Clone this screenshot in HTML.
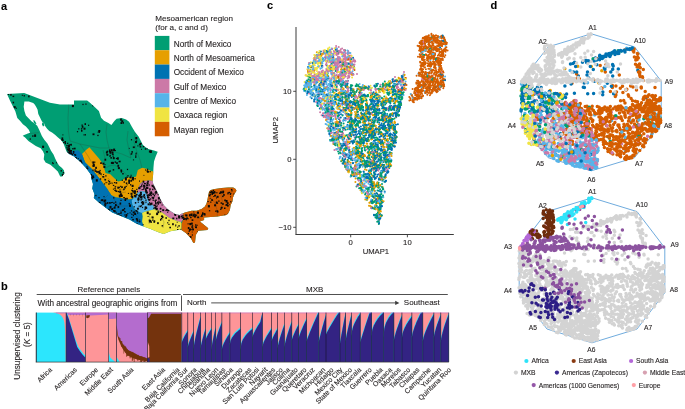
<!DOCTYPE html>
<html><head><meta charset="utf-8"><style>
html,body{margin:0;padding:0;background:#fff;width:685px;height:409px;overflow:hidden}
svg{display:block;will-change:transform}
text{font-family:"Liberation Sans", sans-serif;stroke:#231f20;stroke-width:0.18px;stroke-opacity:0.6}
</style></head><body>
<svg width="685" height="409" viewBox="0 0 685 409">
<text x="1.0" y="9.6" font-size="11" text-anchor="start" font-weight="bold" fill="#000" >a</text>
<text x="267.0" y="9.2" font-size="11" text-anchor="start" font-weight="bold" fill="#000" >c</text>
<text x="490.6" y="9.1" font-size="11" text-anchor="start" font-weight="bold" fill="#000" >d</text>
<text x="1.0" y="290.2" font-size="11" text-anchor="start" font-weight="bold" fill="#000" >b</text>
<text x="155.2" y="20.5" font-size="8.1" text-anchor="start" font-weight="normal" fill="#231f20" >Mesoamerican region</text>
<text x="155.2" y="30.1" font-size="8.1" text-anchor="start" font-weight="normal" fill="#231f20" >(for a, c and d)</text>
<rect x="154.8" y="35.90" width="14.6" height="14.38" fill="#009E73"/>
<text x="173.7" y="46.8" font-size="8.25" text-anchor="start" font-weight="normal" fill="#231f20" >North of Mexico</text>
<rect x="154.8" y="50.23" width="14.6" height="14.38" fill="#E69F00"/>
<text x="173.7" y="61.1" font-size="8.25" text-anchor="start" font-weight="normal" fill="#231f20" >North of Mesoamerica</text>
<rect x="154.8" y="64.56" width="14.6" height="14.38" fill="#0072B2"/>
<text x="173.7" y="75.4" font-size="8.25" text-anchor="start" font-weight="normal" fill="#231f20" >Occident of Mexico</text>
<rect x="154.8" y="78.89" width="14.6" height="14.38" fill="#CC79A7"/>
<text x="173.7" y="89.8" font-size="8.25" text-anchor="start" font-weight="normal" fill="#231f20" >Gulf of Mexico</text>
<rect x="154.8" y="93.22" width="14.6" height="14.38" fill="#56B4E9"/>
<text x="173.7" y="104.1" font-size="8.25" text-anchor="start" font-weight="normal" fill="#231f20" >Centre of Mexico</text>
<rect x="154.8" y="107.55" width="14.6" height="14.38" fill="#F0E442"/>
<text x="173.7" y="118.4" font-size="8.25" text-anchor="start" font-weight="normal" fill="#231f20" >Oaxaca region</text>
<rect x="154.8" y="121.88" width="14.6" height="14.38" fill="#D55E00"/>
<text x="173.7" y="132.7" font-size="8.25" text-anchor="start" font-weight="normal" fill="#231f20" >Mayan region</text>
<line x1="296" y1="27" x2="296" y2="234.6" stroke="#3a3a3a" stroke-width="1"/>
<line x1="295.5" y1="234.5" x2="453.8" y2="234.5" stroke="#3a3a3a" stroke-width="1"/>
<line x1="293.2" y1="91.3" x2="296" y2="91.3" stroke="#3a3a3a" stroke-width="0.9"/>
<text x="291.6" y="94.0" font-size="7.7" text-anchor="end" font-weight="normal" fill="#231f20" >10</text>
<line x1="293.2" y1="159.3" x2="296" y2="159.3" stroke="#3a3a3a" stroke-width="0.9"/>
<text x="291.6" y="162.0" font-size="7.7" text-anchor="end" font-weight="normal" fill="#231f20" >0</text>
<line x1="293.2" y1="227.3" x2="296" y2="227.3" stroke="#3a3a3a" stroke-width="0.9"/>
<text x="291.6" y="230.0" font-size="7.7" text-anchor="end" font-weight="normal" fill="#231f20" >&#8722;10</text>
<line x1="350.7" y1="234.5" x2="350.7" y2="237.3" stroke="#3a3a3a" stroke-width="0.9"/>
<text x="350.7" y="244.9" font-size="7.7" text-anchor="middle" font-weight="normal" fill="#231f20" >0</text>
<line x1="407.4" y1="234.5" x2="407.4" y2="237.3" stroke="#3a3a3a" stroke-width="0.9"/>
<text x="407.4" y="244.9" font-size="7.7" text-anchor="middle" font-weight="normal" fill="#231f20" >10</text>
<text x="375.9" y="253.9" font-size="7.7" text-anchor="middle" font-weight="normal" fill="#231f20" >UMAP1</text>
<text x="0" y="0" font-size="7.7" text-anchor="middle" fill="#231f20" transform="translate(278.0 130.3) rotate(-90)">UMAP2</text>
<defs><clipPath id="mx"><path d="M7.0,93.9 L24.2,93.1 L49.9,102.7 L60.0,104.5 L74.0,104.5 L74.0,100.6 L87.1,100.6 L89.4,102.3 L95.2,107.5 L98.9,111.1 L101.1,117.7 L104.0,120.7 L108.4,122.9 L111.4,125.1 L114.4,121.0 L116.6,118.8 L121.7,118.1 L126.1,119.5 L129.1,121.7 L132.0,126.9 L135.0,132.0 L138.6,136.4 L140.8,140.8 L143.0,145.2 L148.2,148.9 L154.0,150.4 L157.7,151.8 L155.5,157.0 L154.0,161.4 L153.5,167.3 L153.1,175.0 L152.5,179.9 L153.1,183.6 L155.6,188.4 L158.0,193.3 L160.5,199.4 L164.1,205.6 L167.8,209.2 L171.5,211.7 L175.0,214.1 L179.9,215.0 L180.8,214.1 L185.0,212.4 L191.6,210.8 L196.6,210.8 L201.6,209.1 L204.9,206.6 L206.6,203.3 L207.4,200.0 L208.3,195.0 L209.1,191.6 L210.7,190.0 L214.9,189.1 L221.6,188.0 L228.2,187.5 L233.2,187.5 L235.7,189.1 L236.5,190.8 L234.9,193.3 L233.2,196.6 L232.4,201.6 L230.7,204.9 L229.9,209.9 L228.2,213.3 L226.5,214.9 L217.4,216.6 L204.1,217.4 L204.1,219.9 L199.9,221.6 L208.3,228.2 L207.4,229.9 L198.3,230.7 L195.8,234.9 L195.0,242.4 L193.3,242.9 L190.9,238.2 L185.8,233.0 L180.7,229.6 L170.4,231.3 L163.6,233.9 L158.4,232.2 L149.9,228.8 L143.0,226.2 L136.2,223.6 L129.4,219.4 L120.8,215.9 L112.2,212.5 L105.4,207.4 L98.6,202.2 L93.8,198.0 L94.5,194.3 L92.3,188.4 L93.0,184.0 L91.6,179.6 L90.8,174.5 L86.4,168.6 L80.5,162.0 L73.7,156.3 L69.5,154.3 L66.5,151.5 L65.0,147.5 L63.5,143.5 L61.0,140.0 L58.0,137.5 L55.0,134.8 L52.0,132.5 L49.3,130.9 L47.1,128.7 L44.9,125.8 L44.2,123.6 L42.0,121.4 L40.5,118.5 L38.3,114.1 L37.6,109.7 L36.1,106.7 L34.7,104.5 L33.2,103.1 L28.8,101.6 L24.4,101.6 L23.7,106.7 L24.4,111.1 L25.9,115.5 L28.8,118.5 L31.7,121.4 L34.7,123.6 L37.2,125.8 L38.3,128.0 L39.5,130.5 L41.9,136.1 L44.3,139.8 L47.4,143.4 L49.2,147.1 L51.0,150.8 L53.5,154.4 L55.3,158.7 L57.2,162.4 L59.0,165.4 L62.0,167.9 L63.9,170.3 L64.5,173.4 L62.0,176.4 L60.2,176.4 L57.8,171.5 L54.1,167.9 L50.4,164.8 L45.6,162.4 L43.7,159.3 L44.3,154.4 L43.1,151.4 L40.7,148.3 L35.8,145.9 L32.1,143.4 L28.4,141.0 L25.1,137.5 L22.7,135.7 L24.2,134.9 L27.9,133.5 L30.1,132.7 L28.8,129.8 L25.9,126.5 L22.9,124.3 L20.0,120.7 L17.3,118.1 L15.4,111.5 L13.2,107.1 L10.3,101.2 Z"/></clipPath></defs>
<path d="M7.0,93.9 L24.2,93.1 L49.9,102.7 L60.0,104.5 L74.0,104.5 L74.0,100.6 L87.1,100.6 L89.4,102.3 L95.2,107.5 L98.9,111.1 L101.1,117.7 L104.0,120.7 L108.4,122.9 L111.4,125.1 L114.4,121.0 L116.6,118.8 L121.7,118.1 L126.1,119.5 L129.1,121.7 L132.0,126.9 L135.0,132.0 L138.6,136.4 L140.8,140.8 L143.0,145.2 L148.2,148.9 L154.0,150.4 L157.7,151.8 L155.5,157.0 L154.0,161.4 L153.5,167.3 L153.1,175.0 L152.5,179.9 L153.1,183.6 L155.6,188.4 L158.0,193.3 L160.5,199.4 L164.1,205.6 L167.8,209.2 L171.5,211.7 L175.0,214.1 L179.9,215.0 L180.8,214.1 L185.0,212.4 L191.6,210.8 L196.6,210.8 L201.6,209.1 L204.9,206.6 L206.6,203.3 L207.4,200.0 L208.3,195.0 L209.1,191.6 L210.7,190.0 L214.9,189.1 L221.6,188.0 L228.2,187.5 L233.2,187.5 L235.7,189.1 L236.5,190.8 L234.9,193.3 L233.2,196.6 L232.4,201.6 L230.7,204.9 L229.9,209.9 L228.2,213.3 L226.5,214.9 L217.4,216.6 L204.1,217.4 L204.1,219.9 L199.9,221.6 L208.3,228.2 L207.4,229.9 L198.3,230.7 L195.8,234.9 L195.0,242.4 L193.3,242.9 L190.9,238.2 L185.8,233.0 L180.7,229.6 L170.4,231.3 L163.6,233.9 L158.4,232.2 L149.9,228.8 L143.0,226.2 L136.2,223.6 L129.4,219.4 L120.8,215.9 L112.2,212.5 L105.4,207.4 L98.6,202.2 L93.8,198.0 L94.5,194.3 L92.3,188.4 L93.0,184.0 L91.6,179.6 L90.8,174.5 L86.4,168.6 L80.5,162.0 L73.7,156.3 L69.5,154.3 L66.5,151.5 L65.0,147.5 L63.5,143.5 L61.0,140.0 L58.0,137.5 L55.0,134.8 L52.0,132.5 L49.3,130.9 L47.1,128.7 L44.9,125.8 L44.2,123.6 L42.0,121.4 L40.5,118.5 L38.3,114.1 L37.6,109.7 L36.1,106.7 L34.7,104.5 L33.2,103.1 L28.8,101.6 L24.4,101.6 L23.7,106.7 L24.4,111.1 L25.9,115.5 L28.8,118.5 L31.7,121.4 L34.7,123.6 L37.2,125.8 L38.3,128.0 L39.5,130.5 L41.9,136.1 L44.3,139.8 L47.4,143.4 L49.2,147.1 L51.0,150.8 L53.5,154.4 L55.3,158.7 L57.2,162.4 L59.0,165.4 L62.0,167.9 L63.9,170.3 L64.5,173.4 L62.0,176.4 L60.2,176.4 L57.8,171.5 L54.1,167.9 L50.4,164.8 L45.6,162.4 L43.7,159.3 L44.3,154.4 L43.1,151.4 L40.7,148.3 L35.8,145.9 L32.1,143.4 L28.4,141.0 L25.1,137.5 L22.7,135.7 L24.2,134.9 L27.9,133.5 L30.1,132.7 L28.8,129.8 L25.9,126.5 L22.9,124.3 L20.0,120.7 L17.3,118.1 L15.4,111.5 L13.2,107.1 L10.3,101.2 Z" fill="#009E73"/>
<path d="M33.2,120.2 L34.6,120.6 L36.4,123.6 L35.8,124.6 L33.8,122.2 Z" fill="#009E73"/>
<path d="M42.2,122.6 L43.8,122.8 L44.3,125.8 L43,126.4 L42,124.6 Z" fill="#009E73"/>
<g clip-path="url(#mx)">
<path d="M82.0,154.0 L86.0,150.0 L89.4,147.3 L94.5,153.2 L99.0,158.5 L102.6,163.5 L104.5,169.0 L105.5,173.0 L110.3,174.3 L113.6,177.6 L118.0,181.5 L122.4,180.4 L124.6,178.2 L128.7,177.4 L133.0,177.0 L136.0,176.8 L137.8,169.9 L142.2,167.7 L146.6,168.8 L151.0,171.0 L156.0,172.1 L162.0,172.0 L162.0,181.0 L153.1,181.1 L149.4,180.5 L144.6,181.1 L140.9,182.9 L139.1,186.0 L138.4,188.4 L137.2,193.3 L134.2,197.0 L132.3,198.8 L129.9,199.4 L125.0,199.4 L121.3,198.0 L115.8,197.4 L111.4,195.2 L109.2,191.9 L107.0,188.6 L103.7,184.2 L100.4,179.8 L96.0,174.3 L91.6,168.8 L87.2,164.4 L85.0,162.2 Z" fill="#E69F00"/>
<path d="M64.0,146.0 L65.9,152.5 L72.0,151.0 L78.3,150.3 L82.0,154.0 L85.0,162.2 L87.2,164.4 L91.6,168.8 L96.0,174.3 L100.4,179.8 L103.7,184.2 L107.0,188.6 L109.2,191.9 L111.4,195.2 L115.8,197.4 L121.3,198.0 L125.0,199.4 L129.9,199.4 L132.3,198.8 L134.2,197.0 L131.7,200.7 L132.3,204.3 L134.2,208.6 L138.4,211.7 L142.1,212.9 L142.7,216.6 L142.1,221.5 L143.3,225.0 L143.5,240.0 L90.0,240.0 L80.0,200.0 L68.0,160.0 Z" fill="#0072B2"/>
<path d="M137.2,193.3 L140.9,190.9 L144.6,191.5 L146.4,193.3 L147.6,198.2 L149.4,203.1 L153.1,205.6 L155.0,208.6 L155.0,209.2 L149.4,210.5 L144.6,211.7 L142.1,212.9 L138.4,211.7 L134.2,208.6 L132.3,204.3 L131.7,200.7 L134.2,197.0 Z" fill="#56B4E9"/>
<path d="M162.0,181.0 L153.1,181.1 L149.4,180.5 L144.6,181.1 L140.9,182.9 L139.1,186.0 L138.4,188.4 L137.2,193.3 L140.9,190.9 L144.6,191.5 L146.4,193.3 L147.6,198.2 L149.4,203.1 L153.1,205.6 L155.0,208.6 L155.0,209.2 L159.2,210.5 L164.1,214.1 L169.0,217.8 L175.0,220.2 L181.0,222.3 L183.2,219.3 L183.2,214.2 L183.5,205.0 L175.0,200.0 Z" fill="#CC79A7"/>
<path d="M142.1,212.9 L144.6,211.7 L149.4,210.5 L155.0,209.2 L159.2,210.5 L164.1,214.1 L169.0,217.8 L175.0,220.2 L181.0,222.3 L181.6,223.5 L181.5,229.6 L180.5,240.0 L143.5,240.0 L143.3,225.0 L142.1,221.5 L142.7,216.6 Z" fill="#F0E442"/>
<path d="M183.5,205.0 L183.2,214.2 L183.2,219.3 L181.6,223.5 L181.5,229.6 L180.5,245.0 L250.0,245.0 L250.0,180.0 L190.0,180.0 Z" fill="#D55E00"/>
<polyline points="29.3,133.5 38.9,132.7" fill="none" stroke="#2f3d35" stroke-width="0.4" opacity="0.6"/>
<polyline points="68.8,103.8 68,118 68.5,132 70,141" fill="none" stroke="#2f3d35" stroke-width="0.4" opacity="0.6"/>
<polyline points="107,124 106,132 107,140 109,148" fill="none" stroke="#2f3d35" stroke-width="0.4" opacity="0.6"/>
<polyline points="70,141 80,144 90,146 100,148 109,148" fill="none" stroke="#2f3d35" stroke-width="0.4" opacity="0.6"/>
<polyline points="128,131 127,140 129,150 131,158" fill="none" stroke="#2f3d35" stroke-width="0.4" opacity="0.6"/>
<polyline points="135,132 134,142 137,152 140,160 142,168" fill="none" stroke="#2f3d35" stroke-width="0.4" opacity="0.6"/>
<polyline points="109,148 115,152 122,154 131,158" fill="none" stroke="#2f3d35" stroke-width="0.4" opacity="0.6"/>
<polyline points="80,144 84,150 88,156 92,163" fill="none" stroke="#2f3d35" stroke-width="0.4" opacity="0.6"/>
<polyline points="103,150 105,158 104,165" fill="none" stroke="#2f3d35" stroke-width="0.4" opacity="0.6"/>
<polyline points="104.5,169 109,166 114,165 118,167 124,172 128.7,177.4" fill="none" stroke="#2f3d35" stroke-width="0.4" opacity="0.6"/>
<polyline points="95,176 100,174 104,178 106,182" fill="none" stroke="#2f3d35" stroke-width="0.4" opacity="0.6"/>
<polyline points="108,178 111,182 114,186 119,187 124,191" fill="none" stroke="#2f3d35" stroke-width="0.4" opacity="0.6"/>
<polyline points="116,191 121,193 126,192" fill="none" stroke="#2f3d35" stroke-width="0.4" opacity="0.6"/>
<polyline points="113,197 116,203 121,206 128,206 132,204" fill="none" stroke="#2f3d35" stroke-width="0.4" opacity="0.6"/>
<polyline points="100,201 105,198 108,195" fill="none" stroke="#2f3d35" stroke-width="0.4" opacity="0.6"/>
<polyline points="134,208 136,215 140,220" fill="none" stroke="#2f3d35" stroke-width="0.4" opacity="0.6"/>
<polyline points="148,212 150,218 149,224" fill="none" stroke="#2f3d35" stroke-width="0.4" opacity="0.6"/>
<polyline points="161,216 164,222 163,228" fill="none" stroke="#2f3d35" stroke-width="0.4" opacity="0.6"/>
<polyline points="143,183 145,187 150,186" fill="none" stroke="#2f3d35" stroke-width="0.4" opacity="0.6"/>
<polyline points="139,196 143,199 146,204" fill="none" stroke="#2f3d35" stroke-width="0.4" opacity="0.6"/>
<polyline points="196,212 198,216 201,220" fill="none" stroke="#2f3d35" stroke-width="0.4" opacity="0.6"/>
<polyline points="208.5,196 212,199 215,203 217,210 217.4,216.6" fill="none" stroke="#2f3d35" stroke-width="0.4" opacity="0.6"/>
<polyline points="222,188 221,196 223,203 220,210" fill="none" stroke="#2f3d35" stroke-width="0.4" opacity="0.6"/>
<polyline points="190,225 194,226 198,230" fill="none" stroke="#2f3d35" stroke-width="0.4" opacity="0.6"/>
<rect x="81.7" y="125.7" width="1.7" height="2.1" fill="#0a0a0a"/>
<rect x="78.2" y="128.2" width="1.2" height="1.3" fill="#0a0a0a"/>
<rect x="88.0" y="124.7" width="1.2" height="1.2" fill="#0a0a0a"/>
<rect x="81.2" y="128.2" width="1.2" height="1.0" fill="#0a0a0a"/>
<rect x="84.5" y="123.2" width="1.5" height="1.8" fill="#0a0a0a"/>
<rect x="84.5" y="134.1" width="1.5" height="1.4" fill="#0a0a0a"/>
<rect x="80.9" y="128.4" width="1.0" height="1.1" fill="#0a0a0a"/>
<rect x="81.5" y="124.5" width="1.3" height="1.3" fill="#0a0a0a"/>
<rect x="81.0" y="129.9" width="1.5" height="1.8" fill="#0a0a0a"/>
<rect x="76.9" y="131.0" width="1.2" height="1.3" fill="#0a0a0a"/>
<rect x="83.5" y="127.7" width="2.0" height="2.0" fill="#0a0a0a"/>
<rect x="83.4" y="134.4" width="1.0" height="1.0" fill="#0a0a0a"/>
<rect x="110.4" y="157.0" width="1.5" height="1.7" fill="#0a0a0a"/>
<rect x="110.7" y="149.2" width="2.0" height="2.2" fill="#0a0a0a"/>
<rect x="112.9" y="157.0" width="1.7" height="1.6" fill="#0a0a0a"/>
<rect x="113.1" y="148.6" width="2.0" height="2.5" fill="#0a0a0a"/>
<rect x="111.7" y="151.7" width="1.7" height="1.7" fill="#0a0a0a"/>
<rect x="114.9" y="150.0" width="1.0" height="1.1" fill="#0a0a0a"/>
<rect x="108.9" y="149.4" width="1.5" height="1.8" fill="#0a0a0a"/>
<rect x="111.8" y="153.5" width="1.2" height="1.4" fill="#0a0a0a"/>
<rect x="135.7" y="152.6" width="1.2" height="1.0" fill="#0a0a0a"/>
<rect x="135.0" y="155.4" width="1.5" height="1.3" fill="#0a0a0a"/>
<rect x="131.1" y="153.1" width="1.3" height="1.3" fill="#0a0a0a"/>
<rect x="135.1" y="156.8" width="1.3" height="1.1" fill="#0a0a0a"/>
<rect x="135.4" y="153.4" width="1.2" height="1.2" fill="#0a0a0a"/>
<rect x="130.5" y="153.5" width="1.3" height="1.2" fill="#0a0a0a"/>
<rect x="132.9" y="159.4" width="1.2" height="1.0" fill="#0a0a0a"/>
<rect x="131.4" y="151.1" width="1.5" height="1.7" fill="#0a0a0a"/>
<rect x="98.6" y="131.7" width="1.3" height="1.3" fill="#0a0a0a"/>
<rect x="97.3" y="134.8" width="1.3" height="1.3" fill="#0a0a0a"/>
<rect x="98.3" y="130.0" width="2.0" height="2.0" fill="#0a0a0a"/>
<rect x="92.5" y="133.4" width="2.0" height="1.8" fill="#0a0a0a"/>
<rect x="97.6" y="131.7" width="1.0" height="0.9" fill="#0a0a0a"/>
<rect x="121.3" y="120.3" width="2.0" height="1.8" fill="#0a0a0a"/>
<rect x="122.3" y="122.1" width="1.7" height="1.6" fill="#0a0a0a"/>
<rect x="120.5" y="122.1" width="1.5" height="1.9" fill="#0a0a0a"/>
<rect x="120.1" y="118.5" width="1.7" height="2.2" fill="#0a0a0a"/>
<rect x="139.7" y="142.8" width="2.0" height="1.7" fill="#0a0a0a"/>
<rect x="137.4" y="145.3" width="1.0" height="1.2" fill="#0a0a0a"/>
<rect x="128.8" y="147.9" width="1.0" height="0.8" fill="#0a0a0a"/>
<rect x="132.8" y="146.4" width="2.0" height="1.7" fill="#0a0a0a"/>
<rect x="138.9" y="143.8" width="2.0" height="1.7" fill="#0a0a0a"/>
<rect x="144.8" y="148.2" width="1.5" height="1.5" fill="#0a0a0a"/>
<rect x="149.8" y="150.4" width="2.0" height="2.6" fill="#0a0a0a"/>
<rect x="150.3" y="151.1" width="1.3" height="1.2" fill="#0a0a0a"/>
<rect x="150.4" y="150.6" width="1.2" height="1.4" fill="#0a0a0a"/>
<rect x="148.9" y="150.5" width="1.7" height="2.0" fill="#0a0a0a"/>
<rect x="7.9" y="94.0" width="1.2" height="1.0" fill="#0a0a0a"/>
<rect x="10.2" y="93.8" width="1.5" height="1.9" fill="#0a0a0a"/>
<rect x="12.6" y="101.7" width="1.5" height="1.7" fill="#0a0a0a"/>
<rect x="12.5" y="95.7" width="1.7" height="1.4" fill="#0a0a0a"/>
<rect x="13.7" y="106.1" width="2.0" height="2.1" fill="#0a0a0a"/>
<rect x="15.7" y="107.7" width="1.2" height="1.1" fill="#0a0a0a"/>
<rect x="32.1" y="135.4" width="1.5" height="1.3" fill="#0a0a0a"/>
<rect x="34.1" y="134.4" width="2.0" height="2.5" fill="#0a0a0a"/>
<rect x="29.6" y="138.4" width="1.3" height="1.3" fill="#0a0a0a"/>
<rect x="46.5" y="151.1" width="1.3" height="1.5" fill="#0a0a0a"/>
<rect x="46.2" y="151.3" width="1.2" height="1.1" fill="#0a0a0a"/>
<rect x="42.1" y="145.7" width="2.0" height="2.2" fill="#0a0a0a"/>
<rect x="52.6" y="162.7" width="1.2" height="1.4" fill="#0a0a0a"/>
<rect x="56.0" y="162.3" width="1.0" height="1.0" fill="#0a0a0a"/>
<rect x="52.0" y="162.2" width="1.0" height="1.3" fill="#0a0a0a"/>
<rect x="62.2" y="175.8" width="2.0" height="2.3" fill="#0a0a0a"/>
<rect x="60.6" y="170.0" width="1.3" height="1.6" fill="#0a0a0a"/>
<rect x="61.8" y="173.9" width="2.0" height="2.1" fill="#0a0a0a"/>
<rect x="62.8" y="172.0" width="1.7" height="1.4" fill="#0a0a0a"/>
<rect x="21.8" y="94.7" width="1.0" height="1.2" fill="#0a0a0a"/>
<rect x="23.6" y="95.1" width="1.3" height="1.4" fill="#0a0a0a"/>
<rect x="28.1" y="95.5" width="1.5" height="1.8" fill="#0a0a0a"/>
<rect x="64.8" y="142.7" width="1.3" height="1.6" fill="#0a0a0a"/>
<rect x="62.6" y="139.4" width="1.0" height="1.1" fill="#0a0a0a"/>
<rect x="64.5" y="141.0" width="1.5" height="1.8" fill="#0a0a0a"/>
<rect x="62.4" y="134.4" width="1.0" height="1.0" fill="#0a0a0a"/>
<rect x="62.5" y="139.8" width="1.2" height="1.1" fill="#0a0a0a"/>
<rect x="61.5" y="137.4" width="1.7" height="2.0" fill="#0a0a0a"/>
<rect x="61.3" y="139.0" width="1.7" height="2.0" fill="#0a0a0a"/>
<rect x="62.9" y="141.9" width="1.7" height="1.5" fill="#0a0a0a"/>
<rect x="66.8" y="148.8" width="1.5" height="1.5" fill="#0a0a0a"/>
<rect x="66.5" y="145.2" width="1.0" height="1.1" fill="#0a0a0a"/>
<rect x="66.1" y="147.3" width="1.3" height="1.1" fill="#0a0a0a"/>
<rect x="68.0" y="144.7" width="2.0" height="2.5" fill="#0a0a0a"/>
<rect x="69.5" y="144.0" width="1.3" height="1.2" fill="#0a0a0a"/>
<rect x="67.1" y="142.7" width="1.2" height="1.4" fill="#0a0a0a"/>
<rect x="67.4" y="147.1" width="1.5" height="1.8" fill="#0a0a0a"/>
<rect x="66.4" y="145.1" width="1.2" height="1.2" fill="#0a0a0a"/>
<rect x="67.8" y="146.1" width="1.0" height="0.8" fill="#0a0a0a"/>
<rect x="70.4" y="143.8" width="1.5" height="1.9" fill="#0a0a0a"/>
<rect x="134.5" y="178.1" width="1.2" height="1.3" fill="#0a0a0a"/>
<rect x="132.0" y="176.9" width="2.0" height="2.2" fill="#0a0a0a"/>
<rect x="127.4" y="175.0" width="1.2" height="1.4" fill="#0a0a0a"/>
<rect x="126.4" y="176.5" width="1.3" height="1.5" fill="#0a0a0a"/>
<rect x="132.6" y="178.9" width="1.3" height="1.7" fill="#0a0a0a"/>
<rect x="124.9" y="177.9" width="2.0" height="2.5" fill="#0a0a0a"/>
<rect x="130.5" y="174.7" width="1.2" height="1.1" fill="#0a0a0a"/>
<rect x="131.6" y="178.4" width="1.5" height="1.8" fill="#0a0a0a"/>
<rect x="130.1" y="176.3" width="1.5" height="1.4" fill="#0a0a0a"/>
<rect x="128.2" y="179.5" width="2.0" height="2.5" fill="#0a0a0a"/>
<rect x="145.1" y="169.4" width="1.0" height="1.2" fill="#0a0a0a"/>
<rect x="143.4" y="174.9" width="1.0" height="0.8" fill="#0a0a0a"/>
<rect x="146.9" y="168.7" width="1.3" height="1.2" fill="#0a0a0a"/>
<rect x="146.6" y="170.2" width="1.7" height="1.5" fill="#0a0a0a"/>
<rect x="149.5" y="171.1" width="1.3" height="1.2" fill="#0a0a0a"/>
<rect x="146.9" y="171.0" width="2.0" height="1.7" fill="#0a0a0a"/>
<rect x="139.6" y="196.7" width="1.2" height="1.3" fill="#0a0a0a"/>
<rect x="136.7" y="190.9" width="1.3" height="1.4" fill="#0a0a0a"/>
<rect x="139.9" y="191.8" width="1.7" height="1.8" fill="#0a0a0a"/>
<rect x="144.2" y="194.0" width="1.0" height="0.8" fill="#0a0a0a"/>
<rect x="133.6" y="206.1" width="1.2" height="1.4" fill="#0a0a0a"/>
<rect x="140.4" y="195.7" width="2.0" height="2.5" fill="#0a0a0a"/>
<rect x="145.4" y="201.6" width="1.2" height="1.2" fill="#0a0a0a"/>
<rect x="139.6" y="193.6" width="1.0" height="1.1" fill="#0a0a0a"/>
<rect x="138.5" y="205.7" width="1.0" height="1.0" fill="#0a0a0a"/>
<rect x="140.3" y="191.9" width="1.5" height="1.5" fill="#0a0a0a"/>
<rect x="147.6" y="195.0" width="1.0" height="1.1" fill="#0a0a0a"/>
<rect x="139.6" y="205.5" width="2.0" height="1.7" fill="#0a0a0a"/>
<rect x="140.3" y="199.2" width="1.5" height="1.3" fill="#0a0a0a"/>
<rect x="147.6" y="203.4" width="1.7" height="1.9" fill="#0a0a0a"/>
<rect x="141.8" y="203.4" width="1.5" height="1.3" fill="#0a0a0a"/>
<rect x="142.2" y="202.1" width="2.0" height="2.6" fill="#0a0a0a"/>
<rect x="144.6" y="206.4" width="2.0" height="2.2" fill="#0a0a0a"/>
<rect x="139.6" y="186.2" width="1.0" height="1.2" fill="#0a0a0a"/>
<rect x="139.4" y="194.2" width="1.7" height="2.0" fill="#0a0a0a"/>
<rect x="141.2" y="198.5" width="1.2" height="1.2" fill="#0a0a0a"/>
<rect x="130.7" y="195.8" width="1.0" height="1.2" fill="#0a0a0a"/>
<rect x="140.9" y="201.8" width="1.0" height="1.2" fill="#0a0a0a"/>
<rect x="141.8" y="201.0" width="1.7" height="1.9" fill="#0a0a0a"/>
<rect x="143.3" y="186.7" width="1.0" height="1.1" fill="#0a0a0a"/>
<rect x="134.8" y="202.0" width="1.5" height="1.7" fill="#0a0a0a"/>
<rect x="138.4" y="195.0" width="2.0" height="1.9" fill="#0a0a0a"/>
<rect x="134.9" y="195.4" width="1.0" height="0.9" fill="#0a0a0a"/>
<rect x="138.5" y="194.7" width="1.2" height="1.4" fill="#0a0a0a"/>
<rect x="150.5" y="202.6" width="2.0" height="2.2" fill="#0a0a0a"/>
<rect x="139.4" y="194.9" width="1.2" height="1.2" fill="#0a0a0a"/>
<rect x="137.5" y="198.3" width="2.0" height="1.8" fill="#0a0a0a"/>
<rect x="140.1" y="193.5" width="1.7" height="1.7" fill="#0a0a0a"/>
<rect x="155.3" y="191.2" width="2.0" height="2.5" fill="#0a0a0a"/>
<rect x="140.4" y="193.6" width="1.3" height="1.2" fill="#0a0a0a"/>
<rect x="135.7" y="194.0" width="1.2" height="1.5" fill="#0a0a0a"/>
<rect x="132.8" y="191.7" width="1.0" height="0.9" fill="#0a0a0a"/>
<rect x="149.3" y="203.1" width="2.0" height="2.3" fill="#0a0a0a"/>
<rect x="136.3" y="193.9" width="1.3" height="1.5" fill="#0a0a0a"/>
<rect x="134.0" y="190.6" width="2.0" height="1.7" fill="#0a0a0a"/>
<rect x="134.5" y="195.6" width="2.0" height="1.9" fill="#0a0a0a"/>
<rect x="143.0" y="188.3" width="1.3" height="1.5" fill="#0a0a0a"/>
<rect x="138.2" y="187.2" width="1.7" height="1.9" fill="#0a0a0a"/>
<rect x="144.2" y="196.3" width="1.2" height="1.1" fill="#0a0a0a"/>
<rect x="128.6" y="202.9" width="1.3" height="1.5" fill="#0a0a0a"/>
<rect x="131.2" y="194.8" width="1.2" height="1.4" fill="#0a0a0a"/>
<rect x="145.3" y="199.5" width="1.3" height="1.4" fill="#0a0a0a"/>
<rect x="137.7" y="197.2" width="1.5" height="1.9" fill="#0a0a0a"/>
<rect x="137.7" y="201.6" width="1.2" height="1.2" fill="#0a0a0a"/>
<rect x="142.1" y="206.8" width="1.0" height="1.3" fill="#0a0a0a"/>
<rect x="141.5" y="201.9" width="1.5" height="1.8" fill="#0a0a0a"/>
<rect x="131.4" y="196.3" width="1.7" height="1.8" fill="#0a0a0a"/>
<rect x="152.7" y="197.9" width="1.3" height="1.2" fill="#0a0a0a"/>
<rect x="140.1" y="196.4" width="2.0" height="2.0" fill="#0a0a0a"/>
<rect x="141.2" y="205.1" width="1.0" height="0.9" fill="#0a0a0a"/>
<rect x="142.8" y="196.3" width="1.0" height="1.2" fill="#0a0a0a"/>
<rect x="154.6" y="207.3" width="1.5" height="1.8" fill="#0a0a0a"/>
<rect x="147.2" y="180.7" width="1.7" height="1.4" fill="#0a0a0a"/>
<rect x="152.6" y="199.6" width="1.2" height="1.3" fill="#0a0a0a"/>
<rect x="150.4" y="194.9" width="1.5" height="1.3" fill="#0a0a0a"/>
<rect x="153.8" y="194.9" width="1.3" height="1.6" fill="#0a0a0a"/>
<rect x="154.6" y="193.4" width="1.2" height="1.3" fill="#0a0a0a"/>
<rect x="144.5" y="197.8" width="1.2" height="1.1" fill="#0a0a0a"/>
<rect x="153.8" y="187.6" width="1.5" height="1.7" fill="#0a0a0a"/>
<rect x="146.1" y="184.3" width="2.0" height="1.9" fill="#0a0a0a"/>
<rect x="152.4" y="193.4" width="1.5" height="1.7" fill="#0a0a0a"/>
<rect x="150.4" y="221.3" width="1.5" height="1.6" fill="#0a0a0a"/>
<rect x="150.6" y="191.3" width="1.3" height="1.3" fill="#0a0a0a"/>
<rect x="146.7" y="211.5" width="2.0" height="2.6" fill="#0a0a0a"/>
<rect x="144.4" y="188.1" width="1.3" height="1.1" fill="#0a0a0a"/>
<rect x="154.7" y="189.1" width="1.0" height="1.0" fill="#0a0a0a"/>
<rect x="142.6" y="180.6" width="1.7" height="2.1" fill="#0a0a0a"/>
<rect x="153.2" y="186.3" width="1.5" height="1.8" fill="#0a0a0a"/>
<rect x="147.0" y="196.1" width="1.7" height="2.1" fill="#0a0a0a"/>
<rect x="145.6" y="192.2" width="1.2" height="1.2" fill="#0a0a0a"/>
<rect x="144.1" y="182.9" width="1.5" height="1.4" fill="#0a0a0a"/>
<rect x="152.1" y="188.7" width="1.3" height="1.5" fill="#0a0a0a"/>
<rect x="152.1" y="185.3" width="1.7" height="1.8" fill="#0a0a0a"/>
<rect x="149.1" y="190.3" width="1.3" height="1.3" fill="#0a0a0a"/>
<rect x="145.0" y="188.7" width="1.5" height="1.4" fill="#0a0a0a"/>
<rect x="143.3" y="194.2" width="1.7" height="2.0" fill="#0a0a0a"/>
<rect x="148.4" y="194.3" width="2.0" height="1.7" fill="#0a0a0a"/>
<rect x="151.6" y="196.8" width="1.5" height="1.4" fill="#0a0a0a"/>
<rect x="150.3" y="191.9" width="2.0" height="2.4" fill="#0a0a0a"/>
<rect x="155.3" y="199.5" width="1.5" height="1.4" fill="#0a0a0a"/>
<rect x="143.0" y="185.1" width="1.5" height="1.3" fill="#0a0a0a"/>
<rect x="148.6" y="198.8" width="1.7" height="2.0" fill="#0a0a0a"/>
<rect x="142.5" y="195.7" width="1.0" height="1.2" fill="#0a0a0a"/>
<rect x="143.9" y="196.9" width="1.2" height="1.3" fill="#0a0a0a"/>
<rect x="152.6" y="196.8" width="1.7" height="1.5" fill="#0a0a0a"/>
<rect x="148.5" y="184.3" width="1.3" height="1.4" fill="#0a0a0a"/>
<rect x="157.6" y="193.8" width="1.3" height="1.3" fill="#0a0a0a"/>
<rect x="150.1" y="198.3" width="1.2" height="1.3" fill="#0a0a0a"/>
<rect x="155.4" y="190.9" width="1.5" height="1.5" fill="#0a0a0a"/>
<rect x="144.4" y="208.6" width="1.3" height="1.4" fill="#0a0a0a"/>
<rect x="153.2" y="207.6" width="1.3" height="1.3" fill="#0a0a0a"/>
<rect x="146.7" y="187.1" width="1.7" height="1.9" fill="#0a0a0a"/>
<rect x="154.7" y="191.8" width="1.2" height="1.2" fill="#0a0a0a"/>
<rect x="148.7" y="196.8" width="1.0" height="0.8" fill="#0a0a0a"/>
<rect x="145.2" y="206.9" width="2.0" height="2.0" fill="#0a0a0a"/>
<rect x="147.7" y="198.7" width="1.3" height="1.1" fill="#0a0a0a"/>
<rect x="145.8" y="190.1" width="1.3" height="1.2" fill="#0a0a0a"/>
<rect x="146.6" y="182.1" width="2.0" height="2.2" fill="#0a0a0a"/>
<rect x="141.7" y="183.4" width="1.0" height="1.3" fill="#0a0a0a"/>
<rect x="140.4" y="186.0" width="1.2" height="1.4" fill="#0a0a0a"/>
<rect x="146.1" y="187.3" width="1.3" height="1.7" fill="#0a0a0a"/>
<rect x="141.4" y="186.0" width="1.0" height="0.8" fill="#0a0a0a"/>
<rect x="141.6" y="189.0" width="1.2" height="1.1" fill="#0a0a0a"/>
<rect x="144.3" y="182.9" width="1.0" height="1.1" fill="#0a0a0a"/>
<rect x="139.0" y="180.5" width="1.0" height="1.2" fill="#0a0a0a"/>
<rect x="151.5" y="184.8" width="1.7" height="1.8" fill="#0a0a0a"/>
<rect x="141.1" y="184.7" width="1.2" height="1.5" fill="#0a0a0a"/>
<rect x="139.0" y="187.3" width="1.5" height="1.8" fill="#0a0a0a"/>
<rect x="149.2" y="188.3" width="1.5" height="1.7" fill="#0a0a0a"/>
<rect x="144.8" y="183.2" width="1.0" height="0.9" fill="#0a0a0a"/>
<rect x="155.5" y="205.9" width="1.3" height="1.6" fill="#0a0a0a"/>
<rect x="158.7" y="197.7" width="1.0" height="1.1" fill="#0a0a0a"/>
<rect x="161.6" y="204.4" width="1.0" height="1.2" fill="#0a0a0a"/>
<rect x="157.9" y="197.1" width="2.0" height="2.4" fill="#0a0a0a"/>
<rect x="158.0" y="202.5" width="1.0" height="1.3" fill="#0a0a0a"/>
<rect x="158.3" y="200.6" width="1.2" height="1.2" fill="#0a0a0a"/>
<rect x="157.0" y="201.6" width="1.7" height="2.0" fill="#0a0a0a"/>
<rect x="155.3" y="205.6" width="1.0" height="0.9" fill="#0a0a0a"/>
<rect x="160.1" y="198.7" width="1.7" height="2.0" fill="#0a0a0a"/>
<rect x="155.1" y="202.9" width="1.5" height="1.7" fill="#0a0a0a"/>
<rect x="167.2" y="209.5" width="2.0" height="1.8" fill="#0a0a0a"/>
<rect x="161.0" y="215.4" width="2.0" height="1.7" fill="#0a0a0a"/>
<rect x="159.7" y="207.9" width="1.7" height="1.7" fill="#0a0a0a"/>
<rect x="165.3" y="210.1" width="1.2" height="1.0" fill="#0a0a0a"/>
<rect x="167.2" y="211.8" width="1.0" height="1.1" fill="#0a0a0a"/>
<rect x="162.2" y="209.2" width="2.0" height="1.9" fill="#0a0a0a"/>
<rect x="160.1" y="207.8" width="1.0" height="1.0" fill="#0a0a0a"/>
<rect x="166.0" y="209.1" width="1.7" height="1.7" fill="#0a0a0a"/>
<rect x="185.5" y="214.4" width="2.0" height="2.1" fill="#0a0a0a"/>
<rect x="181.7" y="216.2" width="1.0" height="1.0" fill="#0a0a0a"/>
<rect x="193.3" y="211.4" width="1.0" height="1.0" fill="#0a0a0a"/>
<rect x="185.6" y="218.7" width="1.3" height="1.6" fill="#0a0a0a"/>
<rect x="187.8" y="218.3" width="1.0" height="1.0" fill="#0a0a0a"/>
<rect x="180.8" y="215.5" width="1.3" height="1.5" fill="#0a0a0a"/>
<rect x="193.3" y="213.5" width="1.5" height="1.7" fill="#0a0a0a"/>
<rect x="186.5" y="217.7" width="1.3" height="1.5" fill="#0a0a0a"/>
<rect x="172.3" y="217.5" width="2.0" height="1.7" fill="#0a0a0a"/>
<rect x="183.9" y="218.3" width="1.3" height="1.4" fill="#0a0a0a"/>
<rect x="184.7" y="218.1" width="1.5" height="1.3" fill="#0a0a0a"/>
<rect x="190.2" y="217.3" width="1.0" height="0.8" fill="#0a0a0a"/>
<rect x="183.8" y="217.6" width="1.0" height="0.9" fill="#0a0a0a"/>
<rect x="178.0" y="215.4" width="2.0" height="2.3" fill="#0a0a0a"/>
<rect x="182.3" y="214.9" width="1.2" height="1.4" fill="#0a0a0a"/>
<rect x="184.8" y="214.6" width="1.2" height="1.0" fill="#0a0a0a"/>
<rect x="186.2" y="217.5" width="1.7" height="1.6" fill="#0a0a0a"/>
<rect x="191.0" y="214.1" width="1.0" height="1.2" fill="#0a0a0a"/>
<rect x="191.6" y="219.3" width="1.7" height="1.6" fill="#0a0a0a"/>
<rect x="190.3" y="216.7" width="1.2" height="1.5" fill="#0a0a0a"/>
<rect x="183.0" y="218.4" width="1.7" height="1.6" fill="#0a0a0a"/>
<rect x="181.5" y="216.8" width="2.0" height="1.9" fill="#0a0a0a"/>
<rect x="192.9" y="215.0" width="1.2" height="1.2" fill="#0a0a0a"/>
<rect x="188.9" y="214.2" width="1.7" height="2.2" fill="#0a0a0a"/>
<rect x="182.7" y="216.8" width="1.3" height="1.5" fill="#0a0a0a"/>
<rect x="178.3" y="216.0" width="2.0" height="2.6" fill="#0a0a0a"/>
<rect x="194.1" y="215.9" width="1.2" height="1.4" fill="#0a0a0a"/>
<rect x="193.3" y="214.3" width="1.2" height="1.5" fill="#0a0a0a"/>
<rect x="192.6" y="215.9" width="1.0" height="1.0" fill="#0a0a0a"/>
<rect x="200.5" y="216.1" width="1.2" height="1.0" fill="#0a0a0a"/>
<rect x="197.0" y="211.6" width="2.0" height="2.2" fill="#0a0a0a"/>
<rect x="196.0" y="214.8" width="1.0" height="0.9" fill="#0a0a0a"/>
<rect x="194.2" y="215.3" width="2.0" height="2.2" fill="#0a0a0a"/>
<rect x="194.8" y="214.2" width="1.5" height="1.6" fill="#0a0a0a"/>
<rect x="189.6" y="214.1" width="1.0" height="1.3" fill="#0a0a0a"/>
<rect x="190.6" y="213.5" width="2.0" height="2.5" fill="#0a0a0a"/>
<rect x="188.6" y="230.5" width="1.2" height="1.4" fill="#0a0a0a"/>
<rect x="189.0" y="229.0" width="1.5" height="1.7" fill="#0a0a0a"/>
<rect x="191.8" y="234.4" width="1.2" height="1.2" fill="#0a0a0a"/>
<rect x="195.1" y="224.3" width="1.2" height="1.5" fill="#0a0a0a"/>
<rect x="189.4" y="228.4" width="1.7" height="2.0" fill="#0a0a0a"/>
<rect x="191.3" y="229.0" width="1.3" height="1.2" fill="#0a0a0a"/>
<rect x="187.8" y="227.0" width="1.7" height="2.2" fill="#0a0a0a"/>
<rect x="189.3" y="223.0" width="1.7" height="2.1" fill="#0a0a0a"/>
<rect x="187.7" y="232.9" width="1.3" height="1.4" fill="#0a0a0a"/>
<rect x="191.4" y="226.2" width="1.3" height="1.7" fill="#0a0a0a"/>
<rect x="197.5" y="231.2" width="1.3" height="1.1" fill="#0a0a0a"/>
<rect x="189.5" y="236.1" width="2.0" height="2.2" fill="#0a0a0a"/>
<rect x="190.8" y="222.6" width="2.0" height="2.1" fill="#0a0a0a"/>
<rect x="191.7" y="231.6" width="1.0" height="0.8" fill="#0a0a0a"/>
<rect x="196.4" y="224.7" width="1.3" height="1.1" fill="#0a0a0a"/>
<rect x="192.3" y="228.6" width="1.7" height="1.8" fill="#0a0a0a"/>
<rect x="191.8" y="227.4" width="1.5" height="1.2" fill="#0a0a0a"/>
<rect x="187.5" y="223.3" width="1.2" height="1.1" fill="#0a0a0a"/>
<rect x="191.8" y="225.2" width="1.3" height="1.4" fill="#0a0a0a"/>
<rect x="195.0" y="226.3" width="2.0" height="1.8" fill="#0a0a0a"/>
<rect x="213.7" y="191.1" width="1.7" height="2.0" fill="#0a0a0a"/>
<rect x="219.1" y="192.9" width="1.2" height="1.1" fill="#0a0a0a"/>
<rect x="211.9" y="191.6" width="1.3" height="1.6" fill="#0a0a0a"/>
<rect x="213.2" y="191.6" width="1.2" height="1.4" fill="#0a0a0a"/>
<rect x="211.5" y="193.5" width="1.5" height="1.4" fill="#0a0a0a"/>
<rect x="212.6" y="192.9" width="1.2" height="1.0" fill="#0a0a0a"/>
<rect x="211.9" y="192.3" width="1.2" height="1.5" fill="#0a0a0a"/>
<rect x="210.1" y="194.1" width="1.0" height="1.0" fill="#0a0a0a"/>
<rect x="216.6" y="195.8" width="2.0" height="2.0" fill="#0a0a0a"/>
<rect x="220.2" y="191.1" width="1.5" height="1.7" fill="#0a0a0a"/>
<rect x="220.7" y="191.9" width="1.5" height="1.4" fill="#0a0a0a"/>
<rect x="214.1" y="192.1" width="1.3" height="1.3" fill="#0a0a0a"/>
<rect x="212.0" y="193.0" width="1.2" height="1.4" fill="#0a0a0a"/>
<rect x="214.1" y="195.1" width="1.7" height="1.4" fill="#0a0a0a"/>
<rect x="212.8" y="189.8" width="1.3" height="1.2" fill="#0a0a0a"/>
<rect x="211.6" y="192.8" width="1.2" height="1.1" fill="#0a0a0a"/>
<rect x="216.2" y="192.2" width="1.3" height="1.1" fill="#0a0a0a"/>
<rect x="209.4" y="191.8" width="1.7" height="1.6" fill="#0a0a0a"/>
<rect x="210.6" y="190.7" width="2.0" height="2.2" fill="#0a0a0a"/>
<rect x="212.8" y="192.5" width="1.0" height="1.3" fill="#0a0a0a"/>
<rect x="214.5" y="194.6" width="1.2" height="1.5" fill="#0a0a0a"/>
<rect x="213.5" y="191.6" width="1.5" height="1.6" fill="#0a0a0a"/>
<rect x="209.7" y="198.0" width="1.0" height="0.8" fill="#0a0a0a"/>
<rect x="213.2" y="196.1" width="1.0" height="0.9" fill="#0a0a0a"/>
<rect x="211.6" y="199.3" width="1.3" height="1.6" fill="#0a0a0a"/>
<rect x="207.9" y="205.1" width="2.0" height="2.3" fill="#0a0a0a"/>
<rect x="216.0" y="197.5" width="1.0" height="1.0" fill="#0a0a0a"/>
<rect x="208.8" y="194.4" width="1.7" height="2.0" fill="#0a0a0a"/>
<rect x="211.1" y="199.4" width="1.2" height="1.2" fill="#0a0a0a"/>
<rect x="214.1" y="204.3" width="2.0" height="2.0" fill="#0a0a0a"/>
<rect x="207.4" y="201.0" width="1.3" height="1.1" fill="#0a0a0a"/>
<rect x="210.2" y="201.5" width="1.2" height="1.3" fill="#0a0a0a"/>
<rect x="216.8" y="202.5" width="1.3" height="1.2" fill="#0a0a0a"/>
<rect x="215.8" y="201.5" width="1.7" height="2.2" fill="#0a0a0a"/>
<rect x="221.4" y="206.8" width="1.2" height="1.0" fill="#0a0a0a"/>
<rect x="219.6" y="192.0" width="1.5" height="1.7" fill="#0a0a0a"/>
<rect x="226.2" y="203.9" width="1.5" height="1.4" fill="#0a0a0a"/>
<rect x="227.5" y="213.5" width="1.5" height="1.4" fill="#0a0a0a"/>
<rect x="220.7" y="206.9" width="1.7" height="1.9" fill="#0a0a0a"/>
<rect x="225.6" y="200.0" width="2.0" height="2.6" fill="#0a0a0a"/>
<rect x="228.6" y="191.8" width="1.5" height="1.5" fill="#0a0a0a"/>
<rect x="225.4" y="204.3" width="1.7" height="1.5" fill="#0a0a0a"/>
<rect x="228.8" y="204.3" width="1.0" height="0.9" fill="#0a0a0a"/>
<rect x="223.1" y="194.1" width="1.7" height="1.7" fill="#0a0a0a"/>
<rect x="222.4" y="190.6" width="1.7" height="1.4" fill="#0a0a0a"/>
<rect x="227.0" y="205.0" width="1.7" height="1.6" fill="#0a0a0a"/>
<rect x="230.1" y="201.2" width="1.3" height="1.2" fill="#0a0a0a"/>
<rect x="224.0" y="207.5" width="1.5" height="1.5" fill="#0a0a0a"/>
<rect x="226.9" y="202.2" width="1.7" height="2.0" fill="#0a0a0a"/>
<rect x="218.3" y="200.4" width="1.2" height="1.4" fill="#0a0a0a"/>
<rect x="224.2" y="199.5" width="1.7" height="1.7" fill="#0a0a0a"/>
<rect x="222.1" y="191.5" width="2.0" height="1.9" fill="#0a0a0a"/>
<rect x="233.3" y="193.5" width="1.0" height="1.0" fill="#0a0a0a"/>
<rect x="230.1" y="192.8" width="1.3" height="1.3" fill="#0a0a0a"/>
<rect x="227.5" y="192.1" width="1.3" height="1.5" fill="#0a0a0a"/>
<rect x="231.4" y="190.3" width="1.2" height="1.2" fill="#0a0a0a"/>
<rect x="230.1" y="196.3" width="1.0" height="1.0" fill="#0a0a0a"/>
<rect x="222.1" y="195.6" width="1.5" height="1.5" fill="#0a0a0a"/>
<rect x="233.2" y="196.0" width="1.0" height="1.0" fill="#0a0a0a"/>
<rect x="229.8" y="194.0" width="1.2" height="1.0" fill="#0a0a0a"/>
<rect x="230.9" y="188.9" width="1.5" height="1.4" fill="#0a0a0a"/>
<rect x="227.3" y="193.3" width="1.3" height="1.1" fill="#0a0a0a"/>
<rect x="208.9" y="210.1" width="1.3" height="1.3" fill="#0a0a0a"/>
<rect x="216.5" y="210.2" width="1.2" height="1.4" fill="#0a0a0a"/>
<rect x="220.2" y="208.7" width="1.2" height="1.3" fill="#0a0a0a"/>
<rect x="220.6" y="202.3" width="1.5" height="1.5" fill="#0a0a0a"/>
<rect x="224.3" y="214.5" width="1.2" height="1.0" fill="#0a0a0a"/>
<rect x="222.2" y="203.0" width="1.5" height="1.9" fill="#0a0a0a"/>
<rect x="215.2" y="210.5" width="1.2" height="1.4" fill="#0a0a0a"/>
<rect x="216.8" y="210.6" width="1.7" height="2.0" fill="#0a0a0a"/>
<rect x="203.5" y="213.0" width="1.5" height="1.5" fill="#0a0a0a"/>
<rect x="197.1" y="216.5" width="2.0" height="1.7" fill="#0a0a0a"/>
<rect x="201.8" y="213.8" width="1.2" height="1.3" fill="#0a0a0a"/>
<rect x="201.7" y="215.5" width="1.0" height="1.3" fill="#0a0a0a"/>
<rect x="202.0" y="212.3" width="1.5" height="1.9" fill="#0a0a0a"/>
<rect x="203.8" y="213.4" width="1.2" height="1.5" fill="#0a0a0a"/>
<rect x="201.0" y="214.7" width="1.5" height="1.7" fill="#0a0a0a"/>
<rect x="203.6" y="213.3" width="2.0" height="2.2" fill="#0a0a0a"/>
<rect x="149.2" y="213.4" width="1.5" height="1.4" fill="#0a0a0a"/>
<rect x="161.6" y="225.1" width="1.5" height="1.4" fill="#0a0a0a"/>
<rect x="156.1" y="212.6" width="2.0" height="2.5" fill="#0a0a0a"/>
<rect x="148.8" y="221.2" width="1.2" height="1.2" fill="#0a0a0a"/>
<rect x="136.6" y="223.4" width="1.3" height="1.6" fill="#0a0a0a"/>
<rect x="160.7" y="217.9" width="1.5" height="1.5" fill="#0a0a0a"/>
<rect x="148.7" y="219.5" width="1.7" height="1.5" fill="#0a0a0a"/>
<rect x="160.0" y="219.0" width="1.3" height="1.7" fill="#0a0a0a"/>
<rect x="153.9" y="220.3" width="1.3" height="1.6" fill="#0a0a0a"/>
<rect x="149.3" y="220.0" width="2.0" height="2.3" fill="#0a0a0a"/>
<rect x="152.4" y="217.3" width="1.0" height="1.1" fill="#0a0a0a"/>
<rect x="147.6" y="216.0" width="1.0" height="1.0" fill="#0a0a0a"/>
<rect x="142.7" y="224.2" width="1.0" height="1.0" fill="#0a0a0a"/>
<rect x="151.5" y="216.4" width="2.0" height="1.9" fill="#0a0a0a"/>
<rect x="157.1" y="222.2" width="1.7" height="1.9" fill="#0a0a0a"/>
<rect x="153.4" y="220.9" width="1.7" height="1.9" fill="#0a0a0a"/>
<rect x="168.4" y="219.7" width="1.2" height="1.5" fill="#0a0a0a"/>
<rect x="152.1" y="219.5" width="1.5" height="1.3" fill="#0a0a0a"/>
<rect x="169.3" y="226.8" width="1.7" height="1.5" fill="#0a0a0a"/>
<rect x="168.3" y="223.8" width="1.3" height="1.1" fill="#0a0a0a"/>
<rect x="167.1" y="222.2" width="1.2" height="1.2" fill="#0a0a0a"/>
<rect x="174.1" y="213.6" width="1.2" height="1.5" fill="#0a0a0a"/>
<rect x="177.0" y="229.0" width="1.5" height="1.5" fill="#0a0a0a"/>
<rect x="176.1" y="217.7" width="1.3" height="1.6" fill="#0a0a0a"/>
<rect x="172.1" y="223.2" width="1.7" height="2.0" fill="#0a0a0a"/>
<rect x="174.5" y="213.9" width="1.7" height="2.1" fill="#0a0a0a"/>
<rect x="162.0" y="216.2" width="1.5" height="1.9" fill="#0a0a0a"/>
<rect x="165.4" y="217.2" width="1.5" height="1.6" fill="#0a0a0a"/>
<rect x="175.0" y="225.4" width="1.2" height="1.0" fill="#0a0a0a"/>
<rect x="180.2" y="228.9" width="1.0" height="1.1" fill="#0a0a0a"/>
<rect x="175.3" y="224.4" width="1.0" height="1.2" fill="#0a0a0a"/>
<rect x="176.7" y="221.7" width="1.0" height="1.0" fill="#0a0a0a"/>
<rect x="177.2" y="226.6" width="1.0" height="1.1" fill="#0a0a0a"/>
<rect x="178.3" y="225.2" width="1.5" height="1.4" fill="#0a0a0a"/>
<rect x="104.7" y="206.3" width="1.0" height="1.2" fill="#0a0a0a"/>
<rect x="116.3" y="205.3" width="1.0" height="0.8" fill="#0a0a0a"/>
<rect x="113.6" y="207.0" width="2.0" height="1.7" fill="#0a0a0a"/>
<rect x="115.7" y="211.7" width="1.0" height="1.1" fill="#0a0a0a"/>
<rect x="108.9" y="202.2" width="1.5" height="1.3" fill="#0a0a0a"/>
<rect x="124.6" y="199.6" width="1.5" height="1.4" fill="#0a0a0a"/>
<rect x="112.0" y="201.9" width="1.0" height="0.9" fill="#0a0a0a"/>
<rect x="113.2" y="197.1" width="1.2" height="1.4" fill="#0a0a0a"/>
<rect x="115.0" y="203.9" width="1.7" height="2.1" fill="#0a0a0a"/>
<rect x="104.6" y="204.2" width="1.5" height="1.9" fill="#0a0a0a"/>
<rect x="119.5" y="202.5" width="1.7" height="2.1" fill="#0a0a0a"/>
<rect x="104.2" y="204.2" width="1.0" height="1.3" fill="#0a0a0a"/>
<rect x="115.0" y="201.5" width="1.3" height="1.2" fill="#0a0a0a"/>
<rect x="113.3" y="202.4" width="1.3" height="1.5" fill="#0a0a0a"/>
<rect x="109.4" y="202.5" width="1.3" height="1.2" fill="#0a0a0a"/>
<rect x="117.5" y="205.9" width="1.7" height="2.2" fill="#0a0a0a"/>
<rect x="137.0" y="212.4" width="1.2" height="1.2" fill="#0a0a0a"/>
<rect x="129.6" y="212.3" width="1.0" height="1.1" fill="#0a0a0a"/>
<rect x="124.5" y="211.2" width="1.2" height="1.3" fill="#0a0a0a"/>
<rect x="122.7" y="209.2" width="1.7" height="1.7" fill="#0a0a0a"/>
<rect x="113.0" y="210.0" width="1.7" height="1.7" fill="#0a0a0a"/>
<rect x="134.5" y="213.1" width="1.3" height="1.1" fill="#0a0a0a"/>
<rect x="124.1" y="211.1" width="1.2" height="1.1" fill="#0a0a0a"/>
<rect x="129.0" y="204.5" width="2.0" height="2.4" fill="#0a0a0a"/>
<rect x="118.1" y="213.2" width="1.7" height="1.5" fill="#0a0a0a"/>
<rect x="133.0" y="215.0" width="1.0" height="1.2" fill="#0a0a0a"/>
<rect x="120.3" y="214.9" width="1.3" height="1.4" fill="#0a0a0a"/>
<rect x="130.9" y="210.3" width="1.3" height="1.2" fill="#0a0a0a"/>
<rect x="107.8" y="208.7" width="2.0" height="2.4" fill="#0a0a0a"/>
<rect x="120.2" y="213.1" width="1.0" height="0.8" fill="#0a0a0a"/>
<rect x="127.3" y="213.0" width="1.0" height="1.1" fill="#0a0a0a"/>
<rect x="132.7" y="211.6" width="1.5" height="1.7" fill="#0a0a0a"/>
<rect x="98.5" y="201.8" width="2.0" height="1.8" fill="#0a0a0a"/>
<rect x="103.4" y="196.2" width="1.2" height="1.0" fill="#0a0a0a"/>
<rect x="104.5" y="202.4" width="1.7" height="1.7" fill="#0a0a0a"/>
<rect x="100.8" y="199.6" width="1.3" height="1.2" fill="#0a0a0a"/>
<rect x="103.5" y="200.2" width="1.7" height="2.2" fill="#0a0a0a"/>
<rect x="104.2" y="199.5" width="2.0" height="2.1" fill="#0a0a0a"/>
<rect x="98.4" y="197.0" width="1.2" height="1.4" fill="#0a0a0a"/>
<rect x="104.9" y="202.8" width="1.7" height="1.7" fill="#0a0a0a"/>
<rect x="136.9" y="207.7" width="2.0" height="2.0" fill="#0a0a0a"/>
<rect x="134.8" y="213.7" width="1.3" height="1.2" fill="#0a0a0a"/>
<rect x="131.1" y="213.6" width="1.0" height="1.2" fill="#0a0a0a"/>
<rect x="135.8" y="210.2" width="1.2" height="1.5" fill="#0a0a0a"/>
<rect x="134.3" y="212.0" width="1.0" height="0.9" fill="#0a0a0a"/>
<rect x="132.3" y="214.3" width="1.2" height="1.0" fill="#0a0a0a"/>
<rect x="135.4" y="210.2" width="1.2" height="1.1" fill="#0a0a0a"/>
<rect x="133.8" y="213.2" width="2.0" height="1.6" fill="#0a0a0a"/>
<rect x="133.8" y="211.2" width="1.0" height="1.0" fill="#0a0a0a"/>
<rect x="136.9" y="210.6" width="1.3" height="1.2" fill="#0a0a0a"/>
<rect x="118.9" y="195.2" width="1.7" height="2.2" fill="#0a0a0a"/>
<rect x="118.8" y="194.6" width="1.7" height="1.9" fill="#0a0a0a"/>
<rect x="98.1" y="170.9" width="1.7" height="1.8" fill="#0a0a0a"/>
<rect x="126.5" y="197.8" width="1.3" height="1.6" fill="#0a0a0a"/>
<rect x="104.4" y="178.9" width="1.7" height="1.6" fill="#0a0a0a"/>
<rect x="120.9" y="194.6" width="1.7" height="2.1" fill="#0a0a0a"/>
<rect x="102.3" y="176.0" width="2.0" height="1.6" fill="#0a0a0a"/>
<rect x="115.6" y="190.5" width="1.7" height="1.5" fill="#0a0a0a"/>
<rect x="113.9" y="182.0" width="1.2" height="1.2" fill="#0a0a0a"/>
<rect x="92.8" y="164.0" width="2.0" height="2.5" fill="#0a0a0a"/>
<rect x="119.2" y="190.8" width="2.0" height="2.1" fill="#0a0a0a"/>
<rect x="107.9" y="180.3" width="1.2" height="1.2" fill="#0a0a0a"/>
<rect x="95.2" y="166.8" width="1.7" height="2.1" fill="#0a0a0a"/>
<rect x="114.3" y="190.0" width="1.0" height="1.0" fill="#0a0a0a"/>
<rect x="120.5" y="195.1" width="2.0" height="1.8" fill="#0a0a0a"/>
<rect x="105.4" y="182.3" width="1.0" height="0.9" fill="#0a0a0a"/>
<rect x="124.7" y="197.9" width="2.0" height="1.7" fill="#0a0a0a"/>
<rect x="92.3" y="161.4" width="2.0" height="2.3" fill="#0a0a0a"/>
<rect x="94.5" y="170.3" width="2.0" height="1.6" fill="#0a0a0a"/>
<rect x="98.6" y="171.7" width="2.0" height="2.4" fill="#0a0a0a"/>
<rect x="94.5" y="169.1" width="1.2" height="1.4" fill="#0a0a0a"/>
<rect x="108.3" y="183.2" width="1.3" height="1.6" fill="#0a0a0a"/>
<rect x="99.5" y="169.9" width="1.2" height="1.3" fill="#0a0a0a"/>
<rect x="106.3" y="182.2" width="1.0" height="0.9" fill="#0a0a0a"/>
<rect x="99.9" y="178.3" width="1.3" height="1.4" fill="#0a0a0a"/>
<rect x="120.4" y="199.8" width="1.2" height="1.2" fill="#0a0a0a"/>
<rect x="92.5" y="164.8" width="2.0" height="2.1" fill="#0a0a0a"/>
<rect x="97.1" y="171.2" width="1.3" height="1.5" fill="#0a0a0a"/>
<rect x="119.9" y="193.3" width="2.0" height="1.9" fill="#0a0a0a"/>
<rect x="93.3" y="162.4" width="1.0" height="1.1" fill="#0a0a0a"/>
<rect x="119.5" y="189.3" width="1.0" height="1.1" fill="#0a0a0a"/>
<rect x="112.9" y="188.6" width="1.0" height="1.1" fill="#0a0a0a"/>
<rect x="96.1" y="170.9" width="1.5" height="1.8" fill="#0a0a0a"/>
<rect x="100.4" y="173.3" width="1.3" height="1.5" fill="#0a0a0a"/>
<rect x="108.8" y="181.0" width="1.2" height="1.5" fill="#0a0a0a"/>
<rect x="109.6" y="182.6" width="1.2" height="1.2" fill="#0a0a0a"/>
<rect x="109.1" y="181.0" width="1.0" height="0.9" fill="#0a0a0a"/>
<rect x="92.4" y="169.5" width="1.2" height="1.6" fill="#0a0a0a"/>
<rect x="117.8" y="190.9" width="1.2" height="1.3" fill="#0a0a0a"/>
<rect x="103.9" y="183.4" width="1.2" height="1.1" fill="#0a0a0a"/>
<rect x="124.7" y="198.8" width="1.3" height="1.4" fill="#0a0a0a"/>
<rect x="114.7" y="186.2" width="1.3" height="1.3" fill="#0a0a0a"/>
<rect x="114.4" y="187.8" width="1.3" height="1.6" fill="#0a0a0a"/>
<rect x="94.2" y="161.6" width="1.2" height="1.1" fill="#0a0a0a"/>
<rect x="115.0" y="189.7" width="1.3" height="1.6" fill="#0a0a0a"/>
<rect x="123.2" y="197.0" width="1.7" height="1.4" fill="#0a0a0a"/>
<rect x="119.8" y="195.5" width="1.0" height="0.9" fill="#0a0a0a"/>
<rect x="105.3" y="175.2" width="1.2" height="1.4" fill="#0a0a0a"/>
<rect x="112.9" y="184.9" width="1.3" height="1.1" fill="#0a0a0a"/>
<rect x="111.5" y="182.6" width="1.2" height="1.1" fill="#0a0a0a"/>
<rect x="118.6" y="160.7" width="2.0" height="1.6" fill="#0a0a0a"/>
<rect x="128.3" y="182.0" width="1.7" height="1.9" fill="#0a0a0a"/>
<rect x="109.5" y="152.0" width="1.7" height="1.8" fill="#0a0a0a"/>
<rect x="125.8" y="182.4" width="1.5" height="1.6" fill="#0a0a0a"/>
<rect x="117.4" y="164.7" width="1.7" height="2.1" fill="#0a0a0a"/>
<rect x="125.3" y="177.1" width="1.0" height="1.0" fill="#0a0a0a"/>
<rect x="126.6" y="184.3" width="1.0" height="1.0" fill="#0a0a0a"/>
<rect x="120.4" y="169.5" width="1.7" height="2.0" fill="#0a0a0a"/>
<rect x="109.5" y="150.9" width="1.7" height="2.1" fill="#0a0a0a"/>
<rect x="109.4" y="155.7" width="1.2" height="1.3" fill="#0a0a0a"/>
<rect x="106.7" y="150.6" width="1.2" height="1.3" fill="#0a0a0a"/>
<rect x="108.7" y="150.9" width="1.3" height="1.1" fill="#0a0a0a"/>
<rect x="130.0" y="184.1" width="1.3" height="1.4" fill="#0a0a0a"/>
<rect x="111.9" y="161.9" width="2.0" height="2.1" fill="#0a0a0a"/>
<rect x="110.9" y="161.9" width="2.0" height="2.0" fill="#0a0a0a"/>
<rect x="109.6" y="154.8" width="1.2" height="1.2" fill="#0a0a0a"/>
<rect x="116.8" y="157.3" width="2.0" height="2.4" fill="#0a0a0a"/>
<rect x="129.4" y="176.7" width="2.0" height="1.7" fill="#0a0a0a"/>
<rect x="131.3" y="189.7" width="1.5" height="1.4" fill="#0a0a0a"/>
<rect x="122.2" y="173.0" width="1.5" height="1.5" fill="#0a0a0a"/>
<rect x="130.4" y="180.0" width="1.7" height="1.7" fill="#0a0a0a"/>
<rect x="115.9" y="162.6" width="1.2" height="1.1" fill="#0a0a0a"/>
<rect x="120.8" y="171.0" width="1.3" height="1.6" fill="#0a0a0a"/>
<rect x="123.6" y="181.3" width="1.3" height="1.5" fill="#0a0a0a"/>
<rect x="105.9" y="151.6" width="1.7" height="1.9" fill="#0a0a0a"/>
<rect x="111.7" y="151.8" width="1.5" height="1.7" fill="#0a0a0a"/>
<rect x="131.6" y="184.8" width="2.0" height="2.2" fill="#0a0a0a"/>
<rect x="106.4" y="153.8" width="1.7" height="1.8" fill="#0a0a0a"/>
<rect x="124.8" y="177.7" width="1.2" height="1.5" fill="#0a0a0a"/>
<rect x="107.0" y="154.0" width="1.3" height="1.5" fill="#0a0a0a"/>
<rect x="116.3" y="162.3" width="1.7" height="1.5" fill="#0a0a0a"/>
<rect x="112.5" y="155.5" width="1.2" height="1.3" fill="#0a0a0a"/>
<rect x="112.6" y="153.7" width="1.3" height="1.1" fill="#0a0a0a"/>
<rect x="125.0" y="179.3" width="1.0" height="0.9" fill="#0a0a0a"/>
<rect x="106.6" y="151.1" width="1.3" height="1.5" fill="#0a0a0a"/>
<rect x="115.9" y="158.0" width="1.2" height="1.0" fill="#0a0a0a"/>
<rect x="114.6" y="161.4" width="1.5" height="1.4" fill="#0a0a0a"/>
<rect x="112.9" y="157.8" width="1.7" height="1.4" fill="#0a0a0a"/>
<rect x="126.9" y="168.8" width="1.2" height="1.3" fill="#0a0a0a"/>
<rect x="117.9" y="167.1" width="2.0" height="2.0" fill="#0a0a0a"/>
<rect x="95.8" y="179.2" width="2.0" height="2.4" fill="#0a0a0a"/>
<rect x="68.2" y="148.9" width="2.0" height="1.8" fill="#0a0a0a"/>
<rect x="79.0" y="160.3" width="1.5" height="1.6" fill="#0a0a0a"/>
<rect x="79.8" y="159.7" width="1.7" height="1.7" fill="#0a0a0a"/>
<rect x="68.2" y="151.6" width="2.0" height="2.3" fill="#0a0a0a"/>
<rect x="90.4" y="174.0" width="1.7" height="1.7" fill="#0a0a0a"/>
<rect x="86.4" y="166.2" width="1.2" height="1.5" fill="#0a0a0a"/>
<rect x="72.1" y="148.1" width="1.5" height="1.3" fill="#0a0a0a"/>
<rect x="68.9" y="150.4" width="2.0" height="1.6" fill="#0a0a0a"/>
<rect x="72.9" y="150.9" width="1.5" height="1.9" fill="#0a0a0a"/>
<rect x="71.6" y="154.1" width="1.2" height="1.0" fill="#0a0a0a"/>
<rect x="75.2" y="157.1" width="1.5" height="1.7" fill="#0a0a0a"/>
<rect x="93.0" y="176.5" width="1.3" height="1.5" fill="#0a0a0a"/>
<rect x="80.9" y="160.9" width="1.0" height="1.2" fill="#0a0a0a"/>
<rect x="74.1" y="153.9" width="1.3" height="1.6" fill="#0a0a0a"/>
<rect x="77.6" y="158.1" width="1.2" height="1.1" fill="#0a0a0a"/>
<rect x="75.6" y="157.3" width="1.3" height="1.2" fill="#0a0a0a"/>
<rect x="69.5" y="149.9" width="1.5" height="1.4" fill="#0a0a0a"/>
<rect x="74.9" y="154.3" width="1.3" height="1.6" fill="#0a0a0a"/>
<rect x="91.9" y="175.4" width="2.0" height="2.5" fill="#0a0a0a"/>
<rect x="67.0" y="151.6" width="1.2" height="1.3" fill="#0a0a0a"/>
<rect x="91.4" y="176.6" width="1.0" height="1.1" fill="#0a0a0a"/>
<rect x="91.3" y="176.9" width="2.0" height="2.4" fill="#0a0a0a"/>
<rect x="81.0" y="162.2" width="1.5" height="1.5" fill="#0a0a0a"/>
<rect x="70.0" y="152.2" width="2.0" height="1.8" fill="#0a0a0a"/>
<rect x="86.4" y="167.6" width="2.0" height="1.6" fill="#0a0a0a"/>
<rect x="70.0" y="150.0" width="2.0" height="1.8" fill="#0a0a0a"/>
<rect x="71.6" y="153.6" width="1.5" height="1.7" fill="#0a0a0a"/>
<rect x="72.8" y="152.7" width="1.3" height="1.1" fill="#0a0a0a"/>
<rect x="68.8" y="147.4" width="1.3" height="1.6" fill="#0a0a0a"/>
<rect x="80.8" y="161.0" width="1.2" height="1.0" fill="#0a0a0a"/>
<rect x="73.6" y="147.7" width="2.0" height="1.7" fill="#0a0a0a"/>
<rect x="67.6" y="148.9" width="2.0" height="2.3" fill="#0a0a0a"/>
<rect x="68.6" y="152.4" width="1.2" height="1.2" fill="#0a0a0a"/>
<rect x="112.7" y="169.1" width="1.5" height="1.5" fill="#0a0a0a"/>
<rect x="102.4" y="162.7" width="2.0" height="1.9" fill="#0a0a0a"/>
<rect x="100.7" y="162.4" width="1.3" height="1.3" fill="#0a0a0a"/>
<rect x="103.1" y="174.0" width="1.0" height="1.0" fill="#0a0a0a"/>
<rect x="103.4" y="165.8" width="2.0" height="2.2" fill="#0a0a0a"/>
<rect x="100.1" y="162.5" width="1.3" height="1.4" fill="#0a0a0a"/>
<rect x="104.5" y="158.7" width="1.7" height="2.0" fill="#0a0a0a"/>
<rect x="104.5" y="164.0" width="1.0" height="1.0" fill="#0a0a0a"/>
<rect x="109.5" y="170.3" width="1.3" height="1.6" fill="#0a0a0a"/>
<rect x="108.3" y="170.8" width="1.7" height="1.6" fill="#0a0a0a"/>
<rect x="133.8" y="192.2" width="2.0" height="1.9" fill="#0a0a0a"/>
<rect x="131.8" y="196.9" width="1.0" height="1.2" fill="#0a0a0a"/>
<rect x="115.5" y="182.1" width="1.7" height="1.6" fill="#0a0a0a"/>
<rect x="132.3" y="190.4" width="1.5" height="1.9" fill="#0a0a0a"/>
<rect x="124.1" y="186.6" width="1.7" height="1.9" fill="#0a0a0a"/>
<rect x="133.8" y="194.9" width="2.0" height="1.7" fill="#0a0a0a"/>
<rect x="121.7" y="179.7" width="1.2" height="1.2" fill="#0a0a0a"/>
<rect x="118.6" y="186.9" width="1.2" height="1.1" fill="#0a0a0a"/>
<rect x="120.5" y="185.8" width="1.0" height="0.8" fill="#0a0a0a"/>
<rect x="117.3" y="186.8" width="2.0" height="1.9" fill="#0a0a0a"/>
<rect x="137.5" y="198.7" width="1.7" height="2.1" fill="#0a0a0a"/>
<rect x="130.5" y="192.8" width="2.0" height="2.0" fill="#0a0a0a"/>
<rect x="132.1" y="190.1" width="1.0" height="1.0" fill="#0a0a0a"/>
<rect x="131.9" y="196.0" width="1.2" height="1.2" fill="#0a0a0a"/>
<rect x="134.0" y="190.4" width="1.7" height="2.2" fill="#0a0a0a"/>
<rect x="127.9" y="192.9" width="1.2" height="1.0" fill="#0a0a0a"/>
<rect x="136.2" y="188.8" width="1.2" height="1.2" fill="#0a0a0a"/>
<rect x="125.5" y="185.9" width="1.3" height="1.1" fill="#0a0a0a"/>
<rect x="119.8" y="185.9" width="1.0" height="1.0" fill="#0a0a0a"/>
<rect x="123.2" y="188.5" width="1.5" height="1.6" fill="#0a0a0a"/>
<rect x="121.2" y="186.6" width="1.5" height="1.3" fill="#0a0a0a"/>
<rect x="116.0" y="179.6" width="1.0" height="1.2" fill="#0a0a0a"/>
<rect x="121.5" y="186.4" width="1.2" height="1.3" fill="#0a0a0a"/>
<rect x="132.1" y="188.0" width="1.0" height="0.9" fill="#0a0a0a"/>
<rect x="111.1" y="208.3" width="2.0" height="1.7" fill="#0a0a0a"/>
<rect x="104.4" y="199.9" width="1.0" height="1.0" fill="#0a0a0a"/>
<rect x="136.4" y="218.7" width="1.5" height="1.8" fill="#0a0a0a"/>
<rect x="124.3" y="214.4" width="1.2" height="1.2" fill="#0a0a0a"/>
<rect x="109.5" y="205.9" width="2.0" height="2.3" fill="#0a0a0a"/>
<rect x="135.8" y="218.0" width="1.7" height="1.8" fill="#0a0a0a"/>
<rect x="114.4" y="205.8" width="1.2" height="1.2" fill="#0a0a0a"/>
<rect x="120.3" y="212.1" width="1.5" height="1.5" fill="#0a0a0a"/>
<rect x="110.7" y="202.1" width="1.3" height="1.1" fill="#0a0a0a"/>
<rect x="121.9" y="209.4" width="1.7" height="1.7" fill="#0a0a0a"/>
<rect x="106.9" y="202.1" width="1.5" height="1.8" fill="#0a0a0a"/>
<rect x="132.2" y="218.9" width="1.7" height="1.5" fill="#0a0a0a"/>
<rect x="125.3" y="215.8" width="1.5" height="1.7" fill="#0a0a0a"/>
<rect x="123.9" y="207.9" width="1.3" height="1.4" fill="#0a0a0a"/>
<rect x="114.0" y="210.2" width="1.7" height="2.1" fill="#0a0a0a"/>
<rect x="109.8" y="207.5" width="1.0" height="1.0" fill="#0a0a0a"/>
<rect x="120.5" y="210.6" width="1.0" height="1.2" fill="#0a0a0a"/>
<rect x="131.2" y="216.8" width="1.3" height="1.2" fill="#0a0a0a"/>
<rect x="139.2" y="219.5" width="1.0" height="0.9" fill="#0a0a0a"/>
<rect x="101.4" y="199.2" width="2.0" height="2.0" fill="#0a0a0a"/>
<rect x="116.4" y="213.4" width="1.3" height="1.5" fill="#0a0a0a"/>
<rect x="136.6" y="219.6" width="1.7" height="2.1" fill="#0a0a0a"/>
<rect x="125.7" y="214.0" width="1.7" height="2.1" fill="#0a0a0a"/>
<rect x="112.0" y="208.1" width="1.2" height="1.4" fill="#0a0a0a"/>
<rect x="138.7" y="220.7" width="1.7" height="1.7" fill="#0a0a0a"/>
<rect x="95.3" y="194.9" width="1.2" height="1.3" fill="#0a0a0a"/>
<rect x="146.7" y="194.4" width="1.3" height="1.6" fill="#0a0a0a"/>
<rect x="157.6" y="203.5" width="1.2" height="1.4" fill="#0a0a0a"/>
<rect x="148.0" y="194.3" width="1.3" height="1.0" fill="#0a0a0a"/>
<rect x="153.5" y="204.5" width="1.7" height="1.5" fill="#0a0a0a"/>
<rect x="149.3" y="192.5" width="1.7" height="1.6" fill="#0a0a0a"/>
<rect x="148.1" y="198.9" width="1.2" height="1.4" fill="#0a0a0a"/>
<rect x="147.9" y="196.7" width="1.3" height="1.1" fill="#0a0a0a"/>
<rect x="154.8" y="205.0" width="1.0" height="1.1" fill="#0a0a0a"/>
<rect x="154.7" y="200.9" width="1.2" height="1.0" fill="#0a0a0a"/>
<rect x="154.6" y="199.9" width="1.2" height="1.2" fill="#0a0a0a"/>
<rect x="154.6" y="206.5" width="1.3" height="1.3" fill="#0a0a0a"/>
<rect x="145.9" y="191.5" width="2.0" height="2.0" fill="#0a0a0a"/>
<rect x="155.6" y="207.8" width="2.0" height="2.5" fill="#0a0a0a"/>
<rect x="159.7" y="211.1" width="1.5" height="1.3" fill="#0a0a0a"/>
<rect x="154.7" y="207.0" width="1.0" height="0.9" fill="#0a0a0a"/>
<rect x="145.1" y="189.7" width="1.7" height="2.2" fill="#0a0a0a"/>
<rect x="155.0" y="201.2" width="1.0" height="1.2" fill="#0a0a0a"/>
<rect x="145.9" y="186.8" width="1.5" height="1.9" fill="#0a0a0a"/>
<rect x="157.5" y="211.5" width="1.7" height="1.7" fill="#0a0a0a"/>
<rect x="144.1" y="186.7" width="1.0" height="1.2" fill="#0a0a0a"/>
<rect x="157.5" y="210.5" width="1.2" height="1.3" fill="#0a0a0a"/>
<rect x="152.5" y="197.8" width="1.3" height="1.3" fill="#0a0a0a"/>
<rect x="149.6" y="193.6" width="1.7" height="1.4" fill="#0a0a0a"/>
<rect x="155.0" y="202.1" width="1.5" height="1.4" fill="#0a0a0a"/>
<rect x="156.2" y="208.0" width="1.3" height="1.6" fill="#0a0a0a"/>
<rect x="145.5" y="191.3" width="1.3" height="1.5" fill="#0a0a0a"/>
<rect x="159.2" y="201.6" width="2.0" height="1.8" fill="#0a0a0a"/>
<rect x="143.3" y="184.8" width="2.0" height="2.4" fill="#0a0a0a"/>
<rect x="156.6" y="205.4" width="1.3" height="1.1" fill="#0a0a0a"/>
<rect x="149.1" y="202.1" width="1.0" height="0.9" fill="#0a0a0a"/>
<rect x="85.3" y="103.5" width="1.3" height="1.2" fill="#0a0a0a"/>
<rect x="82.4" y="103.8" width="1.2" height="1.3" fill="#0a0a0a"/>
<rect x="72.0" y="104.9" width="1.2" height="1.1" fill="#0a0a0a"/>
<rect x="71.9" y="104.9" width="2.0" height="2.2" fill="#0a0a0a"/>
<rect x="92.3" y="105.1" width="1.2" height="1.3" fill="#0a0a0a"/>
<rect x="135.0" y="140.9" width="2.0" height="2.2" fill="#0a0a0a"/>
<rect x="142.8" y="145.6" width="1.5" height="1.7" fill="#0a0a0a"/>
<rect x="141.0" y="148.8" width="1.0" height="1.0" fill="#0a0a0a"/>
<rect x="136.0" y="140.5" width="1.2" height="1.2" fill="#0a0a0a"/>
<rect x="146.8" y="147.9" width="1.5" height="1.4" fill="#0a0a0a"/>
<rect x="139.6" y="146.1" width="1.7" height="1.4" fill="#0a0a0a"/>
<rect x="135.3" y="137.0" width="2.0" height="2.4" fill="#0a0a0a"/>
<rect x="130.9" y="139.0" width="1.2" height="1.4" fill="#0a0a0a"/>
</g>
<path d="M367.8 146.5h0M347.2 104.3h0M338.3 123.7h0M383.5 179.4h0M352.8 143.6h0M311.7 98.3h0M374.3 106.0h0M386.5 86.0h0M364.4 113.2h0M378.8 109.5h0M362.1 132.7h0M343.2 103.6h0M368.1 117.3h0M375.6 143.1h0M367.1 103.9h0M361.9 142.3h0M338.8 141.2h0M347.4 106.5h0M372.2 164.0h0M390.6 147.0h0M359.1 142.1h0M360.9 143.3h0M384.3 115.5h0M373.7 124.3h0M341.1 89.3h0M378.8 190.7h0M306.8 81.2h0M351.1 119.6h0M349.6 143.2h0M349.3 152.2h0M374.7 110.0h0M342.6 163.6h0M326.2 81.3h0M443.4 80.3h0M367.0 157.5h0M362.9 165.2h0M343.1 160.6h0M345.4 59.3h0M377.2 99.3h0M389.1 126.8h0M388.0 171.9h0M357.5 168.7h0M397.7 107.0h0M388.6 116.8h0M386.2 103.1h0M321.4 83.4h0M377.5 200.8h0M383.5 115.9h0M368.0 156.7h0M331.9 67.7h0M368.7 137.5h0M348.2 97.3h0M356.2 119.9h0M377.1 99.4h0M331.0 67.5h0M377.4 155.9h0M375.9 129.3h0M381.2 133.5h0M399.1 111.1h0M345.1 154.1h0M379.0 179.7h0M377.2 151.6h0M345.9 113.4h0M391.4 160.3h0M307.0 83.0h0M386.4 167.0h0M343.3 163.7h0M351.1 118.2h0M386.7 155.3h0M358.6 107.4h0M378.6 154.0h0M362.7 140.1h0M321.4 80.1h0M332.1 96.7h0M376.0 168.1h0M383.1 167.5h0M374.7 164.2h0M387.1 159.8h0M354.6 92.0h0M382.6 86.8h0M378.1 194.8h0M346.7 95.7h0M319.1 85.3h0M335.8 103.3h0M394.8 133.6h0M394.8 83.7h0M389.9 126.6h0M373.1 109.2h0M356.5 137.0h0M312.2 94.2h0M352.4 141.7h0M356.9 123.6h0M335.8 81.7h0M359.1 143.0h0M368.8 107.5h0M336.0 138.5h0M383.7 124.3h0M357.1 153.7h0M375.4 133.4h0M377.1 200.7h0M387.0 172.7h0M377.8 110.2h0M348.8 106.9h0M378.5 132.6h0M382.8 127.0h0M390.3 103.4h0M343.2 145.7h0M374.3 107.2h0M346.6 114.8h0M391.6 114.1h0M368.8 147.1h0M387.6 150.6h0M384.8 152.8h0M387.1 114.6h0M374.8 174.3h0M321.9 66.5h0M377.7 185.3h0M383.6 117.2h0M382.1 140.2h0M331.5 124.1h0M353.0 131.9h0M365.5 165.4h0M365.9 135.3h0M374.2 160.6h0M391.1 114.9h0M364.0 96.0h0M370.6 88.4h0M370.5 146.3h0M384.6 149.6h0M393.4 124.8h0M381.6 215.4h0M378.9 159.8h0M346.2 109.7h0M389.6 92.2h0M417.1 96.2h0M337.7 67.4h0M372.4 98.5h0M367.3 160.9h0M379.6 99.5h0M339.0 115.1h0M382.9 189.0h0M377.4 170.1h0M360.4 105.6h0M360.6 140.2h0M357.5 156.2h0M375.3 117.9h0M366.2 120.7h0M391.7 149.0h0M376.0 152.1h0M344.5 145.1h0M335.7 115.5h0M383.5 136.9h0M361.3 190.1h0M374.6 122.1h0M380.5 191.6h0M312.3 62.7h0M376.8 157.7h0M373.4 168.0h0M322.2 83.5h0M361.1 129.0h0M376.3 214.8h0M381.5 142.5h0M360.8 140.3h0M374.6 101.3h0M369.3 174.4h0M385.9 115.7h0M323.6 108.5h0M391.4 139.5h0M390.0 119.8h0M330.3 84.7h0M360.2 129.3h0M346.5 145.0h0M373.3 136.3h0M376.7 113.6h0M379.5 137.0h0M376.4 99.7h0M359.0 108.7h0M376.8 143.2h0M376.1 195.8h0M323.4 91.2h0M354.1 174.2h0M342.4 99.2h0M373.6 133.2h0M374.8 111.9h0M374.4 85.5h0M379.4 178.0h0M396.9 87.8h0M383.5 153.9h0M350.7 90.8h0M368.9 112.1h0M388.8 144.8h0M385.2 133.7h0M354.9 174.0h0M387.6 116.6h0M367.8 137.9h0M354.3 141.2h0M374.0 117.9h0M341.1 147.8h0M390.6 136.7h0M384.0 108.9h0M394.9 135.0h0M356.3 136.1h0M364.2 139.3h0M344.7 118.6h0M365.1 164.4h0M385.9 162.6h0M322.9 79.9h0M336.1 137.0h0M384.9 171.3h0M380.7 159.3h0M358.9 133.2h0M373.5 152.3h0M365.7 110.8h0M336.4 132.3h0M388.4 99.3h0M341.8 134.9h0M387.5 100.9h0M331.2 109.8h0M349.6 133.4h0M373.0 94.1h0M367.7 180.7h0M379.8 124.6h0M389.3 168.1h0M368.0 177.2h0M341.4 103.6h0" stroke="#0072B2" stroke-width="2.0" stroke-linecap="round" fill="none"/>
<path d="M359.8 166.1h0M316.2 62.9h0M374.5 198.7h0M312.4 75.9h0M319.5 60.7h0M323.6 53.2h0M329.4 47.5h0M343.4 61.6h0M320.4 59.1h0M335.3 134.7h0M362.6 97.6h0M331.0 106.5h0M313.4 66.1h0M372.8 193.2h0M310.3 70.2h0M346.5 68.3h0M348.3 64.4h0M345.3 57.0h0M334.5 67.0h0M347.4 65.0h0M314.7 61.0h0M330.5 97.9h0M332.8 67.2h0M325.8 109.3h0M397.0 97.1h0M333.9 73.3h0M369.5 196.2h0M314.4 61.8h0M307.3 69.2h0M337.3 71.4h0M333.6 93.1h0M328.6 69.8h0M328.5 67.4h0M361.1 89.4h0M336.3 54.2h0M322.6 59.7h0M313.0 72.0h0M343.3 61.2h0M331.7 66.4h0M318.1 61.1h0M341.3 60.6h0M341.5 54.2h0M308.6 69.8h0M359.6 167.8h0M347.0 69.2h0M323.4 71.9h0M350.2 60.4h0M391.1 90.8h0M318.4 63.5h0M332.7 140.7h0M312.7 67.6h0M336.7 77.6h0M342.4 54.0h0M328.1 59.3h0M377.1 98.0h0M328.7 62.2h0M329.5 51.9h0M317.1 73.9h0M346.4 60.1h0M334.6 86.5h0M305.8 88.6h0M319.6 74.5h0M342.6 55.2h0M335.5 78.0h0M335.6 77.6h0M324.3 52.6h0M309.3 63.8h0M352.6 65.5h0M341.5 94.6h0M401.7 81.9h0M309.9 86.4h0M310.7 69.2h0M321.2 81.4h0M345.9 68.5h0M320.6 59.9h0M314.8 61.1h0M342.8 60.3h0M336.0 61.1h0M351.4 94.8h0M333.7 68.8h0M403.5 83.1h0M385.4 89.3h0" stroke="#F0E442" stroke-width="2.0" stroke-linecap="round" fill="none"/>
<path d="M321.8 99.1h0M309.3 85.6h0M328.4 101.7h0M347.5 88.2h0M305.2 84.9h0M345.8 102.3h0M332.6 54.7h0M341.8 138.5h0M333.9 116.0h0M320.4 104.5h0M372.1 190.0h0M332.2 48.8h0M369.9 184.8h0M340.7 111.7h0M336.8 142.5h0M315.7 82.5h0M338.5 99.2h0M310.4 93.5h0M327.0 96.2h0M355.2 173.5h0M346.0 95.4h0M329.7 83.4h0M331.7 107.1h0M314.2 61.4h0M341.4 78.8h0M322.4 63.2h0M331.4 117.1h0M311.3 82.5h0M328.1 94.4h0M331.9 65.1h0M362.8 176.2h0M344.4 82.2h0M308.7 68.1h0M397.1 97.8h0M332.2 70.8h0M316.4 83.4h0M327.2 102.9h0M357.5 160.5h0M342.6 82.7h0M350.9 175.1h0M330.3 116.1h0M371.1 193.9h0M340.1 138.2h0M330.8 58.9h0M324.7 113.3h0M330.6 52.2h0M324.0 98.7h0M308.8 64.5h0M361.1 176.7h0M330.7 129.5h0M310.7 80.7h0M360.6 188.1h0M387.7 130.7h0M419.2 74.2h0M367.6 194.3h0M341.0 97.9h0M338.0 100.2h0M314.9 84.7h0M430.5 70.6h0M347.0 93.3h0M380.3 186.2h0M347.5 95.1h0M354.8 160.3h0M362.5 101.5h0M335.2 114.3h0M336.6 135.2h0M332.1 90.1h0M354.8 120.1h0M310.2 90.2h0M389.1 158.5h0M380.8 217.1h0M379.4 149.8h0M366.0 125.0h0M364.5 100.3h0M330.1 135.0h0M366.2 179.7h0M366.3 164.8h0M316.0 88.3h0M304.7 87.7h0M330.9 109.1h0M354.5 97.0h0M318.0 105.9h0M364.4 178.1h0M326.1 56.1h0M389.2 142.8h0M347.3 165.6h0M343.1 129.9h0M355.8 121.1h0M380.5 96.5h0M333.5 77.3h0M319.1 92.0h0M365.4 178.1h0M375.0 132.1h0M331.5 56.1h0M426.5 42.1h0M318.7 97.4h0M321.7 106.0h0M351.3 65.8h0M336.4 59.6h0M329.5 111.5h0M324.8 89.0h0M330.1 81.8h0M326.0 87.0h0M344.9 67.3h0M305.7 85.0h0M373.9 141.0h0M306.2 84.9h0M312.2 77.9h0M332.9 76.7h0M341.0 98.1h0M319.0 95.3h0M347.4 149.3h0M333.5 134.5h0M328.1 122.2h0M327.5 80.1h0M322.9 96.7h0M328.2 103.2h0M368.6 85.9h0M356.3 160.5h0M330.9 107.4h0M347.0 68.9h0M322.0 90.6h0M309.0 89.5h0M326.3 88.6h0M325.3 89.4h0M345.9 153.9h0M324.9 82.6h0M315.1 97.7h0M342.4 94.6h0M329.1 115.0h0M370.0 169.7h0M438.4 76.5h0M343.5 81.9h0M352.0 175.8h0M314.6 94.2h0M325.7 108.4h0M335.8 75.7h0M325.2 78.8h0M362.5 86.2h0M326.3 104.5h0M382.8 196.1h0M340.8 99.5h0M330.6 89.8h0M319.7 93.4h0M361.6 94.5h0M330.0 124.3h0M334.4 129.4h0M322.0 106.9h0M363.0 174.7h0M334.7 135.0h0M333.8 105.8h0M331.2 84.0h0M334.1 74.4h0M342.1 83.9h0M334.7 113.3h0M343.7 56.1h0M311.2 80.3h0M368.8 170.6h0M317.1 86.7h0M337.3 50.9h0M346.6 168.0h0M347.3 96.5h0M319.0 60.9h0M423.8 50.8h0M352.4 160.0h0M443.4 54.3h0M327.5 116.3h0M319.9 77.9h0M363.3 190.3h0M343.0 81.5h0M336.1 59.0h0M331.1 70.0h0M345.0 82.7h0M306.2 86.1h0M319.5 66.0h0M335.8 128.6h0M331.2 82.7h0M433.6 54.7h0M342.4 146.8h0M327.5 85.9h0M364.5 183.4h0M424.9 50.3h0M424.6 91.1h0M339.9 137.6h0M336.2 119.1h0M312.3 80.5h0M314.9 75.3h0M321.4 77.9h0" stroke="#56B4E9" stroke-width="2.0" stroke-linecap="round" fill="none"/>
<path d="M359.0 96.1h0M379.2 198.7h0M321.4 55.8h0M348.5 172.2h0M344.4 103.3h0M367.2 199.2h0M365.5 128.8h0M381.5 116.8h0M375.2 164.7h0M354.1 147.7h0M371.7 161.5h0M324.1 100.4h0M390.5 93.1h0M362.9 122.5h0M382.0 103.0h0M375.7 131.9h0M372.2 175.8h0M383.5 91.7h0M389.2 165.8h0M343.0 109.4h0M398.9 97.9h0M380.2 185.2h0M395.8 98.4h0M354.4 94.4h0M357.5 98.6h0M396.3 97.3h0M394.8 123.1h0M352.0 105.7h0M363.1 121.1h0M387.0 139.9h0M344.6 162.4h0M328.8 108.3h0M307.9 70.7h0M333.6 58.2h0M328.6 127.4h0M346.7 107.6h0M326.2 119.7h0M371.4 119.5h0M393.2 107.9h0M359.6 183.4h0M374.7 162.8h0M358.2 86.4h0M349.4 103.7h0M369.5 166.2h0M367.4 88.6h0M373.1 115.1h0M357.9 172.2h0M384.8 116.3h0M342.1 138.1h0M362.2 157.3h0M394.7 103.3h0M378.3 203.1h0M384.8 85.4h0M394.5 113.3h0M372.4 186.0h0M325.1 72.7h0M368.9 162.9h0M357.4 159.9h0M390.3 99.2h0M360.0 121.3h0M342.0 90.1h0M362.1 103.7h0M388.9 165.6h0M324.0 75.6h0M394.3 106.7h0M364.7 97.9h0M357.4 171.9h0M359.4 157.4h0M325.2 101.2h0M379.4 89.5h0M399.1 78.6h0M363.1 94.7h0M362.9 98.9h0M335.6 112.4h0M400.2 94.6h0M375.4 99.5h0M345.6 162.9h0M327.0 77.8h0M378.7 149.6h0M366.6 143.6h0M365.4 162.7h0M375.1 158.4h0M345.5 92.8h0M372.4 162.1h0M341.4 69.1h0M380.5 119.5h0M389.1 85.5h0M347.4 160.0h0M370.0 128.2h0M386.9 164.2h0M380.1 96.6h0M338.8 134.5h0M370.9 97.6h0M371.6 187.3h0M355.8 102.6h0M329.2 110.9h0M319.7 98.8h0M323.2 53.8h0M388.6 124.2h0M373.6 134.1h0M377.0 168.1h0M395.9 100.5h0M372.5 164.3h0M326.2 77.5h0M400.9 94.1h0M327.9 68.0h0M340.2 106.1h0M348.5 139.0h0M368.0 111.8h0M358.5 137.0h0M341.5 65.4h0M373.3 196.6h0M369.4 157.9h0M379.2 219.9h0M363.1 87.8h0M404.2 75.4h0M345.1 144.6h0M342.2 87.2h0M378.0 207.9h0M330.0 65.8h0M379.1 141.5h0M370.0 128.2h0M353.1 109.2h0M389.3 129.4h0M373.0 125.1h0M347.6 99.0h0M366.6 100.9h0M370.3 144.1h0M390.5 154.4h0M382.7 135.6h0M313.8 58.2h0M371.3 123.7h0M374.1 182.3h0M314.4 84.4h0M384.9 150.2h0M368.9 140.2h0M360.6 146.2h0M363.3 128.5h0M395.5 107.1h0" stroke="#E69F00" stroke-width="2.0" stroke-linecap="round" fill="none"/>
<path d="M370.2 99.5h0M374.6 152.4h0M369.7 128.0h0M353.7 122.5h0M352.2 130.9h0M419.2 91.3h0M376.8 95.4h0M383.5 165.0h0M379.1 222.9h0M354.0 123.5h0M368.4 161.6h0M384.5 151.8h0M395.9 137.1h0M372.3 147.0h0M388.0 141.0h0M373.1 175.6h0M398.5 104.4h0M379.3 153.2h0M379.9 88.7h0M389.2 101.5h0M381.1 105.0h0M367.9 132.5h0M340.0 148.0h0M372.7 190.2h0M379.5 156.8h0M359.7 140.0h0M343.0 92.8h0M318.2 102.1h0M320.3 91.5h0M394.3 93.9h0M398.6 91.3h0M359.9 121.8h0M363.1 107.0h0M383.9 85.0h0M324.2 116.1h0M389.3 125.0h0M359.4 96.1h0M364.4 94.6h0M361.8 108.0h0M353.6 95.8h0M335.2 99.2h0M384.3 96.6h0M384.0 101.2h0M344.6 72.5h0M372.9 185.3h0M374.8 178.0h0M373.3 146.5h0M380.8 143.7h0M367.2 187.7h0M360.1 107.4h0M334.2 139.2h0M374.9 120.5h0M368.8 118.3h0M360.2 109.9h0M394.6 106.4h0M362.3 110.0h0M374.1 194.9h0M388.5 85.2h0M373.2 112.0h0M390.8 146.8h0M417.9 83.6h0M350.8 107.1h0M357.0 123.6h0M361.0 108.5h0M326.4 52.2h0M337.5 144.0h0M336.1 140.3h0M385.7 134.9h0M360.0 155.5h0M357.2 116.9h0M362.9 115.8h0M365.2 99.0h0M350.7 158.1h0M384.1 158.3h0M380.5 209.4h0M350.6 165.9h0M352.2 90.4h0M340.9 147.4h0M316.1 90.5h0M364.3 164.3h0M365.0 129.4h0M357.0 149.8h0M392.0 86.9h0M378.0 184.6h0M376.7 131.3h0M365.0 132.8h0M379.7 214.1h0M357.3 108.3h0M363.3 137.8h0M373.8 121.7h0M343.8 128.6h0M370.6 173.1h0M355.3 125.8h0M385.9 85.1h0M341.3 123.0h0M373.3 175.9h0M362.5 161.4h0M390.2 82.3h0M365.3 100.1h0M362.3 160.7h0M376.8 213.9h0M342.6 97.4h0M359.6 156.4h0M437.1 58.1h0M360.9 157.1h0M344.2 94.3h0M387.3 86.0h0M376.4 200.7h0M385.8 130.3h0M360.9 132.1h0M328.2 101.2h0M356.5 148.1h0M364.7 140.4h0M389.2 107.1h0M377.3 216.4h0M346.1 100.3h0M362.8 164.4h0M326.5 110.1h0M371.5 190.1h0M347.5 170.3h0M375.9 111.3h0M341.3 135.1h0M392.8 99.1h0M368.5 153.6h0M360.2 188.1h0M368.0 148.5h0M352.5 107.5h0M345.7 148.3h0M335.7 114.4h0M389.8 108.8h0M394.2 86.8h0M428.8 50.0h0M366.8 130.2h0M379.5 89.6h0M359.5 86.7h0M384.5 130.3h0M395.5 106.5h0M382.6 164.8h0M382.8 152.3h0M357.7 148.1h0M374.4 133.5h0M376.0 216.4h0M376.7 86.0h0M372.8 130.6h0M365.8 99.8h0M343.4 129.5h0M356.6 173.8h0M350.0 115.1h0M327.1 109.6h0M361.9 156.9h0M368.9 171.2h0M397.2 107.5h0M381.0 159.3h0M348.1 135.1h0M344.1 71.2h0M355.7 115.7h0M375.3 163.1h0M345.3 103.6h0M346.5 85.2h0M384.2 177.0h0M366.5 109.7h0M333.2 90.7h0M385.7 161.7h0M432.4 80.2h0M349.8 126.9h0M366.5 104.7h0M398.0 115.5h0M378.6 182.7h0M387.2 160.4h0M366.2 133.3h0M425.0 77.2h0M371.3 152.8h0M432.0 49.3h0M372.6 133.6h0M344.7 65.2h0M442.9 36.7h0M365.1 119.8h0M373.8 145.3h0M370.3 130.0h0M341.9 74.5h0M374.8 146.8h0M433.2 79.5h0M392.6 86.4h0M377.8 99.7h0M381.1 166.0h0M377.5 183.5h0M374.0 111.2h0M377.5 190.6h0M375.7 88.9h0M376.0 214.6h0M335.8 123.3h0M342.5 64.5h0M343.7 82.4h0M371.9 135.6h0M336.8 112.6h0M374.0 188.8h0M368.9 135.6h0M351.7 94.5h0M334.4 77.1h0M366.9 199.8h0M334.7 114.9h0M389.3 135.9h0M351.5 122.0h0M374.8 200.9h0M332.1 113.3h0M328.3 76.2h0M378.4 161.2h0M366.4 188.7h0M382.3 119.1h0M365.5 175.1h0M361.8 99.3h0M399.9 105.7h0M369.5 175.9h0M370.2 163.1h0M386.2 84.0h0M360.5 122.4h0M365.4 146.1h0M378.9 95.6h0M384.4 165.0h0M361.6 189.6h0M348.0 168.4h0M391.0 119.8h0M366.6 116.3h0M396.7 84.4h0M382.0 143.1h0M393.0 145.7h0M344.4 63.3h0M355.3 118.1h0M348.4 108.4h0M386.8 152.4h0" stroke="#009E73" stroke-width="2.0" stroke-linecap="round" fill="none"/>
<path d="M426.8 38.2h0M430.1 89.5h0M414.9 89.7h0M418.6 73.9h0M439.1 45.1h0M435.0 38.9h0M438.3 85.4h0M439.6 49.3h0M434.0 41.1h0M429.5 72.5h0M433.1 61.4h0M433.4 87.2h0M418.8 83.5h0M420.3 69.0h0M418.1 90.3h0M429.8 84.4h0M431.6 64.9h0M433.1 40.2h0M433.8 58.4h0M350.9 66.1h0M431.5 46.2h0M432.6 85.0h0M424.9 38.4h0M430.3 66.3h0M443.3 88.3h0M431.5 57.1h0M422.0 59.7h0M433.4 89.4h0M441.0 81.7h0M438.8 65.5h0M443.9 50.4h0M427.3 94.8h0M420.6 42.4h0M416.0 94.0h0M424.2 75.9h0M433.9 53.7h0M431.0 37.4h0M422.2 44.1h0M435.8 48.5h0M420.8 86.2h0M432.9 36.6h0M435.3 83.5h0M426.0 40.1h0M428.0 38.2h0M427.4 79.5h0M440.7 60.7h0M422.0 81.6h0M435.8 37.8h0M437.5 57.9h0M421.5 46.9h0M441.2 56.1h0M438.0 37.2h0M441.1 69.7h0M421.9 51.9h0M420.6 44.0h0M434.4 35.9h0M442.0 35.7h0M421.5 64.3h0M433.8 86.1h0M422.6 86.2h0M428.8 81.4h0M437.2 72.0h0M442.0 73.9h0M437.6 50.8h0M443.2 53.3h0M437.4 50.1h0M412.8 97.8h0M425.7 72.0h0M443.4 86.4h0M345.7 67.2h0M440.5 51.9h0M434.2 40.2h0M440.7 63.1h0M431.8 47.3h0M442.6 58.8h0M442.6 36.0h0M427.7 66.0h0M440.1 84.7h0M427.6 55.7h0M442.0 56.0h0M437.6 58.5h0M405.8 77.9h0M420.1 82.3h0M430.4 39.8h0M435.1 79.1h0M439.6 76.5h0M436.3 71.7h0M438.9 45.2h0M416.8 91.0h0M427.7 80.6h0M423.1 95.8h0M440.5 81.4h0M414.4 98.9h0M419.5 43.1h0M427.5 79.9h0M421.4 71.6h0M417.5 91.2h0M438.8 75.4h0M435.2 90.6h0M441.3 83.0h0M439.5 53.1h0M429.4 42.7h0M420.3 47.1h0M429.8 77.3h0M442.7 55.5h0M439.4 45.3h0M434.7 37.6h0M421.0 67.9h0M433.0 63.7h0M435.3 46.8h0M429.5 66.2h0M428.9 65.6h0M439.0 71.0h0M429.8 84.1h0M429.5 76.2h0M428.3 87.4h0M426.7 84.4h0M416.2 87.9h0M430.4 83.7h0M427.5 87.6h0M436.3 61.2h0M444.6 39.4h0M443.1 52.7h0M434.5 89.0h0M437.7 82.9h0M418.8 84.0h0M441.3 59.6h0M437.2 80.6h0M422.8 84.9h0M417.7 85.6h0M425.4 37.3h0M423.1 37.7h0M443.7 85.9h0M423.0 48.8h0M426.0 81.8h0M430.1 52.2h0M441.3 76.4h0M430.5 81.0h0M421.5 89.9h0M419.1 46.0h0M425.9 50.9h0M442.4 53.0h0M424.0 84.3h0M441.7 42.0h0M434.4 72.7h0M416.9 96.4h0M428.9 64.7h0M434.3 67.2h0M419.8 91.5h0M425.7 81.2h0M424.0 46.5h0M427.5 57.9h0M422.2 52.0h0M428.9 85.4h0M426.3 74.0h0M430.0 92.7h0M434.4 86.9h0M424.3 77.7h0M446.7 42.8h0M417.4 94.8h0M419.5 46.5h0M420.3 56.5h0M428.7 56.2h0M421.6 84.9h0M429.7 85.4h0M421.0 66.2h0M431.5 81.1h0M443.6 41.6h0" stroke="#D55E00" stroke-width="2.0" stroke-linecap="round" fill="none"/>
<path d="M311.2 76.1h0M350.4 67.9h0M334.3 76.6h0M353.7 59.2h0M344.4 154.7h0M351.0 55.6h0M344.2 62.5h0M348.4 70.9h0M340.3 51.1h0M330.0 115.9h0M415.5 92.9h0M338.2 81.2h0M331.0 118.5h0M341.0 132.3h0M306.0 75.3h0M314.7 77.4h0M369.7 181.1h0M346.1 58.4h0M355.2 104.3h0M365.7 120.7h0M330.0 114.6h0M350.5 164.7h0M348.7 75.6h0M316.1 102.0h0M350.6 129.6h0M338.2 140.3h0M335.6 65.7h0M338.3 90.1h0M316.1 78.0h0M348.7 164.0h0M400.5 81.4h0M315.3 80.1h0M341.5 62.2h0M399.6 91.0h0M328.9 56.8h0M382.1 178.1h0M341.2 150.0h0M345.8 76.4h0M387.7 169.2h0M308.9 75.6h0M334.7 52.0h0M375.8 89.9h0M333.8 53.2h0M341.0 149.5h0M339.2 142.8h0M359.7 96.6h0M355.2 174.5h0M329.5 113.6h0M338.0 61.7h0M329.6 134.1h0M308.4 69.8h0M335.1 68.9h0M344.2 74.6h0M332.4 65.6h0M355.7 165.1h0M352.3 63.4h0M341.1 71.7h0M338.9 148.3h0M346.2 146.8h0M329.9 56.2h0M320.9 106.6h0M332.2 67.9h0M368.4 88.9h0M343.3 69.5h0M349.5 57.3h0M360.1 88.1h0M362.4 142.8h0M333.8 139.0h0M350.4 72.6h0M338.5 67.4h0M324.4 78.2h0M371.7 164.4h0M378.5 101.9h0M318.6 73.3h0M337.1 72.4h0M351.6 169.7h0M338.4 75.5h0M353.6 108.6h0M344.0 103.8h0M349.2 126.5h0M339.9 52.6h0M313.7 67.9h0M348.4 59.1h0M400.2 81.0h0M342.0 52.5h0M344.3 74.9h0M345.5 60.7h0M333.0 126.3h0M342.1 137.1h0M334.4 149.9h0M349.1 77.6h0M336.1 68.3h0M346.9 65.1h0M341.7 62.4h0M337.4 123.9h0M337.2 53.9h0M334.5 65.0h0M404.0 72.0h0M332.7 72.6h0M361.7 191.9h0M380.1 177.5h0M373.9 152.8h0M337.0 48.7h0M336.1 113.3h0M334.7 142.7h0M413.0 99.0h0M350.2 57.8h0M322.3 53.7h0M327.0 69.9h0M343.5 55.2h0M340.2 72.9h0M344.1 74.7h0M342.9 52.7h0M330.2 102.2h0M348.1 109.5h0M389.3 106.9h0M388.4 127.4h0M358.0 177.7h0M337.2 63.8h0M325.4 81.0h0M338.2 52.3h0M332.6 75.4h0M324.2 116.5h0M354.4 153.0h0M337.8 128.9h0M330.9 61.3h0M326.0 55.2h0M333.7 50.9h0M343.4 77.4h0M339.9 51.2h0M345.2 102.9h0M338.2 142.4h0M423.9 79.7h0M345.5 71.5h0M307.4 84.3h0M349.2 73.2h0M329.4 117.4h0M354.8 167.0h0M345.4 56.0h0M386.2 97.4h0M310.1 63.1h0M401.6 90.6h0M337.8 58.0h0M356.1 141.7h0M348.4 90.2h0M342.9 74.7h0M321.6 115.2h0M327.6 112.4h0" stroke="#CC79A7" stroke-width="2.0" stroke-linecap="round" fill="none"/>
<path d="M437.4 49.9h0M421.9 75.2h0M429.2 76.8h0M435.1 37.9h0M438.4 82.0h0M426.4 38.9h0M438.6 83.1h0M429.7 41.4h0M417.9 91.8h0M417.5 83.3h0M429.7 56.7h0M421.2 92.6h0M421.7 69.6h0M434.3 65.2h0M432.3 70.7h0M421.7 46.8h0M433.4 55.2h0M422.4 85.9h0M442.6 81.5h0M429.1 49.0h0M424.6 38.5h0M425.6 72.4h0M432.6 54.4h0M424.9 85.3h0M437.9 76.0h0M441.2 67.8h0M432.7 90.3h0M433.3 43.7h0M419.2 90.9h0M430.3 87.8h0M430.0 68.9h0M442.8 50.8h0M428.6 61.3h0M429.9 45.7h0M435.6 67.8h0M431.9 72.2h0M423.3 48.5h0M424.8 49.5h0M435.8 38.0h0M423.9 47.7h0M420.2 91.9h0M440.0 86.5h0M437.3 82.6h0M428.4 75.8h0M412.4 96.6h0M438.6 54.4h0M435.3 47.9h0M430.3 77.1h0M421.0 91.2h0M421.9 66.3h0M427.1 60.1h0M421.0 76.1h0M435.3 64.4h0M423.1 69.3h0M427.0 73.5h0M434.8 54.3h0M418.0 56.7h0M429.2 89.2h0M442.6 55.6h0M423.7 72.0h0M427.2 36.3h0M445.4 48.0h0M433.4 61.7h0M417.1 99.7h0M431.3 56.1h0M431.3 79.5h0M442.9 85.0h0M426.6 37.8h0M431.8 82.1h0M444.1 49.7h0M430.8 62.8h0M415.0 97.8h0M432.9 89.6h0M436.0 58.6h0M429.5 51.6h0M425.0 83.8h0M443.5 51.4h0M437.7 75.9h0M423.6 63.8h0M427.0 91.4h0M437.3 50.9h0M441.0 42.7h0M437.8 80.0h0M436.6 86.6h0M419.9 42.2h0M422.5 86.7h0M436.4 58.8h0M431.7 75.8h0M437.7 88.5h0M434.0 67.2h0M431.5 75.6h0M405.3 78.0h0M421.0 93.0h0M436.2 89.6h0M428.4 68.7h0M418.4 94.9h0M426.0 77.7h0M417.1 80.8h0M423.3 38.0h0M427.9 40.0h0M442.6 80.6h0M436.0 50.4h0M434.4 58.0h0M441.6 74.5h0M442.6 44.0h0M405.3 83.5h0M427.8 65.4h0M438.4 46.2h0M432.4 44.1h0M436.8 41.4h0M423.5 81.2h0M433.9 74.1h0M433.3 38.7h0M426.3 41.0h0M437.9 41.1h0M420.0 46.2h0M434.8 62.0h0M418.6 86.3h0M437.6 60.4h0M442.1 81.2h0M434.8 54.9h0M435.4 40.5h0M424.4 86.2h0M436.9 73.5h0M437.8 91.2h0M422.4 71.1h0M440.7 43.5h0M433.1 69.7h0M338.5 62.1h0M412.5 100.9h0M427.4 37.3h0M430.6 63.5h0M431.9 82.0h0M413.7 100.5h0M427.9 63.3h0M439.0 44.1h0M425.9 48.1h0M421.1 47.9h0M444.5 56.9h0M417.9 87.6h0M437.9 55.8h0M422.6 41.1h0M354.5 70.1h0M424.5 54.9h0M441.9 54.5h0M416.6 96.0h0M419.8 85.5h0M433.8 81.0h0M442.9 60.0h0M436.7 49.1h0M409.4 100.4h0M427.6 90.6h0M419.2 75.6h0M428.0 73.2h0M436.7 91.7h0M436.7 51.3h0M430.3 78.6h0M444.2 37.6h0M435.3 82.7h0M437.5 86.0h0M442.9 55.5h0M440.7 62.8h0M427.4 37.6h0M423.1 90.6h0M442.1 59.5h0M431.9 82.0h0M431.9 92.9h0M440.7 82.0h0M444.8 41.2h0M436.4 74.8h0M427.3 77.3h0M423.6 75.8h0M438.9 88.2h0M433.1 88.4h0M439.5 45.8h0M435.8 64.2h0M434.5 37.9h0M431.9 90.0h0M429.7 41.6h0M442.7 36.8h0M410.7 99.9h0" stroke="#D55E00" stroke-width="2.0" stroke-linecap="round" fill="none"/>
<path d="M378.2 212.7h0M377.1 166.0h0M340.2 85.1h0M384.0 138.9h0M389.5 118.0h0M360.7 182.4h0M311.3 91.2h0M377.8 97.2h0M383.9 167.1h0M375.4 113.6h0M383.4 127.1h0M371.6 161.8h0M355.1 134.4h0M367.8 107.6h0M394.2 141.2h0M371.3 139.0h0M386.5 86.9h0M362.7 96.1h0M337.7 104.7h0M335.6 67.7h0M349.8 126.8h0M384.7 114.6h0M363.5 110.5h0M329.7 133.2h0M360.9 126.6h0M355.6 119.9h0M319.3 95.4h0M369.4 108.8h0M378.8 174.3h0M368.1 173.6h0M330.5 98.4h0M388.0 101.1h0M347.9 80.8h0M383.8 151.8h0M349.2 157.7h0M352.9 74.1h0M339.7 135.6h0M310.1 81.9h0M332.4 123.2h0M370.3 135.0h0M351.5 152.0h0M390.4 100.1h0M387.6 147.6h0M376.2 115.8h0M400.0 80.5h0M344.2 127.8h0M353.5 142.2h0M386.5 158.9h0M393.5 133.0h0M318.3 75.3h0M342.3 100.6h0M391.8 88.9h0M355.6 130.1h0M385.1 122.3h0M371.8 184.9h0M367.7 195.5h0M368.3 195.2h0M377.4 153.5h0M378.9 129.9h0M365.4 128.4h0M381.8 105.4h0M393.1 85.7h0M373.4 105.7h0M368.3 166.1h0M346.8 104.9h0M387.0 101.7h0M345.2 166.4h0M374.9 116.6h0M332.8 129.2h0M378.6 215.2h0M389.2 146.1h0M351.6 141.2h0M367.9 164.3h0M349.5 158.3h0M379.5 217.5h0M373.1 136.3h0M365.0 127.3h0M391.3 122.8h0M359.4 146.4h0M372.2 112.6h0M350.8 93.1h0M332.4 83.2h0M329.7 132.9h0M384.7 191.6h0M306.8 85.6h0M372.4 207.5h0M357.2 134.3h0M383.8 117.4h0M375.2 114.8h0M361.8 139.0h0M382.6 118.8h0M378.8 118.8h0M381.0 158.8h0M373.7 158.7h0M388.7 120.7h0M394.9 126.8h0M368.6 120.8h0M366.3 161.7h0M375.1 142.5h0M382.0 206.2h0M352.2 173.3h0M441.3 75.5h0M377.6 119.3h0M375.7 171.6h0M332.0 107.2h0M364.6 95.0h0M383.2 149.5h0M346.3 156.3h0M371.3 179.5h0M316.5 91.1h0M339.4 119.0h0M352.1 133.2h0M332.2 85.9h0M392.8 81.0h0M363.3 132.8h0M372.3 143.7h0M385.9 118.6h0M343.2 143.5h0M331.9 106.3h0M339.4 137.0h0M356.7 124.9h0M391.6 148.1h0M358.9 131.0h0M397.5 106.5h0M349.0 170.6h0M366.9 164.3h0M374.2 101.1h0M361.1 143.1h0M386.9 101.4h0M343.4 85.1h0M359.6 109.7h0M379.7 113.2h0M369.9 123.7h0M387.7 141.2h0M357.9 142.7h0M324.2 79.1h0M379.8 215.6h0M394.8 135.1h0M380.0 119.8h0M390.1 152.5h0M325.9 115.4h0M356.9 115.2h0M344.9 166.0h0M363.7 143.3h0M332.0 140.2h0M335.6 94.7h0M355.9 149.0h0M348.7 96.0h0M345.2 143.5h0M359.3 132.1h0M395.2 91.3h0M375.5 174.3h0M334.8 96.9h0M387.6 172.7h0M374.3 94.3h0M355.0 103.9h0M345.9 148.0h0M369.9 179.2h0M336.0 81.0h0M324.0 82.8h0M338.8 119.1h0M366.2 127.5h0M442.9 80.0h0M377.1 168.8h0M323.2 79.3h0M372.2 165.9h0M352.5 160.3h0M379.6 215.0h0M332.6 136.5h0M400.0 106.8h0M393.0 116.0h0M388.3 85.9h0M359.5 121.1h0M313.1 93.3h0M366.7 176.3h0M319.8 59.7h0M319.7 84.1h0M388.0 155.8h0M374.0 214.8h0M377.4 217.2h0M365.0 129.3h0M386.4 152.7h0M352.6 74.1h0M382.3 141.5h0M392.1 98.8h0M443.1 40.8h0M392.7 135.0h0M349.0 155.0h0M383.9 123.8h0M353.9 174.3h0M385.7 121.4h0M314.1 101.5h0M350.7 123.3h0M366.2 160.7h0M358.6 173.8h0M350.6 155.1h0M375.7 177.5h0M435.6 59.0h0M374.4 156.3h0M395.3 99.7h0M386.6 114.9h0M441.3 40.9h0M346.4 156.0h0M370.3 104.5h0M381.7 206.0h0M323.9 80.2h0M360.8 152.2h0M347.8 105.3h0M386.3 133.0h0M366.7 105.2h0M355.6 162.3h0M355.6 103.8h0M382.7 168.0h0M367.3 165.9h0M392.6 99.1h0M363.3 117.5h0M388.7 135.4h0M355.8 96.5h0M380.9 150.7h0M371.0 92.9h0M382.2 114.4h0M370.4 120.5h0M394.6 98.4h0M377.0 103.3h0M381.4 112.9h0M369.3 161.6h0M331.1 86.2h0M321.0 84.6h0M368.2 156.4h0M368.4 195.4h0M379.9 209.2h0M341.0 114.2h0M352.8 153.3h0M331.4 115.3h0M341.8 146.9h0M335.7 63.4h0M349.1 155.9h0M329.8 128.6h0M337.4 95.8h0" stroke="#0072B2" stroke-width="2.0" stroke-linecap="round" fill="none"/>
<path d="M347.4 92.5h0M379.5 217.9h0M350.8 153.8h0M330.1 103.6h0M362.0 142.9h0M322.1 84.4h0M372.9 118.9h0M359.6 174.3h0M308.8 82.9h0M319.6 98.9h0M361.8 192.4h0M352.0 134.5h0M422.5 54.4h0M330.6 82.0h0M345.8 114.6h0M322.9 99.6h0M356.3 99.9h0M356.4 169.6h0M425.7 93.0h0M418.4 73.6h0M382.4 181.2h0M304.4 90.7h0M380.5 180.1h0M343.5 137.9h0M346.5 68.4h0M358.5 160.1h0M371.4 92.5h0M329.1 88.3h0M329.9 56.0h0M326.3 82.6h0M330.4 88.2h0M331.9 120.9h0M342.1 94.1h0M350.6 176.7h0M333.2 61.2h0M307.0 86.6h0M357.3 178.3h0M355.6 176.6h0M346.7 165.1h0M319.1 98.9h0M359.3 163.4h0M389.8 156.8h0M330.8 119.0h0M348.9 161.7h0M342.3 105.1h0M315.1 87.3h0M314.1 79.7h0M323.3 59.7h0M369.3 191.1h0M334.2 138.8h0M347.7 83.6h0M369.8 169.4h0M326.8 54.2h0M367.3 166.3h0M346.1 164.5h0M364.1 186.8h0M326.2 100.6h0M443.1 36.5h0M305.6 90.0h0M323.2 77.1h0M369.0 188.9h0M384.2 152.1h0M333.4 132.6h0M345.3 113.2h0M352.0 73.9h0M384.7 192.4h0M364.9 121.8h0M324.9 110.3h0M354.4 151.0h0M351.4 175.7h0M421.8 54.0h0M368.5 183.7h0M341.6 81.7h0M334.9 140.4h0M331.4 125.7h0M374.7 207.0h0M432.1 40.5h0M362.8 176.6h0M327.2 99.0h0M309.1 82.7h0M325.0 108.6h0M336.6 81.9h0M334.3 103.1h0M361.1 178.9h0M319.5 90.5h0M419.1 74.4h0M379.7 148.9h0M315.6 89.2h0M320.0 102.7h0M322.6 58.4h0M373.0 94.2h0M325.4 105.9h0M379.3 113.2h0M355.4 176.5h0M320.9 101.5h0M311.9 93.9h0M311.3 94.7h0M340.0 157.1h0M315.7 62.1h0M354.4 174.0h0M320.3 57.0h0M357.6 145.5h0M326.9 80.3h0M330.0 52.7h0M323.2 85.2h0M431.3 69.2h0M445.1 76.4h0M359.5 166.2h0M317.0 87.6h0M323.6 82.9h0M344.3 154.3h0M332.5 136.6h0M326.3 84.3h0M351.8 169.0h0M317.8 97.2h0M347.9 154.1h0M313.7 68.4h0M351.2 169.2h0M319.2 95.5h0M327.7 53.1h0M337.0 143.5h0M371.2 128.2h0M376.1 215.5h0M331.5 59.7h0M363.2 184.5h0M316.3 58.1h0M318.8 97.9h0M308.3 84.7h0M374.6 119.8h0M311.3 91.4h0M307.4 82.2h0M316.4 75.5h0M388.0 109.6h0M330.4 71.4h0M343.4 71.3h0M329.7 58.3h0M348.4 126.2h0M338.2 130.0h0M428.4 42.5h0M322.3 100.2h0M346.5 169.0h0M335.7 75.6h0M331.6 101.2h0M326.1 101.3h0M336.8 139.5h0M328.5 60.4h0M320.2 60.8h0M306.9 85.4h0M345.3 84.6h0" stroke="#56B4E9" stroke-width="2.0" stroke-linecap="round" fill="none"/>
<path d="M335.4 114.5h0M348.6 106.5h0M333.1 127.6h0M344.1 62.6h0M397.2 93.1h0M349.3 107.2h0M369.4 119.8h0M344.8 67.3h0M348.4 73.6h0M335.9 52.9h0M331.2 102.7h0M326.2 111.9h0M328.9 50.7h0M344.3 135.6h0M338.2 76.7h0M328.4 117.1h0M353.6 74.5h0M323.9 75.8h0M347.7 78.2h0M331.0 52.8h0M326.9 57.9h0M343.6 74.4h0M342.1 61.6h0M368.8 194.0h0M339.4 80.1h0M330.3 90.3h0M424.1 42.6h0M327.8 95.2h0M349.3 104.4h0M340.7 84.2h0M314.4 78.7h0M313.0 69.7h0M395.0 77.0h0M369.2 179.8h0M348.4 77.1h0M341.5 62.2h0M316.9 80.9h0M315.8 77.5h0M313.3 69.3h0M334.9 127.5h0M336.1 69.8h0M338.4 147.8h0M331.9 110.5h0M340.9 126.3h0M345.1 57.2h0M331.1 103.8h0M401.6 78.3h0M373.3 160.0h0M332.4 70.2h0M380.8 179.4h0M330.8 116.4h0M339.7 75.4h0M350.2 58.4h0M396.2 86.6h0M342.1 48.6h0M323.6 76.3h0M338.5 53.9h0M340.4 59.0h0M349.0 72.8h0M359.3 101.5h0M342.5 73.6h0M347.6 81.0h0M346.4 57.4h0M345.1 104.9h0M330.2 113.4h0M403.0 82.0h0M357.2 97.2h0M347.7 90.5h0M343.2 59.3h0M347.9 144.2h0M322.2 53.7h0M325.9 106.0h0M344.0 50.0h0M340.4 77.9h0M361.0 100.4h0M347.8 60.1h0M334.1 78.3h0M319.0 66.7h0M342.6 69.7h0M341.0 104.0h0M341.5 67.3h0M312.9 75.9h0M319.6 98.1h0M336.9 86.1h0M354.6 137.2h0M333.4 82.7h0M345.1 55.6h0M336.4 55.1h0M390.5 115.8h0M382.9 86.7h0M346.1 144.4h0M327.7 51.1h0M317.3 61.5h0M339.8 51.1h0M341.6 89.2h0M329.7 78.3h0M335.7 63.7h0M328.5 55.3h0M322.2 53.9h0M342.3 90.5h0M422.0 79.3h0M326.2 105.3h0M442.1 71.7h0M342.4 53.0h0M319.1 98.6h0M343.1 78.8h0M384.2 89.0h0M315.7 76.0h0M331.3 62.6h0M338.6 75.4h0M326.8 69.3h0M326.4 68.9h0M355.9 95.9h0M435.6 40.3h0M354.6 61.2h0M337.1 81.9h0M318.2 92.4h0M340.4 51.0h0M317.3 79.2h0M334.2 133.5h0M401.5 78.4h0M380.8 178.0h0M346.0 146.3h0M357.9 179.8h0M317.3 102.6h0M350.3 153.1h0M314.5 76.3h0M333.3 110.8h0M357.0 74.0h0M324.2 83.4h0M400.3 91.6h0M327.5 71.3h0M343.8 130.1h0M343.4 53.3h0M342.4 63.7h0M337.7 60.7h0M332.4 76.2h0M401.8 87.5h0M350.0 128.2h0M357.4 185.7h0M339.6 57.3h0M430.7 78.5h0M324.8 79.2h0M338.5 122.9h0M314.5 82.6h0M314.6 75.9h0M355.9 169.4h0" stroke="#CC79A7" stroke-width="2.0" stroke-linecap="round" fill="none"/>
<path d="M326.6 55.2h0M362.0 191.8h0M349.6 146.8h0M344.5 136.2h0M331.7 55.3h0M314.0 58.8h0M352.1 77.6h0M337.8 77.5h0M335.0 113.2h0M325.5 95.3h0M316.3 57.1h0M327.5 67.4h0M318.0 57.7h0M333.5 57.1h0M342.6 96.5h0M337.2 53.2h0M346.0 72.7h0M319.4 65.7h0M328.1 58.4h0M311.9 80.8h0M332.6 73.3h0M338.8 77.6h0M319.4 57.4h0M315.5 69.5h0M324.0 78.2h0M377.0 198.3h0M339.2 71.9h0M343.8 126.3h0M337.3 52.9h0M336.8 61.9h0M327.8 49.9h0M346.4 74.1h0M349.0 136.9h0M314.2 69.3h0M351.4 95.6h0M330.5 111.3h0M329.4 110.0h0M318.2 62.7h0M346.4 63.5h0M318.5 54.0h0M309.4 66.0h0M318.8 76.4h0M320.4 73.7h0M330.4 110.1h0M317.8 67.6h0M320.1 61.1h0M312.5 66.6h0M344.6 136.7h0M336.3 100.6h0M315.7 60.0h0M370.1 88.5h0M338.1 72.1h0M333.9 75.0h0M327.7 65.7h0M328.9 124.7h0M342.6 54.2h0M398.1 80.1h0M315.8 95.5h0M326.1 98.5h0M335.6 142.9h0M338.3 141.5h0M330.5 68.1h0M310.3 76.3h0M331.3 67.6h0M321.1 55.6h0M309.4 79.6h0M309.2 70.0h0M342.3 107.0h0M326.5 97.6h0" stroke="#F0E442" stroke-width="2.0" stroke-linecap="round" fill="none"/>
<path d="M374.2 173.2h0M400.5 90.3h0M399.7 81.9h0M380.3 155.5h0M343.0 70.2h0M361.5 90.0h0M330.0 139.9h0M322.5 91.2h0M376.1 99.1h0M361.2 188.2h0M352.7 134.2h0M337.6 95.8h0M428.1 77.9h0M379.6 203.0h0M367.0 96.4h0M371.4 169.2h0M392.5 113.6h0M371.6 183.0h0M354.3 93.2h0M360.2 90.2h0M351.1 88.5h0M361.3 155.6h0M364.8 127.8h0M382.2 119.3h0M373.9 123.1h0M351.7 121.5h0M420.1 47.5h0M384.8 126.9h0M387.0 140.5h0M367.0 119.1h0M317.8 106.0h0M381.4 194.0h0M361.7 87.6h0M346.4 104.6h0M361.9 190.8h0M379.8 132.6h0M394.2 108.8h0M392.8 85.9h0M389.6 130.8h0M369.7 106.1h0M359.7 171.2h0M376.5 193.1h0M392.2 87.0h0M374.2 97.2h0M388.7 149.0h0M371.6 157.1h0M342.1 93.3h0M369.2 109.7h0M345.7 156.6h0M366.9 131.3h0M374.8 137.4h0M384.2 136.3h0M371.3 137.8h0M338.1 151.5h0M339.8 129.0h0M376.0 186.6h0M355.8 115.4h0M344.8 162.1h0M395.2 85.4h0M388.9 84.8h0M353.9 141.6h0M393.2 109.3h0M372.2 94.4h0M360.5 159.6h0M382.3 98.5h0M371.5 142.9h0M394.3 109.9h0M359.8 146.1h0M383.0 83.6h0M383.2 197.2h0M368.2 148.0h0M375.3 209.3h0M376.0 195.9h0M332.4 95.6h0M311.6 86.7h0M393.7 94.8h0M377.4 165.5h0M374.2 122.8h0M334.1 139.6h0M338.4 126.3h0M355.6 120.2h0M371.2 170.9h0M322.0 90.3h0M376.2 128.7h0M339.8 100.3h0M335.4 145.2h0M387.8 99.3h0M389.1 161.7h0M366.4 127.7h0M351.0 159.8h0M347.3 86.0h0M360.4 118.3h0M359.9 155.1h0M401.2 105.1h0M401.3 99.3h0M386.3 140.0h0M372.1 200.0h0M364.8 123.4h0M351.0 90.0h0M359.2 167.7h0M343.0 62.4h0M394.5 118.5h0M361.6 161.7h0M370.4 178.1h0M347.7 101.1h0M389.0 118.9h0M385.3 159.5h0M358.0 85.0h0M372.1 144.3h0M365.6 193.3h0M379.7 141.3h0M350.0 129.2h0M334.9 89.9h0M378.1 214.9h0M378.8 164.9h0M389.5 165.1h0M353.6 99.6h0M367.6 147.2h0M376.2 196.1h0M371.2 144.2h0M327.6 73.5h0M383.7 105.0h0M380.0 165.3h0M351.6 169.8h0M373.3 132.4h0M371.4 182.0h0M341.2 161.3h0M369.3 128.9h0M388.9 162.9h0M346.1 166.4h0M399.1 110.8h0M389.7 100.6h0M374.3 164.2h0M390.6 121.6h0M377.7 184.3h0M347.9 129.3h0M385.6 161.1h0M334.8 144.4h0M377.8 196.4h0M372.4 150.2h0M351.1 85.9h0M320.7 91.2h0M387.9 149.0h0M382.4 187.5h0M353.0 89.4h0M388.2 122.4h0M337.8 124.5h0M350.3 115.3h0M372.4 131.9h0M364.8 123.0h0M303.6 89.2h0M374.6 132.4h0M346.3 166.8h0M382.0 186.7h0M363.1 114.3h0M380.8 208.1h0M359.7 146.0h0M366.6 129.9h0M377.8 106.5h0M356.5 144.4h0M330.6 70.4h0M378.9 158.9h0M381.6 202.8h0M373.6 154.4h0M361.2 112.4h0M327.2 89.3h0M333.0 92.0h0M392.9 119.3h0M362.9 155.1h0M339.0 131.1h0M347.3 69.3h0M385.8 160.7h0M378.1 120.2h0M360.2 143.4h0M366.0 95.9h0M390.8 127.8h0M349.5 101.7h0M371.5 108.7h0M396.1 94.4h0M390.5 115.0h0M383.0 128.4h0M322.3 91.9h0M389.0 81.6h0M397.5 96.6h0M384.4 181.7h0M357.2 111.2h0M384.7 101.0h0M386.1 102.4h0M376.0 120.1h0M342.6 65.9h0M371.8 185.6h0M369.8 147.1h0M350.2 153.4h0M393.4 106.9h0M334.8 134.5h0M389.4 138.8h0M381.7 200.0h0M347.1 83.9h0M339.8 80.8h0M326.6 51.5h0M374.7 161.4h0M400.1 89.6h0M363.8 96.3h0M360.2 131.2h0M377.9 119.2h0M318.7 100.7h0M342.0 144.8h0M335.1 113.3h0M372.2 93.4h0M352.8 91.8h0M331.5 125.0h0M311.0 71.3h0M367.8 164.5h0M372.7 203.2h0M321.4 89.2h0M380.4 198.4h0M383.7 128.9h0M394.5 131.9h0M390.7 160.0h0M380.7 165.7h0M354.2 142.0h0M372.9 100.0h0M331.9 139.9h0M361.7 164.9h0M380.1 163.3h0M347.8 137.0h0M423.2 76.8h0M372.4 181.6h0M349.3 121.9h0M392.8 114.5h0M378.9 169.2h0M393.5 108.3h0M380.0 132.5h0M380.1 162.0h0M389.2 83.2h0" stroke="#009E73" stroke-width="2.0" stroke-linecap="round" fill="none"/>
<path d="M392.5 141.0h0M350.6 138.7h0M349.7 71.0h0M383.7 98.7h0M392.0 96.6h0M381.0 139.7h0M384.9 120.0h0M356.9 112.3h0M363.1 164.4h0M350.9 135.1h0M367.9 146.4h0M363.5 192.3h0M377.1 202.9h0M349.3 55.8h0M348.5 67.1h0M392.3 128.7h0M339.1 106.6h0M337.3 139.1h0M366.3 86.7h0M373.6 176.1h0M337.4 108.8h0M370.1 152.1h0M374.4 169.5h0M350.0 139.2h0M357.0 105.6h0M327.6 103.0h0M364.1 127.0h0M370.8 187.1h0M368.1 132.3h0M382.9 91.2h0M383.9 166.4h0M394.8 103.0h0M366.9 166.6h0M381.5 89.2h0M364.9 169.5h0M355.4 114.3h0M391.9 100.5h0M364.9 96.3h0M327.5 104.3h0M379.1 198.6h0M346.9 66.8h0M392.7 123.1h0M373.0 128.6h0M378.6 127.9h0M365.6 128.0h0M358.6 156.5h0M378.6 131.9h0M374.4 158.2h0M371.4 139.6h0M336.6 89.3h0M372.0 143.3h0M375.1 134.1h0M372.1 138.8h0M370.7 181.4h0M357.2 112.4h0M370.2 205.9h0M370.3 124.5h0M339.4 107.7h0M361.3 144.7h0M361.6 142.4h0M379.7 201.4h0M322.5 73.8h0M376.5 152.6h0M369.3 202.7h0M395.1 102.8h0M380.3 129.5h0M382.7 150.1h0M333.7 129.1h0M352.7 126.9h0M391.2 165.4h0M358.4 158.2h0M382.9 135.3h0M364.6 154.9h0M378.9 128.2h0M361.7 156.8h0M385.1 178.0h0M352.8 175.3h0M373.6 162.6h0M373.1 135.3h0M383.1 85.6h0M327.3 75.7h0M316.8 52.2h0M353.8 122.2h0M364.1 88.9h0M379.0 96.0h0M353.6 107.7h0M345.6 96.9h0M385.0 176.6h0M389.9 89.5h0M357.1 110.1h0M389.3 164.6h0M379.0 155.0h0M324.6 89.1h0M323.4 74.2h0M349.4 111.1h0M356.3 106.1h0M383.1 146.6h0M387.6 88.9h0M353.6 148.0h0M325.0 106.2h0M345.5 150.1h0M379.5 165.1h0M361.5 160.7h0M372.7 155.5h0M367.3 199.4h0M375.6 113.9h0M357.2 174.4h0M374.1 163.0h0M389.4 117.5h0M373.6 185.8h0M379.6 177.6h0M360.6 141.0h0M371.8 122.1h0M373.2 148.0h0M383.8 100.9h0M383.1 121.6h0M383.6 138.9h0M367.7 139.4h0M356.5 114.9h0M366.0 100.7h0M335.0 111.5h0M327.1 104.0h0M335.5 102.5h0M397.7 91.7h0M374.5 167.0h0M330.5 110.9h0M358.9 92.6h0M383.0 90.7h0M363.8 122.6h0M375.2 205.2h0M382.1 101.4h0M399.0 115.0h0M354.7 92.6h0M359.5 158.1h0M348.2 171.6h0M372.4 144.6h0M394.8 137.8h0M362.3 185.1h0M345.3 108.8h0M390.1 124.8h0M373.6 125.1h0M385.1 120.3h0M350.1 125.9h0M384.1 119.3h0M355.8 127.1h0M326.3 88.1h0M390.9 125.5h0M378.4 106.2h0M382.3 160.9h0M364.7 116.9h0M368.2 156.2h0M372.2 139.1h0M341.1 69.7h0M363.9 121.3h0M375.8 149.7h0M400.0 97.1h0M363.7 116.0h0M336.7 136.6h0M367.4 108.5h0M364.9 156.2h0" stroke="#E69F00" stroke-width="2.0" stroke-linecap="round" fill="none"/>
<path d="M387.0 156.6h0M357.0 100.8h0M369.2 152.2h0M340.5 94.3h0M335.8 119.0h0M357.5 118.0h0M348.8 100.2h0M347.8 63.2h0M384.9 116.7h0M390.7 137.6h0M383.8 120.3h0M364.4 166.1h0M397.3 92.2h0M334.3 78.6h0M360.3 175.4h0M392.7 128.2h0M384.6 142.6h0M356.5 150.3h0M379.0 124.2h0M376.4 156.0h0M354.1 131.5h0M339.9 123.8h0M340.8 97.8h0M345.2 163.7h0M381.7 115.5h0M388.1 118.3h0M367.5 196.5h0M371.3 97.7h0M385.5 118.7h0M373.4 201.6h0M327.2 104.9h0M387.2 108.6h0M369.3 128.0h0M388.3 125.1h0M372.4 188.3h0M383.7 171.8h0M341.7 160.4h0M396.4 131.7h0M336.1 103.3h0M369.3 127.3h0M376.5 99.9h0M371.4 206.8h0M359.3 122.9h0M381.6 164.4h0M379.2 156.7h0M362.7 185.6h0M346.2 100.3h0M384.6 108.7h0M357.7 151.5h0M391.3 124.8h0M377.4 106.5h0M365.1 162.5h0M358.5 158.0h0M336.9 104.3h0M405.9 88.8h0M369.4 153.5h0M362.6 102.6h0M354.3 101.9h0M374.4 133.9h0M373.0 152.0h0M398.6 77.7h0M384.0 118.5h0M364.0 154.7h0M369.5 152.3h0M360.5 190.2h0M391.0 92.7h0M380.0 154.9h0M345.1 110.9h0M380.3 88.8h0M352.5 95.8h0M392.9 143.0h0M385.1 160.9h0M369.0 164.4h0M379.0 196.1h0M342.5 138.3h0M375.9 145.7h0M395.6 101.9h0M385.9 177.3h0M337.3 107.1h0M371.4 179.9h0M367.1 162.7h0M337.0 114.4h0M342.8 139.9h0M355.7 152.6h0M360.5 140.6h0M388.3 90.3h0M388.3 89.5h0M356.2 162.8h0M379.2 194.9h0M390.2 144.4h0M364.8 117.9h0M353.0 130.2h0M364.3 127.2h0M367.6 152.7h0M360.7 104.1h0M364.4 97.6h0M370.8 113.3h0M364.5 87.9h0M369.7 124.7h0M391.6 156.0h0M389.4 87.1h0M372.9 188.5h0M370.7 114.5h0M388.1 123.9h0M363.7 185.3h0M357.4 161.3h0M334.7 93.0h0M361.0 113.5h0M378.0 140.7h0M354.6 175.2h0M336.9 136.7h0M391.4 87.3h0M383.6 117.3h0M351.8 174.4h0M342.8 136.7h0M351.2 67.3h0M310.6 66.3h0M382.6 151.0h0M362.8 119.3h0M396.8 136.9h0M355.2 101.0h0M401.3 93.6h0M366.8 113.7h0M382.6 186.9h0M348.6 57.7h0M385.2 100.6h0M373.2 143.4h0M354.6 151.2h0M392.6 113.2h0M386.8 147.1h0M381.4 215.8h0M339.2 97.6h0M374.3 185.6h0M370.2 177.4h0M390.1 163.4h0M386.1 98.6h0M374.6 132.1h0M372.4 128.9h0M368.2 195.3h0M395.6 101.4h0M350.7 62.9h0M335.4 122.2h0M347.0 92.1h0M350.6 128.1h0M359.3 97.2h0" stroke="#E69F00" stroke-width="2.0" stroke-linecap="round" fill="none"/>
<path d="M326.8 108.4h0M366.3 98.2h0M319.6 56.3h0M313.8 70.9h0M317.7 66.8h0M329.2 70.7h0M319.4 62.8h0M335.2 68.9h0M311.3 81.2h0M313.5 61.8h0M334.3 67.8h0M345.4 110.4h0M355.5 167.7h0M396.9 79.6h0M314.8 73.3h0M325.3 71.6h0M370.5 191.2h0M315.3 75.3h0M342.1 76.1h0M330.7 51.0h0M315.5 61.3h0M334.0 135.1h0M325.9 113.4h0M333.8 68.5h0M339.8 51.1h0M344.1 108.3h0M314.3 54.9h0M315.0 56.3h0M364.6 180.7h0M323.3 74.5h0M367.9 189.5h0M318.5 54.2h0M334.9 50.2h0M320.5 57.7h0M326.6 73.4h0M335.4 115.6h0M319.0 94.6h0M335.5 134.2h0M340.6 74.1h0M311.2 71.0h0M400.7 89.3h0M320.8 58.9h0M402.6 83.0h0M344.5 72.8h0M345.1 68.3h0M346.2 62.6h0M387.2 86.6h0M308.1 73.7h0M372.0 87.8h0M332.6 58.9h0M315.3 55.8h0M339.9 145.0h0M317.6 56.3h0M313.8 58.5h0M326.6 100.8h0M332.9 82.9h0M345.3 68.8h0M308.9 74.6h0M328.6 49.4h0" stroke="#F0E442" stroke-width="2.0" stroke-linecap="round" fill="none"/>
<path d="M441.1 52.4h0M431.8 57.0h0M427.0 47.3h0M414.9 99.6h0M436.3 61.0h0M442.9 85.4h0M432.8 91.5h0M426.6 74.7h0M421.8 80.7h0M422.6 42.7h0M420.8 92.3h0M420.6 97.1h0M431.9 85.8h0M442.9 50.6h0M441.2 63.0h0M435.8 35.5h0M438.9 85.3h0M443.6 78.5h0M435.1 81.3h0M345.2 70.8h0M440.7 61.8h0M415.4 94.9h0M418.4 89.5h0M430.7 93.7h0M441.8 85.2h0M420.0 42.5h0M441.6 58.9h0M423.2 60.2h0M433.5 79.2h0M445.3 41.2h0M419.5 95.8h0M443.4 84.3h0M437.7 50.7h0M437.1 37.7h0M434.3 55.9h0M429.4 72.3h0M422.0 70.2h0M415.4 88.2h0M443.0 54.1h0M444.2 86.3h0M436.2 81.8h0M427.3 72.9h0M421.5 40.9h0M439.5 69.0h0M421.1 49.2h0M420.4 56.1h0M428.0 73.7h0M428.5 82.0h0M425.9 69.3h0M438.5 43.8h0M446.0 42.2h0M443.8 38.5h0M442.9 84.9h0M431.8 41.7h0M440.3 65.6h0M437.6 37.8h0M419.9 49.2h0M436.7 39.9h0M424.5 83.2h0M428.5 51.8h0M429.1 79.7h0M419.0 89.7h0M445.6 44.0h0M432.8 57.5h0M424.8 76.9h0M439.6 64.2h0M428.3 44.6h0M446.6 44.0h0M418.8 85.7h0M422.6 77.2h0M429.2 41.9h0M437.4 83.6h0M442.0 46.2h0M417.9 88.1h0M418.6 97.2h0M420.2 69.8h0M421.8 75.9h0M427.4 60.4h0M430.7 57.2h0M418.4 89.9h0M412.9 97.5h0M439.0 66.8h0M419.9 90.5h0M419.4 92.7h0M441.4 77.5h0M441.5 82.2h0M424.1 49.3h0M430.3 42.2h0M423.3 88.0h0M434.7 78.4h0M433.6 45.7h0M423.0 82.9h0M432.6 64.1h0M440.6 55.8h0M424.3 64.3h0M421.9 65.8h0M437.4 78.3h0M431.8 58.4h0M441.8 85.9h0M422.1 52.3h0M441.9 85.3h0M418.9 98.2h0M445.0 40.9h0M433.1 77.8h0M438.9 86.8h0M429.9 95.3h0M440.4 45.4h0M426.9 76.3h0M441.6 80.2h0M432.4 43.2h0M437.7 84.3h0M431.7 92.1h0M436.7 58.1h0M432.8 83.9h0M435.6 40.2h0M435.6 68.7h0M437.1 62.4h0M425.5 80.7h0M429.5 44.7h0M421.8 68.8h0M443.1 71.4h0M434.4 40.5h0M438.6 69.4h0M425.3 92.0h0M425.3 63.1h0M430.6 66.5h0M432.3 45.6h0M427.6 39.6h0M433.2 53.8h0M414.4 91.3h0M425.0 64.5h0M440.5 74.6h0M422.2 87.1h0M426.0 41.4h0M441.9 51.1h0M438.2 62.7h0M440.0 45.2h0M429.2 45.7h0M424.7 76.5h0M421.5 98.2h0M441.5 68.7h0M429.4 63.5h0M437.7 40.5h0M419.6 98.3h0M432.6 81.9h0M418.7 97.4h0M444.2 42.6h0M438.7 58.1h0M441.6 68.2h0M440.6 72.8h0M413.9 102.3h0M428.2 88.4h0M436.7 92.3h0M438.4 63.0h0M421.6 72.4h0M439.6 85.7h0M419.6 97.5h0M428.6 52.2h0M412.9 99.5h0M419.5 97.1h0M430.9 39.3h0M427.2 90.8h0M436.0 70.9h0M423.8 57.5h0M441.3 49.1h0M402.1 80.3h0M443.8 38.6h0M429.6 88.1h0M416.7 87.6h0M443.4 83.8h0M434.7 86.7h0M433.4 40.1h0M436.8 86.6h0M439.6 51.6h0M411.1 94.6h0M406.5 85.1h0M438.3 49.2h0M444.2 79.8h0M444.0 51.1h0M418.1 80.7h0M419.1 75.7h0M426.3 41.4h0M433.3 35.2h0M427.3 76.6h0M424.7 40.0h0M445.0 79.6h0M430.2 45.8h0M425.7 63.3h0M440.3 56.3h0M434.2 47.8h0M411.6 94.7h0M438.1 62.9h0M415.0 97.9h0M434.7 78.0h0M421.2 40.7h0M446.0 49.9h0M446.6 42.7h0M427.1 48.3h0" stroke="#D55E00" stroke-width="2.0" stroke-linecap="round" fill="none"/>
<path d="M317.9 104.9h0M383.3 196.9h0M363.1 192.4h0M369.5 194.1h0M335.7 59.6h0M329.9 111.1h0M316.8 86.9h0M332.7 136.7h0M327.9 90.2h0M361.5 175.0h0M328.0 105.2h0M330.1 56.6h0M352.6 71.3h0M347.7 155.6h0M366.7 198.5h0M322.7 58.2h0M371.8 149.7h0M350.4 156.8h0M343.2 120.2h0M324.3 83.4h0M349.4 53.1h0M329.5 81.3h0M314.1 60.4h0M322.1 99.5h0M333.4 127.6h0M342.7 115.1h0M334.0 109.2h0M329.7 129.3h0M309.8 89.6h0M336.6 136.8h0M314.4 86.2h0M356.6 175.9h0M330.3 140.9h0M380.0 97.4h0M339.5 81.7h0M337.4 137.2h0M346.6 102.0h0M358.2 160.6h0M439.1 89.7h0M315.3 86.4h0M330.9 92.4h0M387.7 142.2h0M347.9 163.0h0M317.5 103.2h0M344.1 118.0h0M357.0 164.7h0M322.8 61.1h0M331.1 130.7h0M433.6 50.3h0M343.1 155.2h0M384.8 151.4h0M364.2 173.9h0M327.7 106.0h0M315.7 61.6h0M315.8 82.8h0M304.3 89.0h0M339.3 83.1h0M329.9 131.1h0M310.4 96.9h0M330.8 81.1h0M397.5 97.6h0M354.1 153.2h0M345.6 70.7h0M331.8 120.7h0M341.5 92.1h0M368.6 132.5h0M351.5 65.4h0M327.9 85.4h0M310.4 83.8h0M328.4 93.2h0M320.8 84.3h0M312.1 94.0h0M364.4 174.3h0M330.9 64.5h0M338.2 103.2h0M341.5 100.1h0M327.0 117.9h0M337.3 149.3h0M317.0 92.0h0M375.2 190.9h0M350.3 153.7h0M352.6 155.0h0M334.0 105.3h0M330.4 71.2h0M358.4 118.4h0M324.8 96.9h0M330.1 56.5h0M335.3 53.2h0M331.9 49.0h0M304.1 85.6h0M318.1 86.5h0M308.5 67.8h0M362.9 85.1h0M331.2 120.6h0M429.6 41.4h0M353.2 135.3h0M304.3 90.0h0M308.7 83.0h0M318.3 66.3h0M375.6 149.5h0M430.3 60.6h0M323.2 85.9h0M337.0 149.1h0M311.1 83.2h0M442.2 56.2h0M315.5 57.0h0M365.1 175.0h0M359.6 83.9h0M354.0 170.8h0M329.5 127.6h0M337.6 139.6h0M326.7 116.5h0M337.8 59.3h0M346.0 127.1h0M308.9 87.8h0M325.1 105.8h0M333.1 124.1h0M419.9 74.2h0M324.4 82.0h0M328.4 114.5h0M340.6 156.7h0M333.5 127.7h0M316.6 82.6h0M331.6 60.6h0M317.8 76.2h0M328.9 126.7h0M347.8 52.4h0M331.6 79.8h0M319.4 88.0h0M330.9 57.4h0M319.1 101.5h0M358.0 173.3h0M329.3 60.1h0M340.1 99.0h0M320.9 84.5h0M348.7 52.4h0M344.8 64.0h0M325.3 89.4h0M314.1 88.0h0M325.5 72.1h0M391.8 82.5h0M305.5 85.8h0M347.6 68.2h0M330.2 94.5h0M348.1 168.3h0M329.4 132.5h0M315.9 79.6h0M370.2 106.6h0M340.6 92.5h0M306.7 87.2h0M327.8 79.4h0M337.8 51.0h0M337.2 115.3h0M351.8 170.5h0M343.7 149.2h0M319.7 80.7h0M349.7 118.3h0M335.6 78.3h0M379.8 98.8h0M445.6 45.9h0M372.2 191.4h0M316.6 100.1h0M390.7 159.3h0M374.7 141.8h0M331.0 119.3h0M345.0 73.9h0M310.3 74.2h0M326.2 82.3h0M310.3 83.6h0M329.3 58.8h0M330.9 115.9h0M360.2 165.0h0M337.9 69.2h0M343.1 136.6h0" stroke="#56B4E9" stroke-width="2.0" stroke-linecap="round" fill="none"/>
<path d="M374.0 140.8h0M373.0 136.9h0M442.9 36.8h0M375.1 168.1h0M372.1 125.9h0M379.8 168.1h0M372.1 145.5h0M391.0 109.7h0M341.7 86.4h0M380.5 157.0h0M395.3 98.8h0M350.5 94.9h0M399.8 91.2h0M371.0 101.7h0M334.5 102.7h0M374.1 117.8h0M393.4 86.1h0M342.3 145.4h0M374.0 102.9h0M366.5 107.0h0M307.4 91.2h0M394.2 145.8h0M344.7 163.5h0M368.0 164.4h0M436.9 90.5h0M395.1 126.7h0M375.8 178.3h0M373.8 105.2h0M360.8 96.6h0M383.3 111.1h0M380.9 159.8h0M362.6 165.3h0M394.3 128.5h0M392.0 126.1h0M385.9 108.7h0M372.8 145.1h0M393.6 107.2h0M372.0 102.1h0M381.9 172.4h0M373.6 197.1h0M329.9 132.9h0M355.4 137.9h0M369.9 132.7h0M394.4 136.2h0M344.8 155.0h0M376.3 117.3h0M380.2 203.1h0M381.4 159.7h0M356.5 124.5h0M360.9 139.9h0M332.1 108.9h0M361.6 132.9h0M375.8 131.7h0M342.1 75.0h0M320.9 51.6h0M360.4 161.6h0M340.3 143.8h0M340.2 101.1h0M382.7 202.2h0M307.2 86.2h0M336.4 82.6h0M371.2 100.1h0M348.4 157.4h0M435.8 59.9h0M314.7 96.5h0M383.7 114.3h0M372.6 100.4h0M382.3 171.2h0M371.1 109.8h0M341.4 135.5h0M445.1 80.3h0M367.6 110.9h0M331.5 105.8h0M355.6 120.8h0M390.9 127.8h0M354.7 104.0h0M384.5 127.8h0M375.1 114.0h0M364.9 138.1h0M317.9 96.5h0M344.6 135.9h0M328.2 114.3h0M351.5 102.2h0M393.0 138.3h0M388.3 108.5h0M354.0 176.2h0M388.1 171.2h0M372.4 168.0h0M386.6 87.1h0M389.4 108.5h0M354.8 120.2h0M363.9 172.1h0M331.2 132.3h0M372.9 132.0h0M357.8 89.1h0M312.1 94.6h0M389.5 148.6h0M351.2 134.2h0M375.1 151.6h0M385.2 113.5h0M374.5 140.4h0M397.9 124.2h0M370.2 126.2h0M320.6 108.2h0M319.8 108.5h0M370.0 187.3h0M369.6 166.3h0M383.9 114.6h0M343.9 161.4h0M312.9 63.5h0M373.2 135.8h0M428.7 87.7h0M396.4 112.9h0M397.7 109.2h0M351.2 126.8h0M307.5 92.3h0M373.0 157.7h0M330.0 98.5h0M374.7 197.8h0M354.1 169.2h0M354.7 104.7h0M399.0 98.6h0M329.3 134.1h0M360.6 141.3h0M378.0 200.1h0M380.6 133.9h0M378.5 139.4h0M375.9 111.2h0M425.0 84.6h0M371.7 208.1h0M374.2 107.4h0M360.2 165.0h0M347.2 104.0h0M362.8 129.1h0M394.4 127.5h0M383.4 166.9h0M394.7 135.8h0M345.8 59.0h0M360.0 166.9h0M387.8 100.5h0M390.3 115.5h0M337.4 124.3h0M372.4 126.4h0M368.3 117.9h0M394.1 128.8h0M391.0 118.5h0M386.6 121.7h0M365.9 99.9h0M333.2 108.6h0M363.2 131.5h0M376.1 168.2h0M338.7 115.8h0M381.9 128.0h0M367.6 158.5h0M344.6 155.6h0M350.1 153.6h0M358.5 106.1h0M377.9 215.3h0M353.1 57.8h0M383.9 170.5h0M394.5 106.9h0M350.8 141.8h0M343.6 107.8h0M373.9 164.9h0M381.5 205.6h0M367.4 109.5h0M379.4 217.3h0M393.2 146.0h0M330.5 118.9h0M351.2 123.4h0M331.3 67.4h0M369.5 112.6h0M351.8 97.0h0M331.6 95.5h0M344.9 102.7h0M394.1 146.4h0M382.5 164.7h0M385.5 175.1h0M349.1 150.8h0M361.9 101.1h0M404.9 84.4h0M368.2 120.1h0M372.9 202.1h0M385.7 180.8h0M396.6 115.7h0M390.4 123.4h0M331.9 85.5h0M350.8 123.9h0M332.0 103.4h0M394.6 94.5h0M341.6 148.2h0M398.9 97.3h0M358.1 89.0h0M343.0 81.4h0M368.8 135.6h0M394.6 146.4h0M335.1 103.6h0M309.8 81.4h0M316.8 82.3h0M378.7 210.7h0M335.1 132.7h0M378.4 196.0h0M390.3 133.5h0M391.0 106.5h0M394.0 106.1h0M380.5 142.0h0M314.0 95.4h0M389.2 121.4h0M356.1 137.6h0M396.6 115.8h0M388.4 159.7h0M380.0 139.4h0M366.4 124.9h0M334.2 97.0h0M393.3 107.0h0M394.9 141.7h0M385.2 125.8h0M348.5 94.6h0M308.1 81.4h0M387.6 125.1h0M374.8 112.8h0M332.6 62.3h0M358.1 105.9h0M363.5 171.6h0M378.9 201.7h0M362.3 116.6h0M330.3 97.8h0M351.8 154.7h0M351.4 158.0h0M387.0 98.7h0M372.0 196.1h0M373.6 117.7h0" stroke="#0072B2" stroke-width="2.0" stroke-linecap="round" fill="none"/>
<path d="M336.0 48.3h0M339.6 62.3h0M337.3 52.8h0M341.9 73.2h0M369.2 194.6h0M338.4 124.0h0M342.0 93.3h0M335.3 138.0h0M437.0 42.1h0M364.1 96.3h0M346.3 145.8h0M342.1 75.8h0M348.6 76.4h0M341.4 76.3h0M424.4 79.8h0M375.5 162.5h0M347.9 59.3h0M339.2 50.8h0M335.3 90.3h0M393.8 88.6h0M337.5 65.1h0M340.1 120.8h0M400.9 85.4h0M349.3 126.6h0M339.2 118.3h0M317.0 79.4h0M336.2 80.7h0M346.7 139.8h0M359.8 95.2h0M396.5 110.2h0M349.4 103.7h0M318.3 72.2h0M343.5 56.5h0M376.7 199.4h0M322.0 72.6h0M341.8 136.0h0M340.2 66.2h0M333.8 62.9h0M378.1 101.1h0M339.4 57.6h0M345.0 52.1h0M349.9 68.0h0M380.4 84.8h0M401.2 80.2h0M367.3 192.8h0M354.3 61.2h0M344.8 64.7h0M337.2 68.8h0M340.8 49.2h0M325.7 72.6h0M329.5 68.5h0M327.4 95.2h0M337.7 70.5h0M399.8 80.4h0M323.1 75.9h0M324.3 108.9h0M331.8 102.6h0M348.2 105.9h0M318.1 58.2h0M327.0 113.3h0M307.9 84.0h0M344.1 156.6h0M332.6 54.9h0M348.8 171.6h0M310.7 78.3h0M355.3 61.5h0M376.2 100.7h0M346.4 163.4h0M340.8 84.9h0M336.2 122.2h0M346.7 104.7h0M352.8 64.5h0M333.0 65.9h0M324.1 88.4h0M340.0 144.6h0M364.5 121.3h0M341.9 75.6h0M332.0 73.3h0M329.1 70.3h0M320.4 60.9h0M343.7 58.9h0M312.5 94.0h0M340.3 51.9h0M376.4 98.6h0M361.3 140.3h0M328.5 119.2h0M330.1 56.3h0M364.6 186.8h0M336.9 67.0h0M329.3 128.8h0M351.0 116.8h0M331.6 58.3h0M336.3 149.8h0M383.9 151.1h0M365.1 177.3h0M332.6 74.8h0M354.5 64.5h0M334.4 77.9h0M346.1 62.8h0M334.0 135.7h0M334.5 102.8h0M346.7 58.3h0M348.2 76.0h0M322.1 79.2h0M348.2 51.1h0M336.1 45.9h0M346.5 69.1h0M349.6 136.3h0M330.6 125.6h0M422.5 78.6h0M340.7 74.4h0M342.4 73.6h0M346.3 64.4h0M345.4 142.3h0M317.7 80.2h0M386.5 171.0h0M349.5 59.7h0M334.8 81.3h0M403.4 74.4h0M403.0 80.3h0M340.4 75.5h0M336.5 66.1h0M339.1 74.9h0M327.8 115.6h0M349.5 149.8h0M376.9 89.2h0M345.0 75.7h0M400.5 89.0h0M391.0 82.4h0M391.2 106.9h0M355.0 119.0h0M385.6 90.0h0M373.0 155.6h0M348.3 147.7h0M383.4 151.4h0M344.9 54.3h0M342.0 80.0h0M354.3 64.7h0M365.7 127.6h0M331.2 56.0h0M346.0 63.4h0M348.1 147.5h0M313.4 76.2h0M335.9 48.1h0M347.3 70.1h0M312.6 78.9h0" stroke="#CC79A7" stroke-width="2.0" stroke-linecap="round" fill="none"/>
<path d="M363.1 109.3h0M357.4 153.8h0M340.3 95.6h0M373.8 152.7h0M359.2 104.8h0M364.4 139.9h0M361.9 102.4h0M364.0 140.7h0M373.7 153.8h0M336.7 94.1h0M379.3 143.1h0M344.2 156.1h0M310.2 93.2h0M381.0 131.9h0M387.3 161.5h0M368.9 108.2h0M395.8 105.7h0M355.1 108.0h0M395.3 80.8h0M387.7 84.0h0M339.8 129.5h0M345.0 149.1h0M389.8 165.4h0M347.8 88.3h0M337.8 124.1h0M356.2 92.1h0M389.0 83.7h0M381.6 190.7h0M385.9 162.0h0M380.5 172.6h0M356.9 102.7h0M376.8 214.4h0M374.1 163.2h0M377.4 139.4h0M358.5 153.1h0M385.2 160.7h0M369.3 155.8h0M376.3 85.4h0M352.2 129.2h0M379.4 208.2h0M401.3 97.6h0M370.1 129.8h0M356.9 90.7h0M377.8 186.9h0M359.3 157.8h0M365.3 150.6h0M378.3 105.2h0M366.3 100.2h0M374.7 96.1h0M402.2 92.9h0M388.7 122.4h0M384.1 128.2h0M367.6 95.0h0M388.0 99.1h0M375.8 114.1h0M380.2 204.5h0M389.0 148.0h0M369.0 165.8h0M367.4 146.7h0M376.4 137.6h0M346.1 167.4h0M356.5 137.0h0M390.3 161.3h0M395.9 137.2h0M375.8 143.9h0M424.4 54.9h0M352.8 108.6h0M374.9 137.8h0M310.1 69.9h0M388.3 120.6h0M398.6 92.0h0M366.9 146.7h0M382.5 142.9h0M386.0 130.9h0M380.2 194.5h0M343.6 109.4h0M339.2 81.7h0M381.2 159.8h0M380.0 162.4h0M423.9 55.1h0M371.9 179.3h0M374.6 97.3h0M362.4 164.3h0M344.6 148.5h0M364.8 114.1h0M374.2 131.1h0M360.5 172.3h0M387.2 113.9h0M364.9 130.2h0M367.1 109.7h0M369.9 116.6h0M335.8 96.7h0M360.4 100.0h0M336.4 91.0h0M353.6 96.0h0M380.6 160.5h0M348.0 122.2h0M309.5 75.5h0M376.2 84.0h0M399.5 104.3h0M365.7 87.5h0M377.5 122.2h0M354.8 122.0h0M353.6 104.2h0M317.7 55.6h0M377.5 182.6h0M370.1 99.7h0M354.2 95.3h0M362.1 88.1h0M401.4 89.4h0M380.8 196.2h0M388.1 92.9h0M380.7 199.5h0M362.7 101.9h0M372.4 128.0h0M339.3 79.4h0M343.2 138.7h0M371.9 126.0h0M391.2 161.6h0M379.9 174.5h0M337.1 112.4h0M390.4 97.7h0M365.3 124.1h0M401.8 99.2h0M370.4 129.1h0M363.0 142.8h0M350.5 114.2h0M381.8 120.2h0M328.4 131.0h0M389.6 99.3h0M375.1 206.5h0M358.2 155.9h0M378.5 100.7h0M336.7 87.0h0M395.6 135.8h0M374.8 114.9h0M377.5 104.1h0M400.4 95.3h0M387.6 93.9h0M348.5 169.7h0M385.7 109.9h0M360.0 93.8h0M387.5 141.0h0M335.9 114.9h0M353.0 92.1h0M401.1 103.4h0M375.4 111.7h0M353.2 121.7h0M361.9 95.5h0M390.8 144.1h0M355.7 125.3h0M369.0 106.0h0M333.7 81.7h0M331.7 63.6h0M339.9 121.1h0M356.3 152.3h0M387.1 92.7h0M390.4 127.3h0M336.2 113.4h0M380.9 162.0h0M345.9 87.1h0M391.6 153.0h0M352.8 150.8h0M349.6 121.0h0M339.9 124.9h0M378.3 187.7h0M370.1 109.1h0M370.9 95.2h0M375.6 125.7h0M376.8 104.1h0M385.5 151.4h0M365.4 113.4h0M384.5 111.9h0M374.9 156.0h0M383.3 105.6h0M391.9 98.5h0M372.5 200.1h0M435.9 58.8h0M341.4 125.3h0M381.7 132.9h0M368.6 140.9h0M353.4 95.3h0M333.8 89.4h0M382.0 171.4h0M364.3 160.8h0M355.2 166.0h0M362.0 118.3h0M375.5 110.4h0M374.7 119.0h0M389.8 126.7h0M377.4 198.8h0M364.2 126.2h0M341.2 143.9h0M380.4 200.0h0M350.6 110.6h0M378.2 88.8h0M373.2 177.0h0M372.3 161.4h0M396.5 95.9h0M380.7 134.6h0M397.3 98.7h0M382.4 187.4h0M390.1 107.4h0M352.6 89.8h0M342.3 96.7h0M376.3 95.5h0M336.7 125.1h0M387.0 87.2h0M362.8 142.6h0M381.7 157.4h0M330.4 123.6h0M373.8 152.7h0M390.0 152.7h0M321.8 91.5h0M372.5 125.2h0M336.6 139.0h0M356.7 147.2h0M347.4 162.1h0M346.6 100.3h0M328.0 88.6h0M364.5 118.1h0M397.2 80.8h0M352.3 171.4h0M377.6 113.2h0M316.5 55.3h0M377.0 105.6h0" stroke="#009E73" stroke-width="2.0" stroke-linecap="round" fill="none"/>
<path d="M347.3 127.9h0M323.5 74.6h0M315.6 57.2h0M314.4 59.8h0M324.9 50.0h0M335.7 77.7h0M335.2 87.8h0M330.3 79.8h0M309.8 86.3h0M378.8 98.2h0M318.4 73.2h0M313.4 70.1h0M334.2 59.2h0M310.2 86.5h0M304.6 81.9h0M325.6 97.0h0M319.1 55.7h0M336.2 78.2h0M330.0 50.7h0M323.5 50.6h0M316.9 67.9h0M331.6 97.0h0M351.7 56.0h0M343.4 68.3h0M325.8 111.8h0M404.5 79.1h0M309.5 77.4h0M315.8 57.7h0M338.7 89.4h0M331.9 65.4h0M405.8 78.9h0M339.2 145.9h0M368.6 197.9h0M331.3 52.3h0M320.0 55.3h0M345.5 112.7h0M315.4 58.7h0M344.0 136.6h0M326.5 110.5h0M317.8 52.6h0M333.5 69.8h0M359.4 177.2h0M319.9 57.7h0M370.5 85.8h0M334.7 100.0h0M336.8 126.0h0M329.8 93.0h0M313.7 72.3h0M322.6 80.8h0M395.4 80.8h0M330.9 55.5h0M311.1 82.5h0M320.8 64.9h0M309.8 86.9h0M363.3 96.0h0M315.1 63.2h0M316.9 71.0h0M319.8 62.1h0M328.8 55.2h0M318.1 95.0h0M366.8 180.1h0M390.8 92.0h0" stroke="#F0E442" stroke-width="2.0" stroke-linecap="round" fill="none"/>
<path d="M337.9 136.2h0M354.0 130.2h0M321.5 89.4h0M351.3 126.0h0M368.4 178.5h0M401.9 94.4h0M380.8 206.8h0M362.5 154.1h0M374.7 151.2h0M371.1 181.0h0M383.4 144.7h0M385.0 126.9h0M386.1 180.7h0M307.9 81.8h0M374.7 133.4h0M366.2 105.5h0M392.2 125.2h0M394.1 127.1h0M395.8 142.4h0M337.5 51.0h0M328.0 78.3h0M377.1 193.8h0M371.9 134.2h0M389.4 134.4h0M377.0 152.8h0M371.2 129.6h0M363.5 156.6h0M396.2 117.2h0M365.6 134.8h0M398.0 83.7h0M309.4 82.7h0M390.3 134.7h0M375.5 163.9h0M345.8 154.4h0M338.1 105.4h0M362.0 113.9h0M395.3 135.3h0M330.8 84.9h0M379.6 110.4h0M377.2 99.8h0M366.8 106.0h0M367.2 177.9h0M344.2 84.5h0M351.5 125.1h0M370.5 179.2h0M387.5 171.2h0M374.6 106.9h0M367.2 197.7h0M382.3 141.2h0M369.2 130.7h0M379.5 197.3h0M356.9 149.6h0M355.8 132.4h0M374.9 157.5h0M379.9 91.9h0M356.4 154.2h0M365.6 99.3h0M353.1 89.9h0M314.7 95.9h0M380.7 166.7h0M379.7 217.9h0M360.0 165.8h0M339.4 122.2h0M393.1 79.3h0M377.3 217.5h0M336.0 90.2h0M371.9 169.0h0M334.6 102.8h0M376.9 217.8h0M343.9 127.7h0M355.2 104.3h0M389.5 134.8h0M379.8 196.1h0M377.0 199.5h0M340.3 81.2h0M393.8 141.0h0M394.8 81.2h0M380.0 101.6h0M368.6 132.2h0M342.6 158.2h0M370.2 162.5h0M345.6 93.4h0M367.5 117.1h0M367.6 177.1h0M398.4 92.7h0M380.1 216.8h0M374.6 106.8h0M372.4 131.1h0M312.3 95.6h0M375.5 140.1h0M344.0 120.3h0M375.8 166.0h0M399.0 98.3h0M363.8 142.4h0M320.4 54.1h0M399.7 108.7h0M312.9 63.8h0M371.2 126.0h0M345.4 91.0h0M394.8 140.1h0M367.4 174.3h0M393.8 143.2h0M366.1 138.7h0M383.6 116.8h0M376.6 200.8h0M381.3 134.3h0M383.3 125.2h0M319.9 87.8h0M371.0 201.8h0M390.5 97.9h0M378.9 112.5h0M359.6 138.5h0M344.4 160.1h0M385.4 176.0h0M307.2 93.4h0M352.2 130.1h0M374.7 174.7h0M321.8 81.3h0M377.5 207.5h0M326.0 79.1h0M328.3 111.8h0M393.6 127.4h0M348.2 108.3h0M378.7 98.0h0M364.9 99.5h0M323.9 51.7h0M321.5 73.8h0M384.7 168.9h0M379.4 109.0h0M370.8 130.3h0M331.8 120.0h0M377.0 161.4h0M378.1 221.2h0M351.0 157.5h0M387.4 100.4h0M342.9 103.5h0M363.0 125.2h0M400.5 95.2h0M377.7 153.6h0M395.2 94.7h0M377.0 170.1h0M338.4 138.1h0M350.4 93.6h0M343.6 84.5h0M400.4 101.7h0M360.3 91.8h0M393.3 126.5h0M400.4 80.5h0M378.5 185.5h0M360.2 92.5h0M384.1 169.6h0M340.8 117.5h0M399.2 109.6h0M371.6 183.0h0M350.4 133.2h0M393.3 142.1h0M382.7 106.9h0M378.0 101.0h0M385.2 138.2h0M375.1 114.3h0M359.4 184.5h0M311.3 93.4h0M381.4 170.8h0M442.6 75.0h0M352.7 168.4h0M362.5 117.9h0M388.2 146.6h0M362.9 153.7h0M381.1 127.4h0M376.3 165.0h0M315.2 86.7h0M365.2 165.9h0M385.5 175.6h0M339.7 122.8h0M376.2 203.1h0M441.0 76.1h0M379.5 216.5h0M392.2 108.3h0M360.0 178.6h0M374.8 179.0h0M322.6 81.7h0M344.5 128.3h0M323.0 84.1h0M367.0 87.8h0M366.2 165.8h0M382.1 127.5h0M360.3 136.0h0M377.0 99.7h0M382.9 105.7h0M350.4 118.9h0M348.7 157.7h0M308.6 82.7h0M368.6 107.1h0M442.6 35.5h0M359.5 121.8h0M344.2 144.8h0M380.0 196.9h0M354.5 131.8h0M346.6 108.1h0M347.4 83.7h0M381.6 125.2h0M402.7 76.3h0M352.5 103.9h0M383.5 119.5h0M394.7 128.5h0M384.4 157.5h0M380.8 215.7h0M359.0 184.5h0M394.9 141.2h0M346.8 147.9h0M309.9 80.2h0M377.1 147.1h0M392.0 121.0h0M397.6 84.4h0M346.3 84.7h0M376.6 95.0h0M323.0 81.8h0M391.7 148.3h0M379.1 207.0h0M343.1 152.9h0M333.4 103.4h0M331.8 83.7h0M359.7 144.7h0M325.2 57.8h0M343.6 103.4h0M322.4 83.4h0M323.6 85.1h0M350.7 155.7h0M381.6 160.8h0M346.2 146.8h0M401.7 75.9h0M363.2 133.1h0M353.6 109.2h0M355.1 130.5h0M317.8 94.6h0M363.6 129.8h0M389.6 115.5h0M363.6 118.0h0M377.6 174.8h0M393.0 108.4h0M377.4 100.6h0M340.3 136.6h0M375.8 170.8h0M374.4 130.2h0M381.7 123.6h0" stroke="#0072B2" stroke-width="2.0" stroke-linecap="round" fill="none"/>
<path d="M373.2 147.3h0M381.9 116.6h0M347.6 126.7h0M328.0 88.3h0M350.6 115.3h0M382.7 120.4h0M359.1 173.0h0M381.4 216.0h0M357.7 152.0h0M383.0 86.7h0M369.8 149.3h0M358.1 102.7h0M377.3 147.0h0M367.3 162.0h0M381.3 203.4h0M331.2 140.1h0M358.9 151.7h0M358.2 86.3h0M335.1 99.1h0M356.4 114.5h0M354.7 152.4h0M360.4 184.9h0M345.0 71.8h0M401.4 92.1h0M372.1 182.7h0M377.1 99.1h0M385.5 152.9h0M384.4 153.5h0M344.3 82.3h0M350.3 64.7h0M344.5 102.1h0M358.1 85.6h0M338.4 138.9h0M362.1 157.2h0M361.5 148.7h0M374.1 148.8h0M381.5 119.5h0M374.7 121.0h0M389.1 145.0h0M365.8 113.7h0M389.7 106.5h0M317.5 98.9h0M364.7 136.0h0M329.2 115.9h0M373.3 126.3h0M373.1 207.9h0M338.5 81.6h0M386.1 152.6h0M381.7 176.3h0M380.1 129.1h0M336.8 52.9h0M376.7 85.4h0M385.0 128.4h0M318.0 100.6h0M375.6 146.6h0M365.8 103.7h0M389.3 161.3h0M364.2 121.6h0M373.3 208.6h0M370.3 127.2h0M357.9 106.6h0M368.1 96.2h0M370.1 164.2h0M362.5 99.2h0M360.6 139.2h0M363.3 158.3h0M330.9 112.8h0M354.3 91.8h0M371.8 103.4h0M377.1 103.6h0M368.7 189.0h0M382.5 87.5h0M391.7 137.9h0M397.5 106.6h0M374.9 208.6h0M373.2 194.7h0M359.7 154.3h0M365.6 174.3h0M350.1 126.7h0M366.4 128.9h0M360.3 106.2h0M387.8 159.6h0M371.7 137.9h0M362.0 133.9h0M333.9 143.0h0M373.2 183.2h0M393.2 89.4h0M307.3 81.1h0M372.0 201.5h0M371.8 136.2h0M380.5 173.4h0M351.2 175.7h0M342.3 92.8h0M393.7 84.0h0M375.3 135.0h0M383.1 168.9h0M349.8 126.3h0M354.0 67.1h0M396.7 110.8h0M381.2 198.4h0M384.5 177.2h0M345.6 96.8h0M377.3 114.5h0M364.8 124.1h0M403.2 94.6h0M398.3 114.4h0M442.3 36.7h0M387.1 90.3h0M374.0 172.3h0M399.7 94.9h0M346.5 67.4h0M377.7 114.6h0M389.1 165.1h0M366.7 140.4h0M370.1 128.3h0M345.0 50.3h0M381.5 174.9h0M357.1 160.9h0M338.2 136.6h0M352.7 120.3h0M358.6 89.3h0M346.8 105.7h0M358.0 178.5h0M352.8 108.0h0M399.3 103.8h0M380.3 120.3h0M342.0 92.8h0M374.2 110.6h0M345.7 129.8h0M361.1 93.8h0M364.3 118.8h0M369.0 195.0h0M382.3 106.0h0M337.6 145.0h0M372.0 188.5h0M365.9 116.9h0M386.7 166.5h0M337.5 81.1h0M342.4 127.7h0M390.3 120.7h0M370.6 130.6h0M371.7 143.4h0M346.7 66.9h0M366.9 162.9h0M363.3 128.7h0M337.4 133.6h0M374.8 146.5h0M398.7 115.6h0M355.5 125.2h0M373.9 185.2h0M339.1 125.7h0M339.3 129.3h0M336.4 128.8h0M403.7 79.7h0M384.0 123.7h0M381.6 200.0h0M351.0 111.7h0M335.6 70.9h0M349.0 98.1h0M390.2 120.7h0M364.8 117.8h0M379.2 117.5h0M378.1 184.3h0M345.6 99.9h0M383.1 115.2h0M371.2 174.1h0M396.8 98.3h0M330.4 112.4h0M372.7 132.6h0M327.1 110.4h0M362.1 150.7h0M392.4 118.9h0M355.8 157.5h0M389.9 108.6h0M335.1 129.3h0M365.1 194.5h0M342.6 159.9h0M356.0 146.7h0M329.4 115.4h0M380.5 174.0h0M431.8 80.1h0M368.4 139.8h0M345.9 149.9h0M382.1 89.2h0M361.3 106.8h0M385.8 84.8h0M390.5 102.1h0M375.6 163.9h0M361.0 89.4h0M360.4 87.3h0M351.3 122.2h0M380.1 86.5h0M375.0 132.0h0M378.8 187.2h0M355.7 125.5h0M354.9 172.8h0M344.8 108.0h0M343.7 82.9h0M378.3 113.6h0M360.1 108.3h0M375.5 159.1h0M390.9 126.1h0M358.9 178.0h0M399.1 101.9h0M363.4 145.2h0M397.2 114.1h0M356.0 85.8h0M364.2 130.0h0M355.3 139.6h0M330.4 101.2h0M327.3 73.9h0M350.7 65.3h0M310.0 77.4h0M379.4 129.3h0M364.6 115.8h0M355.6 86.1h0M370.8 147.8h0M333.4 123.4h0M379.2 198.6h0M379.6 210.5h0M366.7 105.6h0M347.3 116.3h0M344.4 97.4h0M380.1 176.1h0M328.5 125.4h0M383.2 101.6h0M346.0 81.2h0M378.2 167.7h0M396.0 80.3h0M365.0 123.5h0M371.1 181.8h0M352.5 125.0h0M364.1 174.2h0M307.0 80.4h0M364.8 86.6h0" stroke="#009E73" stroke-width="2.0" stroke-linecap="round" fill="none"/>
<path d="M334.9 103.2h0M342.8 151.4h0M324.0 80.2h0M334.4 129.4h0M313.8 79.0h0M397.2 98.9h0M350.6 72.4h0M324.6 60.3h0M379.1 221.5h0M401.1 84.3h0M347.0 87.9h0M349.8 154.0h0M352.2 65.9h0M327.3 60.5h0M314.5 82.1h0M313.0 81.5h0M336.1 66.5h0M339.6 150.1h0M341.8 83.5h0M311.8 93.5h0M325.7 96.0h0M367.8 163.4h0M324.0 94.3h0M345.6 83.9h0M325.1 77.0h0M343.6 152.4h0M335.7 114.4h0M380.0 216.8h0M346.3 141.4h0M354.0 150.9h0M323.0 94.8h0M375.1 206.0h0M322.0 106.9h0M375.4 216.4h0M391.6 154.1h0M427.7 74.0h0M355.6 170.3h0M378.7 215.8h0M328.4 83.9h0M342.6 70.6h0M365.6 162.2h0M312.6 92.4h0M362.6 166.8h0M324.5 74.9h0M331.6 55.0h0M361.2 100.3h0M325.1 112.6h0M342.4 92.1h0M320.4 85.7h0M326.2 112.0h0M361.2 189.8h0M319.1 93.1h0M336.2 149.0h0M325.6 124.0h0M348.3 52.3h0M314.4 89.3h0M370.5 193.9h0M326.3 53.6h0M327.7 72.2h0M340.4 96.4h0M396.4 93.3h0M346.9 169.4h0M344.9 119.5h0M324.1 103.3h0M318.2 86.9h0M327.8 105.1h0M325.2 113.1h0M365.8 181.2h0M385.8 131.0h0M425.2 93.1h0M308.8 87.6h0M313.4 78.1h0M443.3 76.5h0M425.5 50.5h0M341.2 91.4h0M334.4 86.1h0M349.3 93.1h0M367.6 195.0h0M367.3 175.8h0M334.0 82.2h0M377.4 215.1h0M330.2 80.3h0M357.8 164.2h0M348.3 103.8h0M353.1 173.4h0M374.8 191.2h0M323.4 61.1h0M361.2 181.8h0M331.6 58.4h0M348.0 63.3h0M322.5 98.7h0M321.8 90.4h0M402.8 79.9h0M329.7 113.4h0M346.6 156.3h0M319.0 103.9h0M317.4 55.6h0M365.2 190.2h0M310.0 87.7h0M333.8 140.5h0M338.8 129.0h0M317.8 98.3h0M314.8 98.3h0M328.2 53.7h0M314.5 81.5h0M334.2 90.6h0M382.0 197.5h0M312.7 69.5h0M306.9 95.1h0M319.6 75.3h0M319.9 102.0h0M420.5 96.9h0M331.7 96.3h0M341.9 94.0h0M386.1 168.0h0M347.6 64.5h0M329.6 131.4h0M325.9 110.0h0M326.6 101.4h0M309.1 81.6h0M378.3 219.0h0M382.8 180.4h0M330.4 132.2h0M308.5 86.7h0M312.5 89.5h0M342.2 85.7h0M375.2 216.1h0M354.7 152.9h0M403.5 95.2h0M313.8 95.3h0M325.6 76.9h0M330.8 106.9h0M305.6 83.6h0M335.3 138.5h0M342.3 56.5h0M358.8 116.1h0M372.3 148.4h0M330.2 106.3h0M323.6 96.3h0M328.6 68.2h0M346.3 163.5h0M334.8 142.2h0M321.8 83.8h0M330.9 55.8h0M365.0 186.5h0M320.2 75.2h0M421.2 53.1h0M351.9 133.7h0M333.2 128.9h0M337.8 128.3h0M307.5 85.6h0M357.8 170.4h0M329.3 124.8h0M306.8 85.5h0M336.5 62.7h0M346.1 167.6h0M351.5 63.6h0M329.0 119.2h0M318.6 89.6h0M328.5 102.8h0M318.5 81.4h0M331.4 136.0h0M331.7 48.4h0M403.8 74.6h0M315.3 86.2h0M311.8 95.1h0M309.8 86.3h0M340.3 137.5h0M316.0 99.0h0M311.0 84.7h0M378.8 202.0h0M347.4 167.3h0M328.1 56.7h0M341.7 83.5h0M316.4 97.4h0M351.0 168.5h0" stroke="#56B4E9" stroke-width="2.0" stroke-linecap="round" fill="none"/>
<path d="M359.8 100.4h0M348.6 106.1h0M322.8 83.2h0M329.0 53.8h0M345.7 73.6h0M323.7 108.8h0M397.0 85.7h0M357.7 185.5h0M342.6 132.7h0M342.0 72.3h0M338.2 76.5h0M351.3 73.9h0M345.5 156.9h0M338.3 56.9h0M371.5 114.0h0M364.0 146.9h0M325.1 56.9h0M378.8 214.8h0M347.3 82.1h0M327.9 97.1h0M339.9 81.4h0M351.3 154.7h0M353.7 135.1h0M349.2 127.3h0M316.7 79.1h0M349.1 147.9h0M338.3 94.2h0M329.7 57.1h0M363.7 87.9h0M335.5 117.2h0M328.5 114.3h0M316.4 56.1h0M348.1 57.6h0M350.5 59.2h0M314.6 74.5h0M396.6 86.2h0M366.9 149.4h0M334.3 83.1h0M344.7 83.2h0M355.4 107.6h0M323.0 113.3h0M335.3 80.8h0M317.9 104.5h0M368.8 89.7h0M334.7 134.8h0M330.5 55.0h0M339.4 65.8h0M344.7 76.4h0M399.3 94.2h0M350.2 62.4h0M321.9 98.4h0M363.8 88.4h0M346.8 154.6h0M335.5 69.1h0M350.9 64.2h0M423.9 43.9h0M336.3 53.7h0M340.4 73.4h0M324.2 103.7h0M329.8 117.8h0M371.0 90.2h0M314.7 82.6h0M340.1 75.5h0M323.9 77.9h0M326.6 70.4h0M376.7 108.4h0M345.1 119.0h0M329.0 99.2h0M340.0 75.0h0M398.4 83.7h0M349.0 105.4h0M342.7 77.6h0M379.5 173.8h0M308.2 72.2h0M314.2 59.2h0M351.9 67.4h0M378.0 94.9h0M424.3 45.9h0M344.8 163.6h0M338.0 56.7h0M320.9 106.8h0M337.5 61.9h0M323.6 51.3h0M333.7 54.9h0M348.8 139.6h0M335.6 116.0h0M347.8 54.5h0M341.5 72.2h0M336.0 62.9h0M402.2 79.6h0M336.6 84.9h0M340.6 99.7h0M346.0 109.6h0M376.9 199.7h0M331.8 56.6h0M333.8 59.8h0M429.1 79.1h0M330.4 52.2h0M385.0 161.1h0M330.3 62.2h0M351.0 107.6h0M338.4 52.9h0M374.7 193.6h0M397.3 86.9h0M400.0 89.3h0M370.1 162.6h0M336.2 52.4h0M345.3 59.8h0M351.4 67.3h0M349.4 76.4h0M383.6 87.5h0M321.3 62.4h0M342.7 109.8h0M337.8 64.2h0M432.6 75.6h0M333.0 116.3h0M403.7 85.0h0M338.0 59.0h0M325.5 59.9h0M354.2 172.9h0M349.6 136.0h0M324.6 89.2h0M331.6 62.0h0M332.0 49.0h0M342.9 74.5h0M322.9 70.6h0M398.1 89.6h0M327.5 119.2h0M393.8 80.6h0M320.1 112.2h0M332.4 60.5h0M340.6 52.0h0M345.5 156.7h0M337.2 70.7h0M331.7 132.6h0M346.5 113.6h0M372.2 107.3h0" stroke="#CC79A7" stroke-width="2.0" stroke-linecap="round" fill="none"/>
<path d="M428.4 51.0h0M422.2 40.8h0M426.8 36.5h0M426.7 48.6h0M439.8 61.3h0M425.1 73.3h0M419.8 48.3h0M415.7 92.3h0M439.1 86.2h0M422.6 91.0h0M440.0 87.6h0M419.0 72.4h0M442.3 56.4h0M442.8 79.1h0M404.7 85.4h0M403.5 88.8h0M428.7 93.1h0M435.0 53.3h0M421.7 65.5h0M432.7 56.8h0M425.4 40.1h0M420.5 65.5h0M427.9 59.2h0M441.8 53.2h0M428.8 84.3h0M417.0 90.5h0M438.0 42.7h0M431.4 33.7h0M431.8 49.9h0M443.9 84.8h0M438.4 62.8h0M435.4 47.4h0M438.8 89.3h0M432.6 76.0h0M435.2 40.8h0M442.3 82.5h0M430.5 47.1h0M434.5 54.1h0M430.3 58.2h0M430.3 53.4h0M421.5 92.4h0M441.1 54.7h0M435.2 87.6h0M418.2 96.6h0M425.5 40.6h0M410.5 98.6h0M420.9 49.0h0M439.4 66.1h0M430.2 38.4h0M421.9 45.9h0M438.5 37.2h0M422.0 71.6h0M443.4 41.1h0M425.7 36.5h0M427.5 81.8h0M439.3 64.2h0M421.6 88.7h0M440.7 69.5h0M424.5 39.6h0M429.6 57.5h0M417.6 45.8h0M432.6 52.5h0M429.3 63.9h0M428.2 59.1h0M439.2 86.3h0M426.8 42.2h0M419.7 54.3h0M414.4 98.2h0M431.4 81.3h0M439.3 64.9h0M442.4 85.2h0M440.9 72.0h0M441.4 41.8h0M423.8 83.5h0M338.2 76.6h0M440.8 59.3h0M438.8 36.7h0M425.8 85.7h0M420.8 62.6h0M434.7 88.6h0M434.9 63.2h0M436.4 79.7h0M434.4 57.6h0M420.1 73.0h0M436.1 91.3h0M410.3 98.2h0M421.9 58.7h0M419.9 84.9h0M439.2 43.1h0M446.4 47.2h0M443.5 72.4h0M441.0 66.0h0M423.8 65.4h0M425.5 48.7h0M431.8 70.5h0M423.6 85.5h0M438.1 89.0h0M434.3 62.9h0M436.4 47.2h0M442.3 58.7h0M439.9 89.7h0M438.9 88.9h0M437.2 45.4h0M425.2 62.3h0M414.1 93.1h0M422.0 57.0h0M429.6 65.3h0M346.3 70.0h0M433.9 48.6h0M430.5 87.4h0M429.1 39.5h0M440.0 43.8h0M426.9 88.7h0M443.5 44.1h0M443.5 84.8h0M351.0 65.3h0M422.0 44.5h0M434.3 70.7h0M423.6 81.8h0M439.3 65.2h0M433.6 59.5h0M432.7 42.2h0M438.0 59.3h0M430.4 38.1h0M421.4 51.4h0M425.4 62.3h0M423.4 48.8h0M438.0 82.8h0M431.0 64.6h0M438.8 65.0h0M437.2 45.9h0M425.5 63.0h0M436.1 72.5h0M422.7 77.3h0M433.1 35.8h0M443.1 75.6h0M415.4 98.1h0M436.6 60.6h0M428.9 73.4h0M342.8 61.6h0M444.0 44.3h0M422.5 96.4h0M427.3 40.9h0M428.9 50.5h0M423.5 66.4h0M440.9 44.5h0M444.8 39.4h0M433.4 63.5h0M351.9 65.5h0M429.8 73.5h0M430.2 59.1h0M425.7 92.8h0M423.1 64.2h0M420.1 74.3h0M433.1 52.4h0M433.0 38.0h0M413.1 101.9h0M419.0 73.2h0M420.3 50.3h0M431.1 48.7h0M431.3 37.9h0M425.3 77.4h0M426.4 55.0h0M428.8 56.9h0M427.4 58.6h0M433.4 79.8h0M443.1 37.0h0M439.9 84.9h0M425.0 37.3h0M437.0 42.5h0M423.1 71.9h0M437.8 48.5h0M338.3 77.8h0M442.4 56.3h0M421.8 44.2h0M430.6 87.3h0M424.6 86.3h0M430.8 63.9h0M416.9 96.5h0M429.0 90.8h0M442.4 55.7h0" stroke="#D55E00" stroke-width="2.0" stroke-linecap="round" fill="none"/>
<path d="M350.7 162.7h0M384.2 91.9h0M363.5 131.0h0M321.4 55.5h0M378.2 203.2h0M355.3 168.5h0M351.4 134.8h0M362.8 163.4h0M337.4 122.0h0M353.1 123.6h0M370.2 131.2h0M345.4 136.2h0M382.9 145.0h0M347.2 142.5h0M336.8 132.3h0M384.6 85.6h0M385.2 140.5h0M366.5 196.1h0M343.9 149.9h0M378.5 104.3h0M365.7 129.3h0M390.2 164.1h0M381.5 88.9h0M350.1 110.9h0M379.2 218.0h0M373.0 182.2h0M384.4 120.3h0M369.6 172.6h0M354.8 130.8h0M374.3 184.9h0M400.4 104.3h0M351.8 95.4h0M380.9 144.8h0M357.3 141.5h0M382.5 179.7h0M365.7 134.0h0M385.5 116.7h0M385.4 83.6h0M395.2 132.1h0M364.6 145.8h0M363.0 187.4h0M378.8 90.8h0M354.3 169.1h0M370.5 154.5h0M356.3 149.2h0M339.6 109.1h0M372.7 149.0h0M352.9 173.3h0M380.8 211.4h0M396.5 131.7h0M390.0 81.0h0M354.1 153.8h0M353.3 89.7h0M323.9 75.2h0M354.9 165.6h0M360.3 146.2h0M345.3 166.9h0M392.2 113.8h0M374.2 93.9h0M368.7 181.8h0M330.3 96.6h0M378.9 133.0h0M353.7 153.6h0M337.8 137.1h0M351.0 113.9h0M343.7 102.9h0M381.5 144.3h0M328.4 128.9h0M342.9 65.5h0M310.9 66.6h0M377.3 164.6h0M335.7 112.7h0M382.5 90.0h0M359.3 117.7h0M396.0 116.8h0M359.2 183.9h0M373.2 158.5h0M373.1 156.4h0M375.1 165.7h0M368.6 140.8h0M368.7 123.3h0M349.7 69.5h0M345.4 95.3h0M404.3 87.7h0M347.1 115.7h0M378.5 211.4h0M348.3 56.6h0M380.9 201.9h0M365.9 119.8h0M366.0 113.3h0M382.0 201.0h0M320.8 63.2h0M333.1 58.1h0M335.8 124.6h0M359.5 174.2h0M395.0 122.4h0M358.2 109.1h0M400.7 93.1h0M365.0 87.6h0M322.9 99.5h0M322.2 74.1h0M370.7 166.4h0M374.1 183.6h0M366.6 169.9h0M382.7 100.5h0M365.8 106.9h0M349.4 109.7h0M374.0 197.8h0M373.3 169.8h0M355.0 95.3h0M353.5 90.7h0M351.0 113.1h0M365.4 163.8h0M324.9 73.2h0M327.2 128.2h0M332.5 138.0h0M353.9 109.3h0M360.0 106.6h0M374.7 187.6h0M363.0 88.9h0M334.3 81.4h0M355.0 112.1h0M369.9 133.2h0M317.7 88.2h0M370.4 113.2h0M361.5 186.4h0M404.6 74.7h0M337.2 107.9h0M360.1 92.0h0M385.2 109.1h0M379.0 112.7h0M379.6 142.1h0M326.0 101.2h0M384.0 150.8h0M365.1 128.4h0M383.2 161.5h0M322.2 53.7h0M359.1 118.2h0M374.3 207.7h0M368.1 128.1h0M373.7 133.7h0M361.4 159.0h0M370.0 127.6h0M355.8 114.1h0" stroke="#E69F00" stroke-width="2.0" stroke-linecap="round" fill="none"/>
<path d="M380.0 139.9h0M355.4 119.1h0M387.0 160.7h0M385.4 154.4h0M384.8 152.1h0M380.1 156.2h0M379.4 132.4h0M359.8 134.1h0M389.3 146.5h0M378.4 99.8h0M330.7 114.9h0M388.8 110.5h0M351.9 101.8h0M392.9 109.6h0M308.4 92.0h0M327.0 65.6h0M376.4 128.8h0M319.5 52.7h0M364.8 96.8h0M357.0 153.0h0M335.7 124.5h0M368.6 158.4h0M435.9 87.3h0M371.8 103.6h0M377.2 129.0h0M379.1 130.3h0M377.9 101.9h0M375.9 103.8h0M379.6 218.7h0M383.4 117.3h0M388.3 124.0h0M327.6 95.6h0M341.4 110.6h0M384.8 109.6h0M371.5 152.1h0M388.8 130.1h0M383.9 147.2h0M314.1 100.1h0M400.7 102.6h0M358.2 114.5h0M402.0 88.8h0M371.8 130.9h0M341.9 134.9h0M367.3 165.0h0M380.3 125.6h0M353.6 128.8h0M349.4 157.0h0M353.1 163.1h0M368.2 157.8h0M350.7 106.6h0M387.7 155.1h0M361.2 102.3h0M402.2 89.9h0M319.5 84.9h0M377.2 153.6h0M371.7 208.2h0M385.0 135.8h0M351.6 88.5h0M349.3 150.1h0M327.8 107.9h0M395.7 142.2h0M354.5 121.0h0M395.8 91.0h0M379.0 218.4h0M366.2 188.0h0M383.7 107.2h0M335.2 101.7h0M377.9 149.0h0M377.1 216.5h0M345.3 84.3h0M350.3 157.8h0M342.0 101.1h0M362.5 95.9h0M374.0 215.2h0M351.3 157.6h0M384.5 126.5h0M402.2 77.4h0M386.5 127.9h0M378.1 102.9h0M352.8 142.5h0M388.0 116.9h0M391.4 106.1h0M329.6 115.5h0M440.1 47.4h0M322.9 115.4h0M375.3 168.8h0M343.2 101.9h0M371.1 132.3h0M368.3 131.9h0M377.5 94.8h0M372.1 131.4h0M376.2 144.7h0M363.6 117.2h0M398.8 82.1h0M341.7 136.5h0M349.9 128.2h0M361.2 181.3h0M378.2 102.3h0M376.5 165.6h0M377.1 176.5h0M395.9 142.5h0M352.8 171.3h0M370.1 162.6h0M395.7 115.7h0M377.6 184.8h0M385.3 181.7h0M389.7 135.9h0M392.7 91.3h0M340.7 110.3h0M386.8 161.7h0M352.2 129.9h0M377.9 99.5h0M395.1 91.7h0M388.8 154.4h0M369.2 113.9h0M373.2 105.0h0M311.2 67.2h0M375.5 93.4h0M375.1 105.3h0M361.5 155.4h0M375.4 155.6h0M383.7 114.5h0M373.8 160.3h0M344.2 138.2h0M393.9 113.6h0M385.7 174.2h0M396.5 136.8h0M377.2 154.8h0M371.2 201.0h0M371.6 177.9h0M364.8 139.2h0M308.0 66.9h0M358.1 184.9h0M396.2 114.9h0M306.0 82.5h0M379.4 219.4h0M393.2 107.5h0M379.6 213.9h0M349.7 105.6h0M351.2 107.7h0M363.0 110.5h0M369.2 175.2h0M345.3 102.3h0M379.1 126.7h0M341.8 145.8h0M347.4 125.0h0M366.0 173.9h0M361.8 183.3h0M383.9 116.7h0M373.5 197.2h0M358.2 121.7h0M353.0 129.4h0M390.1 120.9h0M318.9 94.7h0M398.9 91.7h0M308.9 88.0h0M381.3 149.0h0M348.8 95.2h0M371.5 146.5h0M355.7 105.4h0M382.1 150.4h0M379.6 148.9h0M337.1 126.1h0M392.5 79.4h0M333.8 128.2h0M384.5 116.7h0M324.2 82.0h0M398.0 105.9h0M381.1 134.3h0M341.4 146.1h0M320.5 101.7h0M340.7 100.3h0M383.5 102.6h0M389.3 128.8h0M384.5 169.3h0M367.2 197.7h0M373.8 176.3h0M402.5 87.7h0M361.6 139.6h0M334.2 62.5h0M377.7 168.8h0M325.0 81.2h0M333.1 128.0h0M385.0 108.0h0M378.2 113.2h0M343.6 139.6h0M378.8 179.1h0M395.8 113.9h0M370.3 163.8h0M388.6 155.7h0M375.2 215.1h0M379.5 197.5h0M318.6 91.5h0M371.3 201.1h0M398.9 115.6h0M363.9 129.2h0M375.3 115.3h0M330.1 128.3h0M390.8 118.8h0M366.5 109.1h0M440.7 75.8h0M349.6 120.1h0M314.6 79.6h0M358.3 153.6h0M371.3 100.4h0M377.7 119.4h0M395.5 142.2h0M370.4 181.6h0M331.6 109.3h0M346.6 101.5h0M357.4 89.0h0M358.3 103.1h0M326.4 94.5h0M403.5 84.8h0M385.7 109.5h0M319.9 75.5h0M375.0 132.8h0M377.8 100.9h0M384.6 152.1h0M323.0 89.8h0M348.4 137.9h0M336.2 125.4h0M390.4 133.7h0M391.8 150.1h0M377.2 161.8h0M338.2 83.4h0M398.9 94.3h0M383.3 125.7h0M387.5 133.6h0M389.5 129.1h0M393.6 101.0h0M389.9 99.1h0M386.2 87.3h0M375.0 113.5h0" stroke="#0072B2" stroke-width="2.0" stroke-linecap="round" fill="none"/>
<path d="M395.3 130.4h0M334.4 139.4h0M360.7 119.0h0M361.2 98.5h0M388.3 93.7h0M375.0 108.6h0M353.3 120.3h0M391.4 107.1h0M381.0 153.4h0M363.3 175.7h0M389.9 145.6h0M378.8 223.9h0M339.5 130.7h0M356.6 84.3h0M394.3 89.7h0M359.1 188.2h0M338.8 153.5h0M360.1 178.2h0M380.0 205.2h0M350.5 101.0h0M331.9 114.2h0M376.8 85.2h0M377.6 147.4h0M378.7 147.7h0M305.1 88.9h0M338.0 52.7h0M377.2 221.8h0M340.9 136.5h0M394.0 87.4h0M388.4 167.3h0M336.3 99.3h0M364.2 160.2h0M384.7 160.7h0M342.8 139.3h0M365.8 129.7h0M392.8 95.0h0M356.1 86.2h0M370.9 153.1h0M369.8 178.9h0M369.1 129.6h0M377.7 184.0h0M375.4 215.2h0M383.1 167.8h0M378.1 146.2h0M391.7 119.7h0M345.5 85.6h0M395.4 94.1h0M430.0 48.7h0M379.6 213.4h0M386.0 156.3h0M371.0 193.2h0M383.6 85.5h0M335.2 85.0h0M350.1 127.6h0M369.1 150.0h0M359.7 107.9h0M389.3 93.7h0M369.2 162.3h0M387.8 92.5h0M368.1 109.0h0M366.2 104.2h0M334.1 73.5h0M359.3 152.2h0M333.7 137.4h0M354.6 100.2h0M360.0 155.9h0M423.1 55.0h0M379.8 113.3h0M310.2 77.1h0M344.6 153.0h0M384.8 160.9h0M364.4 124.0h0M342.5 115.4h0M395.3 136.8h0M352.0 125.1h0M381.4 177.7h0M364.1 87.8h0M380.3 179.2h0M388.6 94.9h0M363.0 107.2h0M380.1 132.6h0M339.1 81.5h0M341.0 97.3h0M378.1 182.9h0M381.8 201.8h0M387.6 84.5h0M377.9 212.6h0M382.4 179.8h0M377.2 215.5h0M373.4 196.4h0M399.4 99.0h0M378.2 114.9h0M339.4 135.5h0M358.3 152.5h0M358.1 104.2h0M391.1 144.6h0M378.4 165.7h0M380.6 133.7h0M370.2 176.9h0M361.0 108.8h0M359.1 137.1h0M372.9 183.6h0M357.8 120.9h0M391.3 110.1h0M374.7 208.6h0M386.7 130.2h0M366.3 99.9h0M341.0 86.7h0M373.2 96.7h0M353.7 121.4h0M357.8 125.2h0M352.8 65.0h0M365.4 146.8h0M384.4 113.1h0M393.8 125.5h0M373.6 201.9h0M358.1 125.9h0M383.2 143.2h0M335.8 125.9h0M372.0 152.6h0M375.5 208.2h0M362.1 148.1h0M399.3 105.3h0M307.8 76.2h0M393.0 92.1h0M364.7 149.9h0M356.5 186.5h0M396.1 131.6h0M378.3 184.9h0M333.7 143.5h0M308.8 75.5h0M358.0 111.7h0M328.8 104.6h0M398.5 115.1h0M381.6 160.7h0M320.2 102.0h0M378.1 186.2h0M400.6 104.5h0M378.4 112.7h0M342.7 93.9h0M368.3 108.6h0M389.9 161.1h0M378.1 167.8h0M374.5 145.7h0M378.0 119.8h0M367.4 141.1h0M383.3 189.2h0M321.1 108.5h0M385.1 127.9h0M340.9 131.4h0M347.9 160.1h0M357.6 148.4h0M374.4 201.8h0M368.1 139.3h0M389.5 152.6h0M374.6 125.7h0M349.9 127.6h0M380.8 143.8h0M376.2 109.1h0M351.1 167.3h0M396.2 132.9h0M381.1 89.7h0M390.2 126.4h0M343.1 64.5h0M351.9 121.0h0M385.2 129.1h0M376.4 147.4h0M355.5 169.7h0M366.9 125.8h0M345.5 167.3h0M352.4 128.9h0M339.3 131.6h0M331.4 108.9h0M346.0 68.0h0M380.7 155.9h0M439.2 87.0h0M427.4 76.2h0M323.0 58.9h0M362.4 139.3h0M392.2 124.4h0M360.2 136.2h0M383.0 195.4h0M369.8 136.6h0M356.6 109.3h0M360.7 171.8h0M380.0 165.7h0M383.5 152.5h0M325.8 104.7h0M367.8 191.1h0M382.5 103.1h0M358.2 150.6h0M373.5 188.6h0M353.3 102.1h0M397.5 101.1h0M364.6 126.4h0M384.7 153.3h0M402.7 93.5h0M365.0 121.0h0M337.3 51.7h0M372.1 108.0h0M377.1 114.0h0M397.0 114.6h0M377.8 166.3h0M365.3 88.2h0M353.5 102.7h0M340.8 153.3h0M353.9 98.8h0M368.1 151.9h0M350.3 133.0h0M321.4 91.8h0M367.8 192.3h0M378.5 221.6h0M370.6 143.6h0M363.2 130.4h0M357.8 112.1h0M374.2 155.4h0M390.1 108.7h0M359.5 148.0h0M378.6 148.2h0M382.0 184.1h0M364.7 116.2h0M382.1 108.6h0M357.3 100.7h0M381.3 133.7h0M366.9 166.0h0M337.8 116.9h0M364.7 139.4h0M372.1 147.3h0M356.6 149.0h0M400.0 103.8h0M394.9 89.5h0M345.3 83.1h0M365.4 167.5h0M361.8 150.0h0M340.8 84.2h0M361.9 151.7h0M380.0 160.4h0M339.2 80.4h0M383.7 162.0h0M432.0 37.1h0M327.8 111.2h0M382.8 115.1h0M394.1 103.5h0M402.0 96.8h0M332.6 139.5h0" stroke="#009E73" stroke-width="2.0" stroke-linecap="round" fill="none"/>
<path d="M348.3 128.8h0M326.3 107.0h0M318.0 90.9h0M324.6 90.8h0M354.8 154.4h0M331.4 114.9h0M372.9 142.3h0M306.6 86.8h0M305.7 91.5h0M310.1 83.5h0M438.9 66.0h0M316.8 58.0h0M350.5 153.7h0M337.4 137.0h0M340.4 74.5h0M329.6 59.9h0M335.4 135.9h0M350.3 157.2h0M326.2 77.5h0M330.2 135.9h0M330.3 92.2h0M329.8 124.6h0M343.1 84.7h0M346.4 169.1h0M324.6 96.3h0M325.8 78.1h0M360.4 132.4h0M351.6 152.7h0M347.4 50.4h0M343.3 141.1h0M319.9 74.4h0M313.7 60.8h0M361.7 92.7h0M421.7 87.3h0M393.8 84.3h0M332.0 53.7h0M311.1 83.5h0M336.2 113.9h0M359.9 180.1h0M327.9 105.9h0M355.6 160.2h0M351.7 64.5h0M331.6 107.3h0M353.1 173.3h0M361.8 94.8h0M348.2 155.8h0M348.7 125.6h0M309.0 82.9h0M316.1 98.1h0M339.8 112.5h0M305.8 86.5h0M328.4 97.1h0M333.8 102.0h0M335.4 78.6h0M348.8 52.8h0M311.6 90.3h0M316.0 82.0h0M329.5 97.9h0M321.6 61.4h0M310.6 81.2h0M322.2 63.0h0M329.0 95.2h0M375.5 131.8h0M328.0 88.6h0M343.4 55.4h0M338.3 99.4h0M364.3 185.5h0M320.2 74.4h0M367.7 181.2h0M326.8 104.5h0M328.8 68.8h0M412.9 98.2h0M326.5 53.9h0M388.5 141.6h0M328.0 77.5h0M360.9 183.6h0M343.1 81.1h0M321.0 101.6h0M428.5 42.1h0M366.4 182.2h0M362.6 166.0h0M411.9 95.4h0M358.0 165.8h0M332.6 54.9h0M320.8 101.2h0M382.3 161.8h0M356.9 165.6h0M310.5 92.6h0M317.0 88.8h0M309.3 86.4h0M340.5 126.7h0M326.5 101.1h0M318.7 75.2h0M311.6 79.9h0M370.6 193.6h0M386.8 99.0h0M352.1 169.8h0M324.1 86.7h0M340.5 97.2h0M320.4 68.7h0M339.1 58.2h0M335.8 83.3h0M325.1 101.0h0M343.8 141.6h0M379.1 200.6h0M362.8 191.5h0M323.2 94.2h0M332.0 129.1h0M336.5 107.8h0M341.9 138.2h0M314.7 78.3h0M359.1 116.7h0M332.5 120.6h0M312.2 66.3h0M351.5 156.6h0M324.5 109.6h0M334.3 73.6h0M371.6 146.4h0M334.2 127.7h0M325.9 76.6h0M375.4 100.7h0M399.3 83.0h0M308.1 67.4h0M334.8 103.7h0M316.3 92.5h0M377.3 114.5h0M363.0 185.8h0M343.2 138.8h0M348.5 87.7h0M365.1 187.0h0M322.8 57.9h0M339.6 104.0h0M331.8 125.9h0M346.4 142.5h0M339.6 158.4h0M344.4 93.2h0M424.1 50.8h0M361.8 177.6h0M333.6 104.2h0M386.5 166.8h0M335.0 80.1h0M330.4 92.1h0M329.8 85.9h0M341.2 92.7h0M325.0 74.4h0M330.6 117.5h0M330.1 49.8h0M329.4 56.0h0M332.9 129.3h0M328.4 114.2h0M334.6 135.8h0M340.4 95.6h0M349.8 95.0h0M328.3 93.9h0M345.7 120.6h0M331.0 56.5h0M328.0 58.0h0M405.6 81.4h0M364.4 184.1h0M347.8 102.6h0M343.4 151.0h0M304.0 90.8h0M344.4 153.1h0M321.0 68.3h0M348.9 171.6h0M353.6 171.3h0M352.2 153.0h0M343.9 52.4h0M317.4 104.3h0M309.8 80.9h0M338.7 103.7h0M358.1 167.9h0M323.8 88.1h0M306.3 86.3h0M364.6 99.8h0M308.7 88.4h0M338.2 132.3h0" stroke="#56B4E9" stroke-width="2.0" stroke-linecap="round" fill="none"/>
<path d="M339.4 92.2h0M330.9 135.8h0M383.8 109.4h0M396.2 101.1h0M368.8 131.0h0M350.7 61.6h0M375.6 125.7h0M346.2 100.0h0M389.1 82.1h0M326.1 120.2h0M383.6 201.2h0M360.0 184.6h0M390.5 82.6h0M381.7 179.2h0M348.4 161.3h0M387.9 140.3h0M361.8 115.3h0M364.5 116.8h0M346.5 86.8h0M359.8 89.8h0M380.3 165.5h0M359.8 145.7h0M380.1 185.2h0M359.9 154.3h0M376.3 113.4h0M378.9 154.3h0M343.6 89.3h0M390.6 123.7h0M390.1 165.6h0M377.3 182.5h0M369.5 164.2h0M324.3 73.2h0M374.2 184.3h0M347.7 141.6h0M353.6 89.3h0M347.3 116.1h0M347.8 127.4h0M320.5 84.5h0M370.2 107.0h0M357.3 144.2h0M356.9 106.7h0M362.3 182.8h0M387.0 129.6h0M397.9 91.7h0M343.5 88.6h0M382.5 104.7h0M356.7 156.3h0M362.1 100.9h0M347.6 101.2h0M387.0 116.8h0M376.4 99.1h0M374.6 187.6h0M390.4 114.4h0M376.1 149.3h0M331.6 58.7h0M344.7 108.7h0M339.3 121.8h0M389.7 84.4h0M383.4 98.9h0M346.0 146.6h0M334.3 80.6h0M374.4 190.7h0M372.7 160.9h0M357.8 150.1h0M358.2 117.8h0M374.0 187.5h0M349.0 116.9h0M363.1 99.6h0M345.2 97.9h0M355.4 182.0h0M339.1 106.6h0M305.6 89.2h0M360.7 137.7h0M387.6 101.2h0M395.6 107.3h0M389.9 82.0h0M372.9 115.3h0M345.1 163.8h0M385.7 108.8h0M389.6 165.8h0M396.8 101.1h0M357.5 155.0h0M374.9 115.3h0M356.4 143.3h0M365.0 155.9h0M348.9 161.8h0M380.8 216.1h0M384.7 118.9h0M358.4 149.7h0M309.0 87.3h0M394.6 145.7h0M330.7 69.1h0M361.5 105.8h0M325.0 88.3h0M361.5 88.0h0M358.1 88.7h0M386.7 129.6h0M360.0 91.9h0M394.5 129.7h0M372.0 129.9h0M369.3 196.9h0M338.6 92.9h0M336.6 122.9h0M336.9 131.9h0M390.5 164.7h0M365.1 139.3h0M354.7 101.7h0M348.7 170.0h0M377.4 108.6h0M355.6 178.5h0M360.5 138.1h0M343.9 151.0h0M362.8 133.1h0M367.2 143.8h0M375.6 209.0h0M361.5 137.7h0M336.9 121.3h0M391.1 141.5h0M368.6 162.1h0M385.9 160.9h0M337.8 137.5h0M358.1 143.1h0M394.5 121.6h0M382.0 101.9h0M372.7 176.5h0M387.3 138.9h0M369.0 205.8h0" stroke="#E69F00" stroke-width="2.0" stroke-linecap="round" fill="none"/>
<path d="M444.4 49.6h0M423.9 77.3h0M438.8 60.9h0M423.5 48.3h0M445.6 43.4h0M415.2 99.3h0M435.0 54.7h0M438.9 85.8h0M436.1 35.5h0M420.3 56.2h0M435.2 42.5h0M439.8 86.5h0M409.3 97.0h0M433.7 49.6h0M421.2 42.6h0M441.1 77.3h0M419.7 86.9h0M402.5 80.4h0M433.4 78.2h0M430.8 64.0h0M439.4 71.0h0M431.4 76.7h0M426.7 47.6h0M433.1 83.0h0M426.6 37.0h0M421.1 91.3h0M431.5 51.0h0M431.1 65.7h0M440.1 58.7h0M349.6 66.9h0M426.5 55.2h0M417.7 87.2h0M424.6 67.5h0M438.8 75.1h0M415.4 99.2h0M430.1 85.4h0M425.3 92.9h0M424.2 46.8h0M445.3 42.9h0M428.9 58.0h0M428.5 36.9h0M421.8 91.2h0M420.2 62.6h0M404.2 89.8h0M431.2 38.5h0M422.4 63.2h0M437.0 42.8h0M439.7 58.6h0M434.2 36.4h0M424.8 59.8h0M439.2 49.5h0M431.5 54.1h0M424.5 42.1h0M435.7 76.1h0M439.5 76.1h0M417.9 88.4h0M439.6 64.3h0M424.4 76.7h0M429.7 37.6h0M443.4 82.3h0M422.7 38.2h0M427.6 57.7h0M427.6 82.9h0M427.9 86.2h0M445.0 48.9h0M425.0 67.2h0M421.2 96.9h0M440.8 36.6h0M422.7 38.5h0M416.3 82.4h0M439.1 83.3h0M425.2 37.7h0M424.2 37.4h0M438.9 83.2h0M415.4 95.1h0M420.7 90.1h0M426.2 90.2h0M426.9 57.9h0M429.0 40.4h0M422.8 58.2h0M442.0 45.4h0M420.1 61.8h0M428.0 41.5h0M424.3 76.8h0M438.1 71.8h0M434.2 79.2h0M432.8 54.1h0M426.2 79.8h0M434.1 81.4h0M425.9 46.0h0M431.6 56.7h0M432.9 70.0h0M420.9 56.5h0M431.1 70.8h0M440.3 44.9h0M431.7 47.4h0M429.7 82.6h0M433.4 63.2h0M442.7 36.9h0M429.5 40.6h0M434.6 84.7h0M430.6 62.0h0M398.4 90.1h0M430.8 82.0h0M438.2 64.7h0M441.1 83.9h0M423.8 56.8h0M421.3 52.0h0M428.9 41.9h0M439.4 37.5h0M428.7 54.9h0M426.2 81.7h0M437.7 62.4h0M440.5 65.7h0M430.9 52.6h0M433.0 82.1h0M432.7 36.7h0M426.8 48.3h0M425.5 46.1h0M440.2 63.9h0M421.5 69.2h0M441.6 82.1h0M441.9 55.6h0M443.6 84.0h0M439.7 67.7h0M430.1 62.9h0M423.4 87.4h0M430.1 65.2h0M424.7 79.0h0M422.2 63.7h0M434.8 88.8h0M429.2 50.4h0M437.3 61.0h0M433.0 56.9h0M434.2 58.7h0M415.7 90.3h0M441.4 69.6h0M429.1 73.1h0M438.7 88.1h0M442.1 59.6h0M438.8 72.4h0M422.2 43.0h0M423.6 88.2h0M419.6 85.6h0M430.2 64.4h0M443.6 50.5h0M438.1 88.4h0M414.3 98.2h0M425.1 73.7h0M431.5 73.0h0M436.3 89.8h0M426.0 36.9h0M429.4 85.6h0M420.8 51.3h0M425.0 74.4h0M420.0 83.1h0M429.8 86.4h0M435.3 67.2h0M439.4 49.8h0M442.8 54.5h0M424.2 42.8h0M418.3 81.9h0M427.4 89.7h0M437.9 36.1h0M425.1 44.1h0M420.6 82.4h0M426.7 79.5h0M420.7 49.0h0M434.3 47.3h0M429.2 76.4h0M421.8 40.8h0M440.9 37.7h0M420.2 94.4h0M439.3 62.6h0M440.1 78.5h0M441.7 76.5h0M441.2 42.4h0M432.8 44.0h0M421.7 56.8h0M417.3 89.2h0" stroke="#D55E00" stroke-width="2.0" stroke-linecap="round" fill="none"/>
<path d="M340.2 149.9h0M325.7 117.6h0M361.0 93.5h0M402.7 86.4h0M372.0 152.6h0M376.5 119.4h0M355.8 96.6h0M323.7 117.1h0M322.6 66.0h0M331.3 133.0h0M343.1 76.3h0M358.1 185.8h0M354.3 169.7h0M339.8 65.4h0M336.0 63.7h0M334.8 52.3h0M342.4 153.9h0M345.8 58.1h0M332.7 111.2h0M346.8 69.4h0M385.2 130.1h0M348.1 91.4h0M358.9 94.8h0M338.9 61.4h0M348.3 115.1h0M332.3 59.0h0M338.9 63.2h0M338.8 118.3h0M341.4 61.6h0M344.5 51.0h0M339.2 51.9h0M317.2 79.9h0M350.1 66.7h0M332.3 113.0h0M330.1 61.6h0M351.4 58.6h0M320.2 97.9h0M335.2 81.0h0M345.7 67.3h0M371.7 106.4h0M347.1 118.6h0M356.1 167.0h0M405.6 89.9h0M354.8 98.2h0M343.1 111.5h0M337.2 58.8h0M340.4 51.8h0M442.2 72.1h0M351.9 72.5h0M394.0 80.2h0M326.0 53.8h0M337.5 89.8h0M344.6 155.3h0M357.2 185.7h0M334.6 62.1h0M386.3 97.9h0M317.8 79.0h0M346.2 72.8h0M396.7 88.3h0M343.7 55.1h0M372.2 152.5h0M349.9 57.9h0M349.6 104.1h0M368.7 181.8h0M347.7 88.5h0M321.1 104.6h0M336.3 78.5h0M440.3 87.3h0M388.1 143.6h0M354.1 174.4h0M316.4 79.7h0M348.1 52.4h0M316.7 79.3h0M342.5 133.4h0M349.0 72.6h0M309.0 63.0h0M334.8 64.2h0M320.8 106.2h0M321.6 71.2h0M340.7 95.7h0M329.7 51.1h0M339.1 123.5h0M335.9 134.2h0M352.8 75.0h0M358.9 180.7h0M356.4 166.6h0M389.2 155.4h0M327.4 114.2h0M366.1 186.3h0M324.5 115.8h0M347.1 59.2h0M438.6 64.1h0M342.7 94.3h0M340.5 51.5h0M367.9 194.2h0M338.2 59.7h0M332.9 56.8h0M310.7 73.9h0M386.6 108.2h0M345.2 91.5h0M346.5 114.0h0M326.9 87.0h0M336.4 52.7h0M368.0 181.3h0M384.9 89.4h0M328.8 129.2h0M340.0 61.1h0M328.1 115.6h0M326.7 69.0h0M332.0 83.8h0M315.0 57.4h0M331.1 111.8h0M347.6 146.4h0M332.5 87.8h0M340.9 80.0h0M337.0 71.2h0M416.8 93.0h0M345.8 113.8h0M339.5 62.7h0M323.8 84.2h0M341.5 80.2h0M401.4 80.7h0M330.5 52.0h0M335.2 79.1h0M338.2 66.9h0M341.3 71.8h0M320.5 105.7h0M345.4 82.1h0M331.2 73.1h0M373.1 176.7h0M340.2 79.5h0M337.9 132.0h0M331.2 111.5h0M347.2 163.7h0M386.2 168.8h0M374.2 151.7h0M363.8 90.1h0M337.1 49.7h0M351.3 58.5h0M338.9 62.2h0M319.4 75.8h0M325.6 54.9h0M364.5 127.4h0M324.0 83.2h0M340.9 147.5h0M324.4 90.8h0M313.2 82.4h0M398.2 87.3h0M378.4 170.7h0M380.8 178.0h0M329.6 66.5h0M309.1 93.5h0" stroke="#CC79A7" stroke-width="2.0" stroke-linecap="round" fill="none"/>
<path d="M329.2 53.6h0M316.2 67.7h0M319.6 73.0h0M345.8 70.3h0M342.7 61.4h0M305.5 75.2h0M334.6 48.2h0M363.5 96.5h0M334.3 85.7h0M322.6 81.5h0M314.0 64.1h0M378.6 92.4h0M346.3 168.9h0M336.9 115.0h0M321.5 60.5h0M344.0 135.5h0M369.5 93.0h0M349.0 172.3h0M315.5 67.9h0M321.2 76.2h0M361.8 96.0h0M311.6 73.2h0M309.7 70.0h0M331.0 99.3h0M312.7 90.6h0M338.5 125.6h0M331.9 66.6h0M370.5 92.5h0M326.4 72.7h0M338.7 143.4h0M332.1 69.0h0M364.4 98.4h0M328.6 124.5h0M345.1 68.5h0M309.1 73.3h0M364.7 99.3h0M321.7 104.0h0M384.5 91.0h0M327.0 97.4h0M323.7 72.9h0M378.2 98.5h0M347.8 71.9h0M314.1 72.8h0M318.0 73.5h0M328.3 97.4h0M312.5 71.0h0M326.5 55.1h0M370.5 195.8h0M398.8 93.1h0M335.5 76.6h0M309.2 70.4h0M384.8 92.5h0M333.3 105.6h0M361.9 193.2h0M308.8 72.6h0M333.8 74.7h0M327.1 61.2h0M308.2 75.8h0M310.7 65.9h0M331.4 59.6h0M328.0 48.5h0M319.3 53.3h0M320.5 60.6h0M320.9 109.2h0M327.8 60.4h0" stroke="#F0E442" stroke-width="2.0" stroke-linecap="round" fill="none"/>
<path d="M341.0 93.4h0M376.3 127.8h0M372.0 96.1h0M387.2 136.3h0M330.6 117.2h0M338.4 130.1h0M349.1 138.6h0M380.6 156.1h0M383.3 147.3h0M362.0 89.7h0M368.8 157.4h0M351.6 74.7h0M386.4 101.4h0M377.4 183.9h0M391.4 139.6h0M369.9 202.4h0M360.6 116.5h0M349.3 103.9h0M391.1 83.0h0M400.7 78.7h0M351.7 113.1h0M350.5 151.8h0M380.5 156.6h0M368.6 196.8h0M358.0 108.4h0M348.6 117.1h0M365.7 126.7h0M355.4 150.3h0M395.5 138.7h0M350.7 61.2h0M370.2 172.9h0M382.4 134.1h0M379.2 212.9h0M372.5 144.1h0M338.4 94.0h0M346.9 96.3h0M370.6 132.4h0M336.9 123.9h0M384.7 147.1h0M390.4 117.9h0M335.7 138.6h0M367.0 102.9h0M364.9 123.2h0M376.1 92.3h0M370.1 108.8h0M387.2 87.6h0M347.8 87.1h0M352.4 172.2h0M393.2 99.3h0M376.4 132.2h0M342.5 137.7h0M376.7 153.2h0M353.5 173.7h0M381.2 133.9h0M350.0 123.1h0M392.5 101.3h0M348.7 171.5h0M356.4 173.6h0M313.3 78.9h0M325.4 100.8h0M336.4 112.4h0M310.7 66.8h0M359.1 157.9h0M340.4 93.2h0M353.7 174.0h0M350.0 123.5h0M377.6 209.8h0M307.9 71.8h0M374.7 114.2h0M351.0 154.6h0M386.1 98.2h0M371.1 130.6h0M376.2 204.7h0M387.0 157.4h0M365.3 199.6h0M344.1 110.4h0M370.9 96.7h0M373.4 145.0h0M358.2 156.5h0M359.7 144.7h0M380.4 211.0h0M372.9 167.7h0M349.5 142.0h0M377.9 197.9h0M382.1 89.9h0M360.0 153.0h0M391.3 153.6h0M388.0 130.0h0M324.4 92.7h0M314.4 70.5h0M365.4 117.9h0M338.8 108.7h0M362.6 155.9h0M351.5 124.1h0M348.0 142.3h0M365.4 145.9h0M377.7 186.4h0M366.5 111.5h0M338.9 122.3h0M333.4 144.0h0M308.8 81.8h0M395.0 137.0h0M374.7 114.9h0M324.9 101.1h0M359.2 173.2h0M387.4 98.8h0M389.9 137.0h0M368.9 116.7h0M368.1 131.6h0M370.3 97.1h0M394.9 136.8h0M366.0 107.9h0M389.1 167.1h0M338.0 97.1h0M376.2 184.2h0M386.4 157.2h0M393.6 130.1h0M392.4 126.7h0M355.9 108.1h0M341.8 93.1h0M398.6 108.6h0M364.3 86.1h0M341.1 93.6h0M383.0 88.4h0M376.9 198.9h0M318.5 89.3h0M350.1 105.9h0M355.3 116.8h0M376.5 98.9h0M343.9 101.9h0M372.3 128.3h0M368.1 88.5h0M349.3 110.1h0" stroke="#E69F00" stroke-width="2.0" stroke-linecap="round" fill="none"/>
<path d="M353.3 68.9h0M347.5 69.3h0M386.4 144.0h0M342.9 133.5h0M326.7 61.9h0M338.4 125.2h0M319.0 74.3h0M350.1 63.4h0M331.5 61.7h0M339.5 75.6h0M358.5 173.8h0M341.3 71.6h0M315.5 59.7h0M364.6 185.8h0M355.5 170.4h0M318.9 54.9h0M327.2 60.9h0M346.4 113.5h0M326.4 63.5h0M346.7 169.4h0M350.0 73.7h0M335.0 144.0h0M345.1 66.9h0M348.3 70.9h0M333.2 142.1h0M342.7 61.3h0M336.7 75.1h0M331.7 105.2h0M333.3 57.7h0M383.8 117.2h0M346.8 63.4h0M345.2 142.1h0M331.1 115.5h0M331.6 78.5h0M423.3 42.0h0M371.5 160.4h0M332.7 59.1h0M313.5 71.2h0M323.1 79.0h0M346.7 69.6h0M316.3 55.7h0M344.8 67.8h0M342.4 136.1h0M352.7 158.8h0M390.2 82.5h0M317.2 76.6h0M371.6 160.7h0M376.6 113.3h0M373.1 169.9h0M322.0 72.5h0M347.6 88.4h0M355.0 154.0h0M370.9 184.8h0M347.6 165.1h0M337.6 54.6h0M332.2 57.1h0M325.0 72.2h0M348.5 168.5h0M318.9 98.4h0M353.5 66.4h0M320.9 105.0h0M378.3 169.2h0M347.1 119.1h0M440.0 87.7h0M338.7 47.1h0M315.7 59.9h0M319.0 93.3h0M334.7 61.2h0M351.3 58.6h0M348.7 71.2h0M344.7 84.0h0M328.4 113.6h0M353.6 65.5h0M348.9 76.6h0M384.2 160.8h0M348.7 135.4h0M376.1 199.1h0M354.9 60.5h0M321.5 73.9h0M337.2 69.1h0M309.3 71.4h0M337.3 52.7h0M318.7 80.0h0M337.4 64.3h0M342.5 52.7h0M345.0 61.7h0M322.9 79.9h0M343.8 56.3h0M360.2 94.4h0M350.8 63.6h0M348.8 118.8h0M337.9 132.8h0M370.7 90.3h0M375.4 88.9h0M402.0 82.0h0M311.6 70.8h0M366.6 191.9h0M343.9 77.7h0M358.9 101.6h0M324.6 73.5h0M328.0 128.5h0M311.0 73.4h0M353.2 109.2h0M334.8 115.1h0M328.9 56.5h0M318.1 76.8h0M331.3 65.6h0M344.2 77.7h0M334.3 73.2h0M339.6 60.5h0M329.1 103.2h0M367.2 192.7h0M341.0 135.2h0M343.9 75.4h0M329.3 116.6h0M340.5 65.3h0M334.7 75.8h0M335.4 128.1h0M401.6 90.4h0M352.2 61.7h0M329.3 109.3h0M354.0 168.1h0M387.3 108.7h0M317.9 79.1h0M345.0 62.2h0M324.4 79.2h0M349.3 118.0h0M348.7 53.5h0M345.4 58.5h0M335.5 68.4h0M371.0 208.1h0M339.5 58.6h0M328.3 71.4h0M337.3 62.8h0M346.3 144.2h0M314.2 82.2h0M340.3 121.0h0M323.4 113.4h0M343.0 133.8h0M325.9 64.8h0M363.2 180.4h0M345.6 69.2h0M344.6 75.8h0M348.5 70.8h0M354.2 61.4h0M344.4 74.9h0M345.9 53.2h0M341.7 67.0h0M329.7 115.5h0M325.3 115.5h0M319.6 72.2h0M344.4 50.1h0M338.4 135.9h0M331.6 78.3h0M345.4 81.5h0M333.6 142.7h0M353.3 60.8h0M315.3 80.6h0M337.5 131.8h0M391.3 107.1h0M371.2 93.3h0M344.7 58.7h0M359.5 101.2h0M316.1 78.6h0" stroke="#CC79A7" stroke-width="2.0" stroke-linecap="round" fill="none"/>
<path d="M308.8 89.5h0M350.8 117.4h0M345.5 97.5h0M376.8 112.2h0M374.3 168.3h0M373.6 175.9h0M384.8 81.6h0M351.0 86.1h0M379.7 156.3h0M336.3 125.9h0M360.8 187.6h0M381.5 197.3h0M392.6 145.1h0M364.0 176.6h0M333.2 140.3h0M393.8 128.3h0M392.8 92.6h0M337.6 145.7h0M376.9 94.2h0M344.3 92.5h0M345.9 110.4h0M390.3 145.1h0M358.0 125.0h0M383.0 129.2h0M327.7 111.2h0M361.0 180.1h0M355.6 153.6h0M390.8 144.6h0M359.0 106.3h0M350.3 87.5h0M332.8 100.5h0M327.6 51.7h0M363.6 100.9h0M381.9 97.9h0M370.3 159.4h0M391.9 144.4h0M384.5 129.4h0M338.6 100.4h0M343.4 162.4h0M383.0 115.5h0M377.1 215.4h0M374.1 165.1h0M340.8 147.9h0M376.3 116.3h0M346.7 99.7h0M351.0 85.0h0M367.0 188.4h0M379.7 208.6h0M441.2 86.4h0M376.8 218.4h0M356.3 125.6h0M358.4 101.7h0M365.1 87.3h0M358.3 136.9h0M371.5 203.0h0M351.6 131.5h0M397.0 94.2h0M368.3 88.7h0M337.7 95.1h0M382.4 172.4h0M389.2 102.2h0M366.5 163.0h0M358.1 123.0h0M432.6 78.5h0M331.9 112.6h0M376.1 140.0h0M390.0 137.2h0M367.8 189.1h0M336.1 124.3h0M377.0 98.0h0M368.6 162.0h0M377.9 149.8h0M388.1 160.7h0M385.3 104.6h0M308.4 79.3h0M353.2 90.5h0M379.2 130.8h0M381.1 103.3h0M352.2 172.0h0M325.7 112.3h0M385.9 130.9h0M369.8 117.4h0M328.7 106.3h0M396.5 132.4h0M335.4 143.6h0M327.0 109.8h0M380.4 154.6h0M343.6 123.5h0M385.5 100.4h0M375.5 217.5h0M304.2 88.5h0M380.1 189.3h0M363.3 135.8h0M377.6 121.7h0M371.6 185.0h0M334.5 143.7h0M364.7 161.3h0M357.1 141.5h0M364.7 147.9h0M387.1 145.0h0M383.4 101.7h0M386.2 131.0h0M356.5 102.5h0M352.1 110.1h0M374.8 114.5h0M342.2 97.3h0M444.4 41.2h0M371.9 163.8h0M360.6 143.6h0M346.3 148.2h0M373.2 154.0h0M371.9 148.5h0M367.5 165.8h0M366.1 162.0h0M401.6 92.4h0M389.5 84.7h0M305.0 90.6h0M367.7 113.4h0M351.4 59.2h0M362.0 105.8h0M360.9 140.9h0M354.4 122.8h0M342.8 93.8h0M390.1 114.3h0M346.2 107.3h0M392.7 81.8h0M381.1 173.7h0M388.6 126.4h0M349.7 125.2h0M400.7 99.8h0M371.3 103.9h0M326.3 108.3h0M361.1 119.4h0M383.0 189.3h0M396.3 137.6h0M390.7 161.4h0M389.7 115.1h0M381.7 215.3h0M373.1 126.3h0M362.1 101.4h0M385.9 161.2h0M338.1 115.7h0M340.0 98.7h0M369.9 120.3h0M371.8 133.8h0M330.9 129.9h0M395.7 140.3h0M364.6 164.4h0M331.8 140.4h0M384.7 157.9h0M365.2 163.3h0M398.8 102.1h0M326.0 105.2h0M379.7 155.9h0M341.3 93.9h0M403.7 92.2h0M309.3 76.9h0M361.7 106.7h0M361.3 100.0h0M361.6 189.5h0M354.2 131.5h0M352.9 172.8h0M348.4 114.7h0M390.5 166.2h0M334.5 144.0h0M376.1 185.5h0M367.7 108.8h0M352.3 85.5h0M368.3 187.8h0M382.5 84.7h0M363.0 96.1h0M367.8 139.8h0M317.2 105.5h0M363.7 139.9h0M346.3 135.2h0M374.8 157.7h0M402.4 97.9h0M378.9 208.9h0M342.2 131.7h0M372.8 120.2h0M360.1 121.9h0M385.1 109.1h0M369.1 128.4h0M394.5 127.4h0M371.0 128.3h0M361.8 96.0h0M373.4 125.6h0M341.7 85.3h0M364.5 127.8h0M377.9 112.8h0M330.5 130.9h0M359.6 121.7h0M372.1 144.8h0M385.3 109.1h0M368.2 95.1h0M371.7 146.7h0M363.6 141.4h0M342.3 72.5h0M377.8 165.7h0M382.3 112.5h0M384.2 159.8h0M346.7 105.2h0M369.1 155.3h0M340.0 152.3h0M384.0 152.9h0M372.3 106.7h0M332.1 107.2h0M354.9 94.0h0M364.4 161.7h0M351.0 115.0h0M390.1 107.7h0M331.2 118.1h0M390.5 114.3h0M346.8 99.2h0M340.4 149.5h0M361.1 106.9h0M386.3 110.1h0M342.5 84.6h0M372.8 120.3h0M369.1 157.9h0M375.4 86.9h0M351.4 114.7h0M361.2 117.9h0M357.5 170.3h0M379.4 198.3h0M386.8 120.8h0M360.0 172.6h0M389.7 83.5h0M351.1 136.5h0M381.4 176.5h0M361.5 106.4h0M390.2 135.3h0M373.8 201.9h0M377.5 138.2h0M360.2 97.4h0M352.4 127.3h0M369.0 155.1h0M398.2 102.2h0M376.4 202.9h0M370.5 181.5h0M361.3 153.2h0M362.2 142.6h0M376.8 205.9h0M386.2 162.4h0M357.9 150.8h0M338.9 103.2h0M346.7 113.2h0M399.6 97.0h0M357.6 124.0h0M333.8 82.1h0M366.4 129.8h0M390.5 101.3h0M398.8 96.6h0M394.4 141.4h0M426.5 48.3h0" stroke="#009E73" stroke-width="2.0" stroke-linecap="round" fill="none"/>
<path d="M366.5 131.9h0M380.3 218.4h0M392.2 137.6h0M354.2 102.4h0M334.2 96.2h0M373.4 137.7h0M351.2 93.0h0M396.1 116.2h0M379.2 155.8h0M442.7 37.3h0M377.9 83.7h0M377.1 109.4h0M397.2 108.7h0M379.3 122.5h0M379.3 119.9h0M348.5 113.9h0M393.0 94.4h0M385.0 155.5h0M361.7 113.8h0M382.6 117.4h0M403.4 79.4h0M365.5 124.9h0M370.8 146.3h0M349.3 94.8h0M332.4 108.7h0M330.5 121.0h0M345.2 145.5h0M379.8 197.2h0M398.9 107.4h0M367.1 166.5h0M373.7 109.8h0M374.5 86.3h0M338.0 95.0h0M381.4 146.7h0M350.8 88.7h0M389.4 121.3h0M321.3 94.3h0M319.7 87.4h0M351.8 118.6h0M378.4 134.2h0M383.7 155.2h0M349.8 102.3h0M388.4 171.7h0M374.3 172.6h0M356.2 128.9h0M314.1 85.4h0M384.6 157.5h0M339.6 122.0h0M376.5 114.4h0M338.6 137.5h0M398.0 112.0h0M389.7 135.6h0M370.1 170.8h0M331.1 126.5h0M358.6 142.4h0M402.1 87.4h0M385.2 151.7h0M322.3 92.0h0M378.4 159.7h0M389.9 106.2h0M392.9 81.6h0M349.4 94.4h0M393.7 90.7h0M389.0 128.5h0M374.3 158.0h0M384.1 102.8h0M392.7 139.9h0M384.0 168.5h0M369.5 114.6h0M338.1 126.0h0M391.3 149.4h0M377.5 146.3h0M400.2 107.2h0M323.6 84.1h0M373.5 143.8h0M368.1 124.8h0M394.4 135.7h0M345.7 95.4h0M376.8 98.1h0M365.9 138.9h0M378.3 118.3h0M345.2 159.1h0M376.1 113.7h0M374.4 135.2h0M365.6 140.3h0M363.5 95.1h0M368.1 108.8h0M382.9 107.9h0M345.3 109.8h0M443.2 40.7h0M335.5 98.9h0M398.6 91.8h0M322.0 65.4h0M395.3 112.6h0M386.1 167.6h0M348.0 104.3h0M350.0 126.3h0M346.4 154.8h0M440.6 74.9h0M377.6 142.7h0M348.9 138.7h0M388.2 166.1h0M312.7 94.9h0M365.2 95.7h0M346.6 96.2h0M367.9 108.9h0M376.9 113.8h0M381.8 150.2h0M333.4 127.9h0M440.1 74.3h0M340.2 62.3h0M372.3 122.4h0M350.2 135.1h0M400.1 101.5h0M385.5 156.6h0M370.5 166.2h0M395.1 129.2h0M374.1 177.1h0M374.7 101.4h0M316.4 88.9h0M369.5 134.4h0M321.0 82.5h0M330.9 100.8h0M359.2 127.6h0M395.3 105.6h0M336.3 81.3h0M391.6 125.6h0M381.3 157.3h0M363.3 143.2h0M369.8 181.7h0M341.7 136.7h0M353.7 135.3h0M361.5 153.3h0M332.2 139.0h0M381.1 149.6h0M376.5 114.7h0M359.9 133.9h0M375.6 128.7h0M368.3 112.8h0M310.6 80.6h0M362.8 118.5h0M376.1 199.2h0M319.1 101.0h0M390.3 149.2h0M395.9 114.4h0M386.1 108.2h0M345.6 118.1h0M373.8 100.7h0M391.4 140.4h0M380.9 142.5h0M367.6 131.2h0M383.0 128.8h0M374.4 164.8h0M367.0 176.7h0M374.6 133.6h0M396.3 113.8h0M393.6 106.9h0M395.1 138.1h0M381.7 104.6h0M350.1 95.7h0M383.3 120.2h0M394.1 129.8h0M335.9 49.7h0M375.0 194.1h0M381.4 136.1h0M372.6 186.4h0M359.6 92.4h0M366.1 177.1h0M369.8 135.7h0M372.7 185.7h0M366.1 177.7h0M366.8 141.3h0M377.8 144.7h0M387.9 131.9h0M383.7 108.0h0M345.6 86.7h0M375.1 150.6h0M357.6 184.4h0M375.8 163.4h0M317.7 103.0h0M402.5 77.4h0M383.5 134.3h0M380.6 136.5h0M350.2 102.8h0M381.0 113.0h0M314.6 99.6h0M361.6 138.3h0M370.1 113.6h0M333.0 56.9h0M390.0 86.3h0M353.3 140.6h0M393.9 140.5h0M338.1 113.1h0M370.4 129.1h0M386.4 118.9h0M363.4 142.9h0M326.4 50.9h0M396.0 124.7h0M309.1 92.1h0M381.4 191.8h0M351.1 124.3h0M370.8 184.4h0M356.5 131.4h0M328.5 109.5h0M369.0 87.1h0M355.6 119.9h0M367.0 178.0h0M376.0 117.3h0M352.8 163.2h0M338.0 125.2h0M390.2 116.5h0M373.6 92.2h0M370.7 108.4h0M348.7 63.8h0M384.2 107.8h0M373.4 168.5h0M391.0 134.6h0M355.1 132.0h0M361.6 88.4h0M379.1 165.2h0M324.4 89.2h0M379.1 223.3h0M339.3 112.4h0M395.0 81.0h0M389.1 125.1h0M383.3 168.7h0M394.7 146.4h0" stroke="#0072B2" stroke-width="2.0" stroke-linecap="round" fill="none"/>
<path d="M332.7 96.5h0M310.3 66.0h0M377.2 96.4h0M313.1 64.8h0M331.8 66.1h0M332.6 76.6h0M335.9 79.0h0M335.2 53.4h0M333.9 93.7h0M322.0 73.7h0M318.9 81.8h0M305.5 88.9h0M336.8 107.9h0M325.9 61.3h0M321.2 86.4h0M334.8 135.6h0M394.7 95.9h0M346.8 112.3h0M389.4 80.9h0M345.4 68.2h0M380.6 91.5h0M383.8 93.0h0M325.3 51.4h0M323.7 77.2h0M316.9 69.0h0M334.2 67.3h0M310.6 76.0h0M320.2 75.2h0M352.6 66.6h0M326.9 73.8h0M311.1 70.7h0M344.4 68.3h0M317.0 73.9h0M387.8 82.7h0M319.5 51.0h0M306.6 76.0h0M314.8 65.3h0M327.4 68.2h0M315.8 68.9h0M341.8 59.4h0M313.0 71.9h0M343.9 77.1h0M310.0 73.3h0M317.8 64.1h0M360.0 176.3h0M315.5 56.5h0M333.5 83.5h0M338.7 144.9h0M338.3 71.9h0M313.9 95.7h0M353.3 149.8h0M312.6 80.5h0M333.0 67.5h0M342.7 77.6h0M385.8 96.4h0M369.7 195.9h0M310.9 62.3h0M327.9 66.1h0M328.6 69.4h0M333.7 125.4h0M310.0 75.8h0M322.4 103.6h0M387.2 87.5h0M354.5 67.9h0M331.5 54.9h0M329.2 98.2h0M348.8 69.6h0" stroke="#F0E442" stroke-width="2.0" stroke-linecap="round" fill="none"/>
<path d="M421.4 96.2h0M421.1 54.8h0M443.0 71.5h0M425.0 84.9h0M436.9 42.5h0M437.5 81.3h0M418.7 46.2h0M427.0 48.4h0M396.7 81.5h0M435.1 78.1h0M437.4 50.4h0M427.2 92.4h0M444.1 49.4h0M424.9 38.9h0M435.2 68.1h0M434.8 66.6h0M438.1 86.5h0M437.3 90.9h0M438.4 63.4h0M441.0 41.2h0M414.9 89.1h0M439.7 61.1h0M428.3 78.3h0M416.4 83.8h0M440.6 58.9h0M436.6 79.9h0M441.8 38.5h0M421.5 42.7h0M435.0 72.7h0M432.9 88.4h0M425.9 54.2h0M433.6 89.0h0M422.6 90.3h0M425.6 73.2h0M430.3 77.4h0M421.5 69.4h0M434.5 49.3h0M425.1 43.5h0M430.7 66.6h0M429.8 54.0h0M437.1 38.1h0M421.3 46.7h0M425.5 87.9h0M445.6 51.8h0M429.7 91.1h0M423.2 59.8h0M436.0 87.1h0M440.4 65.7h0M424.4 83.0h0M439.9 64.5h0M441.3 36.4h0M433.7 49.6h0M420.8 92.1h0M440.7 80.8h0M423.9 78.0h0M444.0 38.1h0M433.3 69.8h0M424.8 64.2h0M433.3 48.8h0M439.8 55.2h0M434.6 53.4h0M435.1 85.0h0M442.4 53.1h0M424.5 40.4h0M432.5 91.3h0M430.4 64.8h0M430.8 50.9h0M442.5 54.3h0M442.4 44.0h0M430.7 77.3h0M427.4 79.3h0M440.4 68.9h0M435.8 49.3h0M443.1 56.2h0M417.7 90.9h0M434.1 79.7h0M434.1 55.6h0M422.9 76.5h0M426.9 37.0h0M424.3 62.5h0M443.0 50.7h0M427.8 51.8h0M422.6 75.9h0M424.0 60.9h0M421.1 47.8h0M423.5 78.4h0M417.5 92.1h0M422.5 43.7h0M424.2 49.9h0M428.8 47.5h0M418.6 97.2h0M434.1 36.9h0M440.5 76.2h0M422.8 72.8h0M445.9 50.1h0M435.7 64.9h0M430.3 38.4h0M419.3 82.2h0M415.1 93.2h0M419.1 50.4h0M432.4 70.0h0M437.4 75.8h0M425.3 41.2h0M412.6 89.1h0M440.7 86.8h0M435.1 85.1h0M444.8 40.7h0M431.4 35.0h0M420.4 84.9h0M418.2 92.5h0M435.2 74.7h0M348.3 59.3h0M439.4 60.5h0M438.1 82.5h0M438.7 82.7h0M430.9 63.2h0M423.7 75.2h0M434.5 47.7h0M436.2 70.3h0M436.4 81.8h0M422.9 62.8h0M437.8 39.7h0M426.4 87.3h0M438.2 59.9h0M440.8 55.6h0M441.5 56.3h0M428.5 88.1h0M417.2 98.6h0M422.7 49.9h0M427.0 91.3h0M427.4 56.6h0M416.6 75.8h0M441.6 43.3h0M445.3 55.2h0M439.4 75.0h0M422.1 94.0h0M441.7 69.8h0M421.4 76.6h0M425.4 63.5h0M428.0 88.4h0M429.2 46.2h0M428.9 35.2h0M415.5 98.8h0M418.1 92.9h0M422.5 53.1h0M344.5 69.1h0M429.7 65.2h0M421.8 49.4h0M440.7 82.7h0M442.9 51.9h0M443.7 85.0h0M424.8 37.3h0M432.0 89.8h0M420.5 50.9h0M426.9 47.0h0M421.8 71.2h0M437.3 40.9h0M434.7 90.2h0M447.6 50.6h0M429.8 84.0h0M435.6 40.9h0M440.1 64.1h0M438.9 88.7h0M421.1 92.6h0M418.4 81.2h0M420.0 57.3h0M437.9 81.2h0M419.1 73.4h0M421.6 74.8h0M419.6 83.0h0M426.9 88.6h0M439.0 65.3h0M439.9 41.3h0M443.2 52.9h0M439.1 40.8h0M422.6 60.1h0M427.5 81.5h0M422.2 63.1h0M401.4 89.9h0M429.5 85.6h0M438.4 63.7h0M442.3 76.9h0M422.0 74.2h0M437.0 81.4h0M429.5 38.2h0M423.2 56.0h0M421.8 64.4h0M428.9 43.5h0M418.8 98.7h0M419.3 95.9h0M423.6 77.9h0M428.0 40.8h0M430.9 77.6h0M419.9 46.8h0M411.9 95.3h0" stroke="#D55E00" stroke-width="2.0" stroke-linecap="round" fill="none"/>
<path d="M331.4 74.2h0M310.1 91.9h0M324.7 53.6h0M341.2 90.4h0M366.8 187.3h0M309.7 63.4h0M348.0 126.9h0M332.2 98.5h0M343.4 112.0h0M324.2 104.9h0M364.4 179.9h0M319.6 60.3h0M310.9 84.2h0M379.5 201.8h0M335.7 129.4h0M337.7 148.7h0M323.4 59.7h0M325.4 78.4h0M332.3 55.9h0M312.6 89.2h0M375.6 148.0h0M307.8 82.8h0M322.6 109.7h0M359.0 116.2h0M370.2 191.5h0M314.2 88.9h0M316.4 87.3h0M352.5 148.9h0M311.8 89.9h0M349.0 100.0h0M343.1 120.9h0M334.9 142.5h0M432.5 54.0h0M304.9 86.6h0M351.5 64.4h0M332.6 100.5h0M343.1 80.9h0M350.4 53.1h0M310.0 86.9h0M315.7 86.8h0M328.4 117.7h0M327.1 99.1h0M334.0 60.5h0M373.2 148.9h0M324.2 90.4h0M327.8 106.0h0M337.5 118.1h0M329.0 88.9h0M333.2 77.4h0M332.4 129.6h0M379.6 161.7h0M333.5 103.9h0M439.7 86.6h0M339.3 108.1h0M327.0 121.3h0M346.5 167.4h0M334.3 79.0h0M332.9 59.3h0M321.6 92.7h0M322.3 67.6h0M354.8 150.0h0M331.4 120.7h0M351.4 130.4h0M324.6 89.5h0M319.0 61.1h0M439.6 37.2h0M329.8 57.8h0M308.8 84.2h0M319.3 78.1h0M317.6 88.0h0M374.1 118.7h0M364.2 179.5h0M310.9 83.2h0M333.6 119.1h0M410.7 93.9h0M325.4 89.9h0M347.7 53.3h0M334.2 137.4h0M341.8 144.1h0M308.8 83.5h0M313.7 95.5h0M316.6 95.1h0M330.4 81.2h0M340.9 96.5h0M331.5 60.2h0M392.0 124.2h0M364.2 191.0h0M354.5 158.4h0M348.0 164.2h0M330.6 80.8h0M319.6 92.7h0M327.2 105.7h0M348.5 168.4h0M327.2 88.6h0M377.1 143.0h0M348.3 167.1h0M345.1 127.1h0M425.0 50.0h0M400.4 84.4h0M331.3 83.5h0M316.0 86.4h0M373.9 194.7h0M326.7 124.6h0M433.6 54.0h0M359.0 163.4h0M321.5 101.0h0M315.5 63.1h0M357.2 171.1h0M347.0 57.6h0M322.3 92.7h0M422.2 52.1h0M381.3 171.6h0M357.6 159.2h0M333.8 129.9h0M390.0 99.5h0M319.4 59.8h0M336.9 48.6h0M345.2 91.6h0M343.3 71.5h0M327.9 91.0h0M312.9 66.2h0M319.0 102.8h0M329.1 59.0h0M329.8 122.5h0M343.2 91.0h0M331.3 74.0h0M386.6 114.4h0M347.0 126.3h0M354.1 152.0h0M371.3 199.6h0M365.6 197.7h0M313.2 69.3h0M305.9 81.5h0M348.7 56.6h0M329.8 50.7h0M322.7 109.3h0M316.0 98.4h0M333.2 113.0h0M327.9 97.9h0M350.3 164.8h0" stroke="#56B4E9" stroke-width="2.0" stroke-linecap="round" fill="none"/>
<path d="M591.3,33.8 L548.1,46.9 L521.4,81.1 L521.4,123.5 L548.1,157.7 L591.3,170.8 L634.5,157.7 L661.2,123.5 L661.2,81.1 L634.5,46.9 Z" fill="none" stroke="#3f8fd2" stroke-width="0.75"/>
<path d="M532.8 128.7h0" stroke="#d3d3d3" stroke-width="3.5" stroke-linecap="round" fill="none"/>
<path d="M548.3 142.7h0M658.1 128.3h0M583.5 127.0h0M547.0 135.2h0M584.0 143.3h0M593.3 154.7h0M590.6 163.5h0M564.3 113.4h0M578.6 151.2h0M581.1 146.1h0M565.5 141.9h0M551.9 146.6h0M523.1 103.8h0M603.1 129.7h0M574.5 105.5h0M544.4 146.5h0M589.9 129.1h0M583.5 135.7h0M565.6 102.3h0M543.8 140.3h0M592.8 136.9h0M585.7 139.2h0M567.9 158.6h0M562.6 107.8h0M561.5 112.3h0M536.9 119.6h0M551.9 112.4h0M594.5 163.9h0M542.4 148.4h0M565.0 142.0h0M572.1 159.7h0M581.4 122.2h0M548.1 116.2h0M577.0 164.7h0M577.9 126.0h0M571.5 140.8h0M575.7 112.1h0M592.4 140.2h0M581.8 114.1h0M594.8 149.2h0M565.5 122.8h0M556.8 147.2h0M594.7 153.1h0M596.6 142.4h0M572.3 152.7h0M598.5 140.1h0M579.3 123.7h0M549.0 129.1h0M566.4 144.7h0M586.0 137.7h0M550.9 129.4h0M581.3 143.7h0M569.5 124.7h0M574.6 115.3h0M587.6 124.8h0M577.4 147.5h0M545.8 121.4h0M555.9 148.6h0M564.4 144.4h0M590.1 155.4h0M558.5 118.4h0M581.2 165.7h0M570.8 107.9h0M593.1 164.4h0M575.0 100.6h0M581.2 136.3h0M585.7 127.5h0M590.6 130.3h0M589.7 146.5h0M540.2 123.1h0M575.7 107.5h0M578.7 154.9h0M582.4 160.3h0M596.4 145.7h0M572.2 154.0h0M552.1 141.7h0M611.3 112.3h0M583.7 117.8h0M587.7 158.2h0M561.8 139.3h0M552.3 97.2h0M552.0 133.3h0M555.4 151.3h0M553.6 139.5h0M582.8 157.5h0M547.6 114.5h0M593.4 143.9h0M572.2 150.3h0M581.1 144.7h0M552.3 115.3h0M573.6 118.5h0M564.6 138.8h0M529.9 88.0h0M561.9 134.8h0M621.5 143.8h0M561.6 104.5h0M548.3 135.4h0M594.2 154.0h0M541.3 134.6h0M558.9 160.7h0M536.4 100.4h0M566.6 118.3h0M590.1 131.9h0M647.6 136.3h0M583.6 165.1h0M536.7 141.8h0M550.2 146.8h0M615.9 117.4h0M553.9 148.6h0M568.7 125.3h0M638.6 142.2h0M557.3 101.5h0M596.0 139.8h0M566.4 140.6h0M548.3 131.4h0M573.1 137.6h0M572.6 134.0h0M567.3 127.1h0M535.9 129.3h0M593.6 147.9h0M573.7 107.6h0" stroke="#CC79A7" stroke-width="3.5" stroke-linecap="round" fill="none"/>
<path d="M527.7 136.0h0M532.2 129.1h0M528.5 130.5h0M534.7 134.4h0M531.6 123.7h0M532.1 122.1h0M522.6 120.5h0M523.1 116.4h0M526.9 103.4h0M535.6 130.5h0M521.2 90.5h0M521.2 118.8h0M534.1 138.3h0M532.2 122.0h0M525.4 133.3h0M559.7 97.6h0M533.9 116.5h0M533.6 140.0h0M535.3 129.3h0M527.0 131.9h0M530.0 132.8h0M529.6 130.9h0M528.6 123.3h0M531.3 144.5h0" stroke="#F0E442" stroke-width="3.5" stroke-linecap="round" fill="none"/>
<path d="M550.2 90.4h0M534.8 123.4h0M531.6 103.8h0M540.8 111.4h0M550.3 108.0h0M541.8 106.7h0M560.1 94.1h0M543.1 110.2h0M598.9 83.1h0M550.0 100.5h0M577.7 66.3h0" stroke="#E69F00" stroke-width="3.5" stroke-linecap="round" fill="none"/>
<path d="M579.4 106.6h0M576.7 149.3h0M592.9 166.8h0M577.8 154.8h0M546.7 152.4h0M531.7 111.2h0M577.8 124.7h0M590.5 151.8h0M553.1 132.8h0M541.9 111.0h0M580.4 165.3h0M608.9 110.7h0M559.6 127.3h0M594.5 138.9h0M568.6 156.2h0M566.9 159.7h0M580.2 166.4h0M570.3 162.7h0M592.7 146.8h0M569.4 162.6h0M660.3 110.8h0M654.5 107.9h0M577.0 150.8h0M566.3 142.4h0M575.6 158.9h0M598.0 148.0h0M535.6 112.8h0M653.8 110.8h0M546.3 107.9h0M578.2 163.5h0M586.9 149.9h0M589.2 168.9h0M584.7 134.6h0M588.0 161.7h0M576.4 111.4h0M629.7 120.4h0M580.1 166.0h0M562.3 156.0h0M552.4 124.6h0M551.1 125.5h0M572.3 149.9h0M539.5 97.6h0M594.3 150.9h0M647.3 115.5h0M570.3 157.2h0M637.4 137.2h0M575.5 162.7h0M586.3 161.5h0M583.8 151.6h0M568.0 160.1h0M596.4 162.4h0M571.3 158.5h0M539.4 117.9h0M574.6 144.8h0M571.9 155.9h0M574.7 166.2h0M562.0 156.3h0M592.9 164.0h0M578.7 132.5h0M571.7 155.6h0M537.8 90.4h0M551.2 145.4h0M579.8 162.7h0M579.7 150.0h0M586.8 135.5h0M550.0 149.4h0M571.9 160.4h0M540.5 122.2h0M554.6 120.8h0M586.4 150.0h0M544.2 100.6h0M575.9 151.0h0M534.0 124.9h0M584.1 167.9h0M576.6 158.2h0M572.6 165.0h0M555.0 151.3h0M587.0 168.1h0M567.3 160.7h0M589.5 155.1h0M577.0 158.3h0M554.9 123.3h0M587.7 166.1h0M553.6 130.2h0M576.1 152.4h0M552.2 120.3h0M542.8 105.0h0M579.5 154.6h0M524.0 90.6h0M557.0 160.7h0M527.4 130.4h0M565.7 163.0h0M560.6 124.9h0M534.3 138.7h0M606.1 66.7h0M547.2 148.5h0M589.3 151.3h0M564.5 149.9h0M596.4 152.6h0M578.9 158.7h0M579.0 145.7h0M575.6 149.7h0M555.3 131.8h0M550.3 101.1h0M539.0 116.7h0M581.2 149.2h0M541.1 97.8h0M598.1 150.5h0M572.3 107.8h0M592.0 144.5h0M564.2 120.6h0M591.4 148.2h0M590.6 160.3h0M582.9 137.0h0M524.9 113.6h0M591.7 169.1h0M590.7 158.7h0M549.5 134.5h0M587.5 82.7h0M594.6 115.0h0M590.5 159.8h0M574.0 152.2h0M595.7 166.0h0M588.5 160.7h0M650.8 126.7h0M573.8 154.7h0M655.6 117.6h0M658.5 100.9h0M658.4 119.6h0M586.5 133.5h0M557.4 116.6h0M538.5 92.1h0M569.8 147.5h0M556.2 154.9h0M563.3 157.6h0M584.5 167.9h0" stroke="#56B4E9" stroke-width="3.5" stroke-linecap="round" fill="none"/>
<path d="M660.0 117.8h0M546.7 102.9h0M588.0 128.9h0M549.1 114.6h0M530.4 92.8h0M582.4 129.8h0M529.3 122.4h0M543.1 94.1h0M553.6 143.9h0M545.0 109.9h0M539.4 124.5h0M522.0 108.5h0M526.1 87.1h0M651.0 104.4h0M555.7 99.7h0M553.2 130.6h0M522.1 108.6h0M538.4 110.7h0M539.1 129.4h0M579.1 130.2h0M523.7 84.5h0M529.6 111.8h0M618.1 50.7h0M528.9 94.5h0M564.1 105.1h0M653.4 124.1h0M562.3 98.7h0M527.4 97.5h0M610.3 141.3h0M554.1 100.2h0M559.7 101.9h0M611.7 53.3h0M580.3 126.7h0M535.6 131.5h0M541.7 143.4h0M545.2 104.1h0M608.9 53.9h0M539.2 93.5h0M547.9 129.9h0M536.7 101.6h0M550.2 108.1h0M540.0 91.4h0M555.6 102.4h0M528.4 102.4h0M521.0 95.9h0M585.8 131.1h0M575.6 123.6h0M539.9 130.3h0M643.8 118.7h0M551.1 98.5h0M621.0 50.9h0" stroke="#009E73" stroke-width="3.5" stroke-linecap="round" fill="none"/>
<path d="M578.8 110.8h0M624.9 129.9h0M615.9 86.1h0M644.2 106.3h0M625.3 157.4h0M640.3 67.7h0M633.0 49.3h0M652.7 118.6h0M644.5 139.7h0M647.8 96.0h0M586.9 118.0h0M561.6 113.9h0M608.4 114.5h0M574.5 108.9h0M596.7 138.5h0M631.2 122.7h0M632.5 100.7h0M629.8 140.4h0M629.3 110.8h0M660.5 110.5h0M637.1 66.9h0M627.1 143.3h0M636.9 104.9h0M642.9 129.9h0M617.1 107.1h0M633.8 51.9h0M579.5 126.2h0M642.0 111.8h0M655.5 117.7h0M612.6 135.4h0M619.3 145.3h0M617.9 117.6h0M628.1 129.7h0M571.1 112.2h0M660.5 108.7h0M609.4 122.0h0M623.7 127.1h0M610.0 143.1h0M613.3 108.7h0M625.9 159.4h0M606.6 130.3h0M605.7 64.9h0M590.7 118.5h0M605.9 130.8h0M620.6 156.8h0M643.7 111.1h0M603.5 144.6h0M640.1 106.7h0M606.9 111.2h0M651.3 110.5h0M605.2 141.8h0M650.4 118.1h0M610.9 115.5h0M612.3 131.3h0M566.5 108.3h0M644.2 123.8h0M660.7 120.5h0M602.4 110.4h0M639.4 132.9h0M612.4 85.6h0M569.9 116.5h0M572.5 141.5h0M594.0 137.3h0M649.2 125.5h0M572.0 83.2h0M655.8 99.5h0M602.7 133.0h0M640.4 126.3h0M600.3 122.9h0M638.7 139.5h0M570.5 108.4h0M600.9 139.6h0M651.8 122.8h0M626.8 89.3h0M660.3 100.2h0M623.7 100.6h0M620.4 133.5h0M641.1 135.7h0M640.7 138.4h0M601.8 133.5h0M574.2 113.2h0M599.5 112.4h0M632.9 138.3h0M647.1 119.2h0M659.2 112.2h0M605.5 118.1h0M637.1 65.4h0M615.3 96.5h0M616.5 92.0h0M625.5 138.8h0M587.9 108.6h0M592.2 106.2h0M591.1 118.8h0M635.4 101.2h0M653.4 107.4h0M604.8 106.9h0M639.7 127.8h0M641.6 130.9h0M572.1 124.3h0M653.6 99.4h0M575.8 131.1h0M621.6 107.0h0M643.5 99.4h0M615.9 95.0h0M564.8 119.4h0M578.3 111.2h0M633.2 120.1h0M640.1 143.4h0M658.5 116.5h0M654.9 103.3h0M634.9 140.9h0M572.4 123.0h0M654.2 99.3h0M618.8 137.0h0M639.0 115.1h0M653.5 129.3h0M634.7 132.9h0M603.8 123.7h0M617.4 150.7h0M634.0 155.1h0M599.9 108.8h0M634.2 114.3h0M600.1 129.1h0M606.6 125.7h0M582.2 113.7h0M649.6 100.1h0M651.6 103.4h0M569.6 145.2h0M541.1 143.1h0M636.6 127.1h0M599.0 135.3h0M648.5 115.9h0M562.1 120.3h0M617.0 154.7h0M617.2 138.2h0M640.0 138.8h0M637.7 127.1h0M590.4 130.4h0M620.9 110.1h0M637.4 128.2h0M633.7 147.9h0M655.0 87.6h0M576.8 118.5h0M608.9 109.1h0M651.5 128.7h0M591.0 134.7h0M650.2 107.3h0M652.0 112.3h0M574.4 128.9h0M580.3 125.3h0M574.4 109.0h0M628.3 150.8h0M641.3 87.9h0M578.5 113.6h0M572.4 144.2h0M659.6 122.3h0M608.4 149.4h0M612.6 127.7h0M594.2 136.3h0M627.9 148.7h0M582.0 120.5h0M604.9 129.8h0M598.8 140.1h0M624.3 112.6h0M571.4 104.7h0M637.3 112.4h0M633.5 115.1h0M639.8 75.3h0M630.8 157.0h0M623.9 134.5h0M620.8 106.1h0M602.4 108.6h0M606.6 117.8h0M573.6 133.1h0M620.5 142.3h0M628.6 136.5h0M560.9 126.5h0M653.8 119.4h0M575.2 120.7h0M645.2 116.1h0M628.1 126.6h0M650.8 136.9h0M640.5 104.8h0M579.6 104.4h0M595.8 128.1h0M643.8 97.3h0M628.9 118.0h0M643.2 80.5h0M637.3 121.2h0M618.6 106.3h0M585.2 106.5h0M632.6 132.2h0M651.4 115.8h0M618.1 145.5h0M652.5 125.8h0M561.9 127.0h0M658.0 99.8h0M652.8 128.4h0M633.1 150.6h0M650.8 109.0h0M657.8 121.9h0M628.9 147.7h0M658.3 114.1h0M616.6 136.7h0M652.6 119.6h0M628.5 121.0h0M565.8 130.2h0M616.9 118.0h0M584.7 118.9h0M593.5 110.4h0M589.3 129.0h0M646.5 139.5h0M647.5 114.1h0M611.5 142.7h0M626.1 90.0h0M585.7 124.1h0M639.2 67.3h0M660.2 119.1h0M605.9 118.2h0M639.7 109.4h0M607.5 108.1h0M574.8 127.6h0M600.5 122.1h0M658.7 123.9h0M591.6 131.8h0M620.6 152.2h0M616.0 139.2h0M562.3 133.9h0M570.7 103.4h0M650.6 105.8h0M628.9 126.1h0M644.7 108.3h0M653.0 109.4h0M589.6 114.1h0M631.2 141.5h0M561.9 145.7h0M566.0 134.4h0M659.0 123.6h0M634.4 57.1h0M614.9 122.5h0M656.4 124.8h0M636.5 132.5h0M628.3 133.0h0M634.0 145.0h0M637.0 127.1h0M656.0 102.4h0M598.2 128.8h0M613.6 124.4h0M574.6 114.5h0M585.6 116.9h0M567.7 129.4h0M606.5 121.3h0M604.2 136.6h0M653.8 113.3h0" stroke="#D55E00" stroke-width="3.5" stroke-linecap="round" fill="none"/>
<path d="M522.0 90.7h0M521.7 103.0h0M584.2 154.7h0M545.5 94.4h0M541.2 87.4h0M552.4 108.4h0M541.8 101.2h0M593.3 69.6h0M548.6 96.4h0M523.5 95.8h0M550.8 103.8h0M573.0 63.5h0M618.3 68.9h0M593.6 93.5h0M544.9 98.1h0M629.5 49.6h0M637.8 70.2h0M612.7 75.9h0M613.2 65.9h0M599.6 59.8h0M594.5 81.3h0M534.1 94.2h0M602.8 92.0h0M617.7 53.6h0M593.2 60.3h0M542.7 109.8h0M577.2 112.3h0M571.1 83.9h0M563.8 95.2h0M585.5 157.1h0M522.0 99.9h0M609.1 55.6h0M585.8 157.8h0M563.9 96.1h0M545.3 108.1h0M559.9 136.6h0M610.8 72.0h0M575.5 119.4h0M587.5 72.0h0M578.3 76.0h0M565.2 103.4h0M523.3 86.9h0M547.2 109.2h0M546.7 105.5h0M521.1 110.9h0M534.1 139.5h0M550.2 144.3h0M523.6 102.0h0M552.1 103.8h0M555.7 154.8h0M612.7 69.3h0M553.2 140.2h0M607.3 83.3h0M645.9 97.4h0M610.0 53.6h0M557.7 118.3h0M587.7 93.7h0M586.0 60.8h0M522.8 103.7h0M551.8 133.5h0M523.9 98.9h0M550.6 104.6h0M602.3 58.4h0M545.7 145.9h0M575.6 66.4h0M543.3 95.6h0M531.7 97.5h0M584.2 83.0h0M588.6 60.9h0M542.8 142.2h0M599.7 82.2h0M529.8 126.0h0M547.7 114.1h0M546.9 103.4h0" stroke="#0072B2" stroke-width="3.5" stroke-linecap="round" fill="none"/>
<path d="M555.7 124.0h0M555.3 124.1h0M548.6 135.9h0M559.8 120.1h0M549.0 131.2h0M554.4 123.1h0M549.6 104.6h0M535.3 116.9h0M543.8 130.2h0M562.3 110.6h0M569.8 138.2h0M570.0 124.3h0M543.8 98.9h0M573.6 128.2h0M548.9 141.9h0M543.8 119.6h0M580.8 132.6h0M551.7 138.0h0M577.8 132.8h0M550.5 136.4h0M554.5 131.8h0M539.4 135.1h0M556.9 132.9h0M567.6 142.3h0M567.1 119.6h0M569.7 132.5h0M532.5 143.7h0M533.4 115.0h0M571.4 136.7h0M574.2 125.5h0M569.4 132.6h0M559.9 118.7h0M547.5 103.2h0M584.2 132.2h0M570.5 123.8h0M579.8 123.5h0M555.7 139.1h0M569.3 130.2h0M574.1 128.6h0M550.2 136.6h0M550.4 134.8h0M569.8 119.2h0M536.9 141.3h0M549.8 136.1h0M558.7 135.2h0M553.1 143.8h0M527.0 121.3h0M555.8 99.1h0M538.9 95.4h0M557.3 117.9h0M561.5 121.5h0M541.2 99.9h0M574.3 126.7h0M546.3 119.3h0M538.5 104.9h0M542.2 142.1h0M555.3 148.8h0M571.7 120.2h0" stroke="#d3d3d3" stroke-width="3.5" stroke-linecap="round" fill="none"/>
<path d="M591.3 66.5h0M540.7 92.5h0M532.1 97.2h0M560.2 93.9h0M552.1 127.4h0M553.2 118.6h0M552.7 123.3h0M540.4 95.2h0M601.8 70.8h0M539.2 90.7h0M554.8 108.3h0M564.8 68.7h0M563.3 155.8h0" stroke="#E69F00" stroke-width="3.5" stroke-linecap="round" fill="none"/>
<path d="M556.0 123.6h0M579.3 117.4h0M594.8 157.7h0M553.8 158.5h0M657.1 118.8h0M557.1 109.4h0M556.3 150.3h0M651.7 134.5h0M579.0 116.4h0M553.5 124.3h0M658.5 128.1h0M555.2 154.5h0M594.7 162.9h0M597.1 125.5h0M583.9 158.2h0M545.6 150.5h0M549.9 102.4h0M579.0 131.8h0M587.6 145.7h0M555.2 150.4h0M582.9 143.0h0M592.3 163.0h0M541.9 131.4h0M573.3 160.4h0M592.2 154.0h0M574.8 119.6h0M576.8 124.1h0M595.0 164.4h0M638.9 120.1h0M626.6 48.3h0M574.7 111.7h0M555.3 127.7h0M585.3 130.8h0M551.3 156.1h0M579.3 166.8h0M561.1 155.6h0M580.2 157.0h0M579.7 138.6h0M589.9 167.6h0M589.8 165.9h0M558.9 146.5h0M591.0 164.6h0M557.8 135.5h0M594.4 154.7h0M611.5 120.8h0M604.8 86.4h0M559.4 156.7h0M577.0 150.4h0M536.4 123.6h0M576.4 143.7h0M564.6 112.9h0M562.1 153.4h0M521.5 84.1h0M632.7 47.8h0M587.2 134.3h0M569.3 155.3h0M541.2 115.3h0M625.3 137.2h0M585.5 159.2h0M570.1 146.1h0M588.4 136.3h0M531.5 102.6h0M543.1 109.5h0M561.8 150.2h0M566.3 155.6h0M564.7 160.8h0M559.1 157.3h0M656.7 114.5h0M580.6 151.7h0M580.9 166.8h0M562.6 124.5h0M570.6 150.1h0M576.3 152.0h0M564.1 114.1h0M570.0 155.6h0M582.2 151.0h0M564.5 149.1h0M591.0 138.5h0M595.0 152.9h0M597.4 161.1h0M581.2 120.7h0M551.7 111.2h0M566.4 154.2h0M525.7 108.5h0M551.2 144.5h0M596.6 152.3h0M546.7 117.3h0M566.0 161.2h0M530.4 113.2h0M595.0 138.9h0M553.6 157.8h0M659.6 116.5h0M559.6 150.3h0M592.1 135.0h0M559.4 159.9h0M551.9 152.7h0M592.4 159.3h0M565.0 161.1h0M585.9 124.4h0M588.5 162.1h0M538.4 139.9h0M580.5 159.4h0M572.7 161.9h0M531.2 86.2h0M551.7 148.7h0M576.9 166.3h0M552.1 146.2h0M570.7 149.8h0M549.2 138.6h0M562.3 153.3h0M557.9 155.5h0M592.3 161.0h0M588.8 152.0h0M567.9 159.4h0M644.8 122.8h0M577.1 159.0h0M540.3 144.8h0M545.5 153.5h0M625.3 150.9h0M638.9 117.7h0M535.9 101.4h0M585.2 155.1h0" stroke="#56B4E9" stroke-width="3.5" stroke-linecap="round" fill="none"/>
<path d="M621.3 118.6h0M644.2 98.2h0M650.4 105.0h0M570.3 117.5h0M632.6 132.9h0M637.9 54.1h0M617.8 144.2h0M643.3 69.6h0M639.5 64.1h0M642.6 109.2h0M584.8 118.3h0M578.6 104.6h0M646.0 102.9h0M635.2 126.1h0M635.6 150.9h0M643.5 111.1h0M588.3 133.4h0M602.6 109.3h0M627.8 129.0h0M569.7 139.7h0M659.0 100.8h0M658.6 125.0h0M636.3 57.6h0M644.3 116.5h0M597.3 106.5h0M659.1 106.2h0M638.6 65.8h0M622.1 131.5h0M647.4 105.1h0M654.7 117.3h0M639.6 73.4h0M636.8 134.6h0M603.0 139.1h0M580.8 114.8h0M623.1 140.8h0M600.7 126.5h0M613.4 140.0h0M600.6 130.1h0M578.7 107.1h0M581.5 108.7h0M601.1 134.2h0M620.4 154.2h0M608.1 109.3h0M573.7 101.8h0M658.7 117.1h0M602.2 129.3h0M618.4 141.0h0M650.4 126.4h0M634.0 49.6h0M585.8 114.0h0M563.7 131.4h0M573.9 100.9h0M572.1 126.0h0M633.1 105.2h0M620.3 129.7h0M653.9 107.6h0M633.8 155.6h0M582.2 110.0h0M616.8 147.0h0M657.1 107.3h0M657.7 119.6h0M644.4 138.5h0M644.9 117.3h0M635.0 106.5h0M637.5 101.8h0M626.3 144.7h0M639.7 150.4h0M648.9 105.0h0M649.7 109.1h0M637.6 111.9h0M604.1 119.5h0M601.7 134.8h0M656.7 130.7h0M637.1 117.4h0M630.4 146.8h0M629.4 158.3h0M585.9 126.6h0M645.6 105.1h0M626.7 156.1h0M553.9 118.0h0M637.6 112.8h0M630.6 128.0h0M553.6 136.7h0M656.7 123.8h0M579.6 127.8h0M650.9 110.2h0M602.4 122.1h0M595.3 134.4h0M652.7 118.4h0M622.3 120.4h0M619.7 142.3h0M635.8 143.5h0M588.9 123.3h0M610.2 112.3h0M646.3 111.8h0M654.2 127.7h0M647.5 96.9h0M611.9 146.6h0M637.5 57.0h0M637.7 129.1h0M648.1 108.6h0M648.1 112.6h0M652.3 131.1h0M577.2 124.8h0M579.0 107.0h0M651.9 127.8h0M598.3 125.7h0M578.9 111.3h0M645.3 106.3h0M633.1 120.7h0M636.2 116.0h0M611.0 128.2h0M640.3 129.1h0M601.9 135.1h0M609.6 145.8h0M634.1 49.1h0M629.6 126.9h0M632.8 155.5h0M621.3 151.7h0M584.3 127.0h0M631.1 98.6h0M570.4 116.8h0M611.8 128.7h0M620.6 100.7h0M630.4 107.4h0M594.7 112.5h0M637.8 131.6h0M606.2 121.0h0M624.7 126.0h0M636.6 57.7h0M618.0 109.5h0M638.1 135.8h0M590.2 114.5h0M648.9 119.2h0M632.2 110.4h0M654.1 106.8h0M612.8 154.0h0M655.6 131.6h0M611.6 118.8h0M648.3 130.2h0M604.5 122.3h0M596.8 124.7h0M579.4 78.8h0M647.3 100.5h0M636.7 143.9h0M625.8 109.7h0M583.6 131.1h0M599.7 110.7h0M604.4 147.6h0M584.8 123.2h0M574.6 108.4h0M635.8 60.1h0M605.4 142.4h0M629.2 143.5h0M602.8 123.8h0M570.2 125.2h0M595.4 136.7h0M622.4 136.2h0M590.4 134.6h0M592.8 120.2h0M644.8 128.4h0M611.6 143.2h0M632.6 49.9h0M536.5 116.8h0M646.0 129.6h0M613.5 137.0h0M638.9 104.7h0M656.0 108.9h0M649.0 94.7h0M615.7 143.8h0M588.0 125.9h0M653.7 104.8h0M646.1 113.9h0M585.4 129.2h0M659.8 98.0h0M651.9 96.2h0M642.4 79.1h0M596.6 131.9h0M654.4 116.4h0M631.8 157.7h0M641.7 108.0h0M567.1 146.4h0M547.8 117.7h0M628.7 96.2h0M597.0 58.8h0M650.8 110.5h0M643.8 133.8h0M627.4 124.2h0M601.0 118.7h0M607.4 136.5h0M642.0 127.7h0M655.9 119.1h0M582.9 127.6h0M587.8 131.2h0M646.9 110.7h0M642.0 125.7h0M587.0 106.3h0M573.7 101.4h0M619.0 154.3h0M609.4 117.1h0M564.1 113.8h0M625.3 117.3h0M593.6 79.5h0M629.8 117.2h0M639.8 72.8h0M609.4 138.3h0M634.0 113.2h0M651.5 117.7h0M575.3 107.2h0M628.1 111.3h0M581.4 109.1h0M577.3 119.9h0M659.8 99.7h0M591.9 108.9h0M556.6 93.8h0M638.0 107.5h0M606.8 117.6h0M622.5 108.1h0M578.0 114.1h0M586.9 122.1h0M639.1 66.4h0M631.5 137.3h0M601.3 118.8h0M565.3 117.6h0M622.9 92.4h0M649.5 112.4h0M610.4 113.5h0M618.5 51.8h0M645.2 91.5h0M654.4 113.4h0M645.6 122.7h0M596.8 135.7h0M575.6 102.6h0M638.3 144.8h0M651.1 105.7h0M630.6 85.9h0M575.1 129.3h0M644.6 141.4h0M622.9 112.1h0M634.1 126.5h0M601.9 118.4h0M658.1 109.7h0M595.4 133.6h0M643.8 146.8h0M591.1 136.0h0M640.3 76.8h0M631.9 145.0h0M584.6 126.7h0M595.6 58.6h0M586.5 134.1h0M658.6 126.3h0M626.4 148.0h0M625.0 115.9h0M620.3 136.6h0M584.7 111.1h0M561.2 138.9h0M574.5 102.0h0M649.1 102.8h0M578.0 117.9h0M642.4 76.8h0M621.6 107.7h0M651.4 136.2h0M637.4 53.4h0M642.4 123.7h0M573.4 104.4h0M610.9 110.1h0M618.4 108.2h0M590.2 112.2h0M583.0 132.6h0M588.1 135.2h0M599.0 117.1h0M635.5 64.2h0M638.7 133.8h0M643.2 99.0h0M634.5 136.6h0M618.4 126.0h0M639.7 72.0h0M641.2 87.1h0M572.5 106.6h0M579.5 108.8h0M601.9 112.4h0M608.9 130.9h0M604.4 109.4h0M633.5 50.6h0M634.2 151.4h0M583.2 114.9h0M648.8 131.1h0M634.9 109.8h0M652.6 96.0h0M642.6 77.5h0M623.3 130.4h0M638.3 124.7h0M645.4 128.4h0M628.2 94.8h0M606.5 118.4h0M624.8 50.0h0M607.9 131.9h0" stroke="#D55E00" stroke-width="3.5" stroke-linecap="round" fill="none"/>
<path d="M581.5 148.9h0M637.4 125.2h0M549.6 97.6h0M530.3 105.3h0M565.7 125.3h0M525.8 85.0h0M569.2 108.4h0M589.3 107.3h0M556.0 116.6h0M525.3 108.9h0M591.6 133.9h0M561.8 109.1h0M538.0 107.2h0M568.4 124.3h0M546.1 94.2h0M608.8 136.7h0M552.4 100.3h0M538.3 126.1h0M521.6 98.9h0M524.5 115.4h0M534.8 90.7h0M588.4 121.3h0M639.1 135.8h0M529.0 123.1h0M530.3 105.4h0M527.8 98.4h0M538.1 94.4h0M533.3 109.2h0M558.8 96.0h0M649.6 122.4h0M533.0 106.7h0M541.7 93.4h0M546.0 105.4h0M528.0 96.1h0M542.2 98.3h0M522.4 89.3h0M556.7 129.5h0M526.4 119.8h0M525.6 129.6h0M533.0 123.6h0" stroke="#009E73" stroke-width="3.5" stroke-linecap="round" fill="none"/>
<path d="M528.8 126.5h0M531.5 124.5h0" stroke="#d3d3d3" stroke-width="3.5" stroke-linecap="round" fill="none"/>
<path d="M575.9 146.4h0M569.3 106.8h0M552.7 150.5h0M544.5 141.4h0M537.4 134.4h0M547.8 124.1h0M556.5 115.3h0M586.0 144.3h0M563.1 129.9h0M569.4 105.6h0M615.5 107.4h0M549.9 142.9h0M582.9 164.7h0M592.1 136.6h0M596.8 164.2h0M549.5 95.3h0M589.9 147.5h0M597.5 159.7h0M589.6 128.5h0M557.7 129.5h0M534.1 138.7h0M544.0 120.2h0M583.0 144.0h0M570.2 137.9h0M549.1 140.7h0M544.8 131.1h0M556.5 137.6h0M576.1 115.8h0M541.4 138.2h0M573.9 135.1h0M582.9 113.7h0M579.8 121.0h0M584.8 165.7h0M553.7 138.8h0M531.7 113.6h0M586.5 146.8h0M571.1 119.3h0M588.4 135.5h0M580.9 160.2h0M573.9 120.3h0M576.5 127.0h0M559.1 125.6h0M542.9 144.3h0M551.0 137.2h0M562.7 146.6h0M571.1 158.5h0M591.4 128.7h0M584.4 118.0h0M569.0 120.7h0M589.2 166.4h0M639.0 125.0h0M586.2 160.5h0M572.6 130.3h0M582.5 150.1h0M588.8 159.5h0M589.6 149.5h0M547.6 139.7h0M581.8 117.2h0M552.4 152.1h0M570.8 121.6h0M540.4 108.7h0M596.2 151.3h0M582.9 129.1h0M565.2 153.8h0M556.6 124.9h0M591.6 132.4h0M565.9 106.0h0M588.9 150.8h0M569.7 159.7h0M576.6 108.7h0M584.1 114.1h0M540.1 135.8h0M575.9 120.0h0M564.5 103.9h0M538.4 145.5h0M542.6 148.9h0M545.5 144.2h0M563.4 118.5h0M560.6 129.0h0M571.6 159.9h0M568.7 161.7h0M547.9 134.7h0M566.6 149.9h0M555.1 132.3h0M588.6 168.8h0M536.4 131.2h0M571.1 160.4h0M579.0 132.9h0M567.6 105.4h0M607.0 125.7h0M583.1 144.9h0M582.2 131.5h0M539.6 125.2h0M550.6 124.5h0M534.1 114.7h0M539.5 111.8h0M639.0 114.5h0M565.4 137.6h0M569.2 160.9h0M574.3 112.8h0M569.0 135.0h0" stroke="#CC79A7" stroke-width="3.5" stroke-linecap="round" fill="none"/>
<path d="M548.7 95.1h0M602.7 94.7h0M613.6 93.7h0M582.5 62.3h0M584.4 150.0h0M526.3 89.6h0M547.1 101.7h0M573.5 71.9h0M631.3 48.7h0M570.5 63.9h0M604.3 68.0h0M618.5 52.1h0M600.6 57.0h0M613.8 51.4h0M611.5 53.0h0M557.1 129.6h0M590.3 66.5h0M528.2 107.8h0M528.8 94.9h0M532.1 102.6h0M526.2 104.8h0M535.4 89.4h0M559.4 95.0h0M521.2 109.5h0M544.3 105.2h0M570.6 142.6h0M588.2 60.9h0M541.5 136.0h0M573.4 151.8h0M595.4 58.1h0M612.7 52.3h0M590.5 169.2h0M545.3 93.3h0M599.8 55.3h0M609.2 53.5h0M545.2 119.3h0M627.1 49.2h0M552.6 110.3h0M587.0 75.1h0M613.5 52.6h0M542.7 101.6h0M534.3 112.0h0M604.5 56.1h0M632.2 47.9h0M530.8 90.6h0M606.0 54.0h0M586.5 128.7h0M554.7 130.9h0M566.2 143.4h0M618.8 53.6h0M525.7 131.1h0M571.8 134.7h0M537.3 111.2h0M602.2 56.4h0M608.1 54.2h0M546.4 146.9h0M560.6 133.6h0M599.7 58.8h0M530.8 96.5h0M533.3 103.7h0M590.6 154.6h0M537.4 87.2h0M529.0 86.1h0M543.3 118.1h0M542.7 109.9h0M588.7 77.9h0" stroke="#0072B2" stroke-width="3.5" stroke-linecap="round" fill="none"/>
<path d="M532.1 136.1h0M533.7 144.2h0M528.1 117.0h0M528.8 126.3h0M529.5 138.7h0M534.9 129.4h0M533.9 138.3h0M531.2 134.4h0M528.9 143.2h0M532.6 130.0h0M535.3 135.0h0M551.7 105.3h0M536.0 132.9h0M530.9 135.3h0M534.5 130.0h0M524.5 125.8h0M528.1 127.6h0M526.6 86.2h0M530.0 136.2h0M533.5 135.8h0M525.3 130.7h0M529.2 129.0h0M533.6 131.6h0M527.7 125.6h0M531.9 127.0h0M522.4 95.2h0M562.7 95.6h0M557.5 137.0h0M535.5 130.4h0M522.1 124.1h0M526.0 116.5h0M548.2 104.2h0" stroke="#F0E442" stroke-width="3.5" stroke-linecap="round" fill="none"/>
<path d="M542.6 108.4h0M548.2 135.0h0M556.8 136.3h0M571.6 116.2h0M562.2 123.2h0M568.5 124.2h0M578.6 134.7h0M578.3 124.9h0M536.8 127.7h0M557.4 137.3h0M560.2 114.6h0M553.8 110.1h0M577.9 127.7h0M544.7 130.4h0M558.9 139.7h0M547.0 136.7h0M571.5 121.8h0M555.0 131.4h0M547.5 124.4h0M557.7 134.6h0M560.6 112.7h0M544.1 109.4h0M547.6 125.8h0M576.9 136.9h0M562.3 115.6h0M543.0 120.7h0M576.8 128.2h0M561.7 134.2h0M552.7 127.8h0M557.9 127.8h0M547.4 133.7h0M565.1 121.3h0M554.7 106.2h0M542.0 119.4h0M539.9 127.3h0M532.5 115.8h0M534.7 120.6h0M557.0 135.8h0M552.2 136.3h0M531.8 142.1h0M553.3 115.3h0M568.9 122.4h0M523.6 121.4h0M551.2 124.5h0M581.8 137.9h0M554.4 132.4h0M533.5 132.9h0M565.3 146.8h0M551.5 107.3h0M558.0 116.4h0M570.6 143.1h0M588.8 130.9h0M525.5 97.4h0M576.4 115.1h0M537.3 102.8h0M573.8 127.7h0M539.1 96.6h0M579.4 139.2h0" stroke="#d3d3d3" stroke-width="3.5" stroke-linecap="round" fill="none"/>
<path d="M608.6 110.5h0M610.3 106.6h0M651.5 119.0h0M580.9 108.5h0M600.0 113.9h0M586.5 133.0h0M635.9 126.4h0M636.4 149.3h0M658.2 126.3h0M618.0 107.2h0M566.4 129.3h0M610.5 143.3h0M617.0 131.8h0M610.4 91.5h0M587.1 111.1h0M649.0 129.3h0M647.1 124.3h0M650.2 126.7h0M608.7 136.4h0M628.1 158.3h0M599.2 107.2h0M570.9 110.9h0M635.7 107.5h0M600.7 117.5h0M601.6 121.0h0M603.3 142.0h0M657.2 100.6h0M632.5 104.5h0M608.2 129.0h0M613.6 143.9h0M652.5 95.6h0M564.9 103.9h0M651.4 130.7h0M635.4 145.6h0M624.0 124.2h0M604.2 133.6h0M652.0 131.9h0M654.7 125.4h0M583.4 119.3h0M573.3 121.5h0M648.3 109.7h0M639.1 107.5h0M605.3 72.1h0M570.1 107.5h0M636.9 139.7h0M659.1 109.8h0M654.6 126.8h0M631.3 143.5h0M599.2 134.7h0M636.6 118.1h0M632.6 136.6h0M656.8 121.4h0M608.0 151.4h0M625.9 89.7h0M606.9 110.0h0M595.2 113.7h0M585.6 145.6h0M627.2 130.3h0M652.5 117.5h0M603.2 128.7h0M638.5 71.9h0M571.3 125.6h0M653.2 129.0h0M624.7 158.7h0M634.6 124.0h0M628.0 137.9h0M569.7 111.6h0M635.5 113.5h0M623.5 148.6h0M573.2 105.0h0M569.2 114.1h0M576.6 74.0h0M641.6 102.8h0M591.0 115.1h0M638.6 139.4h0M569.7 133.2h0M632.4 115.5h0M637.2 59.5h0M583.6 117.9h0M584.0 116.1h0M576.8 137.4h0M589.8 114.2h0M620.9 116.7h0M639.3 116.7h0M588.3 132.5h0M638.3 116.7h0M660.5 98.0h0M651.4 101.3h0M588.7 111.1h0M610.0 134.7h0M610.1 125.5h0M648.4 121.8h0M645.4 142.8h0M572.4 122.1h0M645.0 96.3h0M645.2 107.4h0M612.4 87.5h0M586.8 122.5h0M608.7 130.4h0M616.3 139.1h0M593.6 126.4h0M654.5 97.1h0M655.7 129.8h0M659.5 120.1h0M616.5 130.6h0M604.4 131.2h0M571.8 114.9h0M589.2 108.4h0M643.2 145.1h0M643.4 139.9h0M619.7 155.7h0M610.9 115.0h0M628.8 147.9h0M577.3 105.0h0M565.1 102.9h0M651.2 103.8h0M617.1 137.6h0M618.4 137.4h0M615.3 136.9h0M625.0 141.7h0M589.8 128.7h0M587.0 129.4h0M567.9 105.7h0M620.3 88.2h0M625.0 102.9h0M629.3 108.6h0M655.7 109.8h0M623.9 153.6h0M615.9 150.6h0M587.1 119.8h0M568.7 125.6h0M557.9 146.3h0M613.9 149.0h0M620.7 146.7h0M655.5 105.7h0M610.0 121.5h0M622.5 86.2h0M607.2 143.8h0M622.1 139.7h0M634.8 144.6h0M537.5 119.6h0M602.0 88.2h0M604.6 143.5h0M660.6 122.4h0M573.8 116.6h0M633.0 87.0h0M651.8 108.3h0M648.7 104.7h0M615.8 131.1h0M639.3 109.3h0M607.4 148.7h0M575.6 117.8h0M638.3 116.7h0M574.3 128.8h0M618.9 147.1h0M619.3 75.0h0M579.5 121.5h0M614.6 116.2h0M616.7 130.5h0M635.9 153.0h0M626.4 149.5h0M619.4 127.4h0M592.4 121.4h0M603.8 120.3h0M654.6 105.9h0M658.2 115.1h0M613.8 118.0h0M652.6 103.8h0M619.8 151.1h0M601.3 121.2h0M610.5 149.6h0M617.0 151.7h0M620.0 117.7h0M625.1 147.9h0M610.8 115.9h0M658.9 107.1h0M611.6 134.9h0M616.6 110.0h0M575.5 120.1h0M624.9 145.9h0M596.8 127.5h0M617.0 148.3h0M605.6 122.2h0M639.5 72.3h0M656.6 120.9h0M606.8 119.3h0M649.8 124.0h0M625.0 114.7h0M626.0 151.3h0M631.0 138.3h0M609.3 136.7h0M639.2 133.3h0M597.0 127.4h0M638.6 140.4h0M645.5 117.4h0M586.7 120.2h0M610.7 152.7h0M544.6 144.2h0M660.5 112.9h0M601.5 87.9h0M579.0 107.0h0M602.9 121.0h0M617.9 125.1h0M573.5 134.5h0M638.3 57.9h0M600.1 120.2h0M636.8 116.9h0M587.4 110.5h0M626.1 107.8h0M636.5 90.0h0M598.0 125.6h0M639.5 137.6h0M652.8 124.7h0M625.1 109.0h0M575.2 119.4h0M628.2 112.8h0M647.1 131.3h0M598.5 110.8h0M632.1 109.0h0M580.0 120.0h0M615.1 107.0h0M660.4 99.7h0M630.0 129.4h0M571.9 102.7h0M571.2 121.3h0M577.1 78.3h0M594.3 136.8h0M596.0 130.8h0M653.2 97.6h0M579.4 121.5h0M547.1 130.1h0M576.6 115.7h0M638.3 105.2h0M635.8 150.0h0M618.9 125.1h0M582.0 133.4h0M643.9 111.7h0M559.1 123.0h0M643.0 140.6h0M636.6 133.0h0M657.0 123.6h0M602.0 125.8h0M629.4 157.5h0M629.9 134.1h0M600.2 65.4h0M642.5 146.0h0M655.4 95.8h0M571.7 103.8h0M633.2 120.4h0M580.2 103.6h0M603.7 140.1h0M635.3 134.2h0M637.1 131.6h0M593.7 137.9h0M606.3 117.2h0M639.8 115.5h0M617.8 109.8h0M620.1 141.8h0M596.9 113.8h0M592.6 125.2h0M620.1 140.0h0M619.5 112.9h0" stroke="#D55E00" stroke-width="3.5" stroke-linecap="round" fill="none"/>
<path d="M533.0 127.4h0M529.4 118.7h0" stroke="#d3d3d3" stroke-width="3.5" stroke-linecap="round" fill="none"/>
<path d="M558.3 143.5h0M591.2 140.7h0M563.1 127.4h0M542.1 139.5h0M593.8 152.5h0M558.5 161.2h0M585.2 153.9h0M556.7 103.2h0M545.3 143.0h0M569.2 133.0h0M536.4 114.7h0M546.4 146.9h0M559.7 112.3h0M580.1 142.0h0M578.7 148.1h0M556.8 111.6h0M563.2 151.4h0M579.1 157.4h0M580.7 164.8h0M564.6 158.0h0M587.6 161.5h0M566.6 163.3h0M551.5 149.0h0M562.7 157.2h0M549.6 116.6h0M578.4 105.1h0M626.0 107.7h0M547.8 143.4h0M558.1 134.8h0M586.8 153.7h0M596.4 139.9h0M563.5 108.3h0M581.2 153.7h0M556.1 155.4h0M575.4 122.4h0M577.7 126.8h0M570.3 153.4h0M591.5 139.8h0M531.2 98.0h0M565.8 151.8h0M592.4 159.0h0M596.8 167.6h0M538.0 142.3h0M595.9 163.1h0M541.2 100.4h0M558.9 116.9h0M543.5 143.6h0M549.2 155.7h0M653.7 125.7h0M564.9 151.7h0M552.8 148.7h0M588.3 148.8h0M558.8 116.4h0M582.8 137.4h0M570.8 150.5h0M543.5 129.3h0M595.6 145.3h0M539.5 136.6h0M621.8 132.0h0M589.8 155.0h0M583.6 154.8h0M594.0 160.5h0M544.5 93.6h0M581.3 115.1h0M553.9 127.9h0M575.9 150.7h0M556.5 133.7h0M571.2 156.0h0M540.5 113.0h0M597.2 151.9h0M582.2 156.8h0M579.9 158.0h0M533.8 120.3h0M584.2 160.9h0M553.9 96.7h0M650.4 116.9h0M597.3 159.6h0M563.9 150.1h0M592.7 151.4h0M574.2 133.0h0M654.4 126.3h0M585.3 145.1h0M545.4 104.1h0M595.8 168.2h0M575.8 152.5h0M582.7 157.0h0M594.2 167.4h0M578.8 146.9h0M576.9 127.3h0M587.2 151.5h0M570.1 70.6h0M558.7 151.2h0M586.6 152.2h0M582.2 162.2h0M537.7 93.8h0M587.6 149.4h0M577.6 130.5h0M580.8 110.3h0M549.7 146.0h0M566.7 151.4h0M586.1 161.9h0M590.6 160.3h0M626.8 128.5h0M594.7 159.1h0M592.4 162.2h0M590.2 160.2h0M566.0 108.0h0M580.1 153.2h0M596.5 140.0h0M543.7 132.9h0M582.2 158.3h0M582.5 156.3h0M589.1 154.5h0M523.9 119.1h0M593.6 164.6h0M561.2 125.7h0M572.2 164.7h0M550.7 114.1h0M550.5 115.9h0M582.9 165.6h0M578.5 147.4h0M574.0 162.2h0M545.7 93.7h0" stroke="#56B4E9" stroke-width="3.5" stroke-linecap="round" fill="none"/>
<path d="M569.3 116.0h0M548.0 111.4h0M552.9 146.9h0M539.6 126.4h0M561.9 156.8h0M522.0 88.6h0M525.8 95.6h0M528.8 97.3h0M545.5 102.5h0M523.9 88.6h0M554.0 93.8h0M531.8 87.0h0M534.9 111.0h0M550.6 133.7h0M550.0 113.5h0M545.5 124.8h0M529.5 98.2h0M567.0 126.2h0M544.8 132.3h0M588.9 135.7h0M548.7 103.3h0M536.4 92.6h0M576.3 127.7h0M615.8 115.8h0M526.6 108.8h0M550.0 93.4h0M593.1 58.7h0M527.4 90.2h0M582.6 135.3h0M535.6 142.2h0M532.7 107.9h0M579.8 131.1h0" stroke="#009E73" stroke-width="3.5" stroke-linecap="round" fill="none"/>
<path d="M587.5 134.2h0M566.7 103.4h0M555.7 138.1h0M575.2 108.6h0M576.5 120.9h0M588.9 143.5h0M522.8 127.3h0M586.9 131.0h0M551.7 121.0h0M547.9 153.1h0M557.5 130.7h0M561.0 155.9h0M579.7 155.8h0M593.8 155.1h0M535.6 120.0h0M542.0 149.5h0M593.0 135.4h0M592.0 135.2h0M589.9 143.9h0M589.2 141.0h0M577.9 130.1h0M586.6 157.6h0M633.3 126.9h0M579.5 116.4h0M554.1 146.9h0M539.7 140.0h0M535.9 131.0h0M583.6 128.6h0M590.1 145.8h0M534.4 92.9h0M566.6 111.1h0M534.7 120.7h0M575.6 128.7h0M534.7 123.3h0M575.6 156.8h0M550.6 132.0h0M561.8 117.3h0M586.3 135.3h0M579.5 119.7h0M555.2 130.5h0M584.7 152.5h0M554.2 144.1h0M574.6 161.0h0M544.7 121.1h0M559.6 119.5h0M545.7 152.8h0M569.9 142.8h0M568.5 115.6h0M595.7 163.0h0M571.9 103.1h0M615.9 118.8h0M592.5 147.9h0M636.0 111.3h0M575.0 115.0h0M587.3 155.2h0M564.7 130.0h0M587.9 123.8h0M594.5 152.9h0M580.0 113.2h0M612.1 152.8h0M572.9 137.6h0M567.9 153.2h0M543.0 147.9h0M575.4 147.2h0M549.8 114.4h0M596.7 146.2h0M566.1 114.4h0M552.6 141.2h0M559.5 145.1h0M587.8 165.7h0M563.4 116.4h0M580.4 123.9h0M548.0 131.8h0M561.2 129.0h0M541.1 119.0h0M574.5 158.3h0M571.4 156.5h0M556.2 111.4h0M534.5 134.8h0M575.2 111.1h0M575.1 134.3h0M555.0 129.9h0M542.2 117.4h0M594.1 152.7h0M564.5 158.0h0M576.2 110.8h0M557.1 104.8h0M586.5 132.0h0M580.4 146.5h0M538.8 94.1h0M539.6 135.1h0M547.1 116.0h0M576.0 157.4h0M561.3 143.2h0M582.5 111.9h0M528.6 106.4h0M585.8 141.1h0M580.6 129.9h0M573.8 159.9h0M558.6 113.6h0M570.2 118.9h0M557.6 136.9h0M569.2 123.7h0M550.5 128.4h0M592.1 167.7h0M582.3 110.8h0M630.5 114.1h0M576.1 100.8h0M576.5 142.0h0M575.6 134.9h0M537.1 115.1h0M585.0 149.8h0M594.1 159.2h0M587.2 165.3h0M559.6 106.5h0M552.6 128.0h0M579.0 125.4h0M535.7 135.9h0M534.7 122.7h0M574.6 137.2h0M603.3 121.8h0M536.4 130.5h0M586.7 123.8h0" stroke="#CC79A7" stroke-width="3.5" stroke-linecap="round" fill="none"/>
<path d="M525.1 84.7h0M618.9 51.1h0M616.4 52.8h0M569.2 152.9h0M614.7 50.8h0M569.8 104.7h0M607.5 54.6h0M603.5 57.3h0M557.3 93.8h0M583.3 87.2h0M624.4 50.3h0M540.3 120.1h0M555.3 93.6h0M614.2 52.9h0M581.2 161.1h0M615.0 54.4h0M543.8 95.6h0M539.4 97.1h0M629.8 49.2h0M612.6 64.5h0M594.1 61.1h0M581.2 122.6h0M602.0 57.4h0M531.8 109.1h0M586.3 60.6h0M621.6 51.1h0M540.9 146.0h0M596.8 60.0h0M537.2 92.4h0M553.6 111.3h0M540.2 104.6h0M540.5 147.0h0M580.4 113.4h0M530.7 105.4h0M599.6 56.2h0M539.2 91.2h0M585.8 60.5h0M535.2 136.1h0M561.8 104.0h0M541.3 90.8h0M574.4 93.3h0M549.7 95.3h0M530.0 85.6h0M611.4 86.2h0M564.9 86.0h0M534.6 123.5h0M555.5 109.1h0M538.3 89.9h0M595.9 58.5h0M620.5 50.4h0M522.1 98.2h0M553.4 129.1h0M604.9 69.3h0M565.6 97.4h0M522.3 93.5h0M625.0 52.1h0M576.8 145.8h0M534.6 90.8h0M596.8 64.7h0M610.6 55.0h0M531.5 91.9h0M546.8 111.8h0M586.6 62.6h0M584.4 87.4h0M525.7 93.4h0M542.9 139.4h0M566.6 94.0h0M609.9 56.5h0M572.8 152.8h0M580.9 136.4h0M577.4 132.0h0M552.0 104.1h0M606.0 56.4h0M629.5 48.8h0M549.3 91.4h0M576.7 71.9h0M587.3 61.8h0M522.6 96.2h0M585.1 152.8h0M534.2 100.8h0M574.6 62.3h0" stroke="#0072B2" stroke-width="3.5" stroke-linecap="round" fill="none"/>
<path d="M549.1 100.3h0M557.3 102.6h0M558.5 115.6h0M552.4 155.6h0M556.7 102.9h0M560.9 159.2h0M555.2 116.3h0M571.7 152.1h0M541.5 96.4h0M532.6 95.0h0M554.0 142.5h0M555.0 138.1h0" stroke="#E69F00" stroke-width="3.5" stroke-linecap="round" fill="none"/>
<path d="M525.1 124.1h0M531.7 124.6h0M526.1 95.1h0M530.1 126.1h0M559.8 147.9h0M529.8 122.3h0M532.1 130.2h0M529.6 138.2h0M555.6 109.0h0M536.7 145.0h0M524.6 121.6h0M526.2 118.7h0M537.3 107.3h0M526.7 123.9h0M535.4 126.4h0M522.5 106.9h0M545.1 129.0h0M531.6 122.1h0M543.2 139.3h0M527.1 115.8h0M531.5 118.2h0M532.7 92.6h0M522.9 103.8h0M531.5 119.9h0M528.6 135.3h0M531.3 119.0h0M531.4 131.3h0M526.3 119.2h0M526.4 117.0h0M526.7 106.0h0M530.6 131.2h0M532.4 104.8h0M527.3 118.6h0M528.3 128.4h0M561.3 97.0h0M528.4 129.5h0M528.1 128.5h0M533.3 115.2h0" stroke="#F0E442" stroke-width="3.5" stroke-linecap="round" fill="none"/>
<path d="M575.1 136.8h0M574.0 128.8h0M551.9 133.2h0M572.2 137.0h0M577.7 136.3h0M569.1 135.4h0M555.8 135.7h0M567.8 137.7h0M569.6 134.8h0M531.0 119.1h0M567.4 114.9h0M571.1 124.9h0M574.3 129.2h0M548.2 127.0h0M572.2 127.3h0M542.5 136.0h0M575.2 132.8h0M555.7 117.0h0M537.6 133.4h0M578.5 126.5h0M569.1 129.2h0M577.8 140.8h0M563.4 139.8h0M529.4 126.0h0M567.7 146.5h0M522.1 121.9h0M554.3 114.1h0M561.3 122.0h0M552.0 139.9h0M551.8 130.0h0M530.4 122.1h0M560.6 141.4h0M556.8 129.3h0M565.9 132.4h0M548.2 129.5h0M579.8 128.6h0M559.0 123.9h0M554.4 114.1h0M555.9 137.2h0M540.4 146.4h0M546.5 120.8h0M532.8 98.0h0M578.7 135.0h0M561.3 101.6h0M555.7 108.6h0M525.0 122.8h0M550.7 136.9h0M548.7 147.0h0M546.4 141.1h0M553.5 146.7h0M568.6 130.5h0M560.6 111.6h0M561.5 114.3h0M549.6 144.3h0M554.4 106.4h0M574.3 130.8h0M548.1 137.6h0M553.4 132.4h0M541.7 146.8h0" stroke="#d3d3d3" stroke-width="3.5" stroke-linecap="round" fill="none"/>
<path d="M554.9 83.5h0M647.6 81.8h0M533.7 80.9h0M528.4 71.2h0M544.7 46.3h0M568.8 48.2h0M544.4 83.0h0M614.8 81.3h0M527.9 72.0h0M624.0 79.8h0M564.7 50.7h0M541.4 78.4h0M567.1 53.2h0M579.5 44.8h0M639.6 80.9h0M554.1 81.2h0M533.6 65.5h0M636.5 87.8h0M540.8 73.9h0M531.5 82.4h0M613.1 79.5h0M580.0 80.9h0M561.3 55.4h0M547.5 50.6h0M531.0 78.5h0M607.0 80.2h0M541.3 79.4h0M523.9 81.9h0M597.8 79.4h0M637.5 81.4h0M582.3 39.2h0M580.7 40.7h0M549.1 50.6h0M584.3 37.9h0M550.8 73.9h0M539.3 84.0h0M548.6 61.7h0M572.0 72.4h0M580.1 41.6h0M620.5 64.1h0M568.8 48.7h0M536.4 76.8h0M560.0 53.4h0M559.2 79.8h0M550.0 50.3h0M637.4 82.6h0M549.7 66.2h0M564.1 51.9h0M529.1 76.4h0M607.0 63.8h0M588.4 35.4h0M607.8 80.9h0M535.7 77.2h0M647.9 81.9h0M590.3 73.4h0M544.9 60.4h0M536.5 75.7h0M624.4 82.2h0M524.7 79.9h0M548.4 59.1h0M588.5 36.0h0M548.4 68.6h0M567.1 78.5h0M556.4 79.5h0M557.1 71.2h0M543.0 79.5h0M560.7 80.6h0M591.2 34.4h0M578.2 42.5h0M564.8 73.3h0M552.5 58.4h0M560.2 79.9h0M590.2 79.3h0M545.8 80.8h0M546.0 79.8h0M541.5 81.2h0M652.5 80.7h0M537.8 81.1h0M523.4 80.5h0M526.7 80.5h0M583.7 41.5h0M547.1 57.6h0M553.3 71.0h0M547.0 79.4h0M605.8 79.2h0M527.5 79.2h0M543.0 80.2h0M551.8 60.3h0M527.3 90.8h0M631.3 83.8h0M533.2 64.2h0M567.1 48.8h0M544.2 74.9h0M547.2 51.3h0M541.3 82.4h0M651.1 80.7h0M620.2 80.0h0M557.5 72.1h0M575.5 44.8h0M569.4 48.9h0M562.3 72.8h0M531.4 93.2h0M564.8 49.6h0M630.2 81.2h0M612.9 81.3h0M538.8 80.4h0M532.5 70.4h0M546.1 70.8h0M553.9 65.5h0M548.2 81.6h0M549.5 61.1h0M553.1 67.4h0M572.5 50.4h0M535.8 65.3h0M562.6 61.7h0M554.2 56.6h0M566.9 80.0h0M606.1 81.1h0M551.6 46.5h0M553.7 72.0h0M559.1 70.7h0M549.7 52.4h0M533.8 64.6h0M647.0 80.7h0M576.6 63.0h0M585.2 57.2h0M633.6 82.3h0M649.5 81.0h0M526.2 74.0h0M583.0 39.5h0M605.6 60.9h0M577.8 43.5h0M528.8 74.6h0M569.7 79.0h0M560.6 80.3h0M550.1 55.6h0M555.8 71.1h0M541.4 80.6h0M574.1 78.6h0M525.0 89.4h0M524.6 83.1h0M549.1 47.7h0M607.4 80.6h0M593.6 51.4h0M626.0 80.3h0M552.8 61.9h0M569.2 50.8h0M549.8 80.9h0M555.5 83.4h0M531.5 81.2h0M534.0 64.3h0M526.4 81.6h0M532.7 70.4h0M647.2 80.4h0M639.0 79.9h0M636.2 86.5h0M564.8 73.6h0M562.5 74.9h0M544.5 47.8h0M550.9 80.7h0M549.6 65.0h0M531.1 80.3h0M566.1 52.0h0M581.0 41.2h0M584.8 53.2h0M541.0 69.5h0M556.9 75.8h0M578.4 79.0h0M546.0 65.6h0M524.7 79.2h0M546.9 52.2h0M608.9 66.7h0M538.0 65.3h0M600.2 80.5h0M526.2 79.0h0M549.8 48.9h0M542.7 80.0h0M567.2 80.8h0M526.0 80.9h0M604.9 81.4h0M607.8 75.7h0M553.1 64.6h0M580.8 66.9h0M531.8 66.4h0M584.9 39.3h0M561.5 54.1h0M553.5 52.8h0M532.1 71.7h0M656.1 80.8h0M606.4 81.2h0M532.2 65.7h0M539.9 71.5h0M567.7 58.9h0M537.9 68.3h0M568.8 79.0h0M528.1 80.2h0M547.1 63.3h0M546.4 84.4h0M564.8 50.0h0M547.1 60.4h0M564.4 80.2h0M601.6 81.2h0M554.7 74.6h0M566.7 54.5h0M582.9 60.6h0M556.7 81.6h0M568.9 51.6h0M570.6 48.5h0M543.0 77.6h0M576.6 47.1h0M537.2 81.2h0M526.6 80.9h0M581.4 40.7h0M527.8 80.9h0M626.8 81.3h0M569.8 80.0h0M591.2 61.6h0M539.3 68.1h0M572.8 78.5h0M579.1 80.7h0M528.2 81.4h0M526.1 74.5h0M550.5 55.0h0M576.4 44.2h0M607.2 79.0h0M532.7 69.8h0M568.1 47.0h0M562.8 73.8h0M554.6 61.9h0M632.8 80.0h0M564.0 68.0h0M528.4 79.2h0M524.8 76.9h0M562.5 62.5h0M540.3 71.0h0M584.0 39.7h0M623.5 81.2h0M636.3 79.1h0M532.6 71.6h0M532.1 80.3h0M531.0 68.7h0M595.3 64.3h0M550.0 59.5h0M605.5 66.0h0M648.8 80.1h0M554.5 55.2h0M541.5 70.3h0M522.3 80.8h0M548.2 62.3h0M583.6 43.0h0M569.4 82.2h0M613.9 81.5h0M581.8 81.7h0M552.4 48.2h0M600.7 88.6h0M539.4 84.2h0M571.4 46.4h0M548.6 57.8h0M553.0 50.0h0M557.3 70.2h0M627.6 79.5h0M560.7 80.4h0M524.9 81.2h0M543.6 78.8h0M574.0 58.8h0M527.3 79.3h0M536.7 80.1h0M571.2 47.5h0M532.4 80.7h0M545.5 49.3h0M567.2 48.7h0M567.6 81.1h0M554.8 77.5h0M629.7 80.5h0M551.0 64.2h0M649.9 81.4h0M539.3 80.8h0M566.6 82.3h0M570.2 80.8h0M657.3 80.5h0M561.7 57.3h0M610.6 80.3h0M589.0 36.6h0M573.0 81.2h0M540.2 69.0h0M551.0 55.9h0M642.9 80.6h0M527.4 81.1h0M583.2 80.3h0M596.6 81.0h0M523.1 79.3h0M534.4 65.9h0M541.2 70.6h0M539.9 78.7h0M542.6 81.4h0M532.4 81.4h0M554.1 52.3h0M555.6 75.2h0M561.3 82.8h0M553.5 53.5h0M619.7 81.5h0M554.2 60.7h0M529.6 71.9h0M552.5 71.9h0M562.7 78.7h0M528.1 80.9h0M563.5 73.0h0M529.0 83.5h0M554.0 81.6h0M622.0 83.2h0M558.6 54.2h0M561.8 52.5h0M534.2 80.4h0M550.0 67.2h0M549.2 49.8h0M531.2 80.9h0M545.2 66.7h0M607.0 80.7h0M567.4 80.1h0M563.6 79.3h0M535.0 79.7h0M530.4 91.6h0M544.4 53.3h0M570.6 81.9h0M650.5 80.4h0M627.0 81.6h0M547.3 74.0h0M635.2 80.6h0M548.5 55.3h0M568.5 51.8h0M526.6 80.1h0M524.2 82.8h0M574.1 80.3h0M575.0 53.8h0M522.3 80.5h0M555.1 77.9h0M582.4 42.7h0M549.0 73.9h0M571.0 78.1h0M619.9 80.9h0M568.0 52.2h0M526.0 77.5h0M552.0 83.3h0M633.5 81.7h0M621.0 81.9h0M549.6 71.0h0M634.8 82.3h0M576.3 46.4h0M534.8 67.2h0M588.2 34.2h0M529.5 79.3h0M551.2 68.8h0M593.2 78.7h0M549.7 70.5h0M546.0 75.3h0M541.5 89.1h0M627.3 79.8h0M549.8 70.6h0M545.6 69.4h0M530.4 87.0h0M570.8 48.5h0M548.7 70.8h0M617.3 80.4h0M534.2 68.1h0M549.3 72.4h0M529.7 93.8h0M562.9 82.2h0M548.7 64.0h0M567.2 49.1h0M578.9 43.6h0M566.0 50.2h0M536.9 69.0h0M563.1 53.3h0M561.7 56.9h0M548.7 53.6h0M532.8 73.4h0M547.1 61.8h0M554.6 81.6h0M568.3 51.3h0M552.8 48.8h0M536.4 81.1h0M544.5 81.2h0M526.1 80.2h0M560.8 71.0h0M544.4 49.0h0M558.5 55.1h0M535.8 65.5h0M549.5 55.8h0M550.8 59.5h0M576.2 81.7h0M550.1 51.4h0M562.5 55.9h0M569.3 58.1h0M549.2 93.1h0M565.4 53.7h0M556.2 81.6h0M564.1 52.2h0M568.3 82.3h0M564.4 71.4h0M528.4 73.9h0M607.6 80.4h0M550.3 56.9h0M638.0 79.8h0M616.4 80.3h0M547.3 45.1h0M541.6 79.9h0M524.1 80.6h0M527.4 80.1h0M620.5 81.6h0M570.7 51.0h0M599.4 80.8h0M552.1 79.1h0M534.0 67.9h0M595.8 58.7h0M548.8 52.8h0M558.9 81.1h0M521.6 81.2h0M582.0 41.7h0M564.7 52.3h0M552.4 51.4h0M559.8 54.0h0M534.1 72.4h0M539.9 78.9h0M534.5 64.4h0M549.4 59.1h0M569.3 51.1h0M525.6 80.2h0M539.4 69.5h0M550.8 45.3h0M531.7 84.8h0M548.2 52.6h0M547.3 82.9h0M544.4 48.6h0M587.9 38.2h0M528.7 70.7h0M543.8 77.2h0M573.4 44.9h0M567.3 51.9h0M531.7 71.2h0M564.6 74.5h0M610.9 82.9h0M550.3 45.8h0M609.0 81.4h0M567.6 50.3h0M600.0 93.1h0M541.5 73.9h0M550.1 82.2h0M545.3 65.8h0M545.6 83.2h0M617.3 71.9h0M524.5 90.9h0M572.0 47.2h0M521.9 82.2h0M581.4 42.2h0M533.8 66.4h0M629.5 80.6h0M578.3 77.4h0M566.0 78.0h0M577.9 81.1h0M551.1 68.4h0M580.8 57.6h0M611.5 81.8h0M552.3 79.9h0M589.1 37.2h0M623.6 80.7h0M574.0 49.0h0M553.3 72.7h0M585.6 80.3h0M544.8 79.9h0M530.0 69.0h0M533.0 65.4h0M592.8 81.0h0M528.8 73.5h0M587.9 63.7h0M660.2 80.4h0M545.6 80.8h0M547.9 50.7h0M524.7 78.4h0M585.9 81.9h0M582.1 42.4h0M590.8 33.7h0M542.2 81.3h0M537.6 89.3h0M562.9 52.6h0M655.7 81.4h0M551.8 57.3h0M613.1 80.5h0M614.1 80.8h0M599.7 83.5h0M570.1 47.7h0M633.0 79.4h0M534.6 79.7h0M530.1 81.9h0M625.2 80.6h0M582.3 38.9h0M581.4 38.8h0M559.9 74.5h0M555.4 79.7h0M553.9 50.2h0M538.8 71.2h0M654.9 80.5h0M527.7 80.1h0M541.0 80.5h0M540.8 82.0h0M583.3 42.2h0M546.7 81.7h0M529.2 74.0h0M640.5 79.8h0M627.5 81.7h0M524.7 81.2h0M541.8 76.0h0M552.8 51.1h0M554.4 54.7h0M656.6 78.8h0M538.3 84.7h0M580.3 42.5h0M561.5 80.7h0M555.0 79.8h0M526.4 79.9h0M553.7 52.9h0M583.8 38.5h0M625.8 89.7h0M548.0 79.2h0M562.3 73.7h0M550.0 63.7h0M588.4 35.6h0M578.3 45.0h0M608.1 64.2h0M542.1 81.9h0M607.3 79.8h0M544.7 73.7h0M591.5 55.1h0M571.8 49.7h0M556.3 81.5h0M568.9 76.5h0M571.6 49.5h0M545.7 68.9h0M614.9 91.9h0M551.7 71.1h0M649.5 81.7h0M559.3 80.9h0M562.8 54.7h0M561.1 75.0h0M551.1 52.7h0M536.8 74.7h0M553.6 81.1h0M587.8 50.9h0M556.5 83.2h0M541.8 90.5h0M566.0 72.6h0M614.8 80.9h0M588.1 78.2h0M537.6 68.4h0M551.5 49.9h0M550.2 69.0h0M568.5 79.6h0M553.4 46.4h0M534.4 68.7h0M547.9 79.9h0M532.1 86.0h0M545.5 60.9h0M549.4 54.6h0M577.1 81.0h0M567.4 74.5h0M572.3 46.2h0M610.7 80.6h0M577.6 44.0h0M612.2 80.8h0M576.0 42.9h0" stroke="#d3d3d3" stroke-width="3.5" stroke-linecap="round" fill="none"/>
<path d="M592.0,197.8 L547.0,211.6 L519.2,247.9 L519.2,292.7 L547.0,329.0 L592.0,342.8 L637.0,329.0 L664.8,292.7 L664.8,247.9 L637.0,211.6 Z" fill="none" stroke="#3f8fd2" stroke-width="0.75"/>
<path d="M547.3 313.1h0M663.5 286.7h0M578.9 279.3h0M519.9 258.0h0M627.0 299.6h0M617.6 253.2h0M647.1 274.6h0M579.6 274.9h0M627.4 328.6h0M661.6 297.8h0M643.0 233.6h0M635.4 214.2h0M655.9 287.5h0M545.5 270.9h0M588.6 298.5h0M647.3 309.9h0M583.9 296.5h0M576.8 320.1h0M593.7 338.6h0M577.9 325.9h0M545.6 323.3h0M519.5 271.0h0M650.8 263.6h0M545.9 305.1h0M530.0 279.7h0M577.9 294.0h0M584.6 325.7h0M549.2 257.7h0M587.4 286.9h0M544.3 261.9h0M561.0 282.6h0M609.8 283.2h0M539.8 254.5h0M574.5 277.3h0M591.2 322.7h0M584.4 313.7h0M552.2 302.5h0M540.6 279.5h0M597.6 308.6h0M633.5 291.9h0M580.6 337.0h0M634.8 268.6h0M632.1 310.6h0M525.8 305.9h0M631.5 279.2h0M551.5 276.8h0M548.1 283.3h0M664.0 279.0h0M639.7 232.8h0M629.2 313.7h0M610.3 279.2h0M594.1 325.7h0M639.5 273.0h0M645.7 299.5h0M591.3 335.1h0M559.0 296.8h0M563.9 282.0h0M528.6 260.3h0M578.8 322.0h0M533.2 292.6h0M595.3 309.1h0M618.9 275.3h0M568.4 327.3h0M540.5 269.1h0M581.4 316.7h0M636.3 217.0h0M565.2 312.2h0M551.0 317.1h0M566.6 331.0h0M582.7 299.4h0M579.7 295.6h0M527.5 291.6h0M644.8 280.4h0M580.5 338.1h0M658.9 286.6h0M594.1 235.7h0M614.2 305.4h0M547.6 264.1h0M570.1 334.2h0M593.4 317.4h0M541.8 261.7h0M521.1 271.9h0M569.2 334.1h0M604.3 299.3h0M621.1 315.8h0M619.7 286.5h0M574.5 273.7h0M543.2 317.1h0M630.3 299.3h0M590.6 298.6h0M583.9 305.7h0M571.0 280.7h0M565.2 270.3h0M664.1 277.0h0M663.8 279.3h0M657.8 276.2h0M542.6 310.5h0M577.1 321.6h0M610.8 291.2h0M521.4 263.4h0M625.8 296.5h0M611.5 313.5h0M614.9 277.0h0M628.0 330.7h0M549.8 271.9h0M607.9 299.9h0M565.9 312.7h0M593.6 306.9h0M607.0 230.7h0M573.0 229.3h0M552.7 314.4h0M620.1 235.0h0M575.7 330.2h0M586.2 309.4h0M599.0 318.7h0M591.3 287.4h0M567.6 329.9h0M594.4 261.0h0M543.7 265.9h0M631.7 214.5h0M529.9 271.8h0M640.4 236.3h0M562.1 276.1h0M607.2 300.4h0M614.3 242.4h0M622.5 327.9h0M646.5 279.6h0M604.7 315.1h0M561.0 280.9h0M642.8 274.9h0M608.3 279.8h0M534.0 281.4h0M543.8 278.4h0M657.0 279.3h0M538.0 293.8h0M545.1 276.2h0M535.4 288.6h0M519.9 276.8h0M551.0 281.0h0M578.3 335.0h0M654.4 279.0h0M530.5 298.7h0M606.4 312.1h0M595.3 335.4h0M587.5 320.6h0M653.5 287.0h0M612.4 284.3h0M613.8 301.0h0M589.8 340.8h0M524.1 254.3h0M654.1 272.5h0M614.8 231.8h0M585.1 304.5h0M566.2 276.6h0M588.5 333.2h0M576.5 279.9h0M526.7 300.2h0M600.7 225.4h0M647.1 293.1h0M664.3 289.6h0M632.0 289.4h0M603.5 278.8h0M642.0 302.7h0M541.1 319.1h0M613.9 252.6h0M580.3 337.8h0M564.7 312.3h0M561.9 327.1h0M572.1 331.0h0M569.7 285.3h0M554.9 267.5h0M572.5 311.8h0M581.7 291.3h0M594.8 307.3h0M652.2 294.8h0M533.1 304.3h0M551.5 293.9h0M550.2 294.9h0M571.9 250.1h0M659.2 267.3h0M529.8 292.9h0M572.3 320.7h0M538.0 265.3h0M603.9 302.8h0M530.4 291.3h0M547.1 285.1h0M643.1 295.8h0M539.4 280.0h0M577.2 336.3h0M595.1 321.8h0M578.0 295.4h0M650.3 284.3h0M571.4 311.1h0M601.4 292.1h0M641.3 309.6h0M595.3 248.0h0M532.5 261.7h0M575.7 280.7h0M570.1 328.4h0M640.0 307.2h0M575.5 334.2h0M570.3 276.8h0M586.8 333.0h0M601.9 309.8h0M655.0 292.0h0M584.1 322.5h0M603.9 259.4h0M552.4 300.3h0M629.0 256.5h0M520.0 276.9h0M663.8 268.1h0M593.2 310.4h0M625.8 268.5h0M567.8 331.5h0M537.0 279.2h0M622.3 303.3h0M643.8 305.7h0M582.1 282.8h0M537.6 299.0h0M597.3 334.0h0M571.2 329.8h0M595.7 319.9h0M643.4 308.5h0M520.5 289.6h0M603.0 303.4h0M619.4 218.8h0M538.0 286.8h0M565.2 292.0h0M574.2 281.8h0M579.3 299.8h0M600.6 281.0h0M594.0 225.8h0M574.6 315.3h0M556.1 317.9h0M635.3 308.4h0M650.1 288.2h0M571.8 327.0h0M574.7 338.0h0M662.7 280.8h0M606.8 287.0h0M561.5 327.5h0M639.7 231.3h0M541.4 278.2h0M617.0 264.1h0M618.2 259.4h0M627.6 308.9h0M577.3 280.9h0M595.5 324.1h0M521.6 251.4h0M588.5 276.9h0M593.0 274.4h0M591.7 287.8h0M637.9 269.2h0M521.0 285.2h0M656.6 275.7h0M606.0 275.2h0M642.4 297.3h0M571.0 250.8h0M593.7 335.6h0M527.8 280.4h0M644.3 300.6h0M597.5 312.7h0M563.4 262.8h0M578.9 302.3h0M572.0 293.6h0M572.2 323.7h0M656.9 267.2h0M575.9 300.8h0M623.5 275.3h0M599.5 310.3h0M646.3 267.2h0M617.6 262.6h0M585.9 328.2h0M519.9 267.8h0M564.4 288.4h0M578.5 279.7h0M635.6 289.2h0M571.6 326.7h0M642.8 313.8h0M662.0 285.4h0M658.2 271.3h0M637.4 311.1h0M572.3 292.2h0M536.3 257.7h0M619.9 215.7h0M579.5 292.9h0M548.0 298.7h0M610.5 220.9h0M657.4 267.1h0M550.3 316.0h0M527.1 262.0h0M566.0 315.2h0M563.7 273.3h0M620.6 307.0h0M641.6 283.8h0M586.2 329.0h0M656.7 298.8h0M580.0 334.2h0M637.1 302.7h0M605.1 293.0h0M619.2 321.6h0M636.4 326.2h0M600.9 277.2h0M586.5 307.8h0M656.6 293.3h0M636.6 283.0h0M579.9 320.8h0M587.3 305.4h0M524.9 271.5h0M550.0 299.0h0M563.5 263.7h0M549.1 320.2h0M581.6 314.1h0M571.8 331.8h0M601.2 298.7h0M608.0 295.1h0M582.6 282.4h0M652.7 268.0h0M544.2 276.4h0M654.8 271.4h0M569.3 294.1h0M561.8 266.5h0M569.4 315.7h0M539.7 313.5h0M639.1 296.5h0M600.1 305.3h0M651.5 284.7h0M574.7 284.1h0M561.7 289.4h0M539.1 291.4h0M588.1 294.1h0M577.5 318.1h0M559.3 306.6h0M544.6 290.5h0M553.8 289.9h0M618.7 325.8h0M618.9 308.3h0M586.9 320.8h0M642.7 308.9h0M640.3 296.6h0M591.1 300.0h0M612.3 238.2h0M555.2 319.3h0M542.9 268.5h0M525.5 265.2h0M575.6 288.4h0M576.0 321.8h0M588.0 238.2h0M622.8 278.5h0M640.0 297.7h0M564.0 314.9h0M578.5 242.5h0M532.4 294.2h0M590.8 326.5h0M557.8 287.4h0M564.8 271.4h0M611.8 311.6h0M581.5 337.4h0M534.0 300.1h0M636.1 318.6h0M570.6 276.2h0M553.3 268.1h0M559.1 269.8h0M521.2 254.0h0M546.1 277.6h0M584.5 339.7h0M658.3 254.8h0M576.9 287.4h0M610.3 277.5h0M654.7 298.2h0M545.6 273.6h0M613.2 218.4h0M576.7 329.5h0M591.7 304.6h0M653.3 275.5h0M593.9 336.1h0M575.0 268.5h0M655.2 280.8h0M518.9 279.4h0M581.5 306.3h0M519.0 257.9h0M572.5 336.6h0M554.2 322.1h0M586.2 297.0h0M587.5 340.0h0M519.1 287.8h0M591.2 299.9h0M574.4 298.4h0M532.5 309.6h0M580.6 294.7h0M590.3 317.1h0M574.4 277.4h0M549.3 314.8h0M538.8 292.3h0M567.0 332.1h0M630.6 321.7h0M644.1 255.1h0M578.6 282.2h0M521.5 270.0h0M572.3 314.7h0M663.1 291.4h0M590.1 326.2h0M551.2 271.9h0M577.2 329.6h0M532.5 308.4h0M580.6 296.1h0M575.7 275.8h0M609.8 320.1h0M554.9 325.9h0M614.2 297.1h0M578.9 326.0h0M534.1 301.2h0M554.1 292.5h0M595.0 306.3h0M582.7 331.7h0M630.1 319.4h0M597.3 316.2h0M582.4 289.5h0M606.1 299.5h0M599.8 310.3h0M588.3 337.9h0M626.4 281.2h0M571.3 272.8h0M552.8 299.8h0M576.2 323.3h0M530.5 291.1h0M639.8 281.0h0M635.9 283.9h0M642.5 241.8h0M572.1 325.0h0M633.2 328.2h0M614.3 235.3h0M551.2 312.0h0M625.9 304.4h0M551.3 289.4h0M612.8 280.9h0M584.1 286.7h0M588.3 329.4h0M541.5 273.2h0M561.3 309.5h0M622.7 274.3h0M579.7 325.7h0M552.3 310.4h0M603.5 277.0h0M607.9 286.7h0M522.0 257.9h0M573.5 302.9h0M622.4 312.7h0M551.4 264.9h0M608.6 250.2h0M630.8 306.5h0M540.4 313.8h0M544.1 272.2h0M648.8 265.1h0M560.3 295.9h0M551.1 303.1h0M657.1 288.4h0M556.3 332.2h0M611.5 218.8h0M557.0 287.2h0M575.2 289.8h0M554.6 322.2h0M525.5 300.0h0M552.8 309.6h0M583.2 328.7h0M648.1 284.9h0M630.3 296.0h0M654.0 307.0h0M643.2 272.9h0M565.4 334.6h0M560.1 294.2h0M579.9 272.6h0M546.5 283.2h0M588.2 261.2h0M586.5 226.4h0M596.7 297.6h0M646.7 265.0h0M594.2 314.3h0M532.7 308.8h0M631.1 286.9h0M646.0 247.2h0M523.5 303.1h0M520.7 271.8h0M572.1 321.1h0M607.4 232.6h0M581.4 315.2h0M610.3 219.1h0M639.9 290.3h0M620.5 274.5h0M546.1 319.2h0M585.7 274.7h0M589.9 322.1h0M635.0 301.9h0M654.6 284.6h0M619.9 316.1h0M537.8 260.9h0M655.7 295.2h0M564.1 320.7h0M597.3 323.5h0M546.8 299.5h0M551.4 284.1h0M561.4 296.4h0M661.5 267.6h0M573.6 287.5h0M550.8 303.3h0M656.0 297.9h0M549.3 276.3h0M559.1 265.3h0M579.1 330.0h0M521.9 266.7h0M579.1 316.3h0M635.5 321.5h0M564.2 308.9h0M535.1 269.6h0M653.9 277.4h0M575.7 320.5h0M528.1 255.2h0M661.2 291.1h0M554.5 301.5h0M549.2 276.5h0M561.4 304.7h0M540.5 274.9h0M631.2 318.4h0M661.7 282.8h0M618.4 306.8h0M655.8 288.6h0M623.4 314.2h0M561.1 272.6h0M547.3 305.3h0M549.3 269.0h0M537.6 285.6h0M538.6 258.8h0M581.5 320.0h0M630.7 290.1h0M549.6 272.7h0M539.7 265.5h0M595.0 325.1h0M540.0 304.5h0M532.3 285.3h0M554.8 270.4h0M558.2 332.1h0M534.9 268.3h0M565.5 299.9h0M618.7 286.9h0M566.3 287.2h0M585.1 287.9h0M590.8 301.7h0M594.3 278.9h0M650.6 306.3h0M526.5 270.4h0M589.9 298.5h0M649.4 309.6h0M650.5 282.8h0M599.1 321.3h0M559.6 261.6h0M572.2 276.1h0M613.0 313.1h0M531.9 310.2h0M592.7 315.0h0M628.2 257.2h0M563.8 289.6h0M592.1 318.9h0M586.1 293.4h0M641.9 233.2h0M591.2 331.7h0M663.7 288.1h0M518.9 263.6h0M541.8 278.6h0M607.2 287.1h0M642.4 277.8h0M533.7 298.9h0M603.4 223.8h0M586.3 300.8h0M544.6 316.4h0M583.3 307.0h0M522.9 282.2h0M575.6 232.3h0M608.8 276.4h0M525.1 301.7h0M592.4 341.0h0M574.8 297.1h0M584.0 336.8h0M535.2 312.1h0M601.6 291.3h0M591.3 330.0h0M549.2 317.4h0M617.7 286.3h0M548.5 304.4h0M662.2 293.2h0M528.2 302.5h0M553.1 319.3h0M588.1 249.6h0M575.7 292.8h0M538.5 299.9h0M592.3 301.5h0M622.5 323.1h0M617.7 309.3h0M595.5 283.7h0M561.8 303.8h0M591.2 331.1h0M570.6 271.4h0M574.0 323.1h0M653.8 274.0h0M596.5 337.8h0M631.1 295.4h0M647.6 276.6h0M646.6 287.6h0M527.8 300.6h0M589.1 332.1h0M656.2 277.9h0M590.2 282.8h0M568.5 294.7h0M633.5 311.8h0M561.4 316.2h0M653.9 296.1h0M565.7 304.2h0M662.5 292.8h0M636.8 222.5h0M550.1 266.2h0M573.8 325.7h0M616.5 291.7h0M641.3 312.5h0M659.8 294.1h0M622.9 215.9h0M542.1 263.2h0M659.0 286.5h0M639.1 302.3h0M630.5 302.7h0M529.9 265.2h0M661.9 268.8h0M526.7 292.5h0M556.7 269.4h0M596.9 310.0h0M566.1 310.8h0M661.9 288.6h0M599.9 250.0h0M547.3 301.1h0M573.1 307.7h0M636.5 315.5h0M639.6 296.6h0M572.5 303.8h0M584.6 249.9h0M659.3 270.4h0M599.2 298.4h0M615.2 293.7h0M574.6 283.2h0M587.0 303.3h0M529.5 315.0h0M556.7 285.4h0M567.1 296.6h0M537.0 259.5h0M589.2 226.5h0M586.1 285.7h0M567.4 298.9h0M541.5 312.6h0M569.6 318.1h0M600.7 249.1h0M549.0 268.4h0M528.0 295.4h0M555.4 326.0h0M534.4 298.8h0M594.4 318.5h0M562.8 328.8h0M607.9 290.4h0M605.4 306.6h0M584.9 339.8h0M531.1 298.3h0M577.8 232.2h0M573.7 275.9h0M546.6 282.8h0M657.1 282.0h0M545.8 271.4h0M547.7 262.7h0M623.2 287.5h0M647.1 265.9h0M555.2 292.8h0M653.5 273.2h0M603.8 262.3h0M615.2 261.2h0M570.2 286.4h0M579.5 286.3h0M634.9 302.7h0M576.0 317.0h0M640.5 219.2h0M595.7 328.9h0M619.6 314.7h0M569.2 275.0h0M646.1 235.6h0M551.8 321.3h0M581.8 319.6h0M642.2 229.8h0M645.4 277.6h0M585.2 287.3h0M578.8 272.7h0M648.9 271.0h0M637.7 295.5h0M638.1 321.7h0M646.4 279.7h0M588.8 303.2h0M592.0 232.4h0M640.0 294.6h0M543.3 311.6h0M582.9 228.0h0M603.7 277.7h0M553.0 329.7h0M548.6 265.3h0M584.8 320.7h0M535.9 304.3h0M524.3 256.8h0M660.5 287.8h0M556.4 277.9h0M629.9 298.5h0M555.6 321.1h0M569.6 309.9h0M528.5 273.4h0M546.8 293.3h0M662.5 268.7h0M654.8 304.3h0M662.1 294.3h0M638.8 223.0h0M647.1 285.3h0M598.3 274.8h0M565.4 294.6h0M555.8 284.1h0M523.9 252.0h0M579.2 285.2h0M569.0 276.8h0M662.6 274.4h0M586.5 314.8h0M552.6 293.5h0M661.9 297.6h0M530.4 306.0h0M641.2 231.6h0M624.0 301.2h0M650.3 273.2h0M562.7 299.5h0M554.4 325.6h0M658.0 286.1h0M595.5 334.4h0M642.3 239.7h0M639.4 304.5h0M604.2 309.2h0M581.0 283.6h0M625.1 311.1h0M601.8 295.9h0M569.2 273.8h0M532.0 314.6h0M539.3 260.0h0M617.2 275.7h0M548.9 313.3h0M598.0 294.9h0M583.2 336.3h0M615.0 310.2h0M590.0 275.6h0M526.2 285.9h0M601.7 299.7h0M578.8 275.3h0M581.8 277.1h0M602.2 304.0h0M545.9 269.6h0M555.3 285.4h0M622.2 325.2h0M609.5 277.7h0M573.7 269.8h0M662.2 286.0h0M584.3 329.5h0M603.3 298.9h0M592.8 306.6h0M620.2 311.2h0M653.5 295.8h0M636.5 214.5h0M586.3 282.7h0M563.2 301.1h0M573.9 268.8h0M572.0 295.4h0M573.4 238.1h0M633.6 213.6h0M635.5 273.4h0M597.7 335.9h0M622.2 299.3h0M544.4 321.3h0M548.9 270.4h0M579.2 301.5h0M548.5 262.9h0M657.2 275.9h0M636.2 326.7h0M582.5 278.5h0M527.0 295.7h0M618.6 317.6h0M660.4 275.6h0M588.2 316.3h0M570.3 229.6h0M590.6 318.1h0M598.5 331.1h0M590.2 298.1h0M661.1 288.6h0M523.3 277.3h0M557.1 299.1h0M532.4 308.8h0M647.3 308.6h0M647.8 286.2h0M637.5 274.8h0M554.5 321.2h0M640.1 269.8h0M628.5 315.2h0M605.5 234.0h0M642.3 321.2h0M651.9 273.2h0M542.7 289.2h0M652.8 277.5h0M640.1 280.5h0M605.3 288.6h0M602.8 304.7h0M583.4 314.4h0M660.0 300.3h0M583.3 313.4h0M639.7 286.3h0M527.7 308.8h0M593.1 334.5h0M632.7 317.4h0M540.5 301.1h0M631.7 329.5h0M586.3 296.1h0M570.1 308.0h0M648.5 273.3h0M628.9 327.2h0M573.2 331.8h0M553.1 286.9h0M533.3 299.0h0M640.2 281.4h0M633.0 297.5h0M552.7 306.7h0M660.1 293.0h0M548.1 311.0h0M579.8 297.3h0M654.0 278.7h0M603.5 291.2h0M593.0 325.0h0M574.8 288.7h0M532.2 308.4h0M596.2 304.3h0M576.9 293.4h0M655.9 287.3h0M624.3 289.4h0M621.6 312.6h0M543.6 300.7h0M530.4 264.9h0M620.3 217.1h0M595.9 336.1h0M529.4 304.2h0M601.7 222.3h0M592.3 303.7h0M615.4 216.5h0M638.3 313.9h0M589.5 292.5h0M613.0 218.2h0M555.8 307.6h0M576.2 284.6h0M611.6 280.9h0M540.0 308.3h0M649.3 280.3h0M657.5 297.2h0M650.5 264.6h0M559.7 261.4h0M573.9 305.1h0M556.4 299.2h0M641.6 289.1h0M561.3 277.5h0M613.4 317.2h0M640.1 222.4h0M583.3 282.4h0M640.3 298.6h0M628.7 213.1h0M651.1 277.0h0M651.1 281.2h0M655.5 300.8h0M551.2 296.8h0M580.0 290.1h0M577.3 294.1h0M579.2 275.3h0M655.1 297.3h0M585.2 337.4h0M591.0 232.4h0M536.6 275.5h0M526.4 276.1h0M599.3 295.1h0M527.0 262.5h0M579.1 279.8h0M574.7 280.3h0M648.2 274.5h0M635.5 289.7h0M638.7 284.8h0M612.5 297.7h0M552.9 308.9h0M527.1 313.6h0M643.0 298.7h0M603.1 305.0h0M611.1 316.4h0M554.5 297.2h0M530.4 270.6h0M568.1 293.6h0M585.7 300.5h0M636.5 214.0h0M631.9 296.3h0M550.4 327.3h0M635.2 326.6h0M579.5 338.5h0M524.2 272.9h0M545.0 261.7h0M623.2 322.5h0M529.9 282.3h0M584.7 296.4h0M587.0 317.4h0M633.4 266.4h0M610.2 306.7h0M560.6 326.7h0M570.3 285.7h0M570.9 288.2h0M613.4 298.2h0M589.0 305.4h0M622.5 268.6h0M533.8 256.6h0M632.7 275.7h0M595.6 281.1h0M640.4 301.3h0M551.5 268.2h0M558.8 262.6h0M581.2 331.6h0M607.5 290.1h0M626.8 295.3h0M639.2 223.1h0M530.9 299.6h0M619.8 277.9h0M640.7 305.8h0M590.9 283.2h0M573.9 289.3h0M651.9 288.2h0M536.8 295.5h0M580.4 328.2h0M634.5 278.9h0M519.4 266.8h0M657.4 275.1h0M533.7 304.9h0M580.0 308.7h0M614.4 325.0h0M658.9 301.3h0M613.2 287.7h0M576.6 296.4h0M590.5 339.4h0M558.5 294.9h0M651.3 299.8h0M605.8 291.4h0M519.0 277.9h0M597.7 294.0h0M579.6 245.5h0M650.3 268.4h0M639.2 314.3h0M590.4 337.6h0M550.8 273.5h0M627.9 278.1h0M558.3 317.1h0M591.7 336.3h0M557.1 305.4h0M595.3 325.7h0M543.1 273.4h0M584.0 300.8h0M570.4 312.9h0M600.8 279.2h0M541.7 314.7h0M613.0 289.9h0M605.7 318.2h0M550.0 307.3h0M534.5 302.7h0M606.1 253.4h0M585.2 292.4h0M562.2 317.1h0M574.6 276.7h0M638.3 225.7h0M606.6 312.7h0M631.4 313.9h0M604.0 293.0h0M570.0 294.5h0M596.2 306.7h0M624.3 306.2h0M571.0 329.8h0M591.1 304.5h0M592.2 298.2h0M593.6 289.2h0M558.8 327.9h0M647.6 298.0h0M577.1 321.2h0M584.8 286.9h0M588.8 226.5h0M613.1 313.6h0M568.8 289.8h0M589.8 338.2h0M635.0 214.9h0M534.9 285.7h0M552.3 287.6h0M540.2 306.0h0M522.5 284.1h0M649.0 299.2h0M641.7 294.3h0M551.8 292.5h0M534.9 292.9h0M586.7 331.9h0M576.5 314.2h0M533.2 258.1h0M615.1 307.0h0M564.3 281.5h0M561.6 324.3h0M641.5 272.8h0M572.5 299.9h0M659.3 277.3h0M652.1 262.3h0M617.4 314.3h0M519.3 251.1h0M635.1 212.6h0M587.8 304.1h0M588.6 295.3h0M569.1 326.4h0M539.8 284.1h0M582.8 320.9h0M529.1 305.2h0M627.3 307.3h0M585.9 330.5h0M569.9 316.7h0M589.4 330.9h0M590.3 320.3h0M589.0 306.3h0M539.0 262.8h0M532.8 299.6h0M588.9 290.4h0M529.7 270.6h0M657.0 273.0h0M641.8 305.8h0M573.3 322.7h0M522.5 295.2h0M541.8 277.9h0M546.5 309.9h0M526.2 297.1h0M561.3 321.0h0M582.1 286.1h0M565.9 326.7h0M649.0 282.5h0M585.9 298.8h0M564.3 332.3h0M663.2 265.8h0M527.2 292.3h0M603.0 236.9h0M655.1 263.9h0M558.5 328.6h0M645.2 245.8h0M660.0 283.2h0M597.5 301.6h0M551.5 323.0h0M657.7 285.2h0M634.2 328.9h0M580.9 322.6h0M581.1 338.6h0M562.1 293.8h0M644.4 276.4h0M537.8 258.1h0M570.4 320.9h0M576.4 322.9h0M563.7 282.8h0M566.9 317.0h0M570.7 290.7h0M546.7 286.6h0M524.7 253.2h0M569.8 326.7h0M630.9 263.8h0M598.0 224.2h0M654.0 279.0h0M582.5 321.8h0M528.2 306.2h0M564.1 319.8h0M646.6 303.6h0M591.7 308.6h0M629.6 293.5h0M595.8 323.8h0M602.1 287.7h0M608.8 306.5h0M644.7 297.2h0M659.2 288.1h0M583.3 297.0h0M596.2 223.5h0M531.9 305.7h0M614.3 217.4h0M598.3 332.6h0M591.1 341.1h0M588.3 300.8h0M649.8 279.2h0M544.1 260.8h0M539.0 277.1h0M644.7 295.0h0M587.6 274.5h0M573.6 269.3h0M528.5 273.6h0M620.8 325.4h0M581.5 289.7h0M610.8 286.0h0M563.7 282.5h0M597.1 322.2h0M600.8 220.6h0M627.4 286.2h0M594.4 246.2h0M550.8 279.7h0M566.1 325.3h0M523.7 276.9h0M632.1 286.1h0M583.2 298.7h0M550.3 315.0h0M564.9 324.8h0M642.5 239.1h0M555.9 294.2h0M597.5 323.2h0M610.8 308.4h0M636.5 281.8h0M592.3 302.2h0M565.5 274.2h0M654.7 286.6h0M523.3 300.4h0M575.3 275.4h0M525.9 266.2h0M545.6 286.1h0M610.6 218.6h0M589.5 321.7h0M565.6 332.6h0M630.3 279.8h0M569.5 331.1h0M536.6 262.0h0M544.0 288.3h0M531.6 277.6h0M581.7 277.5h0M577.4 288.9h0M528.6 281.9h0M595.9 309.0h0M663.3 267.5h0M592.6 277.3h0M629.3 214.1h0M555.9 261.3h0M640.6 275.8h0M552.8 329.0h0M551.7 278.8h0M576.7 277.1h0M608.1 286.5h0M624.5 276.5h0M578.2 282.8h0M558.1 263.6h0M587.4 291.3h0M663.0 285.4h0M527.4 298.6h0M641.8 232.3h0M584.5 282.8h0M538.7 305.8h0M576.0 289.0h0M564.1 272.0h0M536.9 316.0h0M633.8 307.4h0M602.4 287.8h0M559.0 321.1h0M541.3 319.6h0M544.3 314.7h0M587.5 241.6h0M592.9 305.0h0M562.9 287.4h0M565.0 286.5h0M560.0 298.5h0M624.9 259.8h0M615.1 217.7h0M652.7 291.5h0M531.3 275.0h0M652.6 281.0h0M611.9 282.1h0M558.8 331.3h0M531.9 301.3h0M620.3 216.9h0M571.4 331.2h0M551.0 323.6h0M648.1 258.9h0M541.4 269.6h0M540.4 260.8h0M544.8 273.5h0M657.6 282.0h0M532.6 280.5h0M593.1 330.6h0M605.7 221.4h0M648.5 291.9h0M568.4 333.2h0M564.7 332.6h0M597.7 305.7h0M586.4 293.7h0M575.7 270.6h0M634.6 212.7h0M640.9 315.2h0M654.2 273.9h0M632.9 253.0h0M525.8 294.9h0M575.2 298.9h0M647.5 311.7h0M624.9 280.7h0M589.1 333.6h0M546.8 304.6h0M636.6 295.9h0M603.1 287.3h0M529.0 257.9h0M607.3 219.2h0M566.3 320.6h0M554.3 302.0h0M537.0 310.1h0M661.5 278.1h0M596.3 303.5h0M530.1 296.4h0M580.7 330.7h0M646.7 317.4h0M591.8 305.9h0M572.7 333.4h0M529.4 253.3h0M554.0 276.6h0M550.7 319.4h0M643.0 243.3h0M587.0 298.2h0M634.3 315.4h0M577.0 338.1h0M551.2 316.8h0M570.5 320.6h0M585.1 296.1h0M548.2 308.7h0M553.9 300.5h0M596.4 224.0h0M520.3 262.8h0M526.1 263.8h0M587.0 304.0h0M662.1 295.7h0M628.5 318.7h0M627.1 284.6h0M589.2 340.6h0M561.8 324.3h0M622.2 306.6h0M585.1 279.6h0M560.6 309.0h0M534.8 300.9h0M565.9 313.8h0M527.0 295.9h0M562.3 263.2h0M574.5 270.0h0M652.2 270.8h0M570.9 331.8h0M579.2 302.7h0M578.2 286.8h0M567.3 273.6h0M645.2 243.3h0M620.6 218.8h0M623.5 276.1h0M529.7 293.8h0M608.4 295.0h0M540.9 266.1h0M654.6 306.2h0M583.4 315.4h0M523.7 300.7h0M557.3 326.6h0M582.5 301.2h0M640.0 218.6h0M520.3 256.5h0M645.1 293.0h0M556.9 307.0h0M573.3 272.5h0M534.0 300.1h0M571.7 304.6h0M519.9 293.3h0M556.0 299.1h0M535.8 279.7h0M612.4 278.6h0M603.3 221.8h0M620.2 276.6h0M590.9 280.8h0M593.0 332.4h0M583.4 302.4h0M524.0 285.4h0M609.5 219.4h0M538.2 294.5h0M588.6 305.1h0M589.4 322.9h0M600.1 285.9h0M638.0 229.9h0M549.6 293.8h0M567.6 330.7h0M641.3 303.6h0M545.3 317.5h0M560.0 303.4h0M646.0 266.8h0M647.6 292.0h0M577.2 330.3h0M532.4 283.4h0M636.9 306.6h0M620.2 295.4h0M642.4 238.2h0M643.9 254.2h0M572.4 274.8h0M579.8 277.2h0M603.0 281.0h0M610.4 300.6h0M538.1 280.3h0M600.7 224.3h0M529.0 264.2h0M547.1 272.3h0M605.7 277.8h0M538.9 315.3h0M531.6 271.8h0M564.4 234.7h0M641.7 283.2h0M591.3 325.7h0M636.0 215.6h0M562.8 327.0h0M636.7 322.2h0M583.6 283.6h0M651.9 300.8h0M524.4 288.9h0M535.9 254.3h0M544.3 324.5h0M637.4 278.2h0M655.8 263.6h0M645.4 244.0h0M527.1 253.1h0M625.3 300.1h0M565.0 307.7h0M640.9 294.0h0M648.3 297.9h0M627.4 321.8h0M641.5 286.6h0M534.3 269.4h0M630.4 262.4h0M607.8 287.3h0M542.1 287.0h0M569.0 332.3h0M585.6 326.2h0M626.9 215.0h0M541.4 278.4h0M574.3 281.4h0M523.6 299.1h0M568.8 304.9h0M609.3 301.7h0M589.3 244.5h0M531.3 292.8h0M588.0 304.1h0M557.6 313.9h0M591.9 310.9h0M569.1 284.9h0M523.1 251.7h0M610.0 278.9h0M523.1 293.3h0M611.7 274.9h0M654.6 288.0h0M566.4 271.5h0M554.9 308.2h0M575.3 276.9h0M581.2 276.9h0M576.6 289.9h0M529.9 293.9h0M589.5 313.9h0M520.8 296.7h0M587.4 300.7h0M601.1 282.6h0M587.1 302.8h0M562.7 296.9h0M638.4 295.8h0M540.8 309.6h0M638.9 320.0h0M661.6 295.7h0M619.8 275.5h0M550.8 290.1h0M566.1 298.9h0M594.6 323.5h0M557.9 332.7h0M524.2 262.7h0M528.3 295.5h0M620.7 216.1h0M585.6 324.9h0M556.0 271.2h0M612.0 313.7h0M618.7 301.5h0M544.1 313.4h0M611.9 258.8h0M587.6 279.7h0M546.9 324.1h0M652.0 298.9h0M618.1 217.9h0M650.1 293.6h0M569.0 302.8h0M653.3 296.2h0M556.8 300.3h0M610.1 306.4h0M630.3 329.5h0M600.2 275.4h0M534.8 283.4h0M570.8 279.4h0M547.0 279.9h0M545.2 317.5h0M559.1 280.8h0M580.4 312.3h0M569.0 323.8h0M638.2 275.8h0M552.0 317.5h0M548.1 268.2h0M616.3 215.8h0M569.7 272.8h0M601.8 286.4h0M602.7 290.1h0M608.8 219.8h0M604.4 312.4h0M604.7 222.7h0M556.6 261.3h0M660.5 268.5h0M583.7 254.3h0M578.8 318.8h0M560.4 327.0h0M579.9 326.9h0M626.4 215.2h0M556.0 280.1h0M634.9 272.6h0M559.2 318.5h0M609.5 298.6h0M562.7 322.2h0M538.2 295.8h0M579.3 328.6h0M581.0 336.5h0M561.3 327.9h0M538.9 289.2h0M594.7 326.1h0M534.1 289.0h0M564.2 329.2h0M554.5 261.1h0M615.2 314.3h0M655.7 263.2h0M615.8 218.0h0M540.7 320.3h0M588.2 332.9h0M564.6 272.0h0M593.8 305.3h0M592.8 305.2h0M654.6 300.4h0M637.9 316.2h0M566.3 334.9h0M550.5 319.8h0M562.2 328.4h0M548.5 285.5h0M581.5 332.5h0M626.0 293.5h0M605.4 303.5h0M655.2 301.6h0M658.0 294.7h0M616.6 219.6h0M542.6 263.2h0M590.5 314.3h0M578.5 273.3h0M628.1 276.0h0M546.7 313.8h0M557.4 304.7h0M587.3 324.7h0M597.3 310.1h0M589.8 311.3h0M528.0 291.4h0M531.3 296.9h0M538.0 264.8h0M632.1 214.1h0M614.1 230.3h0M583.7 288.3h0M573.3 290.6h0M651.4 278.1h0M578.0 299.8h0M563.1 276.6h0M641.7 275.8h0M594.9 226.7h0M581.5 324.7h0M606.6 238.4h0M587.1 328.8h0M555.4 326.5h0M570.0 275.8h0M639.5 309.9h0M635.7 296.3h0M579.7 285.2h0M662.6 278.3h0M657.9 296.2h0M553.3 317.5h0M633.6 313.9h0M581.5 291.8h0M575.5 291.5h0M577.8 296.2h0M600.2 304.6h0M639.2 287.0h0M570.2 324.4h0M634.9 306.6h0M538.2 310.2h0M660.2 290.5h0M609.4 322.2h0M628.0 257.0h0M556.6 270.6h0M603.1 222.8h0M592.2 310.0h0M608.2 278.5h0M534.3 300.7h0M596.0 282.4h0M584.0 298.1h0M586.1 316.1h0M530.4 299.9h0M590.8 316.3h0M530.0 277.5h0M527.8 308.3h0M629.4 300.0h0M529.4 265.8h0M655.7 286.4h0M565.4 322.7h0M604.4 298.3h0M641.1 238.1h0M586.8 226.2h0M571.2 294.9h0M532.7 260.3h0M566.3 279.6h0M519.9 255.8h0M557.9 284.3h0M623.5 216.1h0M656.4 298.5h0M551.5 326.7h0M626.8 330.0h0M637.1 293.3h0M533.1 289.7h0M575.6 298.2h0M523.9 263.2h0M630.2 308.0h0M593.2 330.3h0M526.9 265.0h0M554.8 277.4h0M569.6 280.1h0M638.0 282.2h0M544.3 270.5h0M521.8 255.8h0M597.7 339.4h0M625.5 319.3h0M536.5 312.6h0M533.0 292.5h0M573.1 273.1h0M535.2 315.5h0M569.0 282.7h0M539.6 316.6h0M576.7 240.3h0M644.3 270.8h0M575.7 328.0h0M556.0 270.9h0M549.7 301.8h0M591.7 283.9h0M561.3 286.1h0M596.8 334.7h0M539.8 268.3h0M586.8 305.3h0M597.8 225.5h0M579.8 288.8h0M641.2 309.6h0M527.6 287.6h0M569.5 303.0h0M553.2 261.3h0M634.7 284.3h0M522.6 290.7h0M558.3 285.8h0M639.8 225.0h0M554.4 300.2h0M583.9 286.8h0M535.7 259.8h0M584.4 284.9h0M576.9 307.5h0M530.1 254.1h0M552.7 279.8h0M542.2 314.0h0M538.9 272.7h0M548.2 326.8h0M657.0 295.1h0M564.5 322.6h0M590.5 282.8h0M622.9 285.5h0M585.1 323.5h0M641.9 285.5h0M588.8 302.3h0M553.4 314.5h0M551.9 319.4h0M588.8 319.5h0M558.2 285.2h0M640.9 285.6h0M664.0 265.7h0M574.6 332.5h0M654.6 269.2h0M589.3 279.6h0M611.5 304.6h0M611.5 294.9h0M543.5 290.2h0M583.1 307.4h0M651.5 291.0h0M559.0 288.5h0M544.5 323.8h0M648.3 313.2h0M572.4 291.2h0M647.9 264.0h0M648.1 275.7h0M614.0 254.7h0M570.6 321.3h0M569.7 313.2h0M587.3 291.6h0M542.3 298.9h0M596.5 315.9h0M539.1 317.6h0M580.7 282.0h0M560.4 330.5h0M610.2 300.0h0M568.2 284.4h0M596.6 334.6h0M618.0 309.2h0M594.4 295.8h0M571.9 271.1h0M657.8 264.8h0M533.3 279.6h0M524.2 287.6h0M538.1 306.6h0M617.6 287.8h0M535.8 275.6h0M623.8 301.7h0M659.1 299.4h0M663.0 289.1h0M618.2 300.3h0M605.6 300.8h0M571.7 283.7h0M590.5 326.1h0M589.8 276.7h0M549.6 303.5h0M646.0 315.6h0M646.3 310.1h0M621.6 326.8h0M528.9 273.6h0M612.4 283.8h0M600.6 221.5h0M631.0 318.6h0M584.0 325.8h0M577.4 273.1h0M564.7 270.9h0M594.8 331.9h0M654.4 271.9h0M618.9 307.7h0M549.0 282.2h0M620.2 307.4h0M543.2 261.1h0M616.9 306.9h0M627.1 312.0h0M590.5 298.2h0M581.6 283.9h0M587.6 299.0h0M553.1 297.4h0M576.0 321.5h0M544.3 294.1h0M537.8 258.5h0M567.6 273.9h0M622.2 255.3h0M555.8 303.6h0M627.1 270.9h0M631.6 277.0h0M659.1 278.3h0M593.2 318.6h0M527.6 266.0h0M625.9 324.6h0M617.6 321.5h0M638.5 279.8h0M587.7 288.8h0M571.1 327.2h0M568.5 295.0h0M557.2 316.9h0M615.5 319.7h0M575.1 283.7h0M524.8 293.2h0M587.9 326.3h0M586.3 226.0h0M539.1 281.7h0M622.6 317.3h0M533.9 295.8h0M658.8 273.9h0M564.3 299.6h0M611.4 290.6h0M598.1 322.8h0M533.7 306.1h0M582.5 328.0h0M588.5 293.0h0M561.3 272.1h0M580.1 329.2h0M520.4 275.2h0M532.2 289.4h0M584.6 332.3h0M543.9 298.6h0M624.5 253.3h0M608.5 314.3h0M624.0 309.9h0M553.1 264.4h0M637.3 315.1h0M536.0 288.6h0M529.9 291.3h0M595.3 323.8h0M603.2 255.3h0M540.0 258.1h0M580.3 281.8h0M574.4 260.8h0M542.0 309.5h0M613.7 323.8h0M605.8 313.9h0M664.1 291.6h0M572.8 307.7h0M566.7 295.6h0M525.1 284.6h0M653.5 285.8h0M598.2 330.9h0M567.6 324.1h0M543.6 302.0h0M573.8 285.4h0M563.5 320.9h0M635.4 254.1h0M529.7 287.1h0M655.0 276.6h0M548.7 262.9h0M651.7 272.9h0M528.2 252.6h0M612.9 253.3h0M617.5 300.8h0M541.7 318.6h0M641.9 277.7h0M608.7 319.4h0M554.4 285.1h0M575.7 286.7h0M593.4 322.3h0M575.5 317.8h0M548.8 283.1h0M574.2 302.8h0M597.6 316.8h0M565.8 283.1h0M640.9 285.5h0M551.7 311.4h0M657.7 295.7h0M558.9 315.6h0M574.3 298.3h0M588.3 337.4h0M620.7 317.7h0M589.5 305.6h0M564.5 253.0h0M621.1 241.4h0M563.0 285.3h0M580.7 293.2h0M579.7 290.7h0M616.2 285.0h0M585.7 315.6h0M618.4 300.2h0M638.4 324.0h0M571.6 323.0h0M544.2 272.2h0M628.5 320.2h0M533.0 292.7h0M547.6 271.3h0M621.2 296.9h0M593.1 290.5h0M531.0 260.1h0M605.0 289.4h0M657.9 274.1h0M661.7 283.9h0M596.6 340.0h0M615.4 286.9h0M546.9 301.6h0M554.7 277.5h0M655.8 271.8h0M575.9 323.4h0M536.8 257.1h0M534.8 260.0h0M596.8 223.9h0M621.6 321.9h0M520.8 271.9h0M622.4 215.4h0M602.4 290.3h0M576.4 297.2h0M612.0 320.4h0M618.7 322.5h0M621.9 286.6h0M627.2 318.5h0M560.6 298.5h0M539.7 287.9h0M520.0 265.9h0M552.5 298.7h0M612.3 284.7h0M540.2 264.0h0M583.0 328.2h0M662.4 275.4h0M595.0 339.2h0M613.1 304.8h0M618.3 278.5h0M575.6 289.1h0M606.2 235.4h0M574.5 329.6h0M627.0 316.4h0M597.7 296.9h0M618.7 318.9h0M617.5 284.5h0M529.8 288.9h0M578.9 317.5h0M565.3 265.1h0M520.2 261.0h0M606.9 291.3h0M571.3 327.7h0M530.9 262.5h0M555.5 280.0h0M532.9 304.7h0M642.2 238.6h0M627.0 217.1h0M660.0 290.0h0M577.0 296.8h0M608.2 288.3h0M587.7 322.3h0M652.9 293.2h0M570.0 236.8h0M558.1 322.0h0M627.1 283.4h0M575.2 279.6h0M526.7 305.2h0M628.1 322.1h0M633.3 308.4h0M524.6 277.2h0M576.9 316.3h0M610.7 306.7h0M587.1 323.1h0M641.9 303.1h0M597.9 296.9h0M582.5 333.7h0M641.3 310.7h0M533.0 258.1h0M648.5 286.3h0M575.2 304.2h0M536.2 261.4h0M597.7 230.5h0M587.2 289.2h0M554.2 299.5h0M540.9 286.3h0M612.2 323.7h0M588.2 320.1h0M543.4 314.6h0M612.1 220.2h0M529.8 259.3h0M577.8 300.2h0M664.0 281.5h0M602.7 255.0h0M579.2 275.3h0M545.6 280.3h0M529.6 287.9h0M594.9 323.6h0M564.1 329.3h0M587.1 228.2h0M604.1 290.1h0M576.2 279.3h0M581.0 278.8h0M584.9 254.5h0M619.7 294.4h0M556.4 272.9h0M523.8 260.9h0M573.4 304.4h0M548.7 316.6h0M641.0 223.3h0M601.1 289.2h0M541.6 309.5h0M639.3 285.7h0M588.0 279.0h0M587.0 301.8h0M566.4 322.3h0M628.3 276.1h0M580.6 317.1h0M586.6 333.4h0M566.3 261.5h0M549.0 260.9h0M591.3 331.7h0M639.1 257.3h0M628.9 298.0h0M611.3 221.9h0M537.3 261.6h0M572.7 323.7h0M595.5 330.4h0M599.0 295.0h0M642.2 307.6h0M593.2 333.7h0M538.2 305.0h0M593.9 224.2h0M656.0 294.0h0M590.8 331.6h0M627.2 277.4h0M545.9 284.8h0M575.3 288.4h0M529.6 301.0h0M576.1 328.6h0M560.8 313.6h0M582.9 280.5h0M565.7 276.3h0M630.4 281.4h0M526.7 274.7h0M586.3 311.3h0M650.1 301.0h0M580.9 299.5h0M599.5 279.3h0M634.5 277.4h0M580.3 289.0h0M573.8 331.2h0M557.9 282.2h0M616.7 275.3h0M664.0 267.5h0M524.3 288.2h0M632.2 299.0h0M570.0 287.9h0M556.9 306.9h0M581.2 306.4h0M580.4 324.2h0M571.8 270.7h0M571.1 290.4h0M577.3 244.8h0M525.5 257.5h0M595.2 306.8h0M569.0 293.0h0M596.9 300.4h0M577.6 301.7h0M524.4 285.9h0M551.0 272.2h0M597.4 310.2h0M549.5 297.9h0M542.4 302.7h0M607.3 221.7h0M592.9 339.5h0M553.2 312.8h0M656.4 265.3h0M579.6 290.6h0M582.5 329.6h0M546.0 299.8h0M576.8 284.5h0M641.0 273.3h0M631.8 213.6h0M638.3 320.8h0M620.7 294.4h0M582.3 303.3h0M646.8 280.2h0M554.2 308.2h0M548.3 258.8h0M582.6 279.3h0M582.9 327.5h0M582.9 305.2h0M524.7 274.2h0M558.5 292.2h0M528.8 300.9h0M645.8 310.9h0M576.8 238.1h0M530.7 272.9h0M639.2 302.7h0M660.4 292.9h0M603.1 295.2h0M525.4 287.6h0M631.6 328.7h0M526.4 298.0h0M534.0 312.6h0M632.8 282.8h0M576.1 268.7h0M589.7 325.6h0M632.2 303.9h0M601.2 231.2h0M576.6 312.3h0M560.7 264.6h0M645.3 316.6h0M531.0 276.2h0M575.6 304.8h0M521.8 288.1h0M535.6 283.8h0M594.4 336.3h0M560.6 295.0h0M658.7 263.4h0M580.1 300.8h0M571.6 271.9h0M635.6 289.4h0M580.5 271.7h0M572.1 336.3h0M604.9 310.3h0M587.9 227.5h0M637.8 304.1h0M639.7 301.3h0M585.4 320.6h0M526.6 299.1h0M520.5 263.9h0M594.9 330.5h0M594.5 308.0h0M585.5 323.8h0M549.7 282.8h0M587.8 337.0h0M607.6 286.1h0M526.2 298.0h0M549.5 284.7h0M532.6 268.7h0M583.2 337.3h0M642.5 284.3h0M559.0 274.7h0M531.6 284.0h0M578.7 318.0h0M574.0 333.7h0M619.6 278.3h0M574.6 228.0h0M622.0 312.1h0M551.8 297.5h0M579.2 294.7h0M534.1 305.8h0M533.1 291.9h0M597.8 282.4h0M544.5 261.2h0M574.7 307.2h0M604.4 290.9h0M593.4 294.6h0M622.0 310.3h0M534.9 300.1h0M621.4 281.5h0M587.3 293.0h0" stroke="#d3d3d3" stroke-width="3.5" stroke-linecap="round" fill="none"/>
<path d="M563.7 217.0h0M578.4 207.0h0M565.8 217.1h0" stroke="#ff9fa6" stroke-width="3.5" stroke-linecap="round" fill="none"/>
<path d="M554.6 293.3h0M547.5 305.9h0M559.2 289.1h0M548.0 300.9h0M553.6 292.3h0M533.7 285.8h0M542.5 299.9h0M569.7 308.3h0M547.9 312.2h0M542.6 288.6h0M550.8 308.1h0M577.9 302.6h0M549.6 306.4h0M553.7 301.5h0M538.0 305.0h0M556.2 302.7h0M567.4 312.6h0M569.6 302.2h0M530.8 314.1h0M531.7 283.8h0M571.3 306.7h0M569.2 302.4h0M555.0 309.2h0M569.1 299.8h0M574.1 298.1h0M549.2 306.6h0M549.4 304.7h0M535.4 311.6h0M548.8 306.1h0M558.1 305.1h0M552.2 314.2h0M525.1 290.4h0" stroke="#2e1f86" stroke-width="3.5" stroke-linecap="round" fill="none"/>
<path d="M543.5 211.0h0M546.4 215.6h0M548.1 215.6h0M547.5 227.4h0M549.0 215.2h0M548.7 232.1h0M543.7 226.0h0M547.3 224.5h0M547.3 234.6h0M551.7 223.8h0M546.0 223.0h0M550.9 225.8h0M546.1 216.3h0M553.1 231.3h0M548.5 226.7h0M552.3 233.3h0M534.2 231.1h0M553.4 221.9h0M550.7 211.2h0M548.7 217.5h0M532.2 230.5h0M549.1 220.9h0M548.1 212.5h0M551.9 227.5h0M532.3 230.1h0M531.0 236.6h0M543.3 212.6h0M548.6 230.8h0M539.6 235.5h0M544.9 231.5h0M545.8 217.3h0M536.5 231.1h0M548.8 213.8h0M552.2 230.4h0M530.1 232.3h0M552.7 217.9h0M530.4 237.9h0M530.5 231.5h0M538.5 237.7h0" stroke="#6e2c0c" stroke-width="3.5" stroke-linecap="round" fill="none"/>
<path d="M527.0 241.0h0" stroke="#d7a1b1" stroke-width="3.5" stroke-linecap="round" fill="none"/>
<path d="M526.5 237.4h0M526.0 238.2h0M532.0 231.3h0M531.6 229.9h0M530.8 236.5h0M524.2 240.4h0" stroke="#b468d8" stroke-width="3.5" stroke-linecap="round" fill="none"/>
<path d="M554.1 250.5h0M650.6 248.6h0M532.0 247.6h0M554.9 293.3h0M543.2 249.8h0M616.4 248.0h0M626.1 246.5h0M540.1 245.0h0M579.7 209.4h0M642.3 247.7h0M553.3 247.9h0M639.1 255.0h0M539.5 240.3h0M529.7 249.3h0M614.7 246.1h0M580.3 247.7h0M529.3 245.2h0M608.3 246.9h0M540.0 246.1h0M521.9 248.7h0M598.8 246.1h0M640.0 248.2h0M549.9 240.3h0M537.8 251.0h0M571.9 238.7h0M548.6 272.8h0M622.4 229.9h0M534.8 243.3h0M558.5 246.5h0M639.9 249.5h0M527.3 242.9h0M608.3 229.6h0M609.2 247.6h0M534.1 243.7h0M561.8 279.1h0M650.9 248.7h0M591.0 239.7h0M534.9 242.1h0M626.4 249.1h0M522.6 246.6h0M566.8 245.1h0M555.6 246.2h0M556.4 237.3h0M541.7 246.2h0M569.8 293.6h0M542.5 266.8h0M573.6 297.7h0M560.1 247.3h0M564.4 239.6h0M559.6 246.6h0M590.8 246.0h0M544.7 247.5h0M544.8 246.5h0M540.2 247.9h0M655.7 247.4h0M536.3 247.9h0M521.4 247.2h0M524.8 247.3h0M581.1 302.3h0M552.4 237.2h0M545.9 246.1h0M607.1 245.8h0M525.6 245.8h0M541.8 246.9h0M525.4 258.1h0M633.7 250.8h0M543.0 241.3h0M540.0 249.2h0M654.2 247.4h0M622.0 246.7h0M566.8 288.7h0M556.8 238.3h0M561.8 239.1h0M529.7 260.6h0M632.5 247.9h0M614.4 248.1h0M537.4 247.1h0M545.0 237.0h0M547.2 248.4h0M562.2 227.3h0M566.6 246.7h0M574.2 294.8h0M607.4 247.8h0M552.9 238.2h0M558.5 236.9h0M650.0 247.5h0M559.3 287.6h0M576.7 228.7h0M636.0 249.1h0M652.6 247.7h0M546.5 271.2h0M606.9 226.5h0M569.5 245.7h0M584.6 301.9h0M560.0 247.0h0M555.0 237.3h0M540.1 247.3h0M574.1 245.2h0M523.0 256.6h0M570.4 293.0h0M522.6 250.0h0M580.0 292.8h0M608.8 247.4h0M594.4 216.4h0M628.1 247.0h0M548.8 247.7h0M569.6 288.2h0M554.7 250.3h0M529.7 248.0h0M524.4 248.4h0M650.2 247.1h0M641.6 246.6h0M638.7 253.5h0M564.4 239.9h0M562.0 241.3h0M549.9 247.5h0M529.3 247.0h0M585.3 218.3h0M556.2 242.2h0M555.0 266.9h0M578.6 245.6h0M522.7 245.9h0M610.4 232.6h0M537.4 263.0h0M601.3 247.2h0M556.6 286.8h0M561.0 290.7h0M524.3 245.6h0M541.4 246.7h0M539.9 267.8h0M566.9 247.5h0M524.1 247.7h0M574.3 296.2h0M606.2 248.1h0M609.2 242.2h0M545.2 288.3h0M581.0 232.8h0M659.4 247.6h0M607.7 248.0h0M537.1 273.1h0" stroke="#8c539f" stroke-width="3.5" stroke-linecap="round" fill="none"/>
<path d="M568.5 213.0h0M564.3 215.7h0M566.8 218.3h0M560.8 220.7h0M582.6 203.5h0M581.0 205.1h0M584.7 202.1h0M580.4 206.1h0M568.6 213.5h0M559.5 218.5h0M589.0 199.5h0M589.0 200.1h0M591.9 198.5h0M584.1 206.0h0M566.8 213.7h0M575.6 209.4h0M569.2 213.8h0M564.5 214.5h0M572.4 215.4h0M585.7 222.6h0M583.4 203.9h0M578.0 208.1h0M569.0 215.8h0M581.3 205.7h0M585.4 203.6h0M561.0 219.3h0M567.4 224.4h0" stroke="#2de3f9" stroke-width="3.5" stroke-linecap="round" fill="none"/>
<path d="M546.0 226.0h0M524.0 244.0h0" stroke="#d7a1b1" stroke-width="3.5" stroke-linecap="round" fill="none"/>
<path d="M546.0 229.0h0M520.2 247.2h0" stroke="#ff9fa6" stroke-width="3.5" stroke-linecap="round" fill="none"/>
<path d="M568.6 245.6h0M526.2 246.9h0M545.2 251.4h0M564.0 246.9h0M602.7 248.0h0M553.9 241.0h0M571.6 289.3h0M583.3 226.2h0M556.0 248.4h0M541.8 244.1h0M535.7 248.0h0M524.7 247.6h0M541.3 276.7h0M525.9 247.6h0M629.0 248.1h0M569.6 246.7h0M591.9 227.2h0M572.8 245.1h0M579.3 247.4h0M526.3 248.2h0M571.5 285.0h0M561.7 292.4h0M578.8 304.6h0M608.6 245.7h0M562.3 240.1h0M635.2 246.7h0M563.6 234.0h0M526.6 245.8h0M562.0 228.2h0M578.4 294.3h0M625.5 248.0h0M559.7 283.3h0M638.8 245.7h0M530.3 247.0h0M596.2 230.1h0M606.8 231.9h0M651.9 246.8h0M520.2 247.6h0M569.2 249.0h0M553.0 278.5h0M578.1 297.2h0M615.5 248.3h0M582.1 248.5h0M571.4 290.9h0M601.8 255.8h0M538.0 251.2h0M556.6 236.3h0M629.8 246.2h0M560.2 247.1h0M522.9 247.9h0M542.3 245.5h0M574.0 224.2h0M525.4 246.0h0M535.2 246.8h0M530.7 247.5h0M560.0 281.3h0M567.4 247.8h0M554.0 244.0h0M632.0 247.2h0M542.8 277.8h0M653.0 248.2h0M537.9 247.6h0M566.3 249.2h0M570.0 247.5h0M660.7 247.2h0M612.1 247.0h0M572.9 248.0h0M645.7 247.3h0M525.5 247.9h0M583.6 247.0h0M597.5 247.8h0M538.5 245.4h0M561.8 284.4h0M541.3 248.1h0M530.6 248.2h0M576.9 297.7h0M554.9 241.6h0M560.8 249.6h0M621.6 248.2h0M564.7 290.4h0M551.6 238.1h0M562.2 245.4h0M526.2 247.7h0M553.9 274.4h0M563.0 239.3h0M527.2 250.4h0M553.2 248.4h0M624.0 250.1h0M532.6 247.1h0M529.5 247.7h0M608.4 247.5h0M567.1 246.8h0M563.1 246.0h0M533.4 246.4h0M528.6 259.0h0M570.5 248.7h0M552.5 284.1h0M653.6 247.1h0M629.2 248.4h0M546.2 240.3h0M637.7 247.3h0M582.2 308.0h0M524.7 246.8h0M522.2 249.6h0M574.1 247.0h0M550.5 275.6h0M554.3 244.4h0M548.0 240.3h0M557.4 285.2h0M570.8 244.7h0M621.8 247.6h0M551.1 250.2h0M635.9 248.5h0M623.0 248.7h0M548.6 237.2h0M589.4 300.6h0M637.3 249.1h0M576.4 211.1h0M523.5 265.1h0M527.7 245.9h0M576.5 283.8h0M535.8 270.8h0M573.7 297.1h0M594.0 245.3h0M548.7 236.6h0M537.7 264.2h0M544.9 241.7h0M540.2 256.3h0M629.5 246.5h0M528.6 254.2h0M619.1 247.1h0M548.2 238.6h0M575.2 306.9h0M527.9 261.3h0M562.5 249.1h0" stroke="#8c539f" stroke-width="3.5" stroke-linecap="round" fill="none"/>
<path d="M564.4 214.9h0M566.3 219.7h0M568.7 216.6h0M570.4 213.4h0M576.7 211.9h0M581.7 205.1h0M576.5 208.8h0M567.9 211.8h0M584.4 204.1h0M584.0 207.5h0M571.2 211.1h0M571.1 212.3h0M566.9 213.6h0M561.2 222.7h0M589.6 200.7h0M557.9 219.3h0M561.3 217.6h0M568.3 216.9h0M575.0 219.0h0M582.7 207.2h0M567.8 217.3h0M588.8 198.3h0M570.7 213.3h0M566.9 213.9h0M579.1 208.2h0M565.7 215.2h0" stroke="#2de3f9" stroke-width="3.5" stroke-linecap="round" fill="none"/>
<path d="M536.4 234.4h0M537.9 234.1h0M549.5 220.2h0M553.8 227.5h0M538.9 237.2h0M530.9 237.8h0M529.3 234.7h0M549.0 225.0h0M553.7 220.4h0M540.2 236.5h0M547.1 228.0h0M551.6 213.0h0M547.6 223.2h0M552.2 215.0h0M544.3 214.2h0M550.1 230.0h0M538.8 235.0h0M550.0 221.2h0M539.9 236.7h0M553.3 217.3h0M552.7 218.6h0M553.4 226.2h0M549.1 233.2h0M548.2 214.8h0M544.0 232.6h0M543.2 218.4h0M547.5 220.5h0M550.3 234.8h0M548.8 236.7h0M544.4 235.4h0M547.6 236.9h0M532.6 234.2h0M547.7 229.7h0M535.4 235.1h0" stroke="#6e2c0c" stroke-width="3.5" stroke-linecap="round" fill="none"/>
<path d="M540.9 312.5h0M554.5 319.5h0M547.1 304.9h0M556.0 306.3h0M568.3 293.5h0M535.3 297.2h0M556.7 307.3h0M543.5 300.0h0M558.3 309.9h0M545.9 306.8h0M554.2 301.1h0M546.4 293.7h0M557.1 304.4h0M546.5 295.2h0M577.0 306.9h0M541.7 289.8h0M561.2 304.0h0M551.9 297.3h0M557.3 297.3h0M546.3 303.5h0M540.7 288.4h0M538.5 296.8h0M530.8 284.6h0M533.1 289.7h0M556.3 305.7h0M551.3 306.3h0M530.1 312.5h0M568.7 291.6h0M521.5 290.5h0M550.2 293.8h0M553.6 302.2h0M531.9 302.7h0M564.9 317.4h0M570.5 313.5h0M579.6 309.4h0M574.0 298.3h0M551.0 303.0h0M572.1 307.0h0M577.8 306.2h0M568.9 305.3h0M555.1 305.7h0M567.5 307.8h0" stroke="#2e1f86" stroke-width="3.5" stroke-linecap="round" fill="none"/>
<path d="M524.2 240.8h0M531.1 235.9h0M522.7 243.4h0M521.1 245.9h0M532.7 231.8h0M527.8 238.1h0M533.2 233.1h0" stroke="#b468d8" stroke-width="3.5" stroke-linecap="round" fill="none"/>
<path d="M569.4 304.7h0M529.2 288.1h0M547.2 296.4h0M572.2 296.7h0M541.2 305.9h0M536.1 303.2h0M578.0 311.0h0M562.9 310.0h0M527.6 295.4h0M567.4 317.0h0M520.0 291.0h0M551.1 310.1h0M550.9 299.6h0M528.7 291.3h0M560.1 311.7h0M556.1 298.9h0M547.1 299.1h0M555.1 307.2h0M539.0 317.0h0M545.3 289.8h0M523.0 292.0h0M549.8 306.9h0M547.7 317.6h0M545.3 311.4h0M552.7 317.3h0M548.6 314.8h0M547.1 307.7h0M552.5 302.2h0M540.3 317.4h0" stroke="#2e1f86" stroke-width="3.5" stroke-linecap="round" fill="none"/>
<path d="M534.3 231.3h0M526.5 240.3h0M526.9 236.8h0M529.9 237.4h0M532.1 232.3h0M528.2 235.1h0M527.0 239.8h0M522.7 245.0h0M527.3 240.3h0" stroke="#b468d8" stroke-width="3.5" stroke-linecap="round" fill="none"/>
<path d="M547.6 218.7h0M546.0 227.4h0M552.0 213.6h0M543.2 213.9h0M548.5 221.1h0M549.8 225.0h0M549.1 216.4h0M549.4 222.2h0M546.2 209.7h0M532.3 233.9h0M547.8 217.9h0M551.5 216.4h0M532.5 238.7h0M532.9 230.2h0M548.4 224.5h0M537.9 235.5h0M549.8 210.0h0M547.1 217.7h0M543.2 213.5h0M549.3 210.5h0M544.1 231.7h0M550.2 234.4h0M531.3 231.3h0M546.9 215.7h0M550.9 222.7h0M553.0 215.1h0M537.3 237.3h0M551.9 216.2h0M553.6 219.9h0M552.8 218.1h0M549.0 229.4h0M544.5 235.0h0M550.2 217.8h0M536.1 234.4h0M550.6 214.8h0M549.2 235.0h0M552.5 211.1h0M532.7 234.8h0M544.3 226.5h0M548.4 219.8h0" stroke="#6e2c0c" stroke-width="3.5" stroke-linecap="round" fill="none"/>
<path d="M562.7 218.4h0M561.2 222.2h0M568.0 216.3h0M557.8 220.3h0M562.1 221.2h0M565.0 218.9h0M563.7 217.3h0M570.6 216.0h0M564.3 217.4h0M559.3 219.2h0M588.4 202.5h0M573.3 209.5h0M567.1 217.0h0M567.3 215.2h0M571.9 212.0h0M581.7 206.7h0M589.7 201.3h0M574.0 213.9h0M582.4 206.9h0M591.5 197.7h0M562.5 217.7h0M570.0 212.5h0M582.7 203.2h0M581.7 203.1h0M584.2 202.8h0M589.0 199.7h0M578.4 209.6h0M571.7 214.6h0M571.5 214.4h0M562.4 219.9h0M572.3 210.9h0M577.8 208.6h0M576.1 207.4h0" stroke="#2de3f9" stroke-width="3.5" stroke-linecap="round" fill="none"/>
<path d="M531.1 239.7h0M567.1 283.7h0M553.8 248.4h0M534.9 247.8h0M543.3 247.9h0M524.1 246.9h0M571.0 294.2h0M574.3 298.8h0M560.3 237.1h0M575.2 302.6h0M555.0 285.8h0M576.3 248.5h0M569.2 223.5h0M578.6 295.9h0M548.2 260.5h0M555.5 248.4h0M568.0 249.1h0M564.0 237.6h0M608.9 247.2h0M640.7 246.5h0M618.1 247.0h0M568.9 298.8h0M540.2 246.6h0M522.1 247.3h0M525.5 246.8h0M622.3 248.3h0M600.4 247.5h0M551.2 245.7h0M596.7 224.1h0M558.3 247.8h0M538.5 245.5h0M569.1 216.1h0M523.6 246.9h0M530.0 251.8h0M553.5 282.8h0M546.2 249.8h0M560.8 291.1h0M542.5 243.7h0M564.2 240.9h0M612.4 249.7h0M610.4 248.1h0M601.0 260.6h0M540.1 240.2h0M549.1 249.0h0M544.4 250.1h0M619.0 238.1h0M522.5 258.3h0M631.7 247.4h0M578.5 244.0h0M565.6 244.6h0M578.0 247.8h0M581.1 223.0h0M613.1 248.6h0M551.4 246.6h0M565.5 302.2h0M625.6 247.5h0M552.5 239.0h0M586.0 247.0h0M543.6 246.5h0M580.1 298.1h0M593.6 247.8h0M588.4 229.4h0M663.7 247.1h0M544.4 247.5h0M586.3 248.8h0M558.4 293.2h0M540.9 248.1h0M553.6 282.7h0M536.1 256.5h0M659.0 248.2h0M614.7 247.2h0M615.8 247.5h0M600.7 250.4h0M635.4 246.1h0M533.0 246.4h0M528.3 248.7h0M627.3 247.4h0M559.3 240.9h0M554.7 246.4h0M658.2 247.3h0M525.8 246.8h0M539.6 247.2h0M539.4 248.8h0M583.7 206.6h0M545.6 248.5h0M531.1 265.7h0M643.2 246.5h0M629.7 248.5h0M522.7 248.0h0M540.4 242.4h0M660.0 245.4h0M578.9 304.9h0M560.8 269.6h0M554.9 277.0h0M536.8 251.7h0M561.0 247.4h0M554.2 246.5h0M524.4 246.6h0M627.9 256.9h0M546.9 245.8h0M561.9 240.0h0M609.4 230.0h0M540.8 248.8h0M608.7 246.5h0M543.5 240.1h0M592.3 220.4h0M555.5 248.3h0M568.6 243.0h0M568.4 300.2h0M616.6 259.3h0M550.8 237.2h0M560.0 280.1h0M652.6 248.5h0M560.9 283.0h0M558.7 247.7h0M560.6 241.4h0M535.3 241.1h0M552.7 247.9h0M553.6 274.6h0M588.3 215.9h0M555.8 250.1h0M540.5 257.9h0M574.3 300.5h0M565.7 238.9h0M616.5 247.7h0M588.7 244.8h0M568.3 246.3h0M546.8 246.6h0M530.3 253.0h0M577.2 247.8h0M567.2 240.9h0M612.2 247.3h0M613.8 247.5h0" stroke="#8c539f" stroke-width="3.5" stroke-linecap="round" fill="none"/>
<path d="M519.5 248.0h0M582.4 206.2h0M519.8 249.0h0M580.6 207.1h0" stroke="#ff9fa6" stroke-width="3.5" stroke-linecap="round" fill="none"/>
<text x="592.7" y="30.1" font-size="6.7" text-anchor="middle" font-weight="normal" fill="#231f20" >A1</text>
<text x="542.6" y="44.0" font-size="6.7" text-anchor="middle" font-weight="normal" fill="#231f20" >A2</text>
<text x="511.6" y="84.4" font-size="6.7" text-anchor="middle" font-weight="normal" fill="#231f20" >A3</text>
<text x="511.8" y="128.3" font-size="6.7" text-anchor="middle" font-weight="normal" fill="#231f20" >A4</text>
<text x="540.0" y="165.9" font-size="6.7" text-anchor="middle" font-weight="normal" fill="#231f20" >A5</text>
<text x="591.3" y="181.6" font-size="6.7" text-anchor="middle" font-weight="normal" fill="#231f20" >A6</text>
<text x="639.2" y="165.9" font-size="6.7" text-anchor="middle" font-weight="normal" fill="#231f20" >A7</text>
<text x="668.0" y="128.3" font-size="6.7" text-anchor="middle" font-weight="normal" fill="#231f20" >A8</text>
<text x="668.9" y="83.5" font-size="6.7" text-anchor="middle" font-weight="normal" fill="#231f20" >A9</text>
<text x="639.9" y="42.6" font-size="6.7" text-anchor="middle" font-weight="normal" fill="#231f20" >A10</text>
<text x="592.3" y="193.8" font-size="6.7" text-anchor="middle" font-weight="normal" fill="#231f20" >A1</text>
<text x="542.6" y="207.6" font-size="6.7" text-anchor="middle" font-weight="normal" fill="#231f20" >A2</text>
<text x="508.0" y="248.6" font-size="6.7" text-anchor="middle" font-weight="normal" fill="#231f20" >A3</text>
<text x="508.0" y="292.6" font-size="6.7" text-anchor="middle" font-weight="normal" fill="#231f20" >A4</text>
<text x="532.8" y="329.8" font-size="6.7" text-anchor="middle" font-weight="normal" fill="#231f20" >A5</text>
<text x="591.3" y="352.0" font-size="6.7" text-anchor="middle" font-weight="normal" fill="#231f20" >A6</text>
<text x="648.2" y="329.8" font-size="6.7" text-anchor="middle" font-weight="normal" fill="#231f20" >A7</text>
<text x="673.9" y="292.1" font-size="6.7" text-anchor="middle" font-weight="normal" fill="#231f20" >A8</text>
<text x="674.7" y="247.3" font-size="6.7" text-anchor="middle" font-weight="normal" fill="#231f20" >A9</text>
<text x="641.8" y="206.6" font-size="6.7" text-anchor="middle" font-weight="normal" fill="#231f20" >A10</text>
<circle cx="526.4" cy="361.0" r="2.1" fill="#2de3f9"/>
<text x="531.4" y="363.4" font-size="6.75" text-anchor="start" font-weight="normal" fill="#231f20" >Africa</text>
<circle cx="573.7" cy="361.0" r="2.1" fill="#8a3b12"/>
<text x="578.7" y="363.4" font-size="6.75" text-anchor="start" font-weight="normal" fill="#231f20" >East Asia</text>
<circle cx="631.1" cy="361.0" r="2.1" fill="#b468d8"/>
<text x="636.1" y="363.4" font-size="6.75" text-anchor="start" font-weight="normal" fill="#231f20" >South Asia</text>
<circle cx="515.9" cy="372.6" r="2.1" fill="#d3d3d3"/>
<text x="520.9" y="375.0" font-size="6.75" text-anchor="start" font-weight="normal" fill="#231f20" >MXB</text>
<circle cx="556.9" cy="372.6" r="2.1" fill="#3a2a92"/>
<text x="561.9" y="375.0" font-size="6.75" text-anchor="start" font-weight="normal" fill="#231f20" >Americas (Zapotecos)</text>
<circle cx="644.9" cy="372.6" r="2.1" fill="#d7a1b1"/>
<text x="649.9" y="375.0" font-size="6.75" text-anchor="start" font-weight="normal" fill="#231f20" >Middle East</text>
<circle cx="533.7" cy="385.1" r="2.1" fill="#9457a8"/>
<text x="538.7" y="387.5" font-size="6.75" text-anchor="start" font-weight="normal" fill="#231f20" >Americas (1000 Genomes)</text>
<circle cx="633.8" cy="385.1" r="2.1" fill="#ff9fa6"/>
<text x="638.8" y="387.5" font-size="6.75" text-anchor="start" font-weight="normal" fill="#231f20" >Europe</text>
<text x="108.8" y="292.3" font-size="8" text-anchor="middle" font-weight="normal" fill="#231f20" >Reference panels</text>
<line x1="36.7" y1="294.5" x2="180.8" y2="294.5" stroke="#3c3c3c" stroke-width="0.9"/>
<text x="37.6" y="305.7" font-size="8.2" text-anchor="start" font-weight="normal" fill="#231f20" >With ancestral geographic origins from</text>
<line x1="181.5" y1="295.5" x2="181.5" y2="310.8" stroke="#3c3c3c" stroke-width="0.9"/>
<text x="314.7" y="291.7" font-size="8" text-anchor="middle" font-weight="normal" fill="#231f20" >MXB</text>
<line x1="183" y1="294.5" x2="447.8" y2="294.5" stroke="#3c3c3c" stroke-width="0.9"/>
<text x="186.9" y="305.4" font-size="8" text-anchor="start" font-weight="normal" fill="#231f20" >North</text>
<line x1="211.2" y1="302.9" x2="396" y2="302.9" stroke="#3c3c3c" stroke-width="0.9"/>
<path d="M395.2,300.8 L399.4,302.9 L395.2,305.0 Z" fill="#3c3c3c"/>
<text x="403.8" y="305.4" font-size="8" text-anchor="start" font-weight="normal" fill="#231f20" >Southeast</text>
<text font-size="8.2" text-anchor="middle" fill="#231f20" transform="translate(20.4 336.0) rotate(-90)">Unsupervised clustering</text>
<text font-size="8.2" text-anchor="middle" fill="#231f20" transform="translate(29.6 334.6) rotate(-90)">(<tspan font-style="italic">K</tspan> = 5)</text>
<rect x="36.1" y="312.6" width="30.1" height="49.39999999999998" fill="#2ce6fd"/>
<path d="M50.7,312.6 C57,312.6 62,314.5 63.5,319.5 C65,324 65.4,330 65.8,362.0 L66.2,362.0 L66.2,312.6 Z" fill="#fe9598"/>
<rect x="56" y="312.6" width="10.2" height="0.8" fill="#b46cce" opacity="0.8"/>
<rect x="66.2" y="312.6" width="19.299999999999997" height="49.39999999999998" fill="#fe9598"/>
<rect x="66.2" y="312.6" width="19.299999999999997" height="2.3" fill="#b46cce"/>
<rect x="70" y="314.1" width="0.5" height="1.6" fill="#74330d" opacity="0.35"/>
<rect x="73" y="314.1" width="0.5" height="2.1" fill="#74330d" opacity="0.35"/>
<rect x="76.5" y="314.1" width="0.5" height="1.5" fill="#74330d" opacity="0.35"/>
<rect x="79" y="314.1" width="0.5" height="1.6" fill="#74330d" opacity="0.35"/>
<rect x="82" y="314.1" width="0.5" height="2.4" fill="#74330d" opacity="0.35"/>
<path d="M66.2,312.6 L67.5,314 L69.5,320 L71.6,326.5 L73.7,333.2 L75.8,340 L78.2,346.6 L81,350.6 L83.8,354 L86,356 L85.5,362.0 L66.2,362.0 Z" fill="#2ce6fd"/>
<path d="M66.2,312.6 L66.7,313.6 L68.8,319.1 L70.9,326.1 L73,333.1 L75.1,340 L77.2,347 L80,351.2 L82.7,354.7 L85.3,357.5 L85.5,362.0 L66.2,362.0 Z" fill="#332383"/>
<rect x="85.5" y="312.6" width="23.099999999999994" height="49.39999999999998" fill="#fe9598"/>
<path d="M85.5,312.6 L108.6,312.6 L108.6,314.4 L95,315.2 L85.5,315.8 Z" fill="#b46cce"/>
<path d="M86.2,315.5 L89.8,315 L89.5,317.2 L87.5,318.3 L86.3,317.8 Z" fill="#74330d"/>
<rect x="108.6" y="312.6" width="7.800000000000011" height="49.39999999999998" fill="#fe9598"/>
<path d="M108.6,312.6 L116.4,312.6 L116.4,318.4 L112,318.9 L108.6,319.1 Z" fill="#b46cce"/>
<path d="M108.9,352.6 L110.2,357.5 L115.3,362.0 L108.9,362.0 Z" fill="#2ce6fd"/>
<rect x="116.4" y="312.6" width="31.0" height="49.39999999999998" fill="#b46cce"/>
<path d="M116.6,324.7 L117.4,331 L118.2,335.9 L120.3,340 L123.1,344.2 L127.3,349.8 L132.9,352.6 L139.8,356.1 L146.8,358.2 L147.4,358.4 L147.4,362.0 L116.6,362.0 Z" fill="#74330d"/>
<path d="M116.6,324.7 L117.4,336 L118.8,340.5 L120.5,344.5 L122.5,348.5 L125,352.5 L128,355.5 L132,357.8 L137,359.6 L142,360.6 L147.4,361.2 L147.4,362.0 L116.6,362.0 Z" fill="#fe9598"/>
<rect x="127.4" y="349.9" width="0.6" height="4.8" fill="#74330d" opacity="0.85"/>
<rect x="143.4" y="357.2" width="0.8" height="4.8" fill="#74330d" opacity="0.85"/>
<rect x="133.2" y="352.8" width="0.9" height="3.3" fill="#74330d" opacity="0.85"/>
<rect x="139.5" y="356.0" width="0.6" height="3.3" fill="#74330d" opacity="0.85"/>
<rect x="132.5" y="352.4" width="0.8" height="2.9" fill="#74330d" opacity="0.85"/>
<rect x="125.5" y="347.5" width="0.7" height="2.3" fill="#74330d" opacity="0.85"/>
<rect x="141.5" y="356.6" width="0.6" height="5.4" fill="#74330d" opacity="0.85"/>
<rect x="119.3" y="338.1" width="1.2" height="2.7" fill="#74330d" opacity="0.85"/>
<rect x="139.9" y="356.1" width="0.9" height="5.9" fill="#74330d" opacity="0.85"/>
<rect x="142.5" y="356.9" width="1.0" height="2.8" fill="#74330d" opacity="0.85"/>
<rect x="141.9" y="356.7" width="1.0" height="4.1" fill="#74330d" opacity="0.85"/>
<rect x="127.1" y="349.5" width="0.7" height="6.6" fill="#74330d" opacity="0.85"/>
<rect x="123.5" y="344.7" width="0.6" height="8.9" fill="#74330d" opacity="0.85"/>
<rect x="124.7" y="346.4" width="0.9" height="3.8" fill="#74330d" opacity="0.85"/>
<rect x="123.5" y="344.8" width="0.7" height="2.3" fill="#74330d" opacity="0.85"/>
<rect x="131.1" y="351.7" width="1.2" height="2.1" fill="#74330d" opacity="0.85"/>
<rect x="121.1" y="341.2" width="1.2" height="5.6" fill="#74330d" opacity="0.85"/>
<rect x="140.8" y="356.4" width="1.2" height="5.6" fill="#74330d" opacity="0.85"/>
<rect x="137.4" y="354.9" width="0.9" height="5.9" fill="#74330d" opacity="0.85"/>
<rect x="126.0" y="348.1" width="0.8" height="8.6" fill="#74330d" opacity="0.85"/>
<rect x="138.4" y="355.4" width="0.6" height="3.3" fill="#74330d" opacity="0.85"/>
<rect x="133.8" y="353.1" width="0.8" height="8.9" fill="#74330d" opacity="0.85"/>
<rect x="125.1" y="346.9" width="1.2" height="4.9" fill="#74330d" opacity="0.85"/>
<rect x="124.4" y="345.9" width="1.0" height="4.9" fill="#74330d" opacity="0.85"/>
<rect x="125.1" y="346.9" width="0.6" height="5.3" fill="#74330d" opacity="0.85"/>
<rect x="141.5" y="356.6" width="0.6" height="2.7" fill="#74330d" opacity="0.85"/>
<rect x="129.6" y="351.0" width="1.1" height="7.3" fill="#74330d" opacity="0.85"/>
<rect x="144.8" y="357.6" width="0.6" height="4.4" fill="#74330d" opacity="0.85"/>
<rect x="132.7" y="352.5" width="0.8" height="7.2" fill="#74330d" opacity="0.85"/>
<rect x="137.5" y="354.9" width="0.9" height="5.3" fill="#74330d" opacity="0.85"/>
<rect x="144.3" y="357.4" width="0.9" height="4.6" fill="#74330d" opacity="0.85"/>
<rect x="131.8" y="352.0" width="1.1" height="8.8" fill="#74330d" opacity="0.85"/>
<rect x="128.4" y="350.3" width="0.8" height="5.1" fill="#74330d" opacity="0.85"/>
<rect x="120.9" y="341.0" width="0.9" height="5.0" fill="#74330d" opacity="0.85"/>
<rect x="128.3" y="350.3" width="0.6" height="5.6" fill="#74330d" opacity="0.85"/>
<rect x="144.0" y="357.4" width="0.5" height="4.6" fill="#74330d" opacity="0.85"/>
<rect x="126.7" y="348.9" width="1.1" height="7.0" fill="#74330d" opacity="0.85"/>
<rect x="134.8" y="353.6" width="0.9" height="2.5" fill="#74330d" opacity="0.85"/>
<rect x="118.8" y="337.1" width="0.7" height="3.0" fill="#74330d" opacity="0.85"/>
<rect x="136.0" y="354.2" width="0.6" height="4.3" fill="#74330d" opacity="0.85"/>
<path d="M116.6,357 L118.5,360 L119.5,362.0 L116.6,362.0 Z" fill="#2ce6fd"/>
<rect x="147.4" y="312.6" width="34.19999999999999" height="49.39999999999998" fill="#74330d"/>
<rect x="147.4" y="312.6" width="34.19999999999999" height="1.1" fill="#b46cce"/>
<path d="M147.4,312.6 L151.5,312.6 L150.5,315 L149,317.5 L147.4,318.5 Z" fill="#b46cce"/>
<path d="M147.5,341 L149.2,346 L149.4,357 L147.5,358 Z" fill="#fe9598"/>
<path d="M147.5,358 L149.6,358.5 L149.6,362.0 L147.5,362.0 Z" fill="#332383"/>
<rect x="181.6" y="312.6" width="267.1" height="49.39999999999998" fill="#fe9598"/>
<path d="M181.70,362.0 L181.70,341.30 L182.13,339.86 L182.56,338.79 L182.99,337.83 L183.41,336.93 L183.84,336.08 L184.27,335.26 L184.70,334.47 L185.13,333.69 L185.56,332.94 L185.99,332.21 L186.41,331.49 L186.84,330.78 L187.27,330.09 L187.70,329.40 L187.70,312.6 L187.70,362.0 Z" fill="#2ce6fd"/>
<path d="M181.70,362.0 L181.70,344.90 L181.70,342.90 L182.13,341.46 L182.56,340.39 L182.99,339.43 L183.41,338.53 L183.84,337.68 L184.27,336.86 L184.70,336.07 L185.13,335.29 L185.56,334.54 L185.99,333.81 L186.41,333.09 L186.84,332.38 L187.27,331.69 L187.70,331.00 L187.70,331.00 L187.70,362.0 Z" fill="#332383"/>
<path d="M187.70,362.0 L187.70,346.10 L188.11,344.16 L188.53,342.73 L188.94,341.43 L189.36,340.23 L189.77,339.08 L190.19,337.98 L190.60,336.91 L191.01,335.87 L191.43,334.86 L191.84,333.88 L192.26,332.91 L192.67,331.96 L193.09,331.02 L193.50,330.10 L193.50,312.6 L193.50,362.0 Z" fill="#2ce6fd"/>
<path d="M187.70,362.0 L187.70,349.70 L187.70,347.70 L188.11,345.76 L188.53,344.33 L188.94,343.03 L189.36,341.83 L189.77,340.68 L190.19,339.58 L190.60,338.51 L191.01,337.47 L191.43,336.46 L191.84,335.48 L192.26,334.51 L192.67,333.56 L193.09,332.62 L193.50,331.70 L193.50,331.70 L193.50,362.0 Z" fill="#332383"/>
<path d="M193.50,362.0 L193.50,347.50 L194.01,343.63 L194.51,340.75 L195.02,338.17 L195.53,335.75 L196.04,333.46 L196.54,331.25 L197.05,329.12 L197.56,327.05 L198.06,325.03 L198.57,323.05 L199.08,321.11 L199.59,319.21 L200.09,317.34 L200.60,315.50 L200.60,312.6 L200.60,362.0 Z" fill="#2ce6fd"/>
<path d="M193.50,362.0 L193.50,351.10 L193.50,349.10 L194.01,345.23 L194.51,342.35 L195.02,339.77 L195.53,337.35 L196.04,335.06 L196.54,332.85 L197.05,330.72 L197.56,328.65 L198.06,326.63 L198.57,324.65 L199.08,322.71 L199.59,320.81 L200.09,318.94 L200.60,317.10 L200.60,317.10 L200.60,362.0 Z" fill="#332383"/>
<path d="M200.60,362.0 L200.60,346.80 L200.95,344.44 L201.30,342.69 L201.65,341.11 L202.00,339.64 L202.35,338.24 L202.70,336.90 L203.05,335.60 L203.40,334.34 L203.75,333.11 L204.10,331.90 L204.45,330.72 L204.80,329.56 L205.15,328.42 L205.50,327.30 L205.50,312.6 L205.50,362.0 Z" fill="#2ce6fd"/>
<path d="M200.60,362.0 L200.60,350.40 L200.60,348.40 L200.95,346.04 L201.30,344.29 L201.65,342.71 L202.00,341.24 L202.35,339.84 L202.70,338.50 L203.05,337.20 L203.40,335.94 L203.75,334.71 L204.10,333.50 L204.45,332.32 L204.80,331.16 L205.15,330.02 L205.50,328.90 L205.50,328.90 L205.50,362.0 Z" fill="#332383"/>
<path d="M205.50,362.0 L205.50,338.40 L205.92,337.06 L206.34,336.06 L206.76,335.16 L207.19,334.33 L207.61,333.53 L208.03,332.76 L208.45,332.02 L208.87,331.31 L209.29,330.61 L209.71,329.92 L210.14,329.25 L210.56,328.59 L210.98,327.94 L211.40,327.30 L211.40,312.6 L211.40,362.0 Z" fill="#2ce6fd"/>
<path d="M205.50,362.0 L205.50,342.00 L205.50,340.00 L205.92,338.66 L206.34,337.66 L206.76,336.76 L207.19,335.93 L207.61,335.13 L208.03,334.36 L208.45,333.62 L208.87,332.91 L209.29,332.21 L209.71,331.52 L210.14,330.85 L210.56,330.19 L210.98,329.54 L211.40,328.90 L211.40,328.90 L211.40,362.0 Z" fill="#332383"/>
<path d="M211.40,362.0 L211.40,348.20 L211.70,345.50 L212.00,343.50 L212.30,341.70 L212.60,340.01 L212.90,338.41 L213.20,336.88 L213.50,335.39 L213.80,333.95 L214.10,332.54 L214.40,331.16 L214.70,329.81 L215.00,328.49 L215.30,327.18 L215.60,325.90 L215.60,312.6 L215.60,362.0 Z" fill="#2ce6fd"/>
<path d="M211.40,362.0 L211.40,351.80 L211.40,349.80 L211.70,347.10 L212.00,345.10 L212.30,343.30 L212.60,341.61 L212.90,340.01 L213.20,338.48 L213.50,336.99 L213.80,335.55 L214.10,334.14 L214.40,332.76 L214.70,331.41 L215.00,330.09 L215.30,328.78 L215.60,327.50 L215.60,327.50 L215.60,362.0 Z" fill="#332383"/>
<path d="M215.60,362.0 L215.60,339.90 L216.04,337.61 L216.49,335.92 L216.93,334.39 L217.37,332.96 L217.81,331.61 L218.26,330.30 L218.70,329.04 L219.14,327.82 L219.59,326.63 L220.03,325.46 L220.47,324.32 L220.91,323.19 L221.36,322.09 L221.80,321.00 L221.80,312.6 L221.80,362.0 Z" fill="#2ce6fd"/>
<path d="M215.60,362.0 L215.60,343.50 L215.60,341.50 L216.04,339.21 L216.49,337.52 L216.93,335.99 L217.37,334.56 L217.81,333.21 L218.26,331.90 L218.70,330.64 L219.14,329.42 L219.59,328.23 L220.03,327.06 L220.47,325.92 L220.91,324.79 L221.36,323.69 L221.80,322.60 L221.80,322.60 L221.80,362.0 Z" fill="#332383"/>
<path d="M221.80,362.0 L221.80,348.20 L222.37,345.57 L222.94,343.92 L223.51,342.52 L224.09,341.25 L224.66,340.08 L225.23,338.97 L225.80,337.92 L226.37,336.91 L226.94,335.94 L227.51,335.00 L228.09,334.09 L228.66,333.21 L229.23,332.34 L229.80,331.50 L229.80,312.6 L229.80,362.0 Z" fill="#2ce6fd"/>
<path d="M221.80,362.0 L221.80,351.80 L221.80,349.80 L222.37,347.17 L222.94,345.52 L223.51,344.12 L224.09,342.85 L224.66,341.68 L225.23,340.57 L225.80,339.52 L226.37,338.51 L226.94,337.54 L227.51,336.60 L228.09,335.69 L228.66,334.81 L229.23,333.94 L229.80,333.10 L229.80,333.10 L229.80,362.0 Z" fill="#332383"/>
<path d="M229.80,362.0 L229.80,343.40 L230.56,339.10 L231.33,337.31 L232.09,335.95 L232.86,334.79 L233.62,333.78 L234.39,332.86 L235.15,332.02 L235.91,331.23 L236.68,330.49 L237.44,329.79 L238.21,329.13 L238.97,328.49 L239.74,327.89 L240.50,327.30 L240.50,312.6 L240.50,362.0 Z" fill="#2ce6fd"/>
<path d="M229.80,362.0 L229.80,347.00 L229.80,345.00 L230.56,340.70 L231.33,338.91 L232.09,337.55 L232.86,336.39 L233.62,335.38 L234.39,334.46 L235.15,333.62 L235.91,332.83 L236.68,332.09 L237.44,331.39 L238.21,330.73 L238.97,330.09 L239.74,329.49 L240.50,328.90 L240.50,328.90 L240.50,362.0 Z" fill="#332383"/>
<path d="M240.50,362.0 L240.50,348.20 L241.35,341.83 L242.20,339.49 L243.05,337.75 L243.90,336.31 L244.75,335.05 L245.60,333.93 L246.45,332.90 L247.30,331.95 L248.15,331.07 L249.00,330.24 L249.85,329.45 L250.70,328.70 L251.55,327.99 L252.40,327.30 L252.40,312.6 L252.40,362.0 Z" fill="#2ce6fd"/>
<path d="M240.50,362.0 L240.50,351.80 L240.50,349.80 L241.35,343.43 L242.20,341.09 L243.05,339.35 L243.90,337.91 L244.75,336.65 L245.60,335.53 L246.45,334.50 L247.30,333.55 L248.15,332.67 L249.00,331.84 L249.85,331.05 L250.70,330.30 L251.55,329.59 L252.40,328.90 L252.40,328.90 L252.40,362.0 Z" fill="#332383"/>
<path d="M252.40,362.0 L252.40,335.70 L252.96,333.85 L253.53,332.47 L254.09,331.24 L254.66,330.08 L255.22,328.99 L255.79,327.93 L256.35,326.91 L256.91,325.92 L257.48,324.96 L258.04,324.01 L258.61,323.08 L259.17,322.18 L259.74,321.28 L260.30,320.40 L262.40,312.60 L262.40,312.6 L262.40,362.0 Z" fill="#2ce6fd"/>
<path d="M252.40,362.0 L252.40,339.30 L252.40,337.30 L252.96,335.45 L253.53,334.07 L254.09,332.84 L254.66,331.68 L255.22,330.59 L255.79,329.53 L256.35,328.51 L256.91,327.52 L257.48,326.56 L258.04,325.61 L258.61,324.68 L259.17,323.78 L259.74,322.88 L260.30,322.00 L262.40,312.60 L262.40,312.60 L262.40,362.0 Z" fill="#332383"/>
<path d="M262.40,362.0 L262.40,345.40 L263.05,342.55 L263.70,340.76 L264.35,339.24 L265.00,337.87 L265.65,336.60 L266.30,335.40 L266.95,334.26 L267.60,333.17 L268.25,332.12 L268.90,331.10 L269.55,330.11 L270.20,329.15 L270.85,328.22 L271.50,327.30 L271.50,312.6 L271.50,362.0 Z" fill="#2ce6fd"/>
<path d="M262.40,362.0 L262.40,349.00 L262.40,347.00 L263.05,344.15 L263.70,342.36 L264.35,340.84 L265.00,339.47 L265.65,338.20 L266.30,337.00 L266.95,335.86 L267.60,334.77 L268.25,333.72 L268.90,332.70 L269.55,331.71 L270.20,330.75 L270.85,329.82 L271.50,328.90 L271.50,328.90 L271.50,362.0 Z" fill="#332383"/>
<path d="M271.50,362.0 L271.50,339.90 L271.93,338.37 L272.36,337.24 L272.79,336.23 L273.21,335.27 L273.64,334.37 L274.07,333.50 L274.50,332.66 L274.93,331.85 L275.36,331.05 L275.79,330.27 L276.21,329.51 L276.64,328.76 L277.07,328.03 L277.50,327.30 L277.50,312.6 L277.50,362.0 Z" fill="#2ce6fd"/>
<path d="M271.50,362.0 L271.50,343.50 L271.50,341.50 L271.93,339.97 L272.36,338.84 L272.79,337.83 L273.21,336.87 L273.64,335.97 L274.07,335.10 L274.50,334.26 L274.93,333.45 L275.36,332.65 L275.79,331.87 L276.21,331.11 L276.64,330.36 L277.07,329.63 L277.50,328.90 L277.50,328.90 L277.50,362.0 Z" fill="#332383"/>
<path d="M277.50,362.0 L277.50,346.80 L277.99,343.93 L278.49,341.80 L278.98,339.89 L279.47,338.10 L279.96,336.40 L280.46,334.77 L280.95,333.19 L281.44,331.65 L281.94,330.16 L282.43,328.69 L282.92,327.26 L283.41,325.85 L283.91,324.46 L284.40,323.10 L284.40,312.6 L284.40,362.0 Z" fill="#2ce6fd"/>
<path d="M277.50,362.0 L277.50,350.40 L277.50,348.40 L277.99,345.53 L278.49,343.40 L278.98,341.49 L279.47,339.70 L279.96,338.00 L280.46,336.37 L280.95,334.79 L281.44,333.25 L281.94,331.76 L282.43,330.29 L282.92,328.86 L283.41,327.45 L283.91,326.06 L284.40,324.70 L284.40,324.70 L284.40,362.0 Z" fill="#332383"/>
<path d="M284.40,362.0 L284.40,345.40 L284.92,342.37 L285.44,340.13 L285.96,338.11 L286.49,336.22 L287.01,334.43 L287.53,332.71 L288.05,331.04 L288.57,329.42 L289.09,327.84 L289.61,326.30 L290.14,324.79 L290.66,323.30 L291.18,321.84 L291.70,320.40 L291.70,312.6 L291.70,362.0 Z" fill="#2ce6fd"/>
<path d="M284.40,362.0 L284.40,349.00 L284.40,347.00 L284.92,343.97 L285.44,341.73 L285.96,339.71 L286.49,337.82 L287.01,336.03 L287.53,334.31 L288.05,332.64 L288.57,331.02 L289.09,329.44 L289.61,327.90 L290.14,326.39 L290.66,324.90 L291.18,323.44 L291.70,322.00 L291.70,322.00 L291.70,362.0 Z" fill="#332383"/>
<path d="M291.70,362.0 L291.70,339.20 L292.19,337.25 L292.67,335.81 L293.16,334.51 L293.64,333.29 L294.13,332.14 L294.61,331.03 L295.10,329.95 L295.59,328.91 L296.07,327.89 L296.56,326.90 L297.04,325.92 L297.53,324.97 L298.01,324.03 L298.50,323.10 L298.50,312.6 L298.50,362.0 Z" fill="#2ce6fd"/>
<path d="M291.70,362.0 L291.70,342.80 L291.70,340.80 L292.19,338.85 L292.67,337.41 L293.16,336.11 L293.64,334.89 L294.13,333.74 L294.61,332.63 L295.10,331.55 L295.59,330.51 L296.07,329.49 L296.56,328.50 L297.04,327.52 L297.53,326.57 L298.01,325.63 L298.50,324.70 L298.50,324.70 L298.50,362.0 Z" fill="#332383"/>
<path d="M298.50,362.0 L298.50,337.10 L299.07,335.03 L299.64,333.37 L300.21,331.84 L300.79,330.38 L301.36,328.97 L301.93,327.61 L302.50,326.28 L303.07,324.98 L303.64,323.71 L304.21,322.45 L304.79,321.21 L305.36,319.99 L305.93,318.79 L306.50,317.60 L306.50,312.6 L306.50,362.0 Z" fill="#2ce6fd"/>
<path d="M298.50,362.0 L298.50,340.70 L298.50,338.70 L299.07,336.63 L299.64,334.97 L300.21,333.44 L300.79,331.98 L301.36,330.57 L301.93,329.21 L302.50,327.88 L303.07,326.58 L303.64,325.31 L304.21,324.05 L304.79,322.81 L305.36,321.59 L305.93,320.39 L306.50,319.20 L306.50,319.20 L306.50,362.0 Z" fill="#332383"/>
<path d="M306.50,362.0 L306.50,339.90 L307.34,337.25 L308.19,334.95 L309.03,332.78 L309.87,330.67 L310.71,328.62 L311.56,326.61 L312.40,324.63 L313.24,322.68 L314.09,320.75 L314.93,318.85 L315.77,316.96 L316.61,315.09 L317.46,313.24 L318.30,312.60 L318.70,312.60 L318.70,312.6 L318.70,362.0 Z" fill="#2ce6fd"/>
<path d="M306.50,362.0 L306.50,343.50 L306.50,341.50 L307.34,338.85 L308.19,336.55 L309.03,334.38 L309.87,332.27 L310.71,330.22 L311.56,328.21 L312.40,326.23 L313.24,324.28 L314.09,322.35 L314.93,320.45 L315.77,318.56 L316.61,316.69 L317.46,314.84 L318.30,313.00 L318.70,312.60 L318.70,312.60 L318.70,362.0 Z" fill="#332383"/>
<path d="M318.70,362.0 L318.70,340.60 L319.22,338.07 L319.74,335.88 L320.26,333.80 L320.79,331.79 L321.31,329.83 L321.83,327.91 L322.35,326.02 L322.87,324.16 L323.39,322.32 L323.91,320.51 L324.44,318.71 L324.96,316.92 L325.48,315.15 L326.00,313.40 L326.00,312.6 L326.00,362.0 Z" fill="#2ce6fd"/>
<path d="M318.70,362.0 L318.70,344.20 L318.70,342.20 L319.22,339.67 L319.74,337.48 L320.26,335.40 L320.79,333.39 L321.31,331.43 L321.83,329.51 L322.35,327.62 L322.87,325.76 L323.39,323.92 L323.91,322.11 L324.44,320.31 L324.96,318.52 L325.48,316.75 L326.00,315.00 L326.00,315.00 L326.00,362.0 Z" fill="#332383"/>
<path d="M326.00,362.0 L326.00,332.90 L326.89,330.90 L327.79,329.17 L328.68,327.53 L329.57,325.94 L330.46,324.39 L331.36,322.87 L332.25,321.38 L333.14,319.91 L334.04,318.45 L334.93,317.02 L335.82,315.59 L336.71,314.19 L337.61,312.79 L338.50,312.60 L339.90,312.60 L339.90,312.6 L339.90,362.0 Z" fill="#2ce6fd"/>
<path d="M326.00,362.0 L326.00,336.50 L326.00,334.50 L326.89,332.50 L327.79,330.77 L328.68,329.13 L329.57,327.54 L330.46,325.99 L331.36,324.47 L332.25,322.98 L333.14,321.51 L334.04,320.05 L334.93,318.62 L335.82,317.19 L336.71,315.79 L337.61,314.39 L338.50,313.00 L339.90,312.60 L339.90,312.60 L339.90,362.0 Z" fill="#332383"/>
<path d="M339.90,362.0 L339.90,342.70 L340.30,339.84 L340.70,337.37 L341.10,335.03 L341.50,332.76 L341.90,330.55 L342.30,328.38 L342.70,326.25 L343.10,324.15 L343.50,322.07 L343.90,320.02 L344.30,317.99 L344.70,315.98 L345.10,313.98 L345.50,312.60 L345.50,312.6 L345.50,362.0 Z" fill="#2ce6fd"/>
<path d="M339.90,362.0 L339.90,346.30 L339.90,344.30 L340.30,341.44 L340.70,338.97 L341.10,336.63 L341.50,334.36 L341.90,332.15 L342.30,329.98 L342.70,327.85 L343.10,325.75 L343.50,323.67 L343.90,321.62 L344.30,319.59 L344.70,317.58 L345.10,315.58 L345.50,313.60 L345.50,313.60 L345.50,362.0 Z" fill="#332383"/>
<path d="M345.50,362.0 L345.50,339.90 L345.92,337.09 L346.34,334.83 L346.76,332.75 L347.19,330.76 L347.61,328.86 L348.03,327.00 L348.45,325.20 L348.87,323.43 L349.29,321.70 L349.71,319.99 L350.14,318.31 L350.56,316.65 L350.98,315.02 L351.40,313.40 L351.40,312.6 L351.40,362.0 Z" fill="#2ce6fd"/>
<path d="M345.50,362.0 L345.50,343.50 L345.50,341.50 L345.92,338.69 L346.34,336.43 L346.76,334.35 L347.19,332.36 L347.61,330.46 L348.03,328.60 L348.45,326.80 L348.87,325.03 L349.29,323.30 L349.71,321.59 L350.14,319.91 L350.56,318.25 L350.98,316.62 L351.40,315.00 L351.40,315.00 L351.40,362.0 Z" fill="#332383"/>
<path d="M351.40,362.0 L351.40,334.30 L352.04,329.08 L352.67,326.65 L353.31,324.74 L353.94,323.10 L354.58,321.64 L355.21,320.31 L355.85,319.07 L356.49,317.91 L357.12,316.81 L357.76,315.77 L358.39,314.77 L359.03,313.81 L359.66,312.89 L360.30,312.60 L360.30,312.6 L360.30,362.0 Z" fill="#2ce6fd"/>
<path d="M351.40,362.0 L351.40,337.90 L351.40,335.90 L352.04,330.68 L352.67,328.25 L353.31,326.34 L353.94,324.70 L354.58,323.24 L355.21,321.91 L355.85,320.67 L356.49,319.51 L357.12,318.41 L357.76,317.37 L358.39,316.37 L359.03,315.41 L359.66,314.49 L360.30,313.60 L360.30,313.60 L360.30,362.0 Z" fill="#332383"/>
<path d="M360.30,362.0 L360.30,340.60 L360.96,338.22 L361.63,336.00 L362.29,333.84 L362.96,331.72 L363.62,329.62 L364.29,327.54 L364.95,325.49 L365.61,323.44 L366.28,321.41 L366.94,319.39 L367.61,317.38 L368.27,315.38 L368.94,313.39 L369.60,312.60 L371.50,312.60 L371.50,312.6 L371.50,362.0 Z" fill="#2ce6fd"/>
<path d="M360.30,362.0 L360.30,344.20 L360.30,342.20 L360.96,339.82 L361.63,337.60 L362.29,335.44 L362.96,333.32 L363.62,331.22 L364.29,329.14 L364.95,327.09 L365.61,325.04 L366.28,323.01 L366.94,320.99 L367.61,318.98 L368.27,316.98 L368.94,314.99 L369.60,313.00 L371.50,312.60 L371.50,312.60 L371.50,362.0 Z" fill="#332383"/>
<path d="M371.50,362.0 L371.50,334.30 L372.31,328.18 L373.13,325.64 L373.94,323.70 L374.76,322.06 L375.57,320.61 L376.39,319.31 L377.20,318.11 L378.01,316.99 L378.83,315.94 L379.64,314.95 L380.46,314.00 L381.27,313.10 L382.09,312.60 L382.90,312.60 L383.60,312.60 L383.60,312.6 L383.60,362.0 Z" fill="#2ce6fd"/>
<path d="M371.50,362.0 L371.50,337.90 L371.50,335.90 L372.31,329.78 L373.13,327.24 L373.94,325.30 L374.76,323.66 L375.57,322.21 L376.39,320.91 L377.20,319.71 L378.01,318.59 L378.83,317.54 L379.64,316.55 L380.46,315.60 L381.27,314.70 L382.09,313.83 L382.90,313.00 L383.60,312.60 L383.60,312.60 L383.60,362.0 Z" fill="#332383"/>
<path d="M383.60,362.0 L383.60,335.70 L384.25,327.24 L384.90,324.54 L385.55,322.58 L386.20,320.98 L386.85,319.60 L387.50,318.39 L388.15,317.28 L388.80,316.27 L389.45,315.34 L390.10,314.46 L390.75,313.63 L391.40,312.85 L392.05,312.60 L392.70,312.60 L393.80,312.60 L393.80,312.6 L393.80,362.0 Z" fill="#2ce6fd"/>
<path d="M383.60,362.0 L383.60,339.30 L383.60,337.30 L384.25,328.84 L384.90,326.14 L385.55,324.18 L386.20,322.58 L386.85,321.20 L387.50,319.99 L388.15,318.88 L388.80,317.87 L389.45,316.94 L390.10,316.06 L390.75,315.23 L391.40,314.45 L392.05,313.71 L392.70,313.00 L393.80,312.60 L393.80,312.60 L393.80,362.0 Z" fill="#332383"/>
<path d="M393.80,362.0 L393.80,339.20 L394.38,336.16 L394.96,333.91 L395.54,331.88 L396.11,329.99 L396.69,328.19 L397.27,326.46 L397.85,324.78 L398.43,323.16 L399.01,321.57 L399.59,320.02 L400.16,318.50 L400.74,317.01 L401.32,315.54 L401.90,314.10 L401.90,312.6 L401.90,362.0 Z" fill="#2ce6fd"/>
<path d="M393.80,362.0 L393.80,342.80 L393.80,340.80 L394.38,337.76 L394.96,335.51 L395.54,333.48 L396.11,331.59 L396.69,329.79 L397.27,328.06 L397.85,326.38 L398.43,324.76 L399.01,323.17 L399.59,321.62 L400.16,320.10 L400.74,318.61 L401.32,317.14 L401.90,315.70 L401.90,315.70 L401.90,362.0 Z" fill="#332383"/>
<path d="M401.90,362.0 L401.90,336.40 L402.61,331.99 L403.31,329.71 L404.02,327.87 L404.73,326.26 L405.44,324.81 L406.14,323.47 L406.85,322.22 L407.56,321.03 L408.26,319.91 L408.97,318.83 L409.68,317.80 L410.39,316.80 L411.09,315.84 L411.80,314.90 L411.80,312.6 L411.80,362.0 Z" fill="#2ce6fd"/>
<path d="M401.90,362.0 L401.90,340.00 L401.90,338.00 L402.61,333.59 L403.31,331.31 L404.02,329.47 L404.73,327.86 L405.44,326.41 L406.14,325.07 L406.85,323.82 L407.56,322.63 L408.26,321.51 L408.97,320.43 L409.68,319.40 L410.39,318.40 L411.09,317.44 L411.80,316.50 L411.80,316.50 L411.80,362.0 Z" fill="#332383"/>
<path d="M411.80,362.0 L411.80,336.40 L412.45,332.46 L413.10,330.00 L413.75,327.90 L414.40,326.00 L415.05,324.24 L415.70,322.58 L416.35,321.01 L417.00,319.50 L417.65,318.05 L418.30,316.65 L418.95,315.28 L419.60,313.96 L420.25,312.66 L420.90,312.60 L422.70,312.60 L422.70,312.6 L422.70,362.0 Z" fill="#2ce6fd"/>
<path d="M411.80,362.0 L411.80,340.00 L411.80,338.00 L412.45,334.06 L413.10,331.60 L413.75,329.50 L414.40,327.60 L415.05,325.84 L415.70,324.18 L416.35,322.61 L417.00,321.10 L417.65,319.65 L418.30,318.25 L418.95,316.88 L419.60,315.56 L420.25,314.26 L420.90,313.00 L422.70,312.60 L422.70,312.60 L422.70,362.0 Z" fill="#332383"/>
<path d="M422.70,362.0 L422.70,339.80 L423.49,336.06 L424.29,333.50 L425.08,331.26 L425.87,329.21 L426.66,327.28 L427.46,325.45 L428.25,323.69 L429.04,321.99 L429.84,320.34 L430.63,318.74 L431.42,317.18 L432.21,315.66 L433.01,314.17 L433.80,312.70 L433.80,312.6 L433.80,362.0 Z" fill="#2ce6fd"/>
<path d="M422.70,362.0 L422.70,343.40 L422.70,341.40 L423.49,337.66 L424.29,335.10 L425.08,332.86 L425.87,330.81 L426.66,328.88 L427.46,327.05 L428.25,325.29 L429.04,323.59 L429.84,321.94 L430.63,320.34 L431.42,318.78 L432.21,317.26 L433.01,315.77 L433.80,314.30 L433.80,314.30 L433.80,362.0 Z" fill="#332383"/>
<path d="M433.80,362.0 L433.80,336.40 L434.29,333.22 L434.79,331.06 L435.28,329.16 L435.77,327.41 L436.26,325.77 L436.76,324.22 L437.25,322.72 L437.74,321.28 L438.24,319.89 L438.73,318.53 L439.22,317.21 L439.71,315.91 L440.21,314.64 L440.70,313.40 L440.70,312.6 L440.70,362.0 Z" fill="#2ce6fd"/>
<path d="M433.80,362.0 L433.80,340.00 L433.80,338.00 L434.29,334.82 L434.79,332.66 L435.28,330.76 L435.77,329.01 L436.26,327.37 L436.76,325.82 L437.25,324.32 L437.74,322.88 L438.24,321.49 L438.73,320.13 L439.22,318.81 L439.71,317.51 L440.21,316.24 L440.70,315.00 L440.70,315.00 L440.70,362.0 Z" fill="#332383"/>
<path d="M440.70,362.0 L440.70,341.20 L441.27,336.71 L441.84,333.90 L442.41,331.51 L442.99,329.34 L443.56,327.34 L444.13,325.45 L444.70,323.66 L445.27,321.94 L445.84,320.28 L446.41,318.68 L446.99,317.13 L447.56,315.62 L448.13,314.14 L448.70,312.70 L448.70,312.6 L448.70,362.0 Z" fill="#2ce6fd"/>
<path d="M440.70,362.0 L440.70,344.80 L440.70,342.80 L441.27,338.31 L441.84,335.50 L442.41,333.11 L442.99,330.94 L443.56,328.94 L444.13,327.05 L444.70,325.26 L445.27,323.54 L445.84,321.88 L446.41,320.28 L446.99,318.73 L447.56,317.22 L448.13,315.74 L448.70,314.30 L448.70,314.30 L448.70,362.0 Z" fill="#332383"/>
<rect x="181.6" y="312.6" width="267.1" height="0.7" fill="#b46cce" opacity="0.7"/>
<line x1="36.4" y1="312.6" x2="36.4" y2="362.0" stroke="#15122a" stroke-width="0.7" opacity="0.9"/>
<line x1="66.2" y1="312.6" x2="66.2" y2="362.0" stroke="#15122a" stroke-width="0.7" opacity="0.9"/>
<line x1="85.5" y1="312.6" x2="85.5" y2="362.0" stroke="#15122a" stroke-width="0.7" opacity="0.9"/>
<line x1="108.6" y1="312.6" x2="108.6" y2="362.0" stroke="#15122a" stroke-width="0.7" opacity="0.9"/>
<line x1="116.4" y1="312.6" x2="116.4" y2="362.0" stroke="#15122a" stroke-width="0.7" opacity="0.9"/>
<line x1="147.4" y1="312.6" x2="147.4" y2="362.0" stroke="#15122a" stroke-width="0.7" opacity="0.9"/>
<line x1="181.7" y1="312.6" x2="181.7" y2="362.0" stroke="#15122a" stroke-width="0.7" opacity="0.9"/>
<line x1="187.7" y1="312.6" x2="187.7" y2="362.0" stroke="#15122a" stroke-width="0.7" opacity="0.9"/>
<line x1="193.5" y1="312.6" x2="193.5" y2="362.0" stroke="#15122a" stroke-width="0.7" opacity="0.9"/>
<line x1="200.6" y1="312.6" x2="200.6" y2="362.0" stroke="#15122a" stroke-width="0.7" opacity="0.9"/>
<line x1="205.5" y1="312.6" x2="205.5" y2="362.0" stroke="#15122a" stroke-width="0.7" opacity="0.9"/>
<line x1="211.4" y1="312.6" x2="211.4" y2="362.0" stroke="#15122a" stroke-width="0.7" opacity="0.9"/>
<line x1="215.6" y1="312.6" x2="215.6" y2="362.0" stroke="#15122a" stroke-width="0.7" opacity="0.9"/>
<line x1="221.8" y1="312.6" x2="221.8" y2="362.0" stroke="#15122a" stroke-width="0.7" opacity="0.9"/>
<line x1="229.8" y1="312.6" x2="229.8" y2="362.0" stroke="#15122a" stroke-width="0.7" opacity="0.9"/>
<line x1="240.5" y1="312.6" x2="240.5" y2="362.0" stroke="#15122a" stroke-width="0.7" opacity="0.9"/>
<line x1="252.4" y1="312.6" x2="252.4" y2="362.0" stroke="#15122a" stroke-width="0.7" opacity="0.9"/>
<line x1="262.4" y1="312.6" x2="262.4" y2="362.0" stroke="#15122a" stroke-width="0.7" opacity="0.9"/>
<line x1="271.5" y1="312.6" x2="271.5" y2="362.0" stroke="#15122a" stroke-width="0.7" opacity="0.9"/>
<line x1="277.5" y1="312.6" x2="277.5" y2="362.0" stroke="#15122a" stroke-width="0.7" opacity="0.9"/>
<line x1="284.4" y1="312.6" x2="284.4" y2="362.0" stroke="#15122a" stroke-width="0.7" opacity="0.9"/>
<line x1="291.7" y1="312.6" x2="291.7" y2="362.0" stroke="#15122a" stroke-width="0.7" opacity="0.9"/>
<line x1="298.5" y1="312.6" x2="298.5" y2="362.0" stroke="#15122a" stroke-width="0.7" opacity="0.9"/>
<line x1="306.5" y1="312.6" x2="306.5" y2="362.0" stroke="#15122a" stroke-width="0.7" opacity="0.9"/>
<line x1="318.7" y1="312.6" x2="318.7" y2="362.0" stroke="#15122a" stroke-width="0.7" opacity="0.9"/>
<line x1="326.0" y1="312.6" x2="326.0" y2="362.0" stroke="#15122a" stroke-width="0.7" opacity="0.9"/>
<line x1="339.9" y1="312.6" x2="339.9" y2="362.0" stroke="#15122a" stroke-width="0.7" opacity="0.9"/>
<line x1="345.5" y1="312.6" x2="345.5" y2="362.0" stroke="#15122a" stroke-width="0.7" opacity="0.9"/>
<line x1="351.4" y1="312.6" x2="351.4" y2="362.0" stroke="#15122a" stroke-width="0.7" opacity="0.9"/>
<line x1="360.3" y1="312.6" x2="360.3" y2="362.0" stroke="#15122a" stroke-width="0.7" opacity="0.9"/>
<line x1="371.5" y1="312.6" x2="371.5" y2="362.0" stroke="#15122a" stroke-width="0.7" opacity="0.9"/>
<line x1="383.6" y1="312.6" x2="383.6" y2="362.0" stroke="#15122a" stroke-width="0.7" opacity="0.9"/>
<line x1="393.8" y1="312.6" x2="393.8" y2="362.0" stroke="#15122a" stroke-width="0.7" opacity="0.9"/>
<line x1="401.9" y1="312.6" x2="401.9" y2="362.0" stroke="#15122a" stroke-width="0.7" opacity="0.9"/>
<line x1="411.8" y1="312.6" x2="411.8" y2="362.0" stroke="#15122a" stroke-width="0.7" opacity="0.9"/>
<line x1="422.7" y1="312.6" x2="422.7" y2="362.0" stroke="#15122a" stroke-width="0.7" opacity="0.9"/>
<line x1="433.8" y1="312.6" x2="433.8" y2="362.0" stroke="#15122a" stroke-width="0.7" opacity="0.9"/>
<line x1="440.7" y1="312.6" x2="440.7" y2="362.0" stroke="#15122a" stroke-width="0.7" opacity="0.9"/>
<line x1="448.7" y1="312.6" x2="448.7" y2="362.0" stroke="#15122a" stroke-width="0.7" opacity="0.9"/>
<line x1="35.9" y1="362.1" x2="448.9" y2="362.1" stroke="#333" stroke-width="0.7"/>
<line x1="36.1" y1="312.6" x2="36.1" y2="362.4" stroke="#333" stroke-width="0.6"/>
<text font-size="7" text-anchor="end" fill="#231f20" transform="translate(52.6 370.2) rotate(-45)">Africa</text>
<text font-size="7" text-anchor="end" fill="#231f20" transform="translate(77.4 370.2) rotate(-45)">Americas</text>
<text font-size="7" text-anchor="end" fill="#231f20" transform="translate(98.5 370.2) rotate(-45)">Europe</text>
<text font-size="7" text-anchor="end" fill="#231f20" transform="translate(113.4 370.2) rotate(-45)">Middle East</text>
<text font-size="7" text-anchor="end" fill="#231f20" transform="translate(134.0 370.2) rotate(-45)">South Asia</text>
<text font-size="7" text-anchor="end" fill="#231f20" transform="translate(165.5 370.2) rotate(-45)">East Asia</text>
<text font-size="7" text-anchor="end" fill="#231f20" transform="translate(179.9 370.2) rotate(-45)">Baja California</text>
<text font-size="7" text-anchor="end" fill="#231f20" transform="translate(188.3 370.2) rotate(-45)">Baja California Sur</text>
<text font-size="7" text-anchor="end" fill="#231f20" transform="translate(197.3 370.2) rotate(-45)">Sonora</text>
<text font-size="7" text-anchor="end" fill="#231f20" transform="translate(204.5 370.2) rotate(-45)">Chihuahua</text>
<text font-size="7" text-anchor="end" fill="#231f20" transform="translate(210.5 370.2) rotate(-45)">Coahuila</text>
<text font-size="7" text-anchor="end" fill="#231f20" transform="translate(218.8 370.2) rotate(-45)">Nuevo Leon</text>
<text font-size="7" text-anchor="end" fill="#231f20" transform="translate(226.0 370.2) rotate(-45)">Tamaulipas</text>
<text font-size="7" text-anchor="end" fill="#231f20" transform="translate(233.6 370.2) rotate(-45)">Sinaloa</text>
<text font-size="7" text-anchor="end" fill="#231f20" transform="translate(242.9 370.2) rotate(-45)">Durango</text>
<text font-size="7" text-anchor="end" fill="#231f20" transform="translate(251.9 370.2) rotate(-45)">Zacatecas</text>
<text font-size="7" text-anchor="end" fill="#231f20" transform="translate(259.7 370.2) rotate(-45)">San Luis Potosi</text>
<text font-size="7" text-anchor="end" fill="#231f20" transform="translate(267.8 370.2) rotate(-45)">Nayarit</text>
<text font-size="7" text-anchor="end" fill="#231f20" transform="translate(275.8 370.2) rotate(-45)">Aguascalientes</text>
<text font-size="7" text-anchor="end" fill="#231f20" transform="translate(283.2 370.2) rotate(-45)">Jalisco</text>
<text font-size="7" text-anchor="end" fill="#231f20" transform="translate(290.5 370.2) rotate(-45)">Colima</text>
<text font-size="7" text-anchor="end" fill="#231f20" transform="translate(298.3 370.2) rotate(-45)">Guanajuato</text>
<text font-size="7" text-anchor="end" fill="#231f20" transform="translate(307.1 370.2) rotate(-45)">Queretaro</text>
<text font-size="7" text-anchor="end" fill="#231f20" transform="translate(315.3 370.2) rotate(-45)">Veracruz</text>
<text font-size="7" text-anchor="end" fill="#231f20" transform="translate(325.7 370.2) rotate(-45)">Michoacan</text>
<text font-size="7" text-anchor="end" fill="#231f20" transform="translate(334.0 370.2) rotate(-45)">Hidalgo</text>
<text font-size="7" text-anchor="end" fill="#231f20" transform="translate(343.0 370.2) rotate(-45)">Mexico City</text>
<text font-size="7" text-anchor="end" fill="#231f20" transform="translate(352.6 370.2) rotate(-45)">State of Mexico</text>
<text font-size="7" text-anchor="end" fill="#231f20" transform="translate(361.7 370.2) rotate(-45)">Tlaxcala</text>
<text font-size="7" text-anchor="end" fill="#231f20" transform="translate(372.2 370.2) rotate(-45)">Guerrero</text>
<text font-size="7" text-anchor="end" fill="#231f20" transform="translate(383.3 370.2) rotate(-45)">Puebla</text>
<text font-size="7" text-anchor="end" fill="#231f20" transform="translate(392.6 370.2) rotate(-45)">Oaxaca</text>
<text font-size="7" text-anchor="end" fill="#231f20" transform="translate(401.3 370.2) rotate(-45)">Morelos</text>
<text font-size="7" text-anchor="end" fill="#231f20" transform="translate(410.7 370.2) rotate(-45)">Tabasco</text>
<text font-size="7" text-anchor="end" fill="#231f20" transform="translate(420.0 370.2) rotate(-45)">Chiapas</text>
<text font-size="7" text-anchor="end" fill="#231f20" transform="translate(431.2 370.2) rotate(-45)">Campeche</text>
<text font-size="7" text-anchor="end" fill="#231f20" transform="translate(441.7 370.2) rotate(-45)">Yucatan</text>
<text font-size="7" text-anchor="end" fill="#231f20" transform="translate(451.6 370.2) rotate(-45)">Quintana Roo</text>
</svg>
</body></html>
